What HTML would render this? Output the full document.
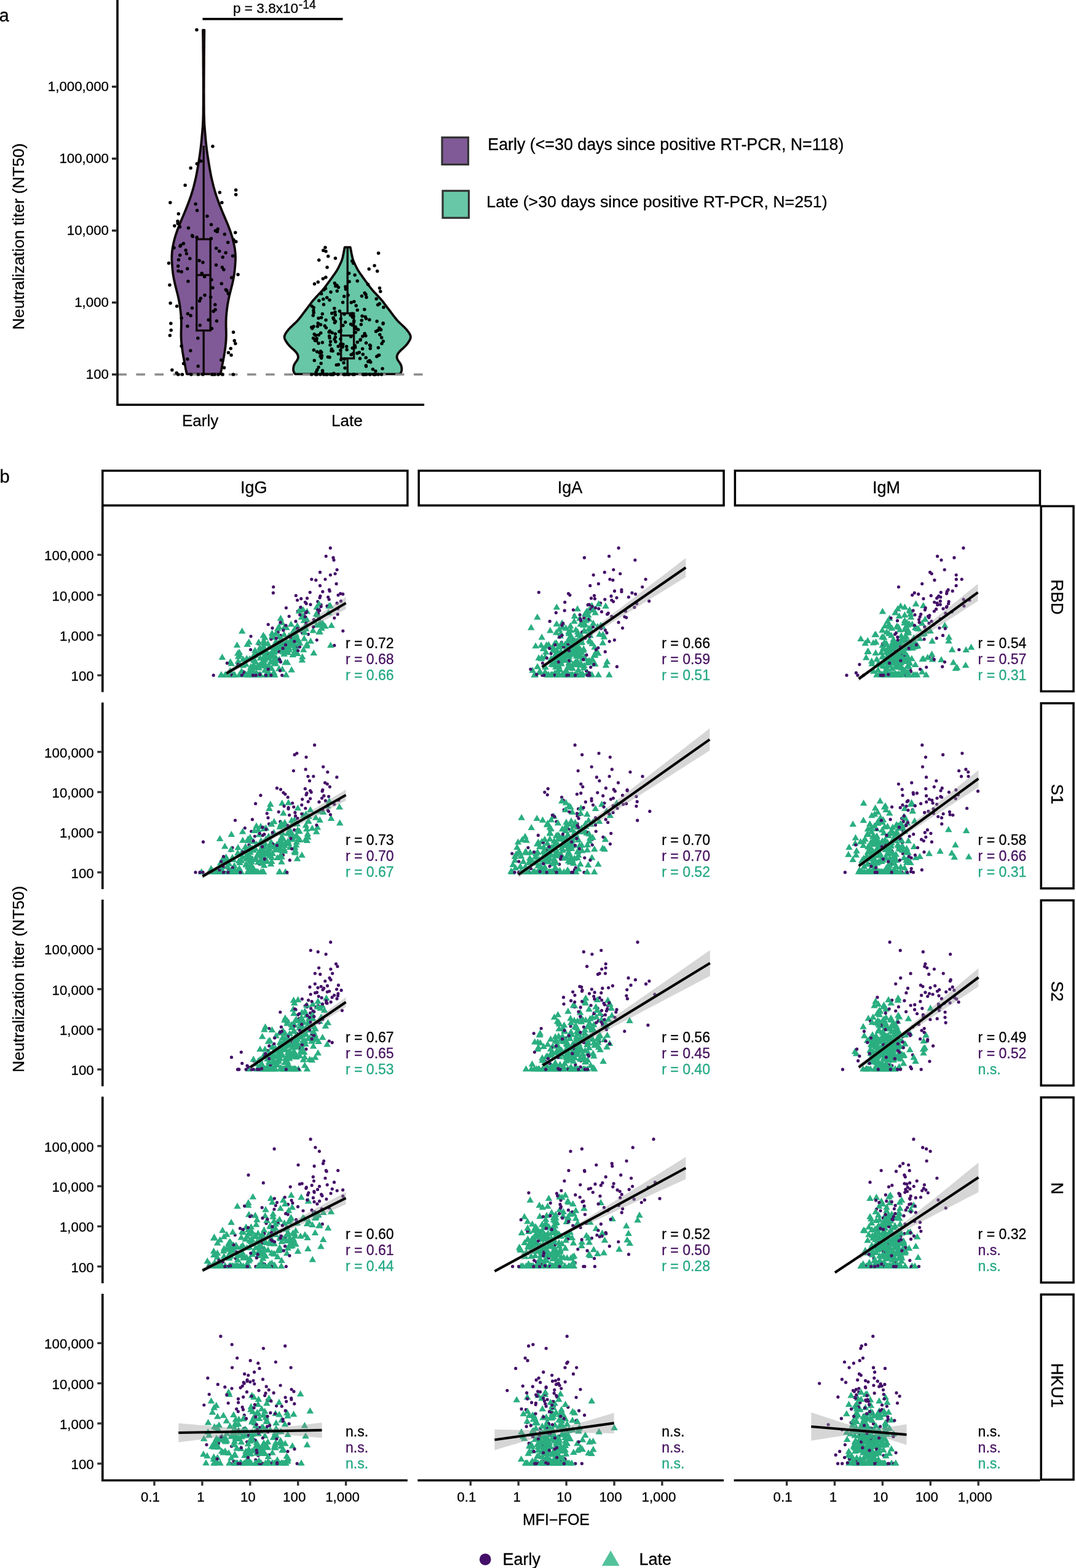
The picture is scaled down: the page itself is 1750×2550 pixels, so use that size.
<!DOCTYPE html>
<html><head><meta charset="utf-8"><title>Figure</title>
<style>html,body{margin:0;padding:0;background:#fff;}svg{display:block;}text{font-family:"Liberation Sans", Arial, Helvetica, sans-serif;stroke:#000;stroke-width:.3px;}</style>
</head><body>
<svg width="1750" height="2550" viewBox="0 0 1750 2550">
<rect width="1750" height="2550" fill="#fff"/>
<g id="pa">
<path d="M330 49 L330.1 56.1 L330.2 63.2 L330.3 70.2 L330.3 77.3 L330.4 84.4 L330.5 91.5 L330.5 98.6 L330.5 105.6 L330.6 112.7 L330.6 119.8 L330.7 126.9 L330.7 134 L330.7 141.1 L330.8 148.1 L330.7 155.2 L330.7 162.3 L330.7 169.4 L330.6 176.5 L330.6 183.5 L330.4 190.6 L330.2 197.7 L329.8 204.8 L329.2 211.9 L328.6 218.9 L328 226 L327.3 233.1 L326.5 240.2 L325.6 247.3 L324.6 254.3 L323.5 261.4 L322.3 268.5 L321.1 275.6 L319.8 282.7 L318.4 289.8 L316.7 296.8 L314.9 303.9 L312.9 311 L310.7 318.1 L308.2 325.2 L305.6 332.2 L302.8 339.3 L299.9 346.4 L296.9 353.5 L293.9 360.6 L291 367.6 L288.3 374.7 L285.9 381.8 L283.8 388.9 L282.1 396 L280.7 403.1 L279.8 410.1 L279.4 417.2 L279.5 424.3 L280 431.4 L280.6 438.5 L281.4 445.5 L282.6 452.6 L284.1 459.7 L285.8 466.8 L287.6 473.9 L289.4 480.9 L290.9 488 L292.2 495.1 L293.2 502.2 L294 509.3 L294.6 516.3 L294.8 523.4 L294.8 530.5 L294.6 537.6 L294.5 544.7 L294.7 551.8 L295.2 558.8 L296.1 565.9 L297.1 573 L298.3 580.1 L299.6 587.2 L301 594.2 L302.3 601.3 L303.9 608.4 L358.5 608.4 L360.1 601.3 L361.4 594.2 L362.8 587.2 L364.1 580.1 L365.3 573 L366.3 565.9 L367.2 558.8 L367.7 551.8 L367.9 544.7 L367.8 537.6 L367.6 530.5 L367.6 523.4 L367.8 516.3 L368.4 509.3 L369.2 502.2 L370.2 495.1 L371.5 488 L373 480.9 L374.8 473.9 L376.6 466.8 L378.3 459.7 L379.8 452.6 L381 445.5 L381.8 438.5 L382.4 431.4 L382.9 424.3 L383 417.2 L382.6 410.1 L381.7 403.1 L380.3 396 L378.6 388.9 L376.5 381.8 L374.1 374.7 L371.4 367.6 L368.5 360.6 L365.5 353.5 L362.5 346.4 L359.6 339.3 L356.8 332.2 L354.2 325.2 L351.7 318.1 L349.5 311 L347.5 303.9 L345.7 296.8 L344 289.8 L342.6 282.7 L341.3 275.6 L340.1 268.5 L338.9 261.4 L337.8 254.3 L336.8 247.3 L335.9 240.2 L335.1 233.1 L334.4 226 L333.8 218.9 L333.2 211.9 L332.6 204.8 L332.2 197.7 L332 190.6 L331.8 183.5 L331.8 176.5 L331.7 169.4 L331.7 162.3 L331.7 155.2 L331.6 148.1 L331.7 141.1 L331.7 134 L331.7 126.9 L331.8 119.8 L331.8 112.7 L331.9 105.6 L331.9 98.6 L331.9 91.5 L332 84.4 L332.1 77.3 L332.1 70.2 L332.2 63.2 L332.3 56.1 L332.4 49 Z" fill="#805a97" stroke="#100808" stroke-width="3.8" stroke-linejoin="round"/>
<path d="M560.7 402.2 L560.1 404.8 L559.6 407.4 L559.1 410 L558.6 412.6 L558 415.3 L557.5 417.9 L556.8 420.5 L556 423.1 L555 425.7 L553.8 428.3 L552.6 430.9 L551.3 433.5 L550 436.1 L548.6 438.7 L547 441.4 L545.2 444 L543.4 446.6 L541.5 449.2 L539.7 451.8 L537.8 454.4 L535.9 457 L534 459.6 L532.1 462.2 L530.1 464.8 L528.2 467.5 L526.1 470.1 L523.9 472.7 L521.6 475.3 L519.1 477.9 L516.6 480.5 L514.2 483.1 L511.8 485.7 L509.5 488.3 L507.4 490.9 L505.4 493.6 L503.4 496.2 L501.4 498.8 L499.5 501.4 L497.5 504 L495.5 506.6 L493.6 509.2 L491.6 511.8 L489.7 514.4 L487.6 517 L485.5 519.7 L483.1 522.3 L480.5 524.9 L477.7 527.5 L475 530.1 L472.3 532.7 L469.8 535.3 L467.6 537.9 L465.7 540.5 L464.1 543.1 L462.9 545.8 L462.5 548.4 L463.1 551 L464.3 553.6 L465.9 556.2 L467.7 558.8 L469.8 561.4 L472.3 564 L475.1 566.6 L478 569.2 L480.7 571.9 L482.8 574.5 L484.2 577.1 L484.9 579.7 L484.8 582.3 L483.7 584.9 L482.1 587.5 L480.2 590.1 L478.7 592.7 L477.7 595.3 L477.2 598 L477 600.6 L477.3 603.2 L478.1 605.8 L480.2 608.4 L650.2 608.4 L652.3 605.8 L653.1 603.2 L653.4 600.6 L653.2 598 L652.7 595.3 L651.7 592.7 L650.2 590.1 L648.3 587.5 L646.7 584.9 L645.6 582.3 L645.5 579.7 L646.2 577.1 L647.6 574.5 L649.7 571.9 L652.4 569.2 L655.3 566.6 L658.1 564 L660.6 561.4 L662.7 558.8 L664.5 556.2 L666.1 553.6 L667.3 551 L667.9 548.4 L667.5 545.8 L666.3 543.1 L664.7 540.5 L662.8 537.9 L660.6 535.3 L658.1 532.7 L655.4 530.1 L652.7 527.5 L649.9 524.9 L647.3 522.3 L644.9 519.7 L642.8 517 L640.7 514.4 L638.8 511.8 L636.8 509.2 L634.9 506.6 L632.9 504 L630.9 501.4 L629 498.8 L627 496.2 L625 493.6 L623 490.9 L620.9 488.3 L618.6 485.7 L616.2 483.1 L613.8 480.5 L611.3 477.9 L608.8 475.3 L606.5 472.7 L604.3 470.1 L602.2 467.5 L600.3 464.8 L598.3 462.2 L596.4 459.6 L594.5 457 L592.6 454.4 L590.7 451.8 L588.9 449.2 L587 446.6 L585.2 444 L583.4 441.4 L581.8 438.7 L580.4 436.1 L579.1 433.5 L577.8 430.9 L576.6 428.3 L575.4 425.7 L574.4 423.1 L573.6 420.5 L572.9 417.9 L572.4 415.3 L571.8 412.6 L571.3 410 L570.8 407.4 L570.3 404.8 L569.7 402.2 Z" fill="#68c7a7" stroke="#100808" stroke-width="3.8" stroke-linejoin="round"/>
<path d="M331.2 237 V389 M331.2 537.5 V609" stroke="#100808" stroke-width="3.4" fill="none"/>
<rect x="319.8" y="389" width="22.4" height="148.5" fill="none" stroke="#100808" stroke-width="3.4"/>
<path d="M319.8 447.3 H342.2" stroke="#100808" stroke-width="3.4"/>
<path d="M565.2 402.5 V509.5 M565.2 582.8 V609" stroke="#100808" stroke-width="3.4" fill="none"/>
<rect x="554.6" y="509.5" width="21" height="73.3" fill="none" stroke="#100808" stroke-width="3.4"/>
<path d="M554.6 545.7 H575.6" stroke="#100808" stroke-width="3.4"/>
<path d="M191.3 609 H690" stroke="#8c8c8c" stroke-width="3.6" stroke-dasharray="14.6 15.5"/>
<path d="M319.7 609a2.75 2.75 0 1 0 5.5 0a2.75 2.75 0 1 0 -5.5 0zM359.4 609a2.75 2.75 0 1 0 5.5 0a2.75 2.75 0 1 0 -5.5 0zM352.3 609a2.75 2.75 0 1 0 5.5 0a2.75 2.75 0 1 0 -5.5 0zM293.7 609a2.75 2.75 0 1 0 5.5 0a2.75 2.75 0 1 0 -5.5 0zM287.1 609a2.75 2.75 0 1 0 5.5 0a2.75 2.75 0 1 0 -5.5 0zM308.1 609a2.75 2.75 0 1 0 5.5 0a2.75 2.75 0 1 0 -5.5 0zM359 609a2.75 2.75 0 1 0 5.5 0a2.75 2.75 0 1 0 -5.5 0zM327.1 609a2.75 2.75 0 1 0 5.5 0a2.75 2.75 0 1 0 -5.5 0zM376.7 609a2.75 2.75 0 1 0 5.5 0a2.75 2.75 0 1 0 -5.5 0zM346.3 609a2.75 2.75 0 1 0 5.5 0a2.75 2.75 0 1 0 -5.5 0zM342.2 609a2.75 2.75 0 1 0 5.5 0a2.75 2.75 0 1 0 -5.5 0zM359 609a2.75 2.75 0 1 0 5.5 0a2.75 2.75 0 1 0 -5.5 0zM357 585.5a2.75 2.75 0 1 0 5.5 0a2.75 2.75 0 1 0 -5.5 0zM310.6 384.5a2.75 2.75 0 1 0 5.5 0a2.75 2.75 0 1 0 -5.5 0zM300.7 412.6a2.75 2.75 0 1 0 5.5 0a2.75 2.75 0 1 0 -5.5 0zM321.3 423.8a2.75 2.75 0 1 0 5.5 0a2.75 2.75 0 1 0 -5.5 0zM327.2 426.7a2.75 2.75 0 1 0 5.5 0a2.75 2.75 0 1 0 -5.5 0zM287.6 347.8a2.75 2.75 0 1 0 5.5 0a2.75 2.75 0 1 0 -5.5 0zM321.8 489.4a2.75 2.75 0 1 0 5.5 0a2.75 2.75 0 1 0 -5.5 0zM344.4 506.2a2.75 2.75 0 1 0 5.5 0a2.75 2.75 0 1 0 -5.5 0zM286.9 432.8a2.75 2.75 0 1 0 5.5 0a2.75 2.75 0 1 0 -5.5 0zM287.2 440.7a2.75 2.75 0 1 0 5.5 0a2.75 2.75 0 1 0 -5.5 0zM291.3 398.7a2.75 2.75 0 1 0 5.5 0a2.75 2.75 0 1 0 -5.5 0zM303.7 370.8a2.75 2.75 0 1 0 5.5 0a2.75 2.75 0 1 0 -5.5 0zM381.1 393a2.75 2.75 0 1 0 5.5 0a2.75 2.75 0 1 0 -5.5 0zM274.4 492.9a2.75 2.75 0 1 0 5.5 0a2.75 2.75 0 1 0 -5.5 0zM292.4 562.7a2.75 2.75 0 1 0 5.5 0a2.75 2.75 0 1 0 -5.5 0zM290.3 400.2a2.75 2.75 0 1 0 5.5 0a2.75 2.75 0 1 0 -5.5 0zM325.5 444.5a2.75 2.75 0 1 0 5.5 0a2.75 2.75 0 1 0 -5.5 0zM273.2 463.5a2.75 2.75 0 1 0 5.5 0a2.75 2.75 0 1 0 -5.5 0zM323.7 485.3a2.75 2.75 0 1 0 5.5 0a2.75 2.75 0 1 0 -5.5 0zM290 415a2.75 2.75 0 1 0 5.5 0a2.75 2.75 0 1 0 -5.5 0zM302.2 530.5a2.75 2.75 0 1 0 5.5 0a2.75 2.75 0 1 0 -5.5 0zM361.8 598a2.75 2.75 0 1 0 5.5 0a2.75 2.75 0 1 0 -5.5 0zM292.4 442a2.75 2.75 0 1 0 5.5 0a2.75 2.75 0 1 0 -5.5 0zM341.8 534.3a2.75 2.75 0 1 0 5.5 0a2.75 2.75 0 1 0 -5.5 0zM317.8 342.3a2.75 2.75 0 1 0 5.5 0a2.75 2.75 0 1 0 -5.5 0zM319.1 549.9a2.75 2.75 0 1 0 5.5 0a2.75 2.75 0 1 0 -5.5 0zM364.6 471.2a2.75 2.75 0 1 0 5.5 0a2.75 2.75 0 1 0 -5.5 0zM289.8 369a2.75 2.75 0 1 0 5.5 0a2.75 2.75 0 1 0 -5.5 0zM376.8 540.3a2.75 2.75 0 1 0 5.5 0a2.75 2.75 0 1 0 -5.5 0zM373.3 577.5a2.75 2.75 0 1 0 5.5 0a2.75 2.75 0 1 0 -5.5 0zM347.6 375.3a2.75 2.75 0 1 0 5.5 0a2.75 2.75 0 1 0 -5.5 0zM277.1 601.7a2.75 2.75 0 1 0 5.5 0a2.75 2.75 0 1 0 -5.5 0zM347.1 495.4a2.75 2.75 0 1 0 5.5 0a2.75 2.75 0 1 0 -5.5 0zM339.9 483.3a2.75 2.75 0 1 0 5.5 0a2.75 2.75 0 1 0 -5.5 0zM359.5 418.3a2.75 2.75 0 1 0 5.5 0a2.75 2.75 0 1 0 -5.5 0zM295.8 591.2a2.75 2.75 0 1 0 5.5 0a2.75 2.75 0 1 0 -5.5 0zM380.1 558.7a2.75 2.75 0 1 0 5.5 0a2.75 2.75 0 1 0 -5.5 0zM372.5 566.7a2.75 2.75 0 1 0 5.5 0a2.75 2.75 0 1 0 -5.5 0zM284.5 606.6a2.75 2.75 0 1 0 5.5 0a2.75 2.75 0 1 0 -5.5 0zM307.4 513.2a2.75 2.75 0 1 0 5.5 0a2.75 2.75 0 1 0 -5.5 0zM275.1 526.1a2.75 2.75 0 1 0 5.5 0a2.75 2.75 0 1 0 -5.5 0zM366.2 472.8a2.75 2.75 0 1 0 5.5 0a2.75 2.75 0 1 0 -5.5 0zM375.8 416.2a2.75 2.75 0 1 0 5.5 0a2.75 2.75 0 1 0 -5.5 0zM384.3 446.5a2.75 2.75 0 1 0 5.5 0a2.75 2.75 0 1 0 -5.5 0zM341.2 454.9a2.75 2.75 0 1 0 5.5 0a2.75 2.75 0 1 0 -5.5 0zM347.4 503.8a2.75 2.75 0 1 0 5.5 0a2.75 2.75 0 1 0 -5.5 0zM348.8 431a2.75 2.75 0 1 0 5.5 0a2.75 2.75 0 1 0 -5.5 0zM336.4 520.3a2.75 2.75 0 1 0 5.5 0a2.75 2.75 0 1 0 -5.5 0zM380 378.2a2.75 2.75 0 1 0 5.5 0a2.75 2.75 0 1 0 -5.5 0zM340.7 387.9a2.75 2.75 0 1 0 5.5 0a2.75 2.75 0 1 0 -5.5 0zM309.7 501a2.75 2.75 0 1 0 5.5 0a2.75 2.75 0 1 0 -5.5 0zM329.9 449.9a2.75 2.75 0 1 0 5.5 0a2.75 2.75 0 1 0 -5.5 0zM273.6 545.6a2.75 2.75 0 1 0 5.5 0a2.75 2.75 0 1 0 -5.5 0zM354 408.6a2.75 2.75 0 1 0 5.5 0a2.75 2.75 0 1 0 -5.5 0zM350.6 376.8a2.75 2.75 0 1 0 5.5 0a2.75 2.75 0 1 0 -5.5 0zM319.4 595.5a2.75 2.75 0 1 0 5.5 0a2.75 2.75 0 1 0 -5.5 0zM368.5 477.6a2.75 2.75 0 1 0 5.5 0a2.75 2.75 0 1 0 -5.5 0zM357.6 461.3a2.75 2.75 0 1 0 5.5 0a2.75 2.75 0 1 0 -5.5 0zM309.8 383.1a2.75 2.75 0 1 0 5.5 0a2.75 2.75 0 1 0 -5.5 0zM280.3 402.9a2.75 2.75 0 1 0 5.5 0a2.75 2.75 0 1 0 -5.5 0zM286.5 363.6a2.75 2.75 0 1 0 5.5 0a2.75 2.75 0 1 0 -5.5 0zM292.5 517.2a2.75 2.75 0 1 0 5.5 0a2.75 2.75 0 1 0 -5.5 0zM306.1 420.4a2.75 2.75 0 1 0 5.5 0a2.75 2.75 0 1 0 -5.5 0zM322.5 529.1a2.75 2.75 0 1 0 5.5 0a2.75 2.75 0 1 0 -5.5 0zM377.2 390a2.75 2.75 0 1 0 5.5 0a2.75 2.75 0 1 0 -5.5 0zM303.2 457.5a2.75 2.75 0 1 0 5.5 0a2.75 2.75 0 1 0 -5.5 0zM373.9 451.6a2.75 2.75 0 1 0 5.5 0a2.75 2.75 0 1 0 -5.5 0zM349 403.8a2.75 2.75 0 1 0 5.5 0a2.75 2.75 0 1 0 -5.5 0zM368.7 573.5a2.75 2.75 0 1 0 5.5 0a2.75 2.75 0 1 0 -5.5 0zM317.4 386a2.75 2.75 0 1 0 5.5 0a2.75 2.75 0 1 0 -5.5 0zM271.8 428.1a2.75 2.75 0 1 0 5.5 0a2.75 2.75 0 1 0 -5.5 0zM361.2 438.4a2.75 2.75 0 1 0 5.5 0a2.75 2.75 0 1 0 -5.5 0zM299.4 407a2.75 2.75 0 1 0 5.5 0a2.75 2.75 0 1 0 -5.5 0zM287.7 422.4a2.75 2.75 0 1 0 5.5 0a2.75 2.75 0 1 0 -5.5 0zM362.6 381.1a2.75 2.75 0 1 0 5.5 0a2.75 2.75 0 1 0 -5.5 0zM349.7 522.1a2.75 2.75 0 1 0 5.5 0a2.75 2.75 0 1 0 -5.5 0zM295.7 395.9a2.75 2.75 0 1 0 5.5 0a2.75 2.75 0 1 0 -5.5 0zM302 437.1a2.75 2.75 0 1 0 5.5 0a2.75 2.75 0 1 0 -5.5 0zM378.5 554.1a2.75 2.75 0 1 0 5.5 0a2.75 2.75 0 1 0 -5.5 0zM302.1 583.9a2.75 2.75 0 1 0 5.5 0a2.75 2.75 0 1 0 -5.5 0zM351.5 372.4a2.75 2.75 0 1 0 5.5 0a2.75 2.75 0 1 0 -5.5 0zM286.2 359.7a2.75 2.75 0 1 0 5.5 0a2.75 2.75 0 1 0 -5.5 0zM364.4 410.9a2.75 2.75 0 1 0 5.5 0a2.75 2.75 0 1 0 -5.5 0zM284.9 497.9a2.75 2.75 0 1 0 5.5 0a2.75 2.75 0 1 0 -5.5 0zM330.3 479.9a2.75 2.75 0 1 0 5.5 0a2.75 2.75 0 1 0 -5.5 0zM275.5 537a2.75 2.75 0 1 0 5.5 0a2.75 2.75 0 1 0 -5.5 0zM334.2 351.5a2.75 2.75 0 1 0 5.5 0a2.75 2.75 0 1 0 -5.5 0zM368 394.2a2.75 2.75 0 1 0 5.5 0a2.75 2.75 0 1 0 -5.5 0zM281.1 367.3a2.75 2.75 0 1 0 5.5 0a2.75 2.75 0 1 0 -5.5 0zM302.7 510.2a2.75 2.75 0 1 0 5.5 0a2.75 2.75 0 1 0 -5.5 0zM358.6 434.7a2.75 2.75 0 1 0 5.5 0a2.75 2.75 0 1 0 -5.5 0zM340.8 365.3a2.75 2.75 0 1 0 5.5 0a2.75 2.75 0 1 0 -5.5 0zM307.1 570.3a2.75 2.75 0 1 0 5.5 0a2.75 2.75 0 1 0 -5.5 0zM343.1 467.9a2.75 2.75 0 1 0 5.5 0a2.75 2.75 0 1 0 -5.5 0zM317.2 48.6a2.75 2.75 0 1 0 5.5 0a2.75 2.75 0 1 0 -5.5 0zM343.2 238.1a2.75 2.75 0 1 0 5.5 0a2.75 2.75 0 1 0 -5.5 0zM324.1 262.1a2.75 2.75 0 1 0 5.5 0a2.75 2.75 0 1 0 -5.5 0zM317.6 266.2a2.75 2.75 0 1 0 5.5 0a2.75 2.75 0 1 0 -5.5 0zM307.4 273.2a2.75 2.75 0 1 0 5.5 0a2.75 2.75 0 1 0 -5.5 0zM298.4 301.3a2.75 2.75 0 1 0 5.5 0a2.75 2.75 0 1 0 -5.5 0zM380.9 308.9a2.75 2.75 0 1 0 5.5 0a2.75 2.75 0 1 0 -5.5 0zM354.6 313a2.75 2.75 0 1 0 5.5 0a2.75 2.75 0 1 0 -5.5 0zM380.9 316.5a2.75 2.75 0 1 0 5.5 0a2.75 2.75 0 1 0 -5.5 0zM274.1 329.4a2.75 2.75 0 1 0 5.5 0a2.75 2.75 0 1 0 -5.5 0zM358.1 329.4a2.75 2.75 0 1 0 5.5 0a2.75 2.75 0 1 0 -5.5 0zM315.4 331.7a2.75 2.75 0 1 0 5.5 0a2.75 2.75 0 1 0 -5.5 0zM587.7 609a2.75 2.75 0 1 0 5.5 0a2.75 2.75 0 1 0 -5.5 0zM527.6 609a2.75 2.75 0 1 0 5.5 0a2.75 2.75 0 1 0 -5.5 0zM589.7 609a2.75 2.75 0 1 0 5.5 0a2.75 2.75 0 1 0 -5.5 0zM536.3 609a2.75 2.75 0 1 0 5.5 0a2.75 2.75 0 1 0 -5.5 0zM558.8 609a2.75 2.75 0 1 0 5.5 0a2.75 2.75 0 1 0 -5.5 0zM604.9 609a2.75 2.75 0 1 0 5.5 0a2.75 2.75 0 1 0 -5.5 0zM556.3 609a2.75 2.75 0 1 0 5.5 0a2.75 2.75 0 1 0 -5.5 0zM537.4 609a2.75 2.75 0 1 0 5.5 0a2.75 2.75 0 1 0 -5.5 0zM539.5 609a2.75 2.75 0 1 0 5.5 0a2.75 2.75 0 1 0 -5.5 0zM512.5 609a2.75 2.75 0 1 0 5.5 0a2.75 2.75 0 1 0 -5.5 0zM529.4 609a2.75 2.75 0 1 0 5.5 0a2.75 2.75 0 1 0 -5.5 0zM535.4 609a2.75 2.75 0 1 0 5.5 0a2.75 2.75 0 1 0 -5.5 0zM523.9 609a2.75 2.75 0 1 0 5.5 0a2.75 2.75 0 1 0 -5.5 0zM510.9 609a2.75 2.75 0 1 0 5.5 0a2.75 2.75 0 1 0 -5.5 0zM558.4 609a2.75 2.75 0 1 0 5.5 0a2.75 2.75 0 1 0 -5.5 0zM528.8 609a2.75 2.75 0 1 0 5.5 0a2.75 2.75 0 1 0 -5.5 0zM590.6 609a2.75 2.75 0 1 0 5.5 0a2.75 2.75 0 1 0 -5.5 0zM612.3 609a2.75 2.75 0 1 0 5.5 0a2.75 2.75 0 1 0 -5.5 0zM535.7 609a2.75 2.75 0 1 0 5.5 0a2.75 2.75 0 1 0 -5.5 0zM571 609a2.75 2.75 0 1 0 5.5 0a2.75 2.75 0 1 0 -5.5 0zM563.2 609a2.75 2.75 0 1 0 5.5 0a2.75 2.75 0 1 0 -5.5 0zM512.3 609a2.75 2.75 0 1 0 5.5 0a2.75 2.75 0 1 0 -5.5 0zM518.2 609a2.75 2.75 0 1 0 5.5 0a2.75 2.75 0 1 0 -5.5 0zM607.9 609a2.75 2.75 0 1 0 5.5 0a2.75 2.75 0 1 0 -5.5 0zM559.4 609a2.75 2.75 0 1 0 5.5 0a2.75 2.75 0 1 0 -5.5 0zM598.4 609a2.75 2.75 0 1 0 5.5 0a2.75 2.75 0 1 0 -5.5 0zM511.3 609a2.75 2.75 0 1 0 5.5 0a2.75 2.75 0 1 0 -5.5 0zM573.6 609a2.75 2.75 0 1 0 5.5 0a2.75 2.75 0 1 0 -5.5 0zM605.6 609a2.75 2.75 0 1 0 5.5 0a2.75 2.75 0 1 0 -5.5 0zM605.8 609a2.75 2.75 0 1 0 5.5 0a2.75 2.75 0 1 0 -5.5 0zM504.1 609a2.75 2.75 0 1 0 5.5 0a2.75 2.75 0 1 0 -5.5 0zM565 609a2.75 2.75 0 1 0 5.5 0a2.75 2.75 0 1 0 -5.5 0zM547 609a2.75 2.75 0 1 0 5.5 0a2.75 2.75 0 1 0 -5.5 0zM593.1 609a2.75 2.75 0 1 0 5.5 0a2.75 2.75 0 1 0 -5.5 0zM512.1 609a2.75 2.75 0 1 0 5.5 0a2.75 2.75 0 1 0 -5.5 0zM534.7 609a2.75 2.75 0 1 0 5.5 0a2.75 2.75 0 1 0 -5.5 0zM599.3 609a2.75 2.75 0 1 0 5.5 0a2.75 2.75 0 1 0 -5.5 0zM558.9 609a2.75 2.75 0 1 0 5.5 0a2.75 2.75 0 1 0 -5.5 0zM556.9 609a2.75 2.75 0 1 0 5.5 0a2.75 2.75 0 1 0 -5.5 0zM617.7 609a2.75 2.75 0 1 0 5.5 0a2.75 2.75 0 1 0 -5.5 0zM541.2 551.8a2.75 2.75 0 1 0 5.5 0a2.75 2.75 0 1 0 -5.5 0zM508.4 543.5a2.75 2.75 0 1 0 5.5 0a2.75 2.75 0 1 0 -5.5 0zM549.7 506.1a2.75 2.75 0 1 0 5.5 0a2.75 2.75 0 1 0 -5.5 0zM521.6 557.1a2.75 2.75 0 1 0 5.5 0a2.75 2.75 0 1 0 -5.5 0zM513.1 601.5a2.75 2.75 0 1 0 5.5 0a2.75 2.75 0 1 0 -5.5 0zM570.5 566a2.75 2.75 0 1 0 5.5 0a2.75 2.75 0 1 0 -5.5 0zM616 474.1a2.75 2.75 0 1 0 5.5 0a2.75 2.75 0 1 0 -5.5 0zM571.8 427.9a2.75 2.75 0 1 0 5.5 0a2.75 2.75 0 1 0 -5.5 0zM579.8 535.9a2.75 2.75 0 1 0 5.5 0a2.75 2.75 0 1 0 -5.5 0zM541.6 460.5a2.75 2.75 0 1 0 5.5 0a2.75 2.75 0 1 0 -5.5 0zM570.8 516a2.75 2.75 0 1 0 5.5 0a2.75 2.75 0 1 0 -5.5 0zM592.2 479.1a2.75 2.75 0 1 0 5.5 0a2.75 2.75 0 1 0 -5.5 0zM573 521.9a2.75 2.75 0 1 0 5.5 0a2.75 2.75 0 1 0 -5.5 0zM598.2 586.6a2.75 2.75 0 1 0 5.5 0a2.75 2.75 0 1 0 -5.5 0zM568.4 492.1a2.75 2.75 0 1 0 5.5 0a2.75 2.75 0 1 0 -5.5 0zM526.8 469.2a2.75 2.75 0 1 0 5.5 0a2.75 2.75 0 1 0 -5.5 0zM572.2 514.6a2.75 2.75 0 1 0 5.5 0a2.75 2.75 0 1 0 -5.5 0zM561.4 568.7a2.75 2.75 0 1 0 5.5 0a2.75 2.75 0 1 0 -5.5 0zM523 407.2a2.75 2.75 0 1 0 5.5 0a2.75 2.75 0 1 0 -5.5 0zM576.5 534.5a2.75 2.75 0 1 0 5.5 0a2.75 2.75 0 1 0 -5.5 0zM599.8 562.5a2.75 2.75 0 1 0 5.5 0a2.75 2.75 0 1 0 -5.5 0zM519.4 591.1a2.75 2.75 0 1 0 5.5 0a2.75 2.75 0 1 0 -5.5 0zM567.8 527.2a2.75 2.75 0 1 0 5.5 0a2.75 2.75 0 1 0 -5.5 0zM590 503.2a2.75 2.75 0 1 0 5.5 0a2.75 2.75 0 1 0 -5.5 0zM551 569.8a2.75 2.75 0 1 0 5.5 0a2.75 2.75 0 1 0 -5.5 0zM535.3 475.1a2.75 2.75 0 1 0 5.5 0a2.75 2.75 0 1 0 -5.5 0zM547.4 563.2a2.75 2.75 0 1 0 5.5 0a2.75 2.75 0 1 0 -5.5 0zM567.4 512.4a2.75 2.75 0 1 0 5.5 0a2.75 2.75 0 1 0 -5.5 0zM584.5 527.7a2.75 2.75 0 1 0 5.5 0a2.75 2.75 0 1 0 -5.5 0zM569.4 513.5a2.75 2.75 0 1 0 5.5 0a2.75 2.75 0 1 0 -5.5 0zM516.1 489a2.75 2.75 0 1 0 5.5 0a2.75 2.75 0 1 0 -5.5 0zM600 588.9a2.75 2.75 0 1 0 5.5 0a2.75 2.75 0 1 0 -5.5 0zM612.5 565.4a2.75 2.75 0 1 0 5.5 0a2.75 2.75 0 1 0 -5.5 0zM515.4 597.2a2.75 2.75 0 1 0 5.5 0a2.75 2.75 0 1 0 -5.5 0zM532.9 546.5a2.75 2.75 0 1 0 5.5 0a2.75 2.75 0 1 0 -5.5 0zM523.9 471.4a2.75 2.75 0 1 0 5.5 0a2.75 2.75 0 1 0 -5.5 0zM603.6 600.4a2.75 2.75 0 1 0 5.5 0a2.75 2.75 0 1 0 -5.5 0zM610.9 441a2.75 2.75 0 1 0 5.5 0a2.75 2.75 0 1 0 -5.5 0zM508.7 461.7a2.75 2.75 0 1 0 5.5 0a2.75 2.75 0 1 0 -5.5 0zM542.7 419.9a2.75 2.75 0 1 0 5.5 0a2.75 2.75 0 1 0 -5.5 0zM526.2 402.4a2.75 2.75 0 1 0 5.5 0a2.75 2.75 0 1 0 -5.5 0zM558.9 524.1a2.75 2.75 0 1 0 5.5 0a2.75 2.75 0 1 0 -5.5 0zM612.2 578.2a2.75 2.75 0 1 0 5.5 0a2.75 2.75 0 1 0 -5.5 0zM511.7 608.5a2.75 2.75 0 1 0 5.5 0a2.75 2.75 0 1 0 -5.5 0zM523.7 495.2a2.75 2.75 0 1 0 5.5 0a2.75 2.75 0 1 0 -5.5 0zM560.9 563.6a2.75 2.75 0 1 0 5.5 0a2.75 2.75 0 1 0 -5.5 0zM565.3 458a2.75 2.75 0 1 0 5.5 0a2.75 2.75 0 1 0 -5.5 0zM591.4 515.2a2.75 2.75 0 1 0 5.5 0a2.75 2.75 0 1 0 -5.5 0zM555.1 560.1a2.75 2.75 0 1 0 5.5 0a2.75 2.75 0 1 0 -5.5 0zM520.1 572.9a2.75 2.75 0 1 0 5.5 0a2.75 2.75 0 1 0 -5.5 0zM545.2 464.1a2.75 2.75 0 1 0 5.5 0a2.75 2.75 0 1 0 -5.5 0zM619.3 599.6a2.75 2.75 0 1 0 5.5 0a2.75 2.75 0 1 0 -5.5 0zM592 545.9a2.75 2.75 0 1 0 5.5 0a2.75 2.75 0 1 0 -5.5 0zM517.2 574a2.75 2.75 0 1 0 5.5 0a2.75 2.75 0 1 0 -5.5 0zM598.8 561.3a2.75 2.75 0 1 0 5.5 0a2.75 2.75 0 1 0 -5.5 0zM540.1 519.2a2.75 2.75 0 1 0 5.5 0a2.75 2.75 0 1 0 -5.5 0zM595.7 462.6a2.75 2.75 0 1 0 5.5 0a2.75 2.75 0 1 0 -5.5 0zM505 534a2.75 2.75 0 1 0 5.5 0a2.75 2.75 0 1 0 -5.5 0zM606.3 431.9a2.75 2.75 0 1 0 5.5 0a2.75 2.75 0 1 0 -5.5 0zM522.6 453.2a2.75 2.75 0 1 0 5.5 0a2.75 2.75 0 1 0 -5.5 0zM557.2 511a2.75 2.75 0 1 0 5.5 0a2.75 2.75 0 1 0 -5.5 0zM581.5 573.2a2.75 2.75 0 1 0 5.5 0a2.75 2.75 0 1 0 -5.5 0zM563.4 479.9a2.75 2.75 0 1 0 5.5 0a2.75 2.75 0 1 0 -5.5 0zM523 486.6a2.75 2.75 0 1 0 5.5 0a2.75 2.75 0 1 0 -5.5 0zM519.9 516.4a2.75 2.75 0 1 0 5.5 0a2.75 2.75 0 1 0 -5.5 0zM537 509.4a2.75 2.75 0 1 0 5.5 0a2.75 2.75 0 1 0 -5.5 0zM509.6 553.7a2.75 2.75 0 1 0 5.5 0a2.75 2.75 0 1 0 -5.5 0zM529 484.1a2.75 2.75 0 1 0 5.5 0a2.75 2.75 0 1 0 -5.5 0zM518.8 528.1a2.75 2.75 0 1 0 5.5 0a2.75 2.75 0 1 0 -5.5 0zM558.3 598.6a2.75 2.75 0 1 0 5.5 0a2.75 2.75 0 1 0 -5.5 0zM545.5 473.3a2.75 2.75 0 1 0 5.5 0a2.75 2.75 0 1 0 -5.5 0zM572.7 523.4a2.75 2.75 0 1 0 5.5 0a2.75 2.75 0 1 0 -5.5 0zM536.6 567.8a2.75 2.75 0 1 0 5.5 0a2.75 2.75 0 1 0 -5.5 0zM507.5 500.2a2.75 2.75 0 1 0 5.5 0a2.75 2.75 0 1 0 -5.5 0zM542.5 542.9a2.75 2.75 0 1 0 5.5 0a2.75 2.75 0 1 0 -5.5 0zM592.6 518.1a2.75 2.75 0 1 0 5.5 0a2.75 2.75 0 1 0 -5.5 0zM533.6 538.3a2.75 2.75 0 1 0 5.5 0a2.75 2.75 0 1 0 -5.5 0zM551.2 551.3a2.75 2.75 0 1 0 5.5 0a2.75 2.75 0 1 0 -5.5 0zM592.5 594.6a2.75 2.75 0 1 0 5.5 0a2.75 2.75 0 1 0 -5.5 0zM551.4 518.6a2.75 2.75 0 1 0 5.5 0a2.75 2.75 0 1 0 -5.5 0zM608.1 603.5a2.75 2.75 0 1 0 5.5 0a2.75 2.75 0 1 0 -5.5 0zM611.8 537.2a2.75 2.75 0 1 0 5.5 0a2.75 2.75 0 1 0 -5.5 0zM540.1 607.2a2.75 2.75 0 1 0 5.5 0a2.75 2.75 0 1 0 -5.5 0zM590.3 542.5a2.75 2.75 0 1 0 5.5 0a2.75 2.75 0 1 0 -5.5 0zM533.3 488a2.75 2.75 0 1 0 5.5 0a2.75 2.75 0 1 0 -5.5 0zM519.9 477.7a2.75 2.75 0 1 0 5.5 0a2.75 2.75 0 1 0 -5.5 0zM555.1 529.3a2.75 2.75 0 1 0 5.5 0a2.75 2.75 0 1 0 -5.5 0zM574.5 561.9a2.75 2.75 0 1 0 5.5 0a2.75 2.75 0 1 0 -5.5 0zM613.8 577.5a2.75 2.75 0 1 0 5.5 0a2.75 2.75 0 1 0 -5.5 0zM520.7 578.6a2.75 2.75 0 1 0 5.5 0a2.75 2.75 0 1 0 -5.5 0zM587.5 576.2a2.75 2.75 0 1 0 5.5 0a2.75 2.75 0 1 0 -5.5 0zM559.6 470.3a2.75 2.75 0 1 0 5.5 0a2.75 2.75 0 1 0 -5.5 0zM519 541.6a2.75 2.75 0 1 0 5.5 0a2.75 2.75 0 1 0 -5.5 0zM618.2 558.8a2.75 2.75 0 1 0 5.5 0a2.75 2.75 0 1 0 -5.5 0zM585.5 521a2.75 2.75 0 1 0 5.5 0a2.75 2.75 0 1 0 -5.5 0zM518.7 571.3a2.75 2.75 0 1 0 5.5 0a2.75 2.75 0 1 0 -5.5 0zM610.3 522.5a2.75 2.75 0 1 0 5.5 0a2.75 2.75 0 1 0 -5.5 0zM515.6 544.8a2.75 2.75 0 1 0 5.5 0a2.75 2.75 0 1 0 -5.5 0zM514.4 525.7a2.75 2.75 0 1 0 5.5 0a2.75 2.75 0 1 0 -5.5 0zM542.6 511.9a2.75 2.75 0 1 0 5.5 0a2.75 2.75 0 1 0 -5.5 0zM614.1 533.6a2.75 2.75 0 1 0 5.5 0a2.75 2.75 0 1 0 -5.5 0zM507.4 531.1a2.75 2.75 0 1 0 5.5 0a2.75 2.75 0 1 0 -5.5 0zM611.8 495.7a2.75 2.75 0 1 0 5.5 0a2.75 2.75 0 1 0 -5.5 0zM575.6 540.6a2.75 2.75 0 1 0 5.5 0a2.75 2.75 0 1 0 -5.5 0zM511.4 605.2a2.75 2.75 0 1 0 5.5 0a2.75 2.75 0 1 0 -5.5 0zM570.5 528.7a2.75 2.75 0 1 0 5.5 0a2.75 2.75 0 1 0 -5.5 0zM557.6 583.9a2.75 2.75 0 1 0 5.5 0a2.75 2.75 0 1 0 -5.5 0zM570 424.6a2.75 2.75 0 1 0 5.5 0a2.75 2.75 0 1 0 -5.5 0zM590.4 476.6a2.75 2.75 0 1 0 5.5 0a2.75 2.75 0 1 0 -5.5 0zM583.5 552.2a2.75 2.75 0 1 0 5.5 0a2.75 2.75 0 1 0 -5.5 0zM621.1 499.7a2.75 2.75 0 1 0 5.5 0a2.75 2.75 0 1 0 -5.5 0zM521.9 606a2.75 2.75 0 1 0 5.5 0a2.75 2.75 0 1 0 -5.5 0zM599.4 566.8a2.75 2.75 0 1 0 5.5 0a2.75 2.75 0 1 0 -5.5 0zM552 585a2.75 2.75 0 1 0 5.5 0a2.75 2.75 0 1 0 -5.5 0zM595.9 588.1a2.75 2.75 0 1 0 5.5 0a2.75 2.75 0 1 0 -5.5 0zM608.7 538.9a2.75 2.75 0 1 0 5.5 0a2.75 2.75 0 1 0 -5.5 0zM620.5 555a2.75 2.75 0 1 0 5.5 0a2.75 2.75 0 1 0 -5.5 0zM534.8 555.5a2.75 2.75 0 1 0 5.5 0a2.75 2.75 0 1 0 -5.5 0zM556.9 482a2.75 2.75 0 1 0 5.5 0a2.75 2.75 0 1 0 -5.5 0zM614.7 468.5a2.75 2.75 0 1 0 5.5 0a2.75 2.75 0 1 0 -5.5 0zM615 544.2a2.75 2.75 0 1 0 5.5 0a2.75 2.75 0 1 0 -5.5 0zM547.5 575.5a2.75 2.75 0 1 0 5.5 0a2.75 2.75 0 1 0 -5.5 0zM614.4 494a2.75 2.75 0 1 0 5.5 0a2.75 2.75 0 1 0 -5.5 0zM551.3 537.7a2.75 2.75 0 1 0 5.5 0a2.75 2.75 0 1 0 -5.5 0zM547.7 467.3a2.75 2.75 0 1 0 5.5 0a2.75 2.75 0 1 0 -5.5 0zM592.7 557.8a2.75 2.75 0 1 0 5.5 0a2.75 2.75 0 1 0 -5.5 0zM559.1 466.3a2.75 2.75 0 1 0 5.5 0a2.75 2.75 0 1 0 -5.5 0zM556.3 590.1a2.75 2.75 0 1 0 5.5 0a2.75 2.75 0 1 0 -5.5 0zM549 539.3a2.75 2.75 0 1 0 5.5 0a2.75 2.75 0 1 0 -5.5 0zM554.5 564.2a2.75 2.75 0 1 0 5.5 0a2.75 2.75 0 1 0 -5.5 0zM520 582.3a2.75 2.75 0 1 0 5.5 0a2.75 2.75 0 1 0 -5.5 0zM510.7 545.2a2.75 2.75 0 1 0 5.5 0a2.75 2.75 0 1 0 -5.5 0zM592.4 581.7a2.75 2.75 0 1 0 5.5 0a2.75 2.75 0 1 0 -5.5 0zM570.1 510a2.75 2.75 0 1 0 5.5 0a2.75 2.75 0 1 0 -5.5 0zM582.7 582.9a2.75 2.75 0 1 0 5.5 0a2.75 2.75 0 1 0 -5.5 0zM598.1 519.9a2.75 2.75 0 1 0 5.5 0a2.75 2.75 0 1 0 -5.5 0zM530.6 580.6a2.75 2.75 0 1 0 5.5 0a2.75 2.75 0 1 0 -5.5 0zM531 416.8a2.75 2.75 0 1 0 5.5 0a2.75 2.75 0 1 0 -5.5 0zM536.2 570.5a2.75 2.75 0 1 0 5.5 0a2.75 2.75 0 1 0 -5.5 0zM539.3 517.1a2.75 2.75 0 1 0 5.5 0a2.75 2.75 0 1 0 -5.5 0zM593.2 483.6a2.75 2.75 0 1 0 5.5 0a2.75 2.75 0 1 0 -5.5 0zM547.6 592.9a2.75 2.75 0 1 0 5.5 0a2.75 2.75 0 1 0 -5.5 0zM541.6 524.8a2.75 2.75 0 1 0 5.5 0a2.75 2.75 0 1 0 -5.5 0zM578.5 504.2a2.75 2.75 0 1 0 5.5 0a2.75 2.75 0 1 0 -5.5 0zM525.5 529.9a2.75 2.75 0 1 0 5.5 0a2.75 2.75 0 1 0 -5.5 0zM516 423a2.75 2.75 0 1 0 5.5 0a2.75 2.75 0 1 0 -5.5 0zM585.7 481.4a2.75 2.75 0 1 0 5.5 0a2.75 2.75 0 1 0 -5.5 0zM592.7 595.8a2.75 2.75 0 1 0 5.5 0a2.75 2.75 0 1 0 -5.5 0zM538.4 570.7a2.75 2.75 0 1 0 5.5 0a2.75 2.75 0 1 0 -5.5 0zM578.5 457.1a2.75 2.75 0 1 0 5.5 0a2.75 2.75 0 1 0 -5.5 0zM507.5 508.5a2.75 2.75 0 1 0 5.5 0a2.75 2.75 0 1 0 -5.5 0zM551.2 559.5a2.75 2.75 0 1 0 5.5 0a2.75 2.75 0 1 0 -5.5 0zM571.6 575a2.75 2.75 0 1 0 5.5 0a2.75 2.75 0 1 0 -5.5 0zM533.4 549.6a2.75 2.75 0 1 0 5.5 0a2.75 2.75 0 1 0 -5.5 0zM544.5 593.5a2.75 2.75 0 1 0 5.5 0a2.75 2.75 0 1 0 -5.5 0zM575.4 531.8a2.75 2.75 0 1 0 5.5 0a2.75 2.75 0 1 0 -5.5 0zM573.1 490.5a2.75 2.75 0 1 0 5.5 0a2.75 2.75 0 1 0 -5.5 0zM521.6 510.6a2.75 2.75 0 1 0 5.5 0a2.75 2.75 0 1 0 -5.5 0zM586.8 567.2a2.75 2.75 0 1 0 5.5 0a2.75 2.75 0 1 0 -5.5 0zM512.9 571.9a2.75 2.75 0 1 0 5.5 0a2.75 2.75 0 1 0 -5.5 0zM617.9 548.9a2.75 2.75 0 1 0 5.5 0a2.75 2.75 0 1 0 -5.5 0zM527.3 520.5a2.75 2.75 0 1 0 5.5 0a2.75 2.75 0 1 0 -5.5 0zM533.4 581a2.75 2.75 0 1 0 5.5 0a2.75 2.75 0 1 0 -5.5 0zM527.1 450.9a2.75 2.75 0 1 0 5.5 0a2.75 2.75 0 1 0 -5.5 0zM620.4 525.4a2.75 2.75 0 1 0 5.5 0a2.75 2.75 0 1 0 -5.5 0zM537.3 541.1a2.75 2.75 0 1 0 5.5 0a2.75 2.75 0 1 0 -5.5 0zM574.9 565.1a2.75 2.75 0 1 0 5.5 0a2.75 2.75 0 1 0 -5.5 0zM620.3 526.4a2.75 2.75 0 1 0 5.5 0a2.75 2.75 0 1 0 -5.5 0zM615.6 535.3a2.75 2.75 0 1 0 5.5 0a2.75 2.75 0 1 0 -5.5 0zM508.5 586.2a2.75 2.75 0 1 0 5.5 0a2.75 2.75 0 1 0 -5.5 0zM564.9 444.6a2.75 2.75 0 1 0 5.5 0a2.75 2.75 0 1 0 -5.5 0zM574.4 447.2a2.75 2.75 0 1 0 5.5 0a2.75 2.75 0 1 0 -5.5 0zM586.3 514a2.75 2.75 0 1 0 5.5 0a2.75 2.75 0 1 0 -5.5 0zM543.1 555.8a2.75 2.75 0 1 0 5.5 0a2.75 2.75 0 1 0 -5.5 0zM542.1 507.6a2.75 2.75 0 1 0 5.5 0a2.75 2.75 0 1 0 -5.5 0zM504 532.2a2.75 2.75 0 1 0 5.5 0a2.75 2.75 0 1 0 -5.5 0zM507.6 569.2a2.75 2.75 0 1 0 5.5 0a2.75 2.75 0 1 0 -5.5 0zM568.4 576.7a2.75 2.75 0 1 0 5.5 0a2.75 2.75 0 1 0 -5.5 0zM512.4 550.6a2.75 2.75 0 1 0 5.5 0a2.75 2.75 0 1 0 -5.5 0zM527.3 408.8a2.75 2.75 0 1 0 5.5 0a2.75 2.75 0 1 0 -5.5 0zM542.8 522.8a2.75 2.75 0 1 0 5.5 0a2.75 2.75 0 1 0 -5.5 0zM511.8 554.1a2.75 2.75 0 1 0 5.5 0a2.75 2.75 0 1 0 -5.5 0zM507.1 504.9a2.75 2.75 0 1 0 5.5 0a2.75 2.75 0 1 0 -5.5 0zM612.8 411.8a2.75 2.75 0 1 0 5.5 0a2.75 2.75 0 1 0 -5.5 0zM554.8 491.7a2.75 2.75 0 1 0 5.5 0a2.75 2.75 0 1 0 -5.5 0zM527.6 532.9a2.75 2.75 0 1 0 5.5 0a2.75 2.75 0 1 0 -5.5 0zM587 546.9a2.75 2.75 0 1 0 5.5 0a2.75 2.75 0 1 0 -5.5 0zM504.6 498.1a2.75 2.75 0 1 0 5.5 0a2.75 2.75 0 1 0 -5.5 0zM532.4 540.1a2.75 2.75 0 1 0 5.5 0a2.75 2.75 0 1 0 -5.5 0zM616.8 536.3a2.75 2.75 0 1 0 5.5 0a2.75 2.75 0 1 0 -5.5 0zM609.4 485.9a2.75 2.75 0 1 0 5.5 0a2.75 2.75 0 1 0 -5.5 0zM578.5 556.4a2.75 2.75 0 1 0 5.5 0a2.75 2.75 0 1 0 -5.5 0zM514.5 458.8a2.75 2.75 0 1 0 5.5 0a2.75 2.75 0 1 0 -5.5 0zM541 501.6a2.75 2.75 0 1 0 5.5 0a2.75 2.75 0 1 0 -5.5 0zM506.8 549.9a2.75 2.75 0 1 0 5.5 0a2.75 2.75 0 1 0 -5.5 0zM529.3 434.7a2.75 2.75 0 1 0 5.5 0a2.75 2.75 0 1 0 -5.5 0zM506.5 513a2.75 2.75 0 1 0 5.5 0a2.75 2.75 0 1 0 -5.5 0zM518.3 579.4a2.75 2.75 0 1 0 5.5 0a2.75 2.75 0 1 0 -5.5 0zM578.2 574.4a2.75 2.75 0 1 0 5.5 0a2.75 2.75 0 1 0 -5.5 0zM515.3 558.2a2.75 2.75 0 1 0 5.5 0a2.75 2.75 0 1 0 -5.5 0zM521.8 602.8a2.75 2.75 0 1 0 5.5 0a2.75 2.75 0 1 0 -5.5 0zM610 579.8a2.75 2.75 0 1 0 5.5 0a2.75 2.75 0 1 0 -5.5 0zM543 465.2a2.75 2.75 0 1 0 5.5 0a2.75 2.75 0 1 0 -5.5 0zM542.7 548.4a2.75 2.75 0 1 0 5.5 0a2.75 2.75 0 1 0 -5.5 0zM513.7 530.7a2.75 2.75 0 1 0 5.5 0a2.75 2.75 0 1 0 -5.5 0zM597.4 437.6a2.75 2.75 0 1 0 5.5 0a2.75 2.75 0 1 0 -5.5 0zM583.3 553a2.75 2.75 0 1 0 5.5 0a2.75 2.75 0 1 0 -5.5 0zM568 547.5a2.75 2.75 0 1 0 5.5 0a2.75 2.75 0 1 0 -5.5 0zM576.4 496.9a2.75 2.75 0 1 0 5.5 0a2.75 2.75 0 1 0 -5.5 0zM515.3 517.5a2.75 2.75 0 1 0 5.5 0a2.75 2.75 0 1 0 -5.5 0zM534.2 560.9a2.75 2.75 0 1 0 5.5 0a2.75 2.75 0 1 0 -5.5 0z" fill="#000" stroke="none"/>
<path d="M191 0 V660 M189.2 658.3 H690" stroke="#000" stroke-width="3.6" fill="none"/>
<path d="M182 141 H191" stroke="#222" stroke-width="3.4"/>
<text x="177" y="147.6" text-anchor="end" font-size="22.3">1,000,000</text>
<path d="M182 258 H191" stroke="#222" stroke-width="3.4"/>
<text x="177" y="264.6" text-anchor="end" font-size="22.3">100,000</text>
<path d="M182 375 H191" stroke="#222" stroke-width="3.4"/>
<text x="177" y="381.6" text-anchor="end" font-size="22.3">10,000</text>
<path d="M182 492 H191" stroke="#222" stroke-width="3.4"/>
<text x="177" y="498.6" text-anchor="end" font-size="22.3">1,000</text>
<path d="M182 609 H191" stroke="#222" stroke-width="3.4"/>
<text x="177" y="615.6" text-anchor="end" font-size="22.3">100</text>
<text x="325.6" y="692.6" text-anchor="middle" font-size="26">Early</text>
<text x="564.3" y="692.6" text-anchor="middle" font-size="26">Late</text>
<text transform="translate(38.8 384.5) rotate(-90)" text-anchor="middle" font-size="26.5">Neutralization titer (NT50)</text>
<path d="M329.5 30.8 H557.5" stroke="#000" stroke-width="3.7"/>
<text x="379" y="21.3" font-size="22.6">p = 3.8x10<tspan dx="0.6" dy="-7.6" font-size="19.4">-14</tspan></text>
<text x="-1.3" y="35.3" font-size="28.6">a</text>
<rect x="719" y="223.5" width="42.5" height="44" fill="#805a97" stroke="#333" stroke-width="3.2"/>
<rect x="720" y="310.3" width="42.5" height="44" fill="#68c7a7" stroke="#333" stroke-width="3.2"/>
<text x="793.3" y="243.9" font-size="26.8">Early (&lt;=30 days since positive RT-PCR, N=118)</text>
<text x="791.3" y="336.9" font-size="26.7">Late (&gt;30 days since positive RT-PCR, N=251)</text>
</g>
<g id="pb">
<path d="M359.9 1091.5l5.75 10h-11.5zM379.4 1091.5l5.75 10h-11.5zM436.1 1091.5l5.75 10h-11.5zM422.2 1091.5l5.75 10h-11.5zM413.4 1091.5l5.75 10h-11.5zM438.1 1091.5l5.75 10h-11.5zM404.5 1091.5l5.75 10h-11.5zM465.3 1091.5l5.75 10h-11.5zM414.6 1091.5l5.75 10h-11.5zM418.7 1091.5l5.75 10h-11.5zM407.4 1091.5l5.75 10h-11.5zM374.9 1091.5l5.75 10h-11.5zM445.2 1091.5l5.75 10h-11.5zM445.4 1091.5l5.75 10h-11.5zM457.3 1034.1l5.75 10h-11.5zM491.3 1067.5l5.75 10h-11.5zM493.6 1050.7l5.75 10h-11.5zM492.8 1019l5.75 10h-11.5zM481 1026.3l5.75 10h-11.5zM428.4 1069l5.75 10h-11.5zM406.2 1065.6l5.75 10h-11.5zM494.8 1032.5l5.75 10h-11.5zM412.3 1066l5.75 10h-11.5zM404.9 1038.3l5.75 10h-11.5zM450.4 1067.2l5.75 10h-11.5zM465.9 1014.7l5.75 10h-11.5zM473.4 1009.3l5.75 10h-11.5zM478.3 1044.1l5.75 10h-11.5zM470.2 1028l5.75 10h-11.5zM465.8 1039.2l5.75 10h-11.5zM514.9 1010.7l5.75 10h-11.5zM447.8 1072l5.75 10h-11.5zM522.3 1009.8l5.75 10h-11.5zM511.4 1004.6l5.75 10h-11.5zM509.1 1019.5l5.75 10h-11.5zM481.3 1035.9l5.75 10h-11.5zM469.1 1046.4l5.75 10h-11.5zM451.5 1043.8l5.75 10h-11.5zM446.2 1054.6l5.75 10h-11.5zM389.6 1059.3l5.75 10h-11.5zM416.9 1088.5l5.75 10h-11.5zM460.9 1054.4l5.75 10h-11.5zM443.6 1047l5.75 10h-11.5zM387.5 1074.5l5.75 10h-11.5zM467.5 1053.9l5.75 10h-11.5zM374.6 1070.5l5.75 10h-11.5zM447.8 1045.1l5.75 10h-11.5zM449 1048l5.75 10h-11.5zM413.1 1089.4l5.75 10h-11.5zM499.4 988.6l5.75 10h-11.5zM445.2 1030.6l5.75 10h-11.5zM436.7 1078.2l5.75 10h-11.5zM440.7 1061.4l5.75 10h-11.5zM495.9 1013.1l5.75 10h-11.5zM428.3 1027.4l5.75 10h-11.5zM361.4 1063l5.75 10h-11.5zM452.5 1052.6l5.75 10h-11.5zM510.3 1055.9l5.75 10h-11.5zM429.9 1077l5.75 10h-11.5zM490.1 984.3l5.75 10h-11.5zM520.1 1021.5l5.75 10h-11.5zM457.7 1033l5.75 10h-11.5zM477.2 1020.3l5.75 10h-11.5zM458.7 1006.7l5.75 10h-11.5zM429.6 1072.5l5.75 10h-11.5zM469.3 1048.4l5.75 10h-11.5zM413 1068.2l5.75 10h-11.5zM402.2 1042.1l5.75 10h-11.5zM482.2 1044.9l5.75 10h-11.5zM462 1045.4l5.75 10h-11.5zM456.4 999.8l5.75 10h-11.5zM429.4 1061.8l5.75 10h-11.5zM446.1 1069.3l5.75 10h-11.5zM534.9 979.8l5.75 10h-11.5zM475.4 1033.4l5.75 10h-11.5zM460.2 1049.1l5.75 10h-11.5zM428.7 1053.1l5.75 10h-11.5zM491.7 1062.2l5.75 10h-11.5zM433.2 1058.6l5.75 10h-11.5zM387.3 1075l5.75 10h-11.5zM404.2 1088.1l5.75 10h-11.5zM462.1 1057.7l5.75 10h-11.5zM412.5 1060.2l5.75 10h-11.5zM452.2 1040.5l5.75 10h-11.5z" fill="#2aae80"/>
<path d="M356.9 1098.2a2.6 2.6 0 1 0 5.2 0a2.6 2.6 0 1 0 -5.2 0zM456.1 1098.2a2.6 2.6 0 1 0 5.2 0a2.6 2.6 0 1 0 -5.2 0zM396 1098.2a2.6 2.6 0 1 0 5.2 0a2.6 2.6 0 1 0 -5.2 0zM418.1 1098.2a2.6 2.6 0 1 0 5.2 0a2.6 2.6 0 1 0 -5.2 0zM434.6 1085.1a2.6 2.6 0 1 0 5.2 0a2.6 2.6 0 1 0 -5.2 0zM495.9 994.9a2.6 2.6 0 1 0 5.2 0a2.6 2.6 0 1 0 -5.2 0zM498.7 1031.5a2.6 2.6 0 1 0 5.2 0a2.6 2.6 0 1 0 -5.2 0zM515.6 1004.3a2.6 2.6 0 1 0 5.2 0a2.6 2.6 0 1 0 -5.2 0zM551.9 977.6a2.6 2.6 0 1 0 5.2 0a2.6 2.6 0 1 0 -5.2 0zM495.6 981.7a2.6 2.6 0 1 0 5.2 0a2.6 2.6 0 1 0 -5.2 0zM489 1029.2a2.6 2.6 0 1 0 5.2 0a2.6 2.6 0 1 0 -5.2 0zM392.5 1092.1a2.6 2.6 0 1 0 5.2 0a2.6 2.6 0 1 0 -5.2 0zM544.5 949.4a2.6 2.6 0 1 0 5.2 0a2.6 2.6 0 1 0 -5.2 0zM441.8 964.2a2.6 2.6 0 1 0 5.2 0a2.6 2.6 0 1 0 -5.2 0zM547.4 967.8a2.6 2.6 0 1 0 5.2 0a2.6 2.6 0 1 0 -5.2 0zM449.7 1028a2.6 2.6 0 1 0 5.2 0a2.6 2.6 0 1 0 -5.2 0zM436.1 1070.1a2.6 2.6 0 1 0 5.2 0a2.6 2.6 0 1 0 -5.2 0zM448.7 1044.7a2.6 2.6 0 1 0 5.2 0a2.6 2.6 0 1 0 -5.2 0zM516 990.6a2.6 2.6 0 1 0 5.2 0a2.6 2.6 0 1 0 -5.2 0zM438.2 1039.5a2.6 2.6 0 1 0 5.2 0a2.6 2.6 0 1 0 -5.2 0zM518.3 969.4a2.6 2.6 0 1 0 5.2 0a2.6 2.6 0 1 0 -5.2 0zM497.6 1009.4a2.6 2.6 0 1 0 5.2 0a2.6 2.6 0 1 0 -5.2 0zM478.7 968.6a2.6 2.6 0 1 0 5.2 0a2.6 2.6 0 1 0 -5.2 0zM433.6 1015.7a2.6 2.6 0 1 0 5.2 0a2.6 2.6 0 1 0 -5.2 0zM533.6 961.2a2.6 2.6 0 1 0 5.2 0a2.6 2.6 0 1 0 -5.2 0zM478.5 1053.6a2.6 2.6 0 1 0 5.2 0a2.6 2.6 0 1 0 -5.2 0zM478.4 1010.4a2.6 2.6 0 1 0 5.2 0a2.6 2.6 0 1 0 -5.2 0zM487.1 973.7a2.6 2.6 0 1 0 5.2 0a2.6 2.6 0 1 0 -5.2 0zM529.4 985.5a2.6 2.6 0 1 0 5.2 0a2.6 2.6 0 1 0 -5.2 0zM541.2 1049.7a2.6 2.6 0 1 0 5.2 0a2.6 2.6 0 1 0 -5.2 0zM432.3 1067.6a2.6 2.6 0 1 0 5.2 0a2.6 2.6 0 1 0 -5.2 0zM532.9 959.1a2.6 2.6 0 1 0 5.2 0a2.6 2.6 0 1 0 -5.2 0zM555.2 1026.1a2.6 2.6 0 1 0 5.2 0a2.6 2.6 0 1 0 -5.2 0zM514.2 978.3a2.6 2.6 0 1 0 5.2 0a2.6 2.6 0 1 0 -5.2 0zM491.7 1000.9a2.6 2.6 0 1 0 5.2 0a2.6 2.6 0 1 0 -5.2 0zM507.1 1019.4a2.6 2.6 0 1 0 5.2 0a2.6 2.6 0 1 0 -5.2 0zM539.4 906.9a2.6 2.6 0 1 0 5.2 0a2.6 2.6 0 1 0 -5.2 0zM517.9 930.7a2.6 2.6 0 1 0 5.2 0a2.6 2.6 0 1 0 -5.2 0zM526.4 942.1a2.6 2.6 0 1 0 5.2 0a2.6 2.6 0 1 0 -5.2 0z" fill="#440f68"/>
<path d="M402.9 1091.5l5.75 10h-11.5zM407.4 1091.5l5.75 10h-11.5zM366.9 1091.5l5.75 10h-11.5zM446.8 1091.5l5.75 10h-11.5zM409.2 1091.5l5.75 10h-11.5zM389.1 1091.5l5.75 10h-11.5zM413.6 1091.5l5.75 10h-11.5zM389.2 1091.5l5.75 10h-11.5zM423.7 1091.5l5.75 10h-11.5zM433.9 1091.5l5.75 10h-11.5zM373.5 1091.5l5.75 10h-11.5zM381 1091.5l5.75 10h-11.5zM422.9 1091.5l5.75 10h-11.5zM415.6 1059.6l5.75 10h-11.5zM430.7 1062.5l5.75 10h-11.5zM451.7 1016.3l5.75 10h-11.5zM519 1008.7l5.75 10h-11.5zM461.6 1042.9l5.75 10h-11.5zM453.6 1013.5l5.75 10h-11.5zM537.1 978.9l5.75 10h-11.5zM453.8 1081.6l5.75 10h-11.5zM387.3 1069.6l5.75 10h-11.5zM466.3 1037.6l5.75 10h-11.5zM448.7 1024.6l5.75 10h-11.5zM374.2 1084.9l5.75 10h-11.5zM406.6 1086.7l5.75 10h-11.5zM493.3 986l5.75 10h-11.5zM400.1 1074.4l5.75 10h-11.5zM395.5 1066.2l5.75 10h-11.5zM423.3 1064.2l5.75 10h-11.5zM436.2 1086.3l5.75 10h-11.5zM401.3 1064.9l5.75 10h-11.5zM431.2 1049.7l5.75 10h-11.5zM505.2 1036.8l5.75 10h-11.5zM475.5 1023.2l5.75 10h-11.5zM435.9 1060.7l5.75 10h-11.5zM392.8 1085.7l5.75 10h-11.5zM448 1068.6l5.75 10h-11.5zM435.8 1040.8l5.75 10h-11.5zM474.2 1083.5l5.75 10h-11.5zM480.3 1051.4l5.75 10h-11.5zM442.5 1024l5.75 10h-11.5zM448.9 1065.2l5.75 10h-11.5zM376.2 1073.2l5.75 10h-11.5zM448.7 1063.5l5.75 10h-11.5zM385.5 1043.2l5.75 10h-11.5zM448.7 1037.4l5.75 10h-11.5zM442.5 1028.3l5.75 10h-11.5zM457.1 1046.7l5.75 10h-11.5zM479.1 1017.6l5.75 10h-11.5zM398.9 1089.9l5.75 10h-11.5zM415.1 1079.8l5.75 10h-11.5zM387.6 1061.7l5.75 10h-11.5zM468.3 1055.3l5.75 10h-11.5zM414.7 1051.8l5.75 10h-11.5zM483.5 1011.9l5.75 10h-11.5zM454.2 1066.5l5.75 10h-11.5zM395.1 1076.3l5.75 10h-11.5zM499.2 1041.8l5.75 10h-11.5zM415.4 1070l5.75 10h-11.5zM459.2 1082.5l5.75 10h-11.5zM422.7 1047.4l5.75 10h-11.5zM430.6 1084.2l5.75 10h-11.5zM472.3 1035.4l5.75 10h-11.5zM441.8 1058.4l5.75 10h-11.5zM481.3 1025.4l5.75 10h-11.5zM439.8 1070.8l5.75 10h-11.5zM436.8 1075.9l5.75 10h-11.5zM443.1 1053.6l5.75 10h-11.5zM450.6 1050.4l5.75 10h-11.5zM498.9 1001.2l5.75 10h-11.5zM485.4 1034.9l5.75 10h-11.5zM447.1 1073.5l5.75 10h-11.5zM537.7 1043.4l5.75 10h-11.5zM515.1 981.5l5.75 10h-11.5zM483.8 1056.9l5.75 10h-11.5zM470.1 1050.9l5.75 10h-11.5zM524.8 1007.7l5.75 10h-11.5zM517.1 994.2l5.75 10h-11.5zM427.8 1072.2l5.75 10h-11.5zM412.6 1075.2l5.75 10h-11.5zM479.3 1047.8l5.75 10h-11.5zM435.9 1057.2l5.75 10h-11.5zM430.5 1064.7l5.75 10h-11.5z" fill="#2aae80"/>
<path d="M374.8 1098.2a2.6 2.6 0 1 0 5.2 0a2.6 2.6 0 1 0 -5.2 0zM403.4 1098.2a2.6 2.6 0 1 0 5.2 0a2.6 2.6 0 1 0 -5.2 0zM344.6 1098.2a2.6 2.6 0 1 0 5.2 0a2.6 2.6 0 1 0 -5.2 0zM390.8 1098.2a2.6 2.6 0 1 0 5.2 0a2.6 2.6 0 1 0 -5.2 0zM496.9 972.9a2.6 2.6 0 1 0 5.2 0a2.6 2.6 0 1 0 -5.2 0zM494.7 996.4a2.6 2.6 0 1 0 5.2 0a2.6 2.6 0 1 0 -5.2 0zM512.7 1040.8a2.6 2.6 0 1 0 5.2 0a2.6 2.6 0 1 0 -5.2 0zM545.5 980.9a2.6 2.6 0 1 0 5.2 0a2.6 2.6 0 1 0 -5.2 0zM453.9 1033.4a2.6 2.6 0 1 0 5.2 0a2.6 2.6 0 1 0 -5.2 0zM516.8 1006.4a2.6 2.6 0 1 0 5.2 0a2.6 2.6 0 1 0 -5.2 0zM546.9 989.9a2.6 2.6 0 1 0 5.2 0a2.6 2.6 0 1 0 -5.2 0zM541.2 1005a2.6 2.6 0 1 0 5.2 0a2.6 2.6 0 1 0 -5.2 0zM435.2 1065.2a2.6 2.6 0 1 0 5.2 0a2.6 2.6 0 1 0 -5.2 0zM451.6 1059.9a2.6 2.6 0 1 0 5.2 0a2.6 2.6 0 1 0 -5.2 0zM394.6 1094.2a2.6 2.6 0 1 0 5.2 0a2.6 2.6 0 1 0 -5.2 0zM514 991.8a2.6 2.6 0 1 0 5.2 0a2.6 2.6 0 1 0 -5.2 0zM428.1 1074.6a2.6 2.6 0 1 0 5.2 0a2.6 2.6 0 1 0 -5.2 0zM485 1052a2.6 2.6 0 1 0 5.2 0a2.6 2.6 0 1 0 -5.2 0zM507.6 1007.5a2.6 2.6 0 1 0 5.2 0a2.6 2.6 0 1 0 -5.2 0zM546.6 998.9a2.6 2.6 0 1 0 5.2 0a2.6 2.6 0 1 0 -5.2 0zM532.6 974.8a2.6 2.6 0 1 0 5.2 0a2.6 2.6 0 1 0 -5.2 0zM417.2 1062.8a2.6 2.6 0 1 0 5.2 0a2.6 2.6 0 1 0 -5.2 0zM452.9 1090.7a2.6 2.6 0 1 0 5.2 0a2.6 2.6 0 1 0 -5.2 0zM517.5 972.1a2.6 2.6 0 1 0 5.2 0a2.6 2.6 0 1 0 -5.2 0zM417.4 1047a2.6 2.6 0 1 0 5.2 0a2.6 2.6 0 1 0 -5.2 0zM481 976a2.6 2.6 0 1 0 5.2 0a2.6 2.6 0 1 0 -5.2 0zM519.5 983.7a2.6 2.6 0 1 0 5.2 0a2.6 2.6 0 1 0 -5.2 0zM514.9 997.2a2.6 2.6 0 1 0 5.2 0a2.6 2.6 0 1 0 -5.2 0zM481.6 994a2.6 2.6 0 1 0 5.2 0a2.6 2.6 0 1 0 -5.2 0zM493.8 979.3a2.6 2.6 0 1 0 5.2 0a2.6 2.6 0 1 0 -5.2 0zM416.2 1084.2a2.6 2.6 0 1 0 5.2 0a2.6 2.6 0 1 0 -5.2 0zM486.2 987.6a2.6 2.6 0 1 0 5.2 0a2.6 2.6 0 1 0 -5.2 0zM482.2 1058a2.6 2.6 0 1 0 5.2 0a2.6 2.6 0 1 0 -5.2 0zM501.6 963.3a2.6 2.6 0 1 0 5.2 0a2.6 2.6 0 1 0 -5.2 0zM522.2 962.2a2.6 2.6 0 1 0 5.2 0a2.6 2.6 0 1 0 -5.2 0zM534.7 891.2a2.6 2.6 0 1 0 5.2 0a2.6 2.6 0 1 0 -5.2 0zM540.4 910.8a2.6 2.6 0 1 0 5.2 0a2.6 2.6 0 1 0 -5.2 0zM542.5 933a2.6 2.6 0 1 0 5.2 0a2.6 2.6 0 1 0 -5.2 0zM504.2 942.1a2.6 2.6 0 1 0 5.2 0a2.6 2.6 0 1 0 -5.2 0z" fill="#440f68"/>
<path d="M359.7 1091.5l5.75 10h-11.5zM381.8 1091.5l5.75 10h-11.5zM414.1 1091.5l5.75 10h-11.5zM432.2 1091.5l5.75 10h-11.5zM405.4 1091.5l5.75 10h-11.5zM421.3 1091.5l5.75 10h-11.5zM399.9 1091.5l5.75 10h-11.5zM414 1091.5l5.75 10h-11.5zM419.4 1091.5l5.75 10h-11.5zM366.1 1091.5l5.75 10h-11.5zM413.5 1091.5l5.75 10h-11.5zM405.5 1091.5l5.75 10h-11.5zM415.2 1091.5l5.75 10h-11.5zM389.3 1055l5.75 10h-11.5zM445.3 1087.4l5.75 10h-11.5zM534.2 990.4l5.75 10h-11.5zM472.9 1039.6l5.75 10h-11.5zM407.7 1079l5.75 10h-11.5zM476.6 1038.8l5.75 10h-11.5zM461.6 1050l5.75 10h-11.5zM428.5 1045.9l5.75 10h-11.5zM497.6 1016.8l5.75 10h-11.5zM438.2 1046.1l5.75 10h-11.5zM421.1 1080.3l5.75 10h-11.5zM386.7 1056.6l5.75 10h-11.5zM490.6 997.8l5.75 10h-11.5zM518.9 976.2l5.75 10h-11.5zM409.6 1091.2l5.75 10h-11.5zM521.8 1007.2l5.75 10h-11.5zM467.5 1071.4l5.75 10h-11.5zM477.8 1056.3l5.75 10h-11.5zM450.4 1041.4l5.75 10h-11.5zM514.4 992.7l5.75 10h-11.5zM464 1071.6l5.75 10h-11.5zM487.6 1039.8l5.75 10h-11.5zM519 1021.8l5.75 10h-11.5zM523 1015.8l5.75 10h-11.5zM430.8 1030.8l5.75 10h-11.5zM422.9 1052.1l5.75 10h-11.5zM457.2 1041.1l5.75 10h-11.5zM404.8 1090.5l5.75 10h-11.5zM491.1 1018.3l5.75 10h-11.5zM430.9 1074l5.75 10h-11.5zM462.5 1014.1l5.75 10h-11.5zM470.7 1042.4l5.75 10h-11.5zM428.5 1055.7l5.75 10h-11.5zM461.8 1049.5l5.75 10h-11.5zM423.9 1053.4l5.75 10h-11.5zM419.9 1077.5l5.75 10h-11.5zM444.2 1059.8l5.75 10h-11.5zM446.5 1068l5.75 10h-11.5zM459.6 1052.4l5.75 10h-11.5zM393.7 1020.6l5.75 10h-11.5zM425.3 1072.8l5.75 10h-11.5zM528.7 1012.4l5.75 10h-11.5zM441.8 1081l5.75 10h-11.5zM419.2 1076.6l5.75 10h-11.5zM429 1036.3l5.75 10h-11.5zM422.3 1075.7l5.75 10h-11.5zM429.6 1040.2l5.75 10h-11.5zM499.1 1044.5l5.75 10h-11.5zM486.4 987.7l5.75 10h-11.5zM443.6 1070.2l5.75 10h-11.5zM437 1063.9l5.75 10h-11.5zM410.6 1082.9l5.75 10h-11.5zM471.9 1036.6l5.75 10h-11.5zM439.5 1058l5.75 10h-11.5zM494.3 1003.3l5.75 10h-11.5zM430.5 1067l5.75 10h-11.5zM408.3 1078.8l5.75 10h-11.5zM420.7 1038.5l5.75 10h-11.5zM463.2 1048.6l5.75 10h-11.5zM476.2 1058.9l5.75 10h-11.5zM412.1 1060.9l5.75 10h-11.5zM462.2 1026.1l5.75 10h-11.5zM453.9 1029.7l5.75 10h-11.5zM495.4 1022.8l5.75 10h-11.5zM477.4 1031.6l5.75 10h-11.5zM459.6 1037.9l5.75 10h-11.5zM432.5 1063.2l5.75 10h-11.5zM539.1 1011.3l5.75 10h-11.5zM492.9 995.9l5.75 10h-11.5zM480.6 1029l5.75 10h-11.5z" fill="#2aae80"/>
<path d="M429.9 1098.2a2.6 2.6 0 1 0 5.2 0a2.6 2.6 0 1 0 -5.2 0zM438.2 1098.2a2.6 2.6 0 1 0 5.2 0a2.6 2.6 0 1 0 -5.2 0zM408.9 1098.2a2.6 2.6 0 1 0 5.2 0a2.6 2.6 0 1 0 -5.2 0zM413.6 1098.2a2.6 2.6 0 1 0 5.2 0a2.6 2.6 0 1 0 -5.2 0zM462.8 988.6a2.6 2.6 0 1 0 5.2 0a2.6 2.6 0 1 0 -5.2 0zM517.9 952.4a2.6 2.6 0 1 0 5.2 0a2.6 2.6 0 1 0 -5.2 0zM485.1 999.8a2.6 2.6 0 1 0 5.2 0a2.6 2.6 0 1 0 -5.2 0zM551.1 965.3a2.6 2.6 0 1 0 5.2 0a2.6 2.6 0 1 0 -5.2 0zM451.9 1072.4a2.6 2.6 0 1 0 5.2 0a2.6 2.6 0 1 0 -5.2 0zM462.4 1017a2.6 2.6 0 1 0 5.2 0a2.6 2.6 0 1 0 -5.2 0zM457.5 1054.4a2.6 2.6 0 1 0 5.2 0a2.6 2.6 0 1 0 -5.2 0zM405 1056.5a2.6 2.6 0 1 0 5.2 0a2.6 2.6 0 1 0 -5.2 0zM440.4 1021.3a2.6 2.6 0 1 0 5.2 0a2.6 2.6 0 1 0 -5.2 0zM384.6 1080.6a2.6 2.6 0 1 0 5.2 0a2.6 2.6 0 1 0 -5.2 0zM405.4 1034.8a2.6 2.6 0 1 0 5.2 0a2.6 2.6 0 1 0 -5.2 0zM433.5 1088.3a2.6 2.6 0 1 0 5.2 0a2.6 2.6 0 1 0 -5.2 0zM420.1 1096.9a2.6 2.6 0 1 0 5.2 0a2.6 2.6 0 1 0 -5.2 0zM481.4 1022.2a2.6 2.6 0 1 0 5.2 0a2.6 2.6 0 1 0 -5.2 0zM453.4 1012.2a2.6 2.6 0 1 0 5.2 0a2.6 2.6 0 1 0 -5.2 0zM461.9 1048.7a2.6 2.6 0 1 0 5.2 0a2.6 2.6 0 1 0 -5.2 0zM446.7 1037.9a2.6 2.6 0 1 0 5.2 0a2.6 2.6 0 1 0 -5.2 0zM519.5 986.4a2.6 2.6 0 1 0 5.2 0a2.6 2.6 0 1 0 -5.2 0zM458.2 1024.9a2.6 2.6 0 1 0 5.2 0a2.6 2.6 0 1 0 -5.2 0zM502.4 983.2a2.6 2.6 0 1 0 5.2 0a2.6 2.6 0 1 0 -5.2 0zM517.1 992.9a2.6 2.6 0 1 0 5.2 0a2.6 2.6 0 1 0 -5.2 0zM495.4 1013.6a2.6 2.6 0 1 0 5.2 0a2.6 2.6 0 1 0 -5.2 0zM366.7 1078.4a2.6 2.6 0 1 0 5.2 0a2.6 2.6 0 1 0 -5.2 0zM493.9 1003a2.6 2.6 0 1 0 5.2 0a2.6 2.6 0 1 0 -5.2 0zM531 971a2.6 2.6 0 1 0 5.2 0a2.6 2.6 0 1 0 -5.2 0zM467.6 1002.3a2.6 2.6 0 1 0 5.2 0a2.6 2.6 0 1 0 -5.2 0zM555.1 966.2a2.6 2.6 0 1 0 5.2 0a2.6 2.6 0 1 0 -5.2 0zM469.9 1036.2a2.6 2.6 0 1 0 5.2 0a2.6 2.6 0 1 0 -5.2 0zM442.1 954.5a2.6 2.6 0 1 0 5.2 0a2.6 2.6 0 1 0 -5.2 0zM476.2 1043.1a2.6 2.6 0 1 0 5.2 0a2.6 2.6 0 1 0 -5.2 0zM453.8 1076.6a2.6 2.6 0 1 0 5.2 0a2.6 2.6 0 1 0 -5.2 0zM527.6 904.6a2.6 2.6 0 1 0 5.2 0a2.6 2.6 0 1 0 -5.2 0zM545.5 926.5a2.6 2.6 0 1 0 5.2 0a2.6 2.6 0 1 0 -5.2 0zM534.8 935a2.6 2.6 0 1 0 5.2 0a2.6 2.6 0 1 0 -5.2 0zM511.2 943.4a2.6 2.6 0 1 0 5.2 0a2.6 2.6 0 1 0 -5.2 0z" fill="#440f68"/>
<path d="M368.3 1090.1 L375 1086.5 L381.7 1082.9 L388.4 1079.3 L395.1 1075.7 L401.8 1072 L408.5 1068.2 L415.2 1064.4 L421.9 1060.6 L428.6 1056.6 L435.3 1052.6 L442 1048.5 L448.7 1044.4 L455.4 1040.2 L462.1 1036 L468.7 1031.7 L475.4 1027.5 L482.1 1023.1 L488.8 1018.8 L495.5 1014.5 L502.2 1010.1 L508.9 1005.8 L515.6 1001.4 L522.3 997.1 L529 992.7 L535.7 988.3 L542.4 984 L549.1 979.6 L555.8 975.2 L562.5 970.8 L562.5 990.8 L555.8 994.3 L549.1 997.8 L542.4 1001.3 L535.7 1004.8 L529 1008.3 L522.3 1011.8 L515.6 1015.3 L508.9 1018.9 L502.2 1022.4 L495.5 1025.9 L488.8 1029.5 L482.1 1033 L475.4 1036.6 L468.7 1040.2 L462.1 1043.8 L455.4 1047.5 L448.7 1051.2 L442 1055 L435.3 1058.8 L428.6 1062.6 L421.9 1066.6 L415.2 1070.6 L408.5 1074.7 L401.8 1078.8 L395.1 1083 L388.4 1087.2 L381.7 1091.5 L375 1095.8 L368.3 1100.1 Z" fill="#999" fill-opacity="0.4"/>
<path d="M368.3 1095.1 L562.5 980.8" stroke="#000" stroke-width="4.2"/>
<text x="562" y="1053.5" font-size="23" style="fill:#000;stroke:#000">r = 0.72</text>
<text x="562" y="1079.7" font-size="23" style="fill:#45105f;stroke:#45105f">r = 0.68</text>
<text x="562" y="1105.9" font-size="23" style="fill:#24a884;stroke:#24a884">r = 0.66</text>
<path d="M869.4 1091.5l5.75 10h-11.5zM930.3 1091.5l5.75 10h-11.5zM938.8 1091.5l5.75 10h-11.5zM908.9 1091.5l5.75 10h-11.5zM914.9 1091.5l5.75 10h-11.5zM920.4 1091.5l5.75 10h-11.5zM915.9 1091.5l5.75 10h-11.5zM892.3 1091.5l5.75 10h-11.5zM923.3 1091.5l5.75 10h-11.5zM909.5 1091.5l5.75 10h-11.5zM909.9 1091.5l5.75 10h-11.5zM959.9 1091.5l5.75 10h-11.5zM907.7 1091.5l5.75 10h-11.5zM944.3 1091.5l5.75 10h-11.5zM925 1034.1l5.75 10h-11.5zM926.6 1067.5l5.75 10h-11.5zM899.7 1050.7l5.75 10h-11.5zM928.4 1019l5.75 10h-11.5zM940 1026.3l5.75 10h-11.5zM956.9 1069l5.75 10h-11.5zM952.1 1065.6l5.75 10h-11.5zM926.4 1032.5l5.75 10h-11.5zM902.5 1066l5.75 10h-11.5zM932.3 1038.3l5.75 10h-11.5zM926.4 1067.2l5.75 10h-11.5zM863.8 1014.7l5.75 10h-11.5zM944.2 1009.3l5.75 10h-11.5zM939.1 1044.1l5.75 10h-11.5zM945.7 1028l5.75 10h-11.5zM944.7 1039.2l5.75 10h-11.5zM948.9 1010.7l5.75 10h-11.5zM955.4 1072l5.75 10h-11.5zM951.8 1009.8l5.75 10h-11.5zM933.9 1004.6l5.75 10h-11.5zM894.8 1019.5l5.75 10h-11.5zM927.6 1035.9l5.75 10h-11.5zM967.1 1046.4l5.75 10h-11.5zM933.3 1043.8l5.75 10h-11.5zM887.9 1054.6l5.75 10h-11.5zM919.8 1059.3l5.75 10h-11.5zM902.4 1088.5l5.75 10h-11.5zM934.7 1054.4l5.75 10h-11.5zM899.7 1047l5.75 10h-11.5zM932 1074.5l5.75 10h-11.5zM926.2 1053.9l5.75 10h-11.5zM935.9 1070.5l5.75 10h-11.5zM888.7 1045.1l5.75 10h-11.5zM939.7 1048l5.75 10h-11.5zM947.5 1089.4l5.75 10h-11.5zM954.1 988.6l5.75 10h-11.5zM881.2 1030.6l5.75 10h-11.5zM874.1 1078.2l5.75 10h-11.5zM925.6 1061.4l5.75 10h-11.5zM971.9 1013.1l5.75 10h-11.5zM959.8 1027.4l5.75 10h-11.5zM905.6 1063l5.75 10h-11.5zM941.5 1052.6l5.75 10h-11.5zM931 1055.9l5.75 10h-11.5zM908.8 1077l5.75 10h-11.5zM939.2 984.3l5.75 10h-11.5zM924.8 1021.5l5.75 10h-11.5zM945 1033l5.75 10h-11.5zM949.6 1020.3l5.75 10h-11.5zM949.2 1006.7l5.75 10h-11.5zM939 1072.5l5.75 10h-11.5zM938.1 1048.4l5.75 10h-11.5zM900.4 1068.2l5.75 10h-11.5zM930 1042.1l5.75 10h-11.5zM929.3 1044.9l5.75 10h-11.5zM939.6 1045.4l5.75 10h-11.5zM943 999.8l5.75 10h-11.5zM943.6 1061.8l5.75 10h-11.5zM939 1069.3l5.75 10h-11.5zM985.1 979.8l5.75 10h-11.5zM931 1033.4l5.75 10h-11.5zM883.6 1049.1l5.75 10h-11.5zM970.1 1053.1l5.75 10h-11.5zM886.7 1062.2l5.75 10h-11.5zM927 1058.6l5.75 10h-11.5zM935.4 1075l5.75 10h-11.5zM955.6 1088.1l5.75 10h-11.5zM910.2 1057.7l5.75 10h-11.5zM915.6 1060.2l5.75 10h-11.5zM902.8 1040.5l5.75 10h-11.5z" fill="#2aae80"/>
<path d="M898.4 1098.2a2.6 2.6 0 1 0 5.2 0a2.6 2.6 0 1 0 -5.2 0zM923.5 1098.2a2.6 2.6 0 1 0 5.2 0a2.6 2.6 0 1 0 -5.2 0zM937.2 1098.2a2.6 2.6 0 1 0 5.2 0a2.6 2.6 0 1 0 -5.2 0zM879.3 1098.2a2.6 2.6 0 1 0 5.2 0a2.6 2.6 0 1 0 -5.2 0zM958.1 1085.1a2.6 2.6 0 1 0 5.2 0a2.6 2.6 0 1 0 -5.2 0zM975.9 994.9a2.6 2.6 0 1 0 5.2 0a2.6 2.6 0 1 0 -5.2 0zM924 1031.5a2.6 2.6 0 1 0 5.2 0a2.6 2.6 0 1 0 -5.2 0zM1016 1004.3a2.6 2.6 0 1 0 5.2 0a2.6 2.6 0 1 0 -5.2 0zM1053.1 977.6a2.6 2.6 0 1 0 5.2 0a2.6 2.6 0 1 0 -5.2 0zM1033 981.7a2.6 2.6 0 1 0 5.2 0a2.6 2.6 0 1 0 -5.2 0zM984.3 1029.2a2.6 2.6 0 1 0 5.2 0a2.6 2.6 0 1 0 -5.2 0zM876.1 1092.1a2.6 2.6 0 1 0 5.2 0a2.6 2.6 0 1 0 -5.2 0zM970.8 949.4a2.6 2.6 0 1 0 5.2 0a2.6 2.6 0 1 0 -5.2 0zM1025.3 964.2a2.6 2.6 0 1 0 5.2 0a2.6 2.6 0 1 0 -5.2 0zM924.3 967.8a2.6 2.6 0 1 0 5.2 0a2.6 2.6 0 1 0 -5.2 0zM944 1028a2.6 2.6 0 1 0 5.2 0a2.6 2.6 0 1 0 -5.2 0zM886.8 1070.1a2.6 2.6 0 1 0 5.2 0a2.6 2.6 0 1 0 -5.2 0zM910.8 1044.7a2.6 2.6 0 1 0 5.2 0a2.6 2.6 0 1 0 -5.2 0zM958.1 990.6a2.6 2.6 0 1 0 5.2 0a2.6 2.6 0 1 0 -5.2 0zM931 1039.5a2.6 2.6 0 1 0 5.2 0a2.6 2.6 0 1 0 -5.2 0zM991.4 969.4a2.6 2.6 0 1 0 5.2 0a2.6 2.6 0 1 0 -5.2 0zM942 1009.4a2.6 2.6 0 1 0 5.2 0a2.6 2.6 0 1 0 -5.2 0zM963.9 968.6a2.6 2.6 0 1 0 5.2 0a2.6 2.6 0 1 0 -5.2 0zM912.8 1015.7a2.6 2.6 0 1 0 5.2 0a2.6 2.6 0 1 0 -5.2 0zM996.9 961.2a2.6 2.6 0 1 0 5.2 0a2.6 2.6 0 1 0 -5.2 0zM970.3 1053.6a2.6 2.6 0 1 0 5.2 0a2.6 2.6 0 1 0 -5.2 0zM891.6 1010.4a2.6 2.6 0 1 0 5.2 0a2.6 2.6 0 1 0 -5.2 0zM964.8 973.7a2.6 2.6 0 1 0 5.2 0a2.6 2.6 0 1 0 -5.2 0zM958.7 985.5a2.6 2.6 0 1 0 5.2 0a2.6 2.6 0 1 0 -5.2 0zM921.5 1049.7a2.6 2.6 0 1 0 5.2 0a2.6 2.6 0 1 0 -5.2 0zM948.6 1067.6a2.6 2.6 0 1 0 5.2 0a2.6 2.6 0 1 0 -5.2 0zM1008.3 959.1a2.6 2.6 0 1 0 5.2 0a2.6 2.6 0 1 0 -5.2 0zM956.3 1026.1a2.6 2.6 0 1 0 5.2 0a2.6 2.6 0 1 0 -5.2 0zM995 978.3a2.6 2.6 0 1 0 5.2 0a2.6 2.6 0 1 0 -5.2 0zM931.4 1000.9a2.6 2.6 0 1 0 5.2 0a2.6 2.6 0 1 0 -5.2 0zM961.9 1019.4a2.6 2.6 0 1 0 5.2 0a2.6 2.6 0 1 0 -5.2 0zM947.8 906.9a2.6 2.6 0 1 0 5.2 0a2.6 2.6 0 1 0 -5.2 0zM980.7 930.7a2.6 2.6 0 1 0 5.2 0a2.6 2.6 0 1 0 -5.2 0zM1047.5 942.1a2.6 2.6 0 1 0 5.2 0a2.6 2.6 0 1 0 -5.2 0z" fill="#440f68"/>
<path d="M942.7 1091.5l5.75 10h-11.5zM929.8 1091.5l5.75 10h-11.5zM903.9 1091.5l5.75 10h-11.5zM904.8 1091.5l5.75 10h-11.5zM869.2 1091.5l5.75 10h-11.5zM870.4 1091.5l5.75 10h-11.5zM922.3 1091.5l5.75 10h-11.5zM898.6 1091.5l5.75 10h-11.5zM944.1 1091.5l5.75 10h-11.5zM927.6 1091.5l5.75 10h-11.5zM923.7 1091.5l5.75 10h-11.5zM891.6 1091.5l5.75 10h-11.5zM897.4 1091.5l5.75 10h-11.5zM967.8 1059.6l5.75 10h-11.5zM950.5 1062.5l5.75 10h-11.5zM957.8 1016.3l5.75 10h-11.5zM905.3 1008.7l5.75 10h-11.5zM888.8 1042.9l5.75 10h-11.5zM976.3 1013.5l5.75 10h-11.5zM962.6 978.9l5.75 10h-11.5zM909.3 1081.6l5.75 10h-11.5zM906.3 1069.6l5.75 10h-11.5zM937.2 1037.6l5.75 10h-11.5zM925.2 1024.6l5.75 10h-11.5zM919.9 1084.9l5.75 10h-11.5zM886.5 1086.7l5.75 10h-11.5zM964.6 986l5.75 10h-11.5zM897.1 1074.4l5.75 10h-11.5zM916.5 1066.2l5.75 10h-11.5zM910.8 1064.2l5.75 10h-11.5zM922.1 1086.3l5.75 10h-11.5zM896.4 1064.9l5.75 10h-11.5zM932.5 1049.7l5.75 10h-11.5zM934.7 1036.8l5.75 10h-11.5zM958.4 1023.2l5.75 10h-11.5zM944.9 1060.7l5.75 10h-11.5zM877.8 1085.7l5.75 10h-11.5zM959 1068.6l5.75 10h-11.5zM963.1 1040.8l5.75 10h-11.5zM940.6 1083.5l5.75 10h-11.5zM941.3 1051.4l5.75 10h-11.5zM912 1024l5.75 10h-11.5zM880.5 1065.2l5.75 10h-11.5zM945 1073.2l5.75 10h-11.5zM917.9 1063.5l5.75 10h-11.5zM911 1043.2l5.75 10h-11.5zM959.9 1037.4l5.75 10h-11.5zM911.3 1028.3l5.75 10h-11.5zM921.9 1046.7l5.75 10h-11.5zM909.4 1017.6l5.75 10h-11.5zM920.1 1089.9l5.75 10h-11.5zM926.7 1079.8l5.75 10h-11.5zM901.5 1061.7l5.75 10h-11.5zM932.4 1055.3l5.75 10h-11.5zM948.6 1051.8l5.75 10h-11.5zM927.7 1011.9l5.75 10h-11.5zM963.5 1066.5l5.75 10h-11.5zM924.9 1076.3l5.75 10h-11.5zM919.1 1041.8l5.75 10h-11.5zM911.7 1070l5.75 10h-11.5zM910.7 1082.5l5.75 10h-11.5zM921.4 1047.4l5.75 10h-11.5zM866.2 1084.2l5.75 10h-11.5zM939.6 1035.4l5.75 10h-11.5zM938.6 1058.4l5.75 10h-11.5zM974.9 1025.4l5.75 10h-11.5zM960.5 1070.8l5.75 10h-11.5zM985.5 1075.9l5.75 10h-11.5zM938.1 1053.6l5.75 10h-11.5zM936.1 1050.4l5.75 10h-11.5zM957.9 1001.2l5.75 10h-11.5zM958.7 1034.9l5.75 10h-11.5zM913 1073.5l5.75 10h-11.5zM880.1 1043.4l5.75 10h-11.5zM905.4 981.5l5.75 10h-11.5zM938.4 1056.9l5.75 10h-11.5zM905.5 1050.9l5.75 10h-11.5zM964.8 1007.7l5.75 10h-11.5zM956.8 994.2l5.75 10h-11.5zM925.1 1072.2l5.75 10h-11.5zM900.9 1075.2l5.75 10h-11.5zM924.8 1047.8l5.75 10h-11.5zM926.1 1057.2l5.75 10h-11.5zM947.2 1064.7l5.75 10h-11.5z" fill="#2aae80"/>
<path d="M899.4 1098.2a2.6 2.6 0 1 0 5.2 0a2.6 2.6 0 1 0 -5.2 0zM952.5 1098.2a2.6 2.6 0 1 0 5.2 0a2.6 2.6 0 1 0 -5.2 0zM954.6 1098.2a2.6 2.6 0 1 0 5.2 0a2.6 2.6 0 1 0 -5.2 0zM921.9 1098.2a2.6 2.6 0 1 0 5.2 0a2.6 2.6 0 1 0 -5.2 0zM958.9 972.9a2.6 2.6 0 1 0 5.2 0a2.6 2.6 0 1 0 -5.2 0zM901.7 996.4a2.6 2.6 0 1 0 5.2 0a2.6 2.6 0 1 0 -5.2 0zM996.8 1040.8a2.6 2.6 0 1 0 5.2 0a2.6 2.6 0 1 0 -5.2 0zM974 980.9a2.6 2.6 0 1 0 5.2 0a2.6 2.6 0 1 0 -5.2 0zM911.3 1033.4a2.6 2.6 0 1 0 5.2 0a2.6 2.6 0 1 0 -5.2 0zM941.2 1006.4a2.6 2.6 0 1 0 5.2 0a2.6 2.6 0 1 0 -5.2 0zM971.1 989.9a2.6 2.6 0 1 0 5.2 0a2.6 2.6 0 1 0 -5.2 0zM947.1 1005a2.6 2.6 0 1 0 5.2 0a2.6 2.6 0 1 0 -5.2 0zM951.4 1065.2a2.6 2.6 0 1 0 5.2 0a2.6 2.6 0 1 0 -5.2 0zM981.7 1059.9a2.6 2.6 0 1 0 5.2 0a2.6 2.6 0 1 0 -5.2 0zM955.8 1094.2a2.6 2.6 0 1 0 5.2 0a2.6 2.6 0 1 0 -5.2 0zM929.8 991.8a2.6 2.6 0 1 0 5.2 0a2.6 2.6 0 1 0 -5.2 0zM922.6 1074.6a2.6 2.6 0 1 0 5.2 0a2.6 2.6 0 1 0 -5.2 0zM913.9 1052a2.6 2.6 0 1 0 5.2 0a2.6 2.6 0 1 0 -5.2 0zM954.3 1007.5a2.6 2.6 0 1 0 5.2 0a2.6 2.6 0 1 0 -5.2 0zM985 998.9a2.6 2.6 0 1 0 5.2 0a2.6 2.6 0 1 0 -5.2 0zM981.2 974.8a2.6 2.6 0 1 0 5.2 0a2.6 2.6 0 1 0 -5.2 0zM893.6 1062.8a2.6 2.6 0 1 0 5.2 0a2.6 2.6 0 1 0 -5.2 0zM951 1090.7a2.6 2.6 0 1 0 5.2 0a2.6 2.6 0 1 0 -5.2 0zM1000.4 972.1a2.6 2.6 0 1 0 5.2 0a2.6 2.6 0 1 0 -5.2 0zM921.3 1047a2.6 2.6 0 1 0 5.2 0a2.6 2.6 0 1 0 -5.2 0zM992.2 976a2.6 2.6 0 1 0 5.2 0a2.6 2.6 0 1 0 -5.2 0zM953.5 983.7a2.6 2.6 0 1 0 5.2 0a2.6 2.6 0 1 0 -5.2 0zM986.7 997.2a2.6 2.6 0 1 0 5.2 0a2.6 2.6 0 1 0 -5.2 0zM1014.9 994a2.6 2.6 0 1 0 5.2 0a2.6 2.6 0 1 0 -5.2 0zM916.1 979.3a2.6 2.6 0 1 0 5.2 0a2.6 2.6 0 1 0 -5.2 0zM1000.8 1084.2a2.6 2.6 0 1 0 5.2 0a2.6 2.6 0 1 0 -5.2 0zM1029.3 987.6a2.6 2.6 0 1 0 5.2 0a2.6 2.6 0 1 0 -5.2 0zM922.8 1058a2.6 2.6 0 1 0 5.2 0a2.6 2.6 0 1 0 -5.2 0zM873.7 963.3a2.6 2.6 0 1 0 5.2 0a2.6 2.6 0 1 0 -5.2 0zM1008.3 962.2a2.6 2.6 0 1 0 5.2 0a2.6 2.6 0 1 0 -5.2 0zM1003.5 891.2a2.6 2.6 0 1 0 5.2 0a2.6 2.6 0 1 0 -5.2 0zM1030.3 910.8a2.6 2.6 0 1 0 5.2 0a2.6 2.6 0 1 0 -5.2 0zM1006.1 933a2.6 2.6 0 1 0 5.2 0a2.6 2.6 0 1 0 -5.2 0zM989.3 942.1a2.6 2.6 0 1 0 5.2 0a2.6 2.6 0 1 0 -5.2 0z" fill="#440f68"/>
<path d="M990.8 1091.5l5.75 10h-11.5zM917.7 1091.5l5.75 10h-11.5zM934.5 1091.5l5.75 10h-11.5zM919.8 1091.5l5.75 10h-11.5zM973.2 1091.5l5.75 10h-11.5zM946.1 1091.5l5.75 10h-11.5zM936 1091.5l5.75 10h-11.5zM914 1091.5l5.75 10h-11.5zM896.1 1091.5l5.75 10h-11.5zM908.1 1091.5l5.75 10h-11.5zM889.6 1091.5l5.75 10h-11.5zM917.7 1091.5l5.75 10h-11.5zM931.3 1091.5l5.75 10h-11.5zM945.6 1055l5.75 10h-11.5zM878.7 1087.4l5.75 10h-11.5zM968.1 990.4l5.75 10h-11.5zM980.3 1039.6l5.75 10h-11.5zM887 1079l5.75 10h-11.5zM935 1038.8l5.75 10h-11.5zM943.8 1050l5.75 10h-11.5zM940.3 1045.9l5.75 10h-11.5zM960.4 1016.8l5.75 10h-11.5zM910.4 1046.1l5.75 10h-11.5zM949.4 1080.3l5.75 10h-11.5zM972.8 1056.6l5.75 10h-11.5zM873.9 997.8l5.75 10h-11.5zM973.7 976.2l5.75 10h-11.5zM962.6 1091.2l5.75 10h-11.5zM914.1 1007.2l5.75 10h-11.5zM909.3 1071.4l5.75 10h-11.5zM904.5 1056.3l5.75 10h-11.5zM901.6 1041.4l5.75 10h-11.5zM951.3 992.7l5.75 10h-11.5zM905.8 1071.6l5.75 10h-11.5zM904.8 1039.8l5.75 10h-11.5zM939.5 1021.8l5.75 10h-11.5zM920.5 1015.8l5.75 10h-11.5zM928.7 1030.8l5.75 10h-11.5zM902.7 1052.1l5.75 10h-11.5zM913.5 1041.1l5.75 10h-11.5zM908.4 1090.5l5.75 10h-11.5zM936.6 1018.3l5.75 10h-11.5zM967.7 1074l5.75 10h-11.5zM914.8 1014.1l5.75 10h-11.5zM892.3 1042.4l5.75 10h-11.5zM920.7 1055.7l5.75 10h-11.5zM949.2 1049.5l5.75 10h-11.5zM912.4 1053.4l5.75 10h-11.5zM925.7 1077.5l5.75 10h-11.5zM966.3 1059.8l5.75 10h-11.5zM919.5 1068l5.75 10h-11.5zM941.6 1052.4l5.75 10h-11.5zM951.1 1020.6l5.75 10h-11.5zM967.1 1072.8l5.75 10h-11.5zM979.6 1012.4l5.75 10h-11.5zM931.3 1081l5.75 10h-11.5zM950 1076.6l5.75 10h-11.5zM925.8 1036.3l5.75 10h-11.5zM943.9 1075.7l5.75 10h-11.5zM936.4 1040.2l5.75 10h-11.5zM871.1 1044.5l5.75 10h-11.5zM956.4 987.7l5.75 10h-11.5zM987.4 1070.2l5.75 10h-11.5zM876.2 1063.9l5.75 10h-11.5zM909 1082.9l5.75 10h-11.5zM927 1036.6l5.75 10h-11.5zM936.2 1058l5.75 10h-11.5zM953.2 1003.3l5.75 10h-11.5zM915.1 1067l5.75 10h-11.5zM903.9 1078.8l5.75 10h-11.5zM946.5 1038.5l5.75 10h-11.5zM939.1 1048.6l5.75 10h-11.5zM921.5 1058.9l5.75 10h-11.5zM937.7 1060.9l5.75 10h-11.5zM980.7 1026.1l5.75 10h-11.5zM982.4 1029.7l5.75 10h-11.5zM904.7 1022.8l5.75 10h-11.5zM926 1031.6l5.75 10h-11.5zM945.3 1037.9l5.75 10h-11.5zM881.1 1063.2l5.75 10h-11.5zM977 1011.3l5.75 10h-11.5zM934.5 995.9l5.75 10h-11.5zM929.2 1029l5.75 10h-11.5z" fill="#2aae80"/>
<path d="M919.3 1098.2a2.6 2.6 0 1 0 5.2 0a2.6 2.6 0 1 0 -5.2 0zM933.1 1098.2a2.6 2.6 0 1 0 5.2 0a2.6 2.6 0 1 0 -5.2 0zM882.2 1098.2a2.6 2.6 0 1 0 5.2 0a2.6 2.6 0 1 0 -5.2 0zM956.3 1098.2a2.6 2.6 0 1 0 5.2 0a2.6 2.6 0 1 0 -5.2 0zM966 988.6a2.6 2.6 0 1 0 5.2 0a2.6 2.6 0 1 0 -5.2 0zM957.2 952.4a2.6 2.6 0 1 0 5.2 0a2.6 2.6 0 1 0 -5.2 0zM940.5 999.8a2.6 2.6 0 1 0 5.2 0a2.6 2.6 0 1 0 -5.2 0zM921.9 965.3a2.6 2.6 0 1 0 5.2 0a2.6 2.6 0 1 0 -5.2 0zM946.2 1072.4a2.6 2.6 0 1 0 5.2 0a2.6 2.6 0 1 0 -5.2 0zM911.2 1017a2.6 2.6 0 1 0 5.2 0a2.6 2.6 0 1 0 -5.2 0zM891.2 1054.4a2.6 2.6 0 1 0 5.2 0a2.6 2.6 0 1 0 -5.2 0zM966.9 1056.5a2.6 2.6 0 1 0 5.2 0a2.6 2.6 0 1 0 -5.2 0zM1009.9 1021.3a2.6 2.6 0 1 0 5.2 0a2.6 2.6 0 1 0 -5.2 0zM963.3 1080.6a2.6 2.6 0 1 0 5.2 0a2.6 2.6 0 1 0 -5.2 0zM956.3 1034.8a2.6 2.6 0 1 0 5.2 0a2.6 2.6 0 1 0 -5.2 0zM860.3 1088.3a2.6 2.6 0 1 0 5.2 0a2.6 2.6 0 1 0 -5.2 0zM870.2 1096.9a2.6 2.6 0 1 0 5.2 0a2.6 2.6 0 1 0 -5.2 0zM974.9 1022.2a2.6 2.6 0 1 0 5.2 0a2.6 2.6 0 1 0 -5.2 0zM1003.4 1012.2a2.6 2.6 0 1 0 5.2 0a2.6 2.6 0 1 0 -5.2 0zM900.2 1048.7a2.6 2.6 0 1 0 5.2 0a2.6 2.6 0 1 0 -5.2 0zM949.2 1037.9a2.6 2.6 0 1 0 5.2 0a2.6 2.6 0 1 0 -5.2 0zM960.2 986.4a2.6 2.6 0 1 0 5.2 0a2.6 2.6 0 1 0 -5.2 0zM981.9 1024.9a2.6 2.6 0 1 0 5.2 0a2.6 2.6 0 1 0 -5.2 0zM955.7 983.2a2.6 2.6 0 1 0 5.2 0a2.6 2.6 0 1 0 -5.2 0zM915.6 992.9a2.6 2.6 0 1 0 5.2 0a2.6 2.6 0 1 0 -5.2 0zM913.1 1013.6a2.6 2.6 0 1 0 5.2 0a2.6 2.6 0 1 0 -5.2 0zM879.9 1078.4a2.6 2.6 0 1 0 5.2 0a2.6 2.6 0 1 0 -5.2 0zM1013.3 1003a2.6 2.6 0 1 0 5.2 0a2.6 2.6 0 1 0 -5.2 0zM1019.8 971a2.6 2.6 0 1 0 5.2 0a2.6 2.6 0 1 0 -5.2 0zM992.1 1002.3a2.6 2.6 0 1 0 5.2 0a2.6 2.6 0 1 0 -5.2 0zM1031 966.2a2.6 2.6 0 1 0 5.2 0a2.6 2.6 0 1 0 -5.2 0zM907.3 1036.2a2.6 2.6 0 1 0 5.2 0a2.6 2.6 0 1 0 -5.2 0zM1042.1 954.5a2.6 2.6 0 1 0 5.2 0a2.6 2.6 0 1 0 -5.2 0zM988.6 1043.1a2.6 2.6 0 1 0 5.2 0a2.6 2.6 0 1 0 -5.2 0zM905.8 1076.6a2.6 2.6 0 1 0 5.2 0a2.6 2.6 0 1 0 -5.2 0zM988 904.6a2.6 2.6 0 1 0 5.2 0a2.6 2.6 0 1 0 -5.2 0zM995.2 926.5a2.6 2.6 0 1 0 5.2 0a2.6 2.6 0 1 0 -5.2 0zM962.6 935a2.6 2.6 0 1 0 5.2 0a2.6 2.6 0 1 0 -5.2 0zM994.2 943.4a2.6 2.6 0 1 0 5.2 0a2.6 2.6 0 1 0 -5.2 0z" fill="#440f68"/>
<path d="M881.5 1080.7 L889.6 1075.5 L897.6 1070.2 L905.7 1064.9 L913.7 1059.4 L921.8 1053.8 L929.9 1048.1 L937.9 1042.2 L946 1036.3 L954.1 1030.3 L962.1 1024.3 L970.2 1018.3 L978.2 1012.2 L986.3 1006.1 L994.4 1000 L1002.4 993.8 L1010.5 987.7 L1018.6 981.5 L1026.6 975.4 L1034.7 969.2 L1042.7 963.1 L1050.8 956.9 L1058.9 950.7 L1066.9 944.6 L1075 938.4 L1083.1 932.2 L1091.1 926 L1099.2 919.9 L1107.2 913.7 L1115.3 907.5 L1115.3 938.5 L1107.2 943.5 L1099.2 948.4 L1091.1 953.4 L1083.1 958.4 L1075 963.4 L1066.9 968.4 L1058.9 973.3 L1050.8 978.3 L1042.7 983.3 L1034.7 988.3 L1026.6 993.3 L1018.6 998.3 L1010.5 1003.3 L1002.4 1008.3 L994.4 1013.3 L986.3 1018.4 L978.2 1023.4 L970.2 1028.5 L962.1 1033.6 L954.1 1038.7 L946 1043.9 L937.9 1049.1 L929.9 1054.4 L921.8 1059.9 L913.7 1065.4 L905.7 1071.1 L897.6 1076.9 L889.6 1082.7 L881.5 1088.7 Z" fill="#999" fill-opacity="0.4"/>
<path d="M881.5 1084.7 L1115.3 923" stroke="#000" stroke-width="4.2"/>
<text x="1076.3" y="1053.5" font-size="23" style="fill:#000;stroke:#000">r = 0.66</text>
<text x="1076.3" y="1079.7" font-size="23" style="fill:#45105f;stroke:#45105f">r = 0.59</text>
<text x="1076.3" y="1105.9" font-size="23" style="fill:#24a884;stroke:#24a884">r = 0.51</text>
<path d="M1447 1091.5l5.75 10h-11.5zM1433.4 1091.5l5.75 10h-11.5zM1456.2 1091.5l5.75 10h-11.5zM1442 1091.5l5.75 10h-11.5zM1485.5 1091.5l5.75 10h-11.5zM1447.6 1091.5l5.75 10h-11.5zM1459 1091.5l5.75 10h-11.5zM1464.6 1091.5l5.75 10h-11.5zM1453.1 1091.5l5.75 10h-11.5zM1468.7 1091.5l5.75 10h-11.5zM1491.6 1091.5l5.75 10h-11.5zM1434 1091.5l5.75 10h-11.5zM1472.5 1091.5l5.75 10h-11.5zM1457.7 1091.5l5.75 10h-11.5zM1453.1 1034.1l5.75 10h-11.5zM1460.2 1067.5l5.75 10h-11.5zM1548.5 1050.7l5.75 10h-11.5zM1435 1019l5.75 10h-11.5zM1423 1026.3l5.75 10h-11.5zM1447.2 1069l5.75 10h-11.5zM1501.8 1065.6l5.75 10h-11.5zM1495.9 1032.5l5.75 10h-11.5zM1500.2 1066l5.75 10h-11.5zM1424.6 1038.3l5.75 10h-11.5zM1462.8 1067.2l5.75 10h-11.5zM1488.7 1014.7l5.75 10h-11.5zM1483.6 1009.3l5.75 10h-11.5zM1466.1 1044.1l5.75 10h-11.5zM1465.8 1028l5.75 10h-11.5zM1462.7 1039.2l5.75 10h-11.5zM1476 1010.7l5.75 10h-11.5zM1465.2 1072l5.75 10h-11.5zM1445.7 1009.8l5.75 10h-11.5zM1443.5 1004.6l5.75 10h-11.5zM1477.1 1019.5l5.75 10h-11.5zM1411.3 1035.9l5.75 10h-11.5zM1449 1046.4l5.75 10h-11.5zM1456.8 1043.8l5.75 10h-11.5zM1443.3 1054.6l5.75 10h-11.5zM1454.7 1059.3l5.75 10h-11.5zM1439.2 1088.5l5.75 10h-11.5zM1464.6 1054.4l5.75 10h-11.5zM1469.8 1047l5.75 10h-11.5zM1459.2 1074.5l5.75 10h-11.5zM1410.9 1053.9l5.75 10h-11.5zM1451.3 1070.5l5.75 10h-11.5zM1483 1045.1l5.75 10h-11.5zM1484 1048l5.75 10h-11.5zM1456.3 1089.4l5.75 10h-11.5zM1435.4 988.6l5.75 10h-11.5zM1543.3 1030.6l5.75 10h-11.5zM1478.3 1078.2l5.75 10h-11.5zM1443 1061.4l5.75 10h-11.5zM1473.4 1013.1l5.75 10h-11.5zM1449.7 1027.4l5.75 10h-11.5zM1450 1063l5.75 10h-11.5zM1450.5 1052.6l5.75 10h-11.5zM1424.2 1055.9l5.75 10h-11.5zM1476.3 1077l5.75 10h-11.5zM1460 984.3l5.75 10h-11.5zM1475.8 1021.5l5.75 10h-11.5zM1400 1033l5.75 10h-11.5zM1513.1 1020.3l5.75 10h-11.5zM1475.3 1006.7l5.75 10h-11.5zM1453.3 1072.5l5.75 10h-11.5zM1477 1048.4l5.75 10h-11.5zM1471.9 1068.2l5.75 10h-11.5zM1439.3 1042.1l5.75 10h-11.5zM1491 1044.9l5.75 10h-11.5zM1469 1045.4l5.75 10h-11.5zM1446.7 999.8l5.75 10h-11.5zM1460.9 1061.8l5.75 10h-11.5zM1417.7 1069.3l5.75 10h-11.5zM1464.8 979.8l5.75 10h-11.5zM1473 1033.4l5.75 10h-11.5zM1455.3 1049.1l5.75 10h-11.5zM1411.9 1053.1l5.75 10h-11.5zM1450 1062.2l5.75 10h-11.5zM1468.5 1058.6l5.75 10h-11.5zM1488.7 1075l5.75 10h-11.5zM1475.1 1088.1l5.75 10h-11.5zM1463.7 1057.7l5.75 10h-11.5zM1465.9 1060.2l5.75 10h-11.5zM1458.1 1040.5l5.75 10h-11.5z" fill="#2aae80"/>
<path d="M1444.4 1098.2a2.6 2.6 0 1 0 5.2 0a2.6 2.6 0 1 0 -5.2 0zM1392.3 1098.2a2.6 2.6 0 1 0 5.2 0a2.6 2.6 0 1 0 -5.2 0zM1444.4 1098.2a2.6 2.6 0 1 0 5.2 0a2.6 2.6 0 1 0 -5.2 0zM1472.8 1098.2a2.6 2.6 0 1 0 5.2 0a2.6 2.6 0 1 0 -5.2 0zM1504.1 1085.1a2.6 2.6 0 1 0 5.2 0a2.6 2.6 0 1 0 -5.2 0zM1545.8 994.9a2.6 2.6 0 1 0 5.2 0a2.6 2.6 0 1 0 -5.2 0zM1453 1031.5a2.6 2.6 0 1 0 5.2 0a2.6 2.6 0 1 0 -5.2 0zM1508.3 1004.3a2.6 2.6 0 1 0 5.2 0a2.6 2.6 0 1 0 -5.2 0zM1526.7 977.6a2.6 2.6 0 1 0 5.2 0a2.6 2.6 0 1 0 -5.2 0zM1540 981.7a2.6 2.6 0 1 0 5.2 0a2.6 2.6 0 1 0 -5.2 0zM1454.9 1029.2a2.6 2.6 0 1 0 5.2 0a2.6 2.6 0 1 0 -5.2 0zM1478.8 1092.1a2.6 2.6 0 1 0 5.2 0a2.6 2.6 0 1 0 -5.2 0zM1497.1 949.4a2.6 2.6 0 1 0 5.2 0a2.6 2.6 0 1 0 -5.2 0zM1484.7 964.2a2.6 2.6 0 1 0 5.2 0a2.6 2.6 0 1 0 -5.2 0zM1481.1 967.8a2.6 2.6 0 1 0 5.2 0a2.6 2.6 0 1 0 -5.2 0zM1499.4 1028a2.6 2.6 0 1 0 5.2 0a2.6 2.6 0 1 0 -5.2 0zM1508.6 1070.1a2.6 2.6 0 1 0 5.2 0a2.6 2.6 0 1 0 -5.2 0zM1471.6 1044.7a2.6 2.6 0 1 0 5.2 0a2.6 2.6 0 1 0 -5.2 0zM1520 990.6a2.6 2.6 0 1 0 5.2 0a2.6 2.6 0 1 0 -5.2 0zM1500.5 1039.5a2.6 2.6 0 1 0 5.2 0a2.6 2.6 0 1 0 -5.2 0zM1524.1 969.4a2.6 2.6 0 1 0 5.2 0a2.6 2.6 0 1 0 -5.2 0zM1456.9 1009.4a2.6 2.6 0 1 0 5.2 0a2.6 2.6 0 1 0 -5.2 0zM1511.6 968.6a2.6 2.6 0 1 0 5.2 0a2.6 2.6 0 1 0 -5.2 0zM1516.2 1015.7a2.6 2.6 0 1 0 5.2 0a2.6 2.6 0 1 0 -5.2 0zM1546.6 961.2a2.6 2.6 0 1 0 5.2 0a2.6 2.6 0 1 0 -5.2 0zM1443.1 1053.6a2.6 2.6 0 1 0 5.2 0a2.6 2.6 0 1 0 -5.2 0zM1512.5 1010.4a2.6 2.6 0 1 0 5.2 0a2.6 2.6 0 1 0 -5.2 0zM1499.3 973.7a2.6 2.6 0 1 0 5.2 0a2.6 2.6 0 1 0 -5.2 0zM1565.3 985.5a2.6 2.6 0 1 0 5.2 0a2.6 2.6 0 1 0 -5.2 0zM1470.6 1049.7a2.6 2.6 0 1 0 5.2 0a2.6 2.6 0 1 0 -5.2 0zM1514.5 1067.6a2.6 2.6 0 1 0 5.2 0a2.6 2.6 0 1 0 -5.2 0zM1539.5 959.1a2.6 2.6 0 1 0 5.2 0a2.6 2.6 0 1 0 -5.2 0zM1471.7 1026.1a2.6 2.6 0 1 0 5.2 0a2.6 2.6 0 1 0 -5.2 0zM1540.5 978.3a2.6 2.6 0 1 0 5.2 0a2.6 2.6 0 1 0 -5.2 0zM1509.2 1000.9a2.6 2.6 0 1 0 5.2 0a2.6 2.6 0 1 0 -5.2 0zM1501.3 1019.4a2.6 2.6 0 1 0 5.2 0a2.6 2.6 0 1 0 -5.2 0zM1549.3 906.9a2.6 2.6 0 1 0 5.2 0a2.6 2.6 0 1 0 -5.2 0zM1510 930.7a2.6 2.6 0 1 0 5.2 0a2.6 2.6 0 1 0 -5.2 0zM1561.6 942.1a2.6 2.6 0 1 0 5.2 0a2.6 2.6 0 1 0 -5.2 0z" fill="#440f68"/>
<path d="M1450.1 1091.5l5.75 10h-11.5zM1444.4 1091.5l5.75 10h-11.5zM1454.4 1091.5l5.75 10h-11.5zM1438.4 1091.5l5.75 10h-11.5zM1461.4 1091.5l5.75 10h-11.5zM1447.7 1091.5l5.75 10h-11.5zM1444.1 1091.5l5.75 10h-11.5zM1448.8 1091.5l5.75 10h-11.5zM1452.5 1091.5l5.75 10h-11.5zM1449.4 1091.5l5.75 10h-11.5zM1477.4 1091.5l5.75 10h-11.5zM1444.6 1091.5l5.75 10h-11.5zM1506.3 1091.5l5.75 10h-11.5zM1450.6 1059.6l5.75 10h-11.5zM1434.9 1062.5l5.75 10h-11.5zM1491.4 1016.3l5.75 10h-11.5zM1478.8 1008.7l5.75 10h-11.5zM1476.8 1042.9l5.75 10h-11.5zM1448.3 1013.5l5.75 10h-11.5zM1501.7 978.9l5.75 10h-11.5zM1450.8 1081.6l5.75 10h-11.5zM1478.2 1069.6l5.75 10h-11.5zM1484.6 1037.6l5.75 10h-11.5zM1445.6 1024.6l5.75 10h-11.5zM1471.8 1084.9l5.75 10h-11.5zM1499.7 1086.7l5.75 10h-11.5zM1479.3 986l5.75 10h-11.5zM1447 1074.4l5.75 10h-11.5zM1426 1066.2l5.75 10h-11.5zM1468.4 1064.2l5.75 10h-11.5zM1470 1086.3l5.75 10h-11.5zM1475.9 1064.9l5.75 10h-11.5zM1438.7 1049.7l5.75 10h-11.5zM1516.1 1036.8l5.75 10h-11.5zM1477.5 1023.2l5.75 10h-11.5zM1455.6 1060.7l5.75 10h-11.5zM1420.7 1085.7l5.75 10h-11.5zM1455.6 1068.6l5.75 10h-11.5zM1441.9 1040.8l5.75 10h-11.5zM1428 1083.5l5.75 10h-11.5zM1467 1051.4l5.75 10h-11.5zM1503.3 1024l5.75 10h-11.5zM1482.9 1065.2l5.75 10h-11.5zM1428.4 1073.2l5.75 10h-11.5zM1408.7 1063.5l5.75 10h-11.5zM1491.5 1043.2l5.75 10h-11.5zM1453.5 1037.4l5.75 10h-11.5zM1472.7 1028.3l5.75 10h-11.5zM1579.5 1046.7l5.75 10h-11.5zM1471.6 1017.6l5.75 10h-11.5zM1462 1089.9l5.75 10h-11.5zM1556.6 1079.8l5.75 10h-11.5zM1435.9 1061.7l5.75 10h-11.5zM1433.3 1055.3l5.75 10h-11.5zM1449.6 1051.8l5.75 10h-11.5zM1439.3 1011.9l5.75 10h-11.5zM1516.4 1066.5l5.75 10h-11.5zM1444.4 1076.3l5.75 10h-11.5zM1452.9 1041.8l5.75 10h-11.5zM1469.8 1070l5.75 10h-11.5zM1442.2 1082.5l5.75 10h-11.5zM1436.8 1047.4l5.75 10h-11.5zM1440.2 1084.2l5.75 10h-11.5zM1467.5 1035.4l5.75 10h-11.5zM1469.6 1058.4l5.75 10h-11.5zM1500.7 1025.4l5.75 10h-11.5zM1460.6 1070.8l5.75 10h-11.5zM1570.5 1075.9l5.75 10h-11.5zM1442.1 1053.6l5.75 10h-11.5zM1455.7 1050.4l5.75 10h-11.5zM1504.6 1001.2l5.75 10h-11.5zM1465.8 1034.9l5.75 10h-11.5zM1418.1 1073.5l5.75 10h-11.5zM1435.2 1043.4l5.75 10h-11.5zM1471.5 981.5l5.75 10h-11.5zM1458.3 1056.9l5.75 10h-11.5zM1571.2 1050.9l5.75 10h-11.5zM1499.6 1007.7l5.75 10h-11.5zM1471.4 994.2l5.75 10h-11.5zM1458.7 1072.2l5.75 10h-11.5zM1433 1075.2l5.75 10h-11.5zM1459.7 1047.8l5.75 10h-11.5zM1461.2 1057.2l5.75 10h-11.5zM1468 1064.7l5.75 10h-11.5z" fill="#2aae80"/>
<path d="M1427.4 1098.2a2.6 2.6 0 1 0 5.2 0a2.6 2.6 0 1 0 -5.2 0zM1471.4 1098.2a2.6 2.6 0 1 0 5.2 0a2.6 2.6 0 1 0 -5.2 0zM1401.8 1098.2a2.6 2.6 0 1 0 5.2 0a2.6 2.6 0 1 0 -5.2 0zM1451.2 1098.2a2.6 2.6 0 1 0 5.2 0a2.6 2.6 0 1 0 -5.2 0zM1521.1 972.9a2.6 2.6 0 1 0 5.2 0a2.6 2.6 0 1 0 -5.2 0zM1454.4 996.4a2.6 2.6 0 1 0 5.2 0a2.6 2.6 0 1 0 -5.2 0zM1457.7 1040.8a2.6 2.6 0 1 0 5.2 0a2.6 2.6 0 1 0 -5.2 0zM1521.6 980.9a2.6 2.6 0 1 0 5.2 0a2.6 2.6 0 1 0 -5.2 0zM1530.9 1033.4a2.6 2.6 0 1 0 5.2 0a2.6 2.6 0 1 0 -5.2 0zM1526.7 1006.4a2.6 2.6 0 1 0 5.2 0a2.6 2.6 0 1 0 -5.2 0zM1531.4 989.9a2.6 2.6 0 1 0 5.2 0a2.6 2.6 0 1 0 -5.2 0zM1446.5 1005a2.6 2.6 0 1 0 5.2 0a2.6 2.6 0 1 0 -5.2 0zM1469 1065.2a2.6 2.6 0 1 0 5.2 0a2.6 2.6 0 1 0 -5.2 0zM1453.8 1059.9a2.6 2.6 0 1 0 5.2 0a2.6 2.6 0 1 0 -5.2 0zM1389.8 1094.2a2.6 2.6 0 1 0 5.2 0a2.6 2.6 0 1 0 -5.2 0zM1501.8 991.8a2.6 2.6 0 1 0 5.2 0a2.6 2.6 0 1 0 -5.2 0zM1462.2 1074.6a2.6 2.6 0 1 0 5.2 0a2.6 2.6 0 1 0 -5.2 0zM1461.7 1052a2.6 2.6 0 1 0 5.2 0a2.6 2.6 0 1 0 -5.2 0zM1492 1007.5a2.6 2.6 0 1 0 5.2 0a2.6 2.6 0 1 0 -5.2 0zM1495.1 998.9a2.6 2.6 0 1 0 5.2 0a2.6 2.6 0 1 0 -5.2 0zM1564.5 974.8a2.6 2.6 0 1 0 5.2 0a2.6 2.6 0 1 0 -5.2 0zM1464.5 1062.8a2.6 2.6 0 1 0 5.2 0a2.6 2.6 0 1 0 -5.2 0zM1478.3 1090.7a2.6 2.6 0 1 0 5.2 0a2.6 2.6 0 1 0 -5.2 0zM1521.7 972.1a2.6 2.6 0 1 0 5.2 0a2.6 2.6 0 1 0 -5.2 0zM1432.8 1047a2.6 2.6 0 1 0 5.2 0a2.6 2.6 0 1 0 -5.2 0zM1574.2 976a2.6 2.6 0 1 0 5.2 0a2.6 2.6 0 1 0 -5.2 0zM1522.2 983.7a2.6 2.6 0 1 0 5.2 0a2.6 2.6 0 1 0 -5.2 0zM1535.3 997.2a2.6 2.6 0 1 0 5.2 0a2.6 2.6 0 1 0 -5.2 0zM1516.8 994a2.6 2.6 0 1 0 5.2 0a2.6 2.6 0 1 0 -5.2 0zM1517.1 979.3a2.6 2.6 0 1 0 5.2 0a2.6 2.6 0 1 0 -5.2 0zM1530.1 1084.2a2.6 2.6 0 1 0 5.2 0a2.6 2.6 0 1 0 -5.2 0zM1536.7 987.6a2.6 2.6 0 1 0 5.2 0a2.6 2.6 0 1 0 -5.2 0zM1458.2 1058a2.6 2.6 0 1 0 5.2 0a2.6 2.6 0 1 0 -5.2 0zM1527.6 963.3a2.6 2.6 0 1 0 5.2 0a2.6 2.6 0 1 0 -5.2 0zM1537.5 962.2a2.6 2.6 0 1 0 5.2 0a2.6 2.6 0 1 0 -5.2 0zM1564.3 891.2a2.6 2.6 0 1 0 5.2 0a2.6 2.6 0 1 0 -5.2 0zM1528.4 910.8a2.6 2.6 0 1 0 5.2 0a2.6 2.6 0 1 0 -5.2 0zM1512.7 933a2.6 2.6 0 1 0 5.2 0a2.6 2.6 0 1 0 -5.2 0zM1552.7 942.1a2.6 2.6 0 1 0 5.2 0a2.6 2.6 0 1 0 -5.2 0z" fill="#440f68"/>
<path d="M1451.1 1091.5l5.75 10h-11.5zM1458.6 1091.5l5.75 10h-11.5zM1432.1 1091.5l5.75 10h-11.5zM1476.8 1091.5l5.75 10h-11.5zM1488.6 1091.5l5.75 10h-11.5zM1425.8 1091.5l5.75 10h-11.5zM1456 1091.5l5.75 10h-11.5zM1429.7 1091.5l5.75 10h-11.5zM1454.7 1091.5l5.75 10h-11.5zM1448.3 1091.5l5.75 10h-11.5zM1452.2 1091.5l5.75 10h-11.5zM1462.5 1091.5l5.75 10h-11.5zM1449 1091.5l5.75 10h-11.5zM1460.6 1055l5.75 10h-11.5zM1477.2 1087.4l5.75 10h-11.5zM1455.9 990.4l5.75 10h-11.5zM1420.4 1039.6l5.75 10h-11.5zM1458.5 1079l5.75 10h-11.5zM1438.5 1038.8l5.75 10h-11.5zM1447.6 1050l5.75 10h-11.5zM1472.8 1045.9l5.75 10h-11.5zM1493.8 1016.8l5.75 10h-11.5zM1487.1 1046.1l5.75 10h-11.5zM1466.3 1080.3l5.75 10h-11.5zM1449.4 1056.6l5.75 10h-11.5zM1481.6 997.8l5.75 10h-11.5zM1489.6 976.2l5.75 10h-11.5zM1460.2 1091.2l5.75 10h-11.5zM1471 1007.2l5.75 10h-11.5zM1550.5 1071.4l5.75 10h-11.5zM1444.9 1056.3l5.75 10h-11.5zM1477.9 1041.4l5.75 10h-11.5zM1480.7 992.7l5.75 10h-11.5zM1440.4 1071.6l5.75 10h-11.5zM1451.3 1039.8l5.75 10h-11.5zM1442 1021.8l5.75 10h-11.5zM1450.7 1015.8l5.75 10h-11.5zM1437.6 1030.8l5.75 10h-11.5zM1461.9 1052.1l5.75 10h-11.5zM1473.8 1041.1l5.75 10h-11.5zM1434.2 1090.5l5.75 10h-11.5zM1463.6 1018.3l5.75 10h-11.5zM1459.3 1074l5.75 10h-11.5zM1461.3 1014.1l5.75 10h-11.5zM1452.7 1042.4l5.75 10h-11.5zM1472.2 1055.7l5.75 10h-11.5zM1468.2 1049.5l5.75 10h-11.5zM1466 1053.4l5.75 10h-11.5zM1436.4 1077.5l5.75 10h-11.5zM1452 1059.8l5.75 10h-11.5zM1444.6 1068l5.75 10h-11.5zM1468.6 1052.4l5.75 10h-11.5zM1506.1 1020.6l5.75 10h-11.5zM1479.7 1072.8l5.75 10h-11.5zM1458.7 1012.4l5.75 10h-11.5zM1554.3 1081l5.75 10h-11.5zM1457 1076.6l5.75 10h-11.5zM1465.6 1036.3l5.75 10h-11.5zM1464.3 1075.7l5.75 10h-11.5zM1407.2 1040.2l5.75 10h-11.5zM1492.5 1044.5l5.75 10h-11.5zM1480.2 987.7l5.75 10h-11.5zM1442.8 1070.2l5.75 10h-11.5zM1474.9 1063.9l5.75 10h-11.5zM1469.1 1082.9l5.75 10h-11.5zM1542.9 1036.6l5.75 10h-11.5zM1515.5 1058l5.75 10h-11.5zM1471.4 1003.3l5.75 10h-11.5zM1530.9 1067l5.75 10h-11.5zM1441.8 1078.8l5.75 10h-11.5zM1487.7 1038.5l5.75 10h-11.5zM1444.2 1048.6l5.75 10h-11.5zM1445.5 1058.9l5.75 10h-11.5zM1475.8 1060.9l5.75 10h-11.5zM1424.4 1026.1l5.75 10h-11.5zM1434.8 1029.7l5.75 10h-11.5zM1476.6 1022.8l5.75 10h-11.5zM1486.2 1031.6l5.75 10h-11.5zM1478.2 1037.9l5.75 10h-11.5zM1508.7 1063.2l5.75 10h-11.5zM1536.6 1011.3l5.75 10h-11.5zM1462.3 995.9l5.75 10h-11.5zM1473.6 1029l5.75 10h-11.5z" fill="#2aae80"/>
<path d="M1374.4 1098.2a2.6 2.6 0 1 0 5.2 0a2.6 2.6 0 1 0 -5.2 0zM1434.3 1098.2a2.6 2.6 0 1 0 5.2 0a2.6 2.6 0 1 0 -5.2 0zM1429.7 1098.2a2.6 2.6 0 1 0 5.2 0a2.6 2.6 0 1 0 -5.2 0zM1431.9 1098.2a2.6 2.6 0 1 0 5.2 0a2.6 2.6 0 1 0 -5.2 0zM1502.6 988.6a2.6 2.6 0 1 0 5.2 0a2.6 2.6 0 1 0 -5.2 0zM1552.5 952.4a2.6 2.6 0 1 0 5.2 0a2.6 2.6 0 1 0 -5.2 0zM1485.4 999.8a2.6 2.6 0 1 0 5.2 0a2.6 2.6 0 1 0 -5.2 0zM1537 965.3a2.6 2.6 0 1 0 5.2 0a2.6 2.6 0 1 0 -5.2 0zM1516.7 1072.4a2.6 2.6 0 1 0 5.2 0a2.6 2.6 0 1 0 -5.2 0zM1484.9 1017a2.6 2.6 0 1 0 5.2 0a2.6 2.6 0 1 0 -5.2 0zM1475.5 1054.4a2.6 2.6 0 1 0 5.2 0a2.6 2.6 0 1 0 -5.2 0zM1557.2 1056.5a2.6 2.6 0 1 0 5.2 0a2.6 2.6 0 1 0 -5.2 0zM1525.3 1021.3a2.6 2.6 0 1 0 5.2 0a2.6 2.6 0 1 0 -5.2 0zM1395.3 1080.6a2.6 2.6 0 1 0 5.2 0a2.6 2.6 0 1 0 -5.2 0zM1489.4 1034.8a2.6 2.6 0 1 0 5.2 0a2.6 2.6 0 1 0 -5.2 0zM1493.9 1088.3a2.6 2.6 0 1 0 5.2 0a2.6 2.6 0 1 0 -5.2 0zM1442.2 1096.9a2.6 2.6 0 1 0 5.2 0a2.6 2.6 0 1 0 -5.2 0zM1534.7 1022.2a2.6 2.6 0 1 0 5.2 0a2.6 2.6 0 1 0 -5.2 0zM1492.5 1012.2a2.6 2.6 0 1 0 5.2 0a2.6 2.6 0 1 0 -5.2 0zM1487.8 1048.7a2.6 2.6 0 1 0 5.2 0a2.6 2.6 0 1 0 -5.2 0zM1520.7 1037.9a2.6 2.6 0 1 0 5.2 0a2.6 2.6 0 1 0 -5.2 0zM1537.4 986.4a2.6 2.6 0 1 0 5.2 0a2.6 2.6 0 1 0 -5.2 0zM1502.7 1024.9a2.6 2.6 0 1 0 5.2 0a2.6 2.6 0 1 0 -5.2 0zM1526.6 983.2a2.6 2.6 0 1 0 5.2 0a2.6 2.6 0 1 0 -5.2 0zM1482.5 992.9a2.6 2.6 0 1 0 5.2 0a2.6 2.6 0 1 0 -5.2 0zM1508.4 1013.6a2.6 2.6 0 1 0 5.2 0a2.6 2.6 0 1 0 -5.2 0zM1444 1078.4a2.6 2.6 0 1 0 5.2 0a2.6 2.6 0 1 0 -5.2 0zM1493.6 1003a2.6 2.6 0 1 0 5.2 0a2.6 2.6 0 1 0 -5.2 0zM1527.2 971a2.6 2.6 0 1 0 5.2 0a2.6 2.6 0 1 0 -5.2 0zM1506.8 1002.3a2.6 2.6 0 1 0 5.2 0a2.6 2.6 0 1 0 -5.2 0zM1491.1 966.2a2.6 2.6 0 1 0 5.2 0a2.6 2.6 0 1 0 -5.2 0zM1457.2 1036.2a2.6 2.6 0 1 0 5.2 0a2.6 2.6 0 1 0 -5.2 0zM1458.9 954.5a2.6 2.6 0 1 0 5.2 0a2.6 2.6 0 1 0 -5.2 0zM1478.6 1043.1a2.6 2.6 0 1 0 5.2 0a2.6 2.6 0 1 0 -5.2 0zM1533.9 1076.6a2.6 2.6 0 1 0 5.2 0a2.6 2.6 0 1 0 -5.2 0zM1522 904.6a2.6 2.6 0 1 0 5.2 0a2.6 2.6 0 1 0 -5.2 0zM1533.6 926.5a2.6 2.6 0 1 0 5.2 0a2.6 2.6 0 1 0 -5.2 0zM1552.6 935a2.6 2.6 0 1 0 5.2 0a2.6 2.6 0 1 0 -5.2 0zM1517.3 943.4a2.6 2.6 0 1 0 5.2 0a2.6 2.6 0 1 0 -5.2 0z" fill="#440f68"/>
<path d="M1396.7 1100 L1403.4 1095.5 L1410.1 1090.9 L1416.7 1086.3 L1423.4 1081.6 L1430.1 1076.8 L1436.8 1071.8 L1443.5 1066.8 L1450.2 1061.7 L1456.8 1056.5 L1463.5 1051.3 L1470.2 1046 L1476.9 1040.7 L1483.6 1035.4 L1490.3 1030.1 L1496.9 1024.7 L1503.6 1019.4 L1510.3 1014 L1517 1008.7 L1523.7 1003.3 L1530.4 997.9 L1537 992.5 L1543.7 987.2 L1550.4 981.8 L1557.1 976.4 L1563.8 971 L1570.5 965.6 L1577.1 960.2 L1583.8 954.8 L1590.5 949.4 L1590.5 977.4 L1583.8 981.7 L1577.1 986 L1570.5 990.3 L1563.8 994.6 L1557.1 998.9 L1550.4 1003.2 L1543.7 1007.5 L1537 1011.8 L1530.4 1016.2 L1523.7 1020.5 L1517 1024.8 L1510.3 1029.1 L1503.6 1033.5 L1496.9 1037.8 L1490.3 1042.2 L1483.6 1046.5 L1476.9 1050.9 L1470.2 1055.3 L1463.5 1059.7 L1456.8 1064.2 L1450.2 1068.7 L1443.5 1073.3 L1436.8 1078 L1430.1 1082.8 L1423.4 1087.6 L1416.7 1092.6 L1410.1 1097.7 L1403.4 1102.8 L1396.7 1108 Z" fill="#999" fill-opacity="0.4"/>
<path d="M1396.7 1104 L1590.5 963.4" stroke="#000" stroke-width="4.2"/>
<text x="1590.6" y="1053.5" font-size="23" style="fill:#000;stroke:#000">r = 0.54</text>
<text x="1590.6" y="1079.7" font-size="23" style="fill:#45105f;stroke:#45105f">r = 0.57</text>
<text x="1590.6" y="1105.9" font-size="23" style="fill:#24a884;stroke:#24a884">r = 0.31</text>
<path d="M385.8 1412l5.75 10h-11.5zM417.7 1412l5.75 10h-11.5zM350.1 1412l5.75 10h-11.5zM386.9 1412l5.75 10h-11.5zM464.2 1412l5.75 10h-11.5zM362.8 1412l5.75 10h-11.5zM345.8 1412l5.75 10h-11.5zM383.3 1412l5.75 10h-11.5zM387.8 1412l5.75 10h-11.5zM375.5 1412l5.75 10h-11.5zM417.1 1412l5.75 10h-11.5zM327.7 1412l5.75 10h-11.5zM413.5 1412l5.75 10h-11.5zM455.1 1412l5.75 10h-11.5zM482.7 1354.6l5.75 10h-11.5zM367.8 1388l5.75 10h-11.5zM430.3 1371.2l5.75 10h-11.5zM516.4 1339.5l5.75 10h-11.5zM514.6 1346.8l5.75 10h-11.5zM408 1389.5l5.75 10h-11.5zM425 1386.1l5.75 10h-11.5zM482.4 1353l5.75 10h-11.5zM426.8 1386.5l5.75 10h-11.5zM432.3 1358.8l5.75 10h-11.5zM394.5 1387.7l5.75 10h-11.5zM456.5 1335.2l5.75 10h-11.5zM501.2 1329.8l5.75 10h-11.5zM464.2 1364.6l5.75 10h-11.5zM459.3 1348.5l5.75 10h-11.5zM487.6 1359.7l5.75 10h-11.5zM476.9 1331.2l5.75 10h-11.5zM361.4 1392.5l5.75 10h-11.5zM445.8 1330.3l5.75 10h-11.5zM538.6 1325.1l5.75 10h-11.5zM465.8 1340l5.75 10h-11.5zM436.2 1356.4l5.75 10h-11.5zM417.5 1366.9l5.75 10h-11.5zM440.9 1364.3l5.75 10h-11.5zM454.5 1375.1l5.75 10h-11.5zM393.6 1379.8l5.75 10h-11.5zM351.8 1409l5.75 10h-11.5zM427.7 1374.9l5.75 10h-11.5zM450.3 1367.5l5.75 10h-11.5zM441.8 1395l5.75 10h-11.5zM438 1374.4l5.75 10h-11.5zM410.7 1391l5.75 10h-11.5zM457.8 1365.6l5.75 10h-11.5zM442.3 1368.5l5.75 10h-11.5zM358 1409.9l5.75 10h-11.5zM438 1309.1l5.75 10h-11.5zM376.4 1351.1l5.75 10h-11.5zM372.6 1398.7l5.75 10h-11.5zM436.7 1381.9l5.75 10h-11.5zM477.7 1333.6l5.75 10h-11.5zM445.4 1347.9l5.75 10h-11.5zM427.1 1383.5l5.75 10h-11.5zM407.4 1373.1l5.75 10h-11.5zM424.9 1376.4l5.75 10h-11.5zM358.6 1397.5l5.75 10h-11.5zM532.6 1304.8l5.75 10h-11.5zM429.2 1342l5.75 10h-11.5zM481.3 1353.5l5.75 10h-11.5zM432.5 1340.8l5.75 10h-11.5zM478.9 1327.2l5.75 10h-11.5zM429.1 1393l5.75 10h-11.5zM462.9 1368.9l5.75 10h-11.5zM378 1388.7l5.75 10h-11.5zM412.2 1362.6l5.75 10h-11.5zM469.6 1365.4l5.75 10h-11.5zM468.7 1365.9l5.75 10h-11.5zM493.4 1320.3l5.75 10h-11.5zM436.8 1382.3l5.75 10h-11.5zM403.2 1389.8l5.75 10h-11.5zM458.8 1300.3l5.75 10h-11.5zM436.9 1353.9l5.75 10h-11.5zM458.7 1369.6l5.75 10h-11.5zM410.2 1373.6l5.75 10h-11.5zM402.8 1382.7l5.75 10h-11.5zM479 1379.1l5.75 10h-11.5zM409.2 1395.5l5.75 10h-11.5zM413.2 1408.6l5.75 10h-11.5zM462.4 1378.2l5.75 10h-11.5zM480.1 1380.7l5.75 10h-11.5zM499.3 1361l5.75 10h-11.5z" fill="#2aae80"/>
<path d="M399.6 1418.7a2.6 2.6 0 1 0 5.2 0a2.6 2.6 0 1 0 -5.2 0zM337 1418.7a2.6 2.6 0 1 0 5.2 0a2.6 2.6 0 1 0 -5.2 0zM369.4 1418.7a2.6 2.6 0 1 0 5.2 0a2.6 2.6 0 1 0 -5.2 0zM363.1 1418.7a2.6 2.6 0 1 0 5.2 0a2.6 2.6 0 1 0 -5.2 0zM420.5 1405.6a2.6 2.6 0 1 0 5.2 0a2.6 2.6 0 1 0 -5.2 0zM466.4 1315.4a2.6 2.6 0 1 0 5.2 0a2.6 2.6 0 1 0 -5.2 0zM406.1 1352a2.6 2.6 0 1 0 5.2 0a2.6 2.6 0 1 0 -5.2 0zM534.8 1324.8a2.6 2.6 0 1 0 5.2 0a2.6 2.6 0 1 0 -5.2 0zM521 1298.1a2.6 2.6 0 1 0 5.2 0a2.6 2.6 0 1 0 -5.2 0zM526.8 1302.2a2.6 2.6 0 1 0 5.2 0a2.6 2.6 0 1 0 -5.2 0zM476.1 1349.7a2.6 2.6 0 1 0 5.2 0a2.6 2.6 0 1 0 -5.2 0zM368.3 1412.6a2.6 2.6 0 1 0 5.2 0a2.6 2.6 0 1 0 -5.2 0zM500.9 1269.9a2.6 2.6 0 1 0 5.2 0a2.6 2.6 0 1 0 -5.2 0zM522.2 1284.7a2.6 2.6 0 1 0 5.2 0a2.6 2.6 0 1 0 -5.2 0zM503.6 1288.3a2.6 2.6 0 1 0 5.2 0a2.6 2.6 0 1 0 -5.2 0zM430.3 1348.5a2.6 2.6 0 1 0 5.2 0a2.6 2.6 0 1 0 -5.2 0zM457.9 1390.6a2.6 2.6 0 1 0 5.2 0a2.6 2.6 0 1 0 -5.2 0zM403.6 1365.2a2.6 2.6 0 1 0 5.2 0a2.6 2.6 0 1 0 -5.2 0zM459.5 1311.1a2.6 2.6 0 1 0 5.2 0a2.6 2.6 0 1 0 -5.2 0zM411.8 1360a2.6 2.6 0 1 0 5.2 0a2.6 2.6 0 1 0 -5.2 0zM496.4 1289.9a2.6 2.6 0 1 0 5.2 0a2.6 2.6 0 1 0 -5.2 0zM433.4 1329.9a2.6 2.6 0 1 0 5.2 0a2.6 2.6 0 1 0 -5.2 0zM458.3 1289.1a2.6 2.6 0 1 0 5.2 0a2.6 2.6 0 1 0 -5.2 0zM453.3 1336.2a2.6 2.6 0 1 0 5.2 0a2.6 2.6 0 1 0 -5.2 0zM447.8 1281.7a2.6 2.6 0 1 0 5.2 0a2.6 2.6 0 1 0 -5.2 0zM402.3 1374.1a2.6 2.6 0 1 0 5.2 0a2.6 2.6 0 1 0 -5.2 0zM481.4 1330.9a2.6 2.6 0 1 0 5.2 0a2.6 2.6 0 1 0 -5.2 0zM524.2 1294.2a2.6 2.6 0 1 0 5.2 0a2.6 2.6 0 1 0 -5.2 0zM473 1306a2.6 2.6 0 1 0 5.2 0a2.6 2.6 0 1 0 -5.2 0zM425.7 1370.2a2.6 2.6 0 1 0 5.2 0a2.6 2.6 0 1 0 -5.2 0zM440.5 1388.1a2.6 2.6 0 1 0 5.2 0a2.6 2.6 0 1 0 -5.2 0zM533.8 1279.6a2.6 2.6 0 1 0 5.2 0a2.6 2.6 0 1 0 -5.2 0zM395.7 1346.6a2.6 2.6 0 1 0 5.2 0a2.6 2.6 0 1 0 -5.2 0zM502 1298.8a2.6 2.6 0 1 0 5.2 0a2.6 2.6 0 1 0 -5.2 0zM477.3 1321.4a2.6 2.6 0 1 0 5.2 0a2.6 2.6 0 1 0 -5.2 0zM434.9 1339.9a2.6 2.6 0 1 0 5.2 0a2.6 2.6 0 1 0 -5.2 0zM476.5 1227.4a2.6 2.6 0 1 0 5.2 0a2.6 2.6 0 1 0 -5.2 0zM494.5 1251.2a2.6 2.6 0 1 0 5.2 0a2.6 2.6 0 1 0 -5.2 0zM507.2 1262.6a2.6 2.6 0 1 0 5.2 0a2.6 2.6 0 1 0 -5.2 0z" fill="#440f68"/>
<path d="M402.9 1412l5.75 10h-11.5zM391 1412l5.75 10h-11.5zM381.3 1412l5.75 10h-11.5zM415.3 1412l5.75 10h-11.5zM360.7 1412l5.75 10h-11.5zM375.9 1412l5.75 10h-11.5zM361.1 1412l5.75 10h-11.5zM419.6 1412l5.75 10h-11.5zM408 1412l5.75 10h-11.5zM385.6 1412l5.75 10h-11.5zM428.7 1412l5.75 10h-11.5zM385.4 1412l5.75 10h-11.5zM424.4 1412l5.75 10h-11.5zM433.5 1380.1l5.75 10h-11.5zM431 1383l5.75 10h-11.5zM462.7 1336.8l5.75 10h-11.5zM501.6 1329.2l5.75 10h-11.5zM482.3 1363.4l5.75 10h-11.5zM483.2 1334l5.75 10h-11.5zM469.1 1299.4l5.75 10h-11.5zM381.1 1402.1l5.75 10h-11.5zM367.5 1390.1l5.75 10h-11.5zM460.5 1358.1l5.75 10h-11.5zM413.9 1345.1l5.75 10h-11.5zM411.8 1405.4l5.75 10h-11.5zM409.4 1407.2l5.75 10h-11.5zM552.1 1306.5l5.75 10h-11.5zM434.4 1394.9l5.75 10h-11.5zM429.2 1386.7l5.75 10h-11.5zM491 1384.7l5.75 10h-11.5zM343.4 1406.8l5.75 10h-11.5zM456.1 1385.4l5.75 10h-11.5zM446.6 1370.2l5.75 10h-11.5zM475.7 1357.3l5.75 10h-11.5zM484.1 1343.7l5.75 10h-11.5zM386.7 1381.2l5.75 10h-11.5zM389.2 1406.2l5.75 10h-11.5zM451.1 1389.1l5.75 10h-11.5zM404.6 1361.3l5.75 10h-11.5zM403.6 1404l5.75 10h-11.5zM471.6 1371.9l5.75 10h-11.5zM471.7 1344.5l5.75 10h-11.5zM438.7 1385.7l5.75 10h-11.5zM392.6 1393.7l5.75 10h-11.5zM391.4 1384l5.75 10h-11.5zM428.6 1363.7l5.75 10h-11.5zM357.6 1357.9l5.75 10h-11.5zM474.4 1348.8l5.75 10h-11.5zM443.3 1367.2l5.75 10h-11.5zM424 1338.1l5.75 10h-11.5zM374.5 1410.4l5.75 10h-11.5zM408.1 1400.3l5.75 10h-11.5zM443.4 1382.2l5.75 10h-11.5zM462.7 1375.8l5.75 10h-11.5zM479.7 1372.3l5.75 10h-11.5zM552.7 1332.4l5.75 10h-11.5zM427.2 1387l5.75 10h-11.5zM360.8 1396.8l5.75 10h-11.5zM456.1 1362.3l5.75 10h-11.5zM483.5 1390.5l5.75 10h-11.5zM369.8 1403l5.75 10h-11.5zM428.1 1367.9l5.75 10h-11.5zM379.5 1404.7l5.75 10h-11.5zM406.8 1355.9l5.75 10h-11.5zM437.5 1378.9l5.75 10h-11.5zM487.1 1345.9l5.75 10h-11.5zM367.5 1391.3l5.75 10h-11.5zM366.3 1396.4l5.75 10h-11.5zM451.8 1374.1l5.75 10h-11.5zM399.3 1370.9l5.75 10h-11.5zM501.9 1321.7l5.75 10h-11.5zM500.9 1355.4l5.75 10h-11.5zM388.6 1394l5.75 10h-11.5zM440.9 1363.9l5.75 10h-11.5zM439.8 1302l5.75 10h-11.5zM398.6 1377.4l5.75 10h-11.5zM446 1371.4l5.75 10h-11.5zM474.3 1328.2l5.75 10h-11.5zM525.7 1314.7l5.75 10h-11.5zM406.7 1392.7l5.75 10h-11.5zM457.9 1395.7l5.75 10h-11.5zM481.6 1368.3l5.75 10h-11.5zM480.6 1377.7l5.75 10h-11.5zM427.9 1385.2l5.75 10h-11.5z" fill="#2aae80"/>
<path d="M464.2 1418.7a2.6 2.6 0 1 0 5.2 0a2.6 2.6 0 1 0 -5.2 0zM370.7 1418.7a2.6 2.6 0 1 0 5.2 0a2.6 2.6 0 1 0 -5.2 0zM327.5 1418.7a2.6 2.6 0 1 0 5.2 0a2.6 2.6 0 1 0 -5.2 0zM315.4 1418.7a2.6 2.6 0 1 0 5.2 0a2.6 2.6 0 1 0 -5.2 0zM421.3 1293.4a2.6 2.6 0 1 0 5.2 0a2.6 2.6 0 1 0 -5.2 0zM522.2 1316.9a2.6 2.6 0 1 0 5.2 0a2.6 2.6 0 1 0 -5.2 0zM470.1 1361.3a2.6 2.6 0 1 0 5.2 0a2.6 2.6 0 1 0 -5.2 0zM548.3 1301.4a2.6 2.6 0 1 0 5.2 0a2.6 2.6 0 1 0 -5.2 0zM440.6 1353.9a2.6 2.6 0 1 0 5.2 0a2.6 2.6 0 1 0 -5.2 0zM478 1326.9a2.6 2.6 0 1 0 5.2 0a2.6 2.6 0 1 0 -5.2 0zM530.3 1310.4a2.6 2.6 0 1 0 5.2 0a2.6 2.6 0 1 0 -5.2 0zM468 1325.5a2.6 2.6 0 1 0 5.2 0a2.6 2.6 0 1 0 -5.2 0zM392.2 1385.7a2.6 2.6 0 1 0 5.2 0a2.6 2.6 0 1 0 -5.2 0zM472.1 1380.4a2.6 2.6 0 1 0 5.2 0a2.6 2.6 0 1 0 -5.2 0zM354.3 1414.7a2.6 2.6 0 1 0 5.2 0a2.6 2.6 0 1 0 -5.2 0zM475.1 1312.3a2.6 2.6 0 1 0 5.2 0a2.6 2.6 0 1 0 -5.2 0zM413.9 1395.1a2.6 2.6 0 1 0 5.2 0a2.6 2.6 0 1 0 -5.2 0zM440.7 1372.5a2.6 2.6 0 1 0 5.2 0a2.6 2.6 0 1 0 -5.2 0zM494.6 1328a2.6 2.6 0 1 0 5.2 0a2.6 2.6 0 1 0 -5.2 0zM531.8 1319.4a2.6 2.6 0 1 0 5.2 0a2.6 2.6 0 1 0 -5.2 0zM532 1295.3a2.6 2.6 0 1 0 5.2 0a2.6 2.6 0 1 0 -5.2 0zM372.3 1383.3a2.6 2.6 0 1 0 5.2 0a2.6 2.6 0 1 0 -5.2 0zM375.6 1411.2a2.6 2.6 0 1 0 5.2 0a2.6 2.6 0 1 0 -5.2 0zM495.4 1292.6a2.6 2.6 0 1 0 5.2 0a2.6 2.6 0 1 0 -5.2 0zM409.5 1367.5a2.6 2.6 0 1 0 5.2 0a2.6 2.6 0 1 0 -5.2 0zM465.6 1296.5a2.6 2.6 0 1 0 5.2 0a2.6 2.6 0 1 0 -5.2 0zM516.4 1304.2a2.6 2.6 0 1 0 5.2 0a2.6 2.6 0 1 0 -5.2 0zM530.6 1317.7a2.6 2.6 0 1 0 5.2 0a2.6 2.6 0 1 0 -5.2 0zM494.2 1314.5a2.6 2.6 0 1 0 5.2 0a2.6 2.6 0 1 0 -5.2 0zM489.1 1299.8a2.6 2.6 0 1 0 5.2 0a2.6 2.6 0 1 0 -5.2 0zM419.1 1404.7a2.6 2.6 0 1 0 5.2 0a2.6 2.6 0 1 0 -5.2 0zM541.1 1308.1a2.6 2.6 0 1 0 5.2 0a2.6 2.6 0 1 0 -5.2 0zM375.4 1378.5a2.6 2.6 0 1 0 5.2 0a2.6 2.6 0 1 0 -5.2 0zM453.9 1283.8a2.6 2.6 0 1 0 5.2 0a2.6 2.6 0 1 0 -5.2 0zM493.7 1282.7a2.6 2.6 0 1 0 5.2 0a2.6 2.6 0 1 0 -5.2 0zM509 1211.7a2.6 2.6 0 1 0 5.2 0a2.6 2.6 0 1 0 -5.2 0zM495.4 1231.3a2.6 2.6 0 1 0 5.2 0a2.6 2.6 0 1 0 -5.2 0zM474.8 1253.5a2.6 2.6 0 1 0 5.2 0a2.6 2.6 0 1 0 -5.2 0zM498.3 1262.6a2.6 2.6 0 1 0 5.2 0a2.6 2.6 0 1 0 -5.2 0z" fill="#440f68"/>
<path d="M389.3 1412l5.75 10h-11.5zM415.8 1412l5.75 10h-11.5zM427.1 1412l5.75 10h-11.5zM383.5 1412l5.75 10h-11.5zM381 1412l5.75 10h-11.5zM376.9 1412l5.75 10h-11.5zM454.2 1412l5.75 10h-11.5zM352.1 1412l5.75 10h-11.5zM386.1 1412l5.75 10h-11.5zM392.3 1412l5.75 10h-11.5zM350.5 1412l5.75 10h-11.5zM391.5 1412l5.75 10h-11.5zM370.7 1412l5.75 10h-11.5zM375.8 1375.5l5.75 10h-11.5zM404.7 1407.9l5.75 10h-11.5zM504.8 1310.9l5.75 10h-11.5zM486 1360.1l5.75 10h-11.5zM400.2 1399.5l5.75 10h-11.5zM474.4 1359.3l5.75 10h-11.5zM365.7 1370.5l5.75 10h-11.5zM440.1 1366.4l5.75 10h-11.5zM417 1337.3l5.75 10h-11.5zM431.6 1366.6l5.75 10h-11.5zM400.7 1400.8l5.75 10h-11.5zM458.1 1377.1l5.75 10h-11.5zM497.7 1318.3l5.75 10h-11.5zM535.5 1296.7l5.75 10h-11.5zM378.4 1411.7l5.75 10h-11.5zM520.2 1327.7l5.75 10h-11.5zM379.2 1391.9l5.75 10h-11.5zM412.5 1376.8l5.75 10h-11.5zM468.5 1361.9l5.75 10h-11.5zM520.3 1313.2l5.75 10h-11.5zM416.7 1392.1l5.75 10h-11.5zM456.2 1360.3l5.75 10h-11.5zM498.8 1342.3l5.75 10h-11.5zM497.4 1336.3l5.75 10h-11.5zM421.8 1351.3l5.75 10h-11.5zM387.1 1372.6l5.75 10h-11.5zM424.5 1361.6l5.75 10h-11.5zM362.6 1411l5.75 10h-11.5zM455.3 1338.8l5.75 10h-11.5zM407 1394.5l5.75 10h-11.5zM441.6 1334.6l5.75 10h-11.5zM455.7 1362.9l5.75 10h-11.5zM447.7 1376.2l5.75 10h-11.5zM426.6 1370l5.75 10h-11.5zM415.3 1373.9l5.75 10h-11.5zM427.4 1398l5.75 10h-11.5zM407.1 1380.3l5.75 10h-11.5zM442 1388.5l5.75 10h-11.5zM405.7 1372.9l5.75 10h-11.5zM507.8 1341.1l5.75 10h-11.5zM423.7 1393.3l5.75 10h-11.5zM457.5 1332.9l5.75 10h-11.5zM429.5 1401.5l5.75 10h-11.5zM390 1397.1l5.75 10h-11.5zM457.3 1356.8l5.75 10h-11.5zM419.8 1396.2l5.75 10h-11.5zM394.8 1360.7l5.75 10h-11.5zM424 1365l5.75 10h-11.5zM484.4 1308.2l5.75 10h-11.5zM400.4 1390.7l5.75 10h-11.5zM418.4 1384.4l5.75 10h-11.5zM361.6 1403.4l5.75 10h-11.5zM459.4 1357.1l5.75 10h-11.5zM428.4 1378.5l5.75 10h-11.5zM513.6 1323.8l5.75 10h-11.5zM458.2 1387.5l5.75 10h-11.5zM440.5 1399.3l5.75 10h-11.5zM496.9 1359l5.75 10h-11.5zM439 1369.1l5.75 10h-11.5zM421.9 1379.4l5.75 10h-11.5zM420.3 1381.4l5.75 10h-11.5zM394.6 1346.6l5.75 10h-11.5zM500.3 1350.2l5.75 10h-11.5zM419.9 1343.3l5.75 10h-11.5zM473.6 1352.1l5.75 10h-11.5zM403.5 1358.4l5.75 10h-11.5zM401.8 1383.7l5.75 10h-11.5zM463.2 1331.8l5.75 10h-11.5zM460.8 1316.4l5.75 10h-11.5zM467.6 1349.5l5.75 10h-11.5z" fill="#2aae80"/>
<path d="M368.3 1418.7a2.6 2.6 0 1 0 5.2 0a2.6 2.6 0 1 0 -5.2 0zM388.3 1418.7a2.6 2.6 0 1 0 5.2 0a2.6 2.6 0 1 0 -5.2 0zM361 1418.7a2.6 2.6 0 1 0 5.2 0a2.6 2.6 0 1 0 -5.2 0zM322.4 1418.7a2.6 2.6 0 1 0 5.2 0a2.6 2.6 0 1 0 -5.2 0zM488.1 1309.1a2.6 2.6 0 1 0 5.2 0a2.6 2.6 0 1 0 -5.2 0zM526 1272.9a2.6 2.6 0 1 0 5.2 0a2.6 2.6 0 1 0 -5.2 0zM450.6 1320.3a2.6 2.6 0 1 0 5.2 0a2.6 2.6 0 1 0 -5.2 0zM502 1285.8a2.6 2.6 0 1 0 5.2 0a2.6 2.6 0 1 0 -5.2 0zM360.9 1392.9a2.6 2.6 0 1 0 5.2 0a2.6 2.6 0 1 0 -5.2 0zM481.5 1337.5a2.6 2.6 0 1 0 5.2 0a2.6 2.6 0 1 0 -5.2 0zM447.9 1374.9a2.6 2.6 0 1 0 5.2 0a2.6 2.6 0 1 0 -5.2 0zM424 1377a2.6 2.6 0 1 0 5.2 0a2.6 2.6 0 1 0 -5.2 0zM512.3 1341.8a2.6 2.6 0 1 0 5.2 0a2.6 2.6 0 1 0 -5.2 0zM357.1 1401.1a2.6 2.6 0 1 0 5.2 0a2.6 2.6 0 1 0 -5.2 0zM419.6 1355.3a2.6 2.6 0 1 0 5.2 0a2.6 2.6 0 1 0 -5.2 0zM360.6 1408.8a2.6 2.6 0 1 0 5.2 0a2.6 2.6 0 1 0 -5.2 0zM340.7 1417.4a2.6 2.6 0 1 0 5.2 0a2.6 2.6 0 1 0 -5.2 0zM465.7 1342.7a2.6 2.6 0 1 0 5.2 0a2.6 2.6 0 1 0 -5.2 0zM407.8 1332.7a2.6 2.6 0 1 0 5.2 0a2.6 2.6 0 1 0 -5.2 0zM327.9 1369.2a2.6 2.6 0 1 0 5.2 0a2.6 2.6 0 1 0 -5.2 0zM424.9 1358.4a2.6 2.6 0 1 0 5.2 0a2.6 2.6 0 1 0 -5.2 0zM413 1306.9a2.6 2.6 0 1 0 5.2 0a2.6 2.6 0 1 0 -5.2 0zM424.2 1345.4a2.6 2.6 0 1 0 5.2 0a2.6 2.6 0 1 0 -5.2 0zM498.6 1303.7a2.6 2.6 0 1 0 5.2 0a2.6 2.6 0 1 0 -5.2 0zM466.5 1313.4a2.6 2.6 0 1 0 5.2 0a2.6 2.6 0 1 0 -5.2 0zM379.9 1334.1a2.6 2.6 0 1 0 5.2 0a2.6 2.6 0 1 0 -5.2 0zM468.7 1398.9a2.6 2.6 0 1 0 5.2 0a2.6 2.6 0 1 0 -5.2 0zM488.1 1323.5a2.6 2.6 0 1 0 5.2 0a2.6 2.6 0 1 0 -5.2 0zM461.3 1291.5a2.6 2.6 0 1 0 5.2 0a2.6 2.6 0 1 0 -5.2 0zM431.6 1322.8a2.6 2.6 0 1 0 5.2 0a2.6 2.6 0 1 0 -5.2 0zM521.5 1286.7a2.6 2.6 0 1 0 5.2 0a2.6 2.6 0 1 0 -5.2 0zM427.2 1356.7a2.6 2.6 0 1 0 5.2 0a2.6 2.6 0 1 0 -5.2 0zM529.7 1275a2.6 2.6 0 1 0 5.2 0a2.6 2.6 0 1 0 -5.2 0zM470.4 1363.6a2.6 2.6 0 1 0 5.2 0a2.6 2.6 0 1 0 -5.2 0zM427.8 1397.1a2.6 2.6 0 1 0 5.2 0a2.6 2.6 0 1 0 -5.2 0zM480.2 1225.1a2.6 2.6 0 1 0 5.2 0a2.6 2.6 0 1 0 -5.2 0zM523.1 1247a2.6 2.6 0 1 0 5.2 0a2.6 2.6 0 1 0 -5.2 0zM530.2 1255.5a2.6 2.6 0 1 0 5.2 0a2.6 2.6 0 1 0 -5.2 0zM545.2 1263.9a2.6 2.6 0 1 0 5.2 0a2.6 2.6 0 1 0 -5.2 0z" fill="#440f68"/>
<path d="M329.3 1421.1 L337.3 1416.8 L345.4 1412.5 L353.4 1408.1 L361.5 1403.7 L369.5 1399.2 L377.5 1394.7 L385.6 1390.2 L393.6 1385.6 L401.7 1381 L409.7 1376.3 L417.8 1371.6 L425.8 1366.9 L433.8 1362.1 L441.9 1357.3 L449.9 1352.5 L458 1347.6 L466 1342.8 L474 1337.9 L482.1 1333 L490.1 1328.1 L498.2 1323.3 L506.2 1318.4 L514.3 1313.5 L522.3 1308.6 L530.3 1303.7 L538.4 1298.7 L546.4 1293.8 L554.5 1288.9 L562.5 1284 L562.5 1302 L554.5 1306.2 L546.4 1310.4 L538.4 1314.6 L530.3 1318.8 L522.3 1323 L514.3 1327.2 L506.2 1331.4 L498.2 1335.6 L490.1 1339.9 L482.1 1344.1 L474 1348.3 L466 1352.6 L458 1356.8 L449.9 1361.1 L441.9 1365.4 L433.8 1369.7 L425.8 1374 L417.8 1378.4 L409.7 1382.8 L401.7 1387.2 L393.6 1391.7 L385.6 1396.2 L377.5 1400.8 L369.5 1405.4 L361.5 1410.1 L353.4 1414.8 L345.4 1419.5 L337.3 1424.3 L329.3 1429.1 Z" fill="#999" fill-opacity="0.4"/>
<path d="M329.3 1425.1 L562.5 1293" stroke="#000" stroke-width="4.2"/>
<text x="562" y="1374" font-size="23" style="fill:#000;stroke:#000">r = 0.73</text>
<text x="562" y="1400.2" font-size="23" style="fill:#45105f;stroke:#45105f">r = 0.70</text>
<text x="562" y="1426.4" font-size="23" style="fill:#24a884;stroke:#24a884">r = 0.67</text>
<path d="M908.3 1412l5.75 10h-11.5zM860 1412l5.75 10h-11.5zM900.2 1412l5.75 10h-11.5zM917.2 1412l5.75 10h-11.5zM897.1 1412l5.75 10h-11.5zM966.6 1412l5.75 10h-11.5zM894.2 1412l5.75 10h-11.5zM869.7 1412l5.75 10h-11.5zM925.1 1412l5.75 10h-11.5zM885.9 1412l5.75 10h-11.5zM878.4 1412l5.75 10h-11.5zM907.2 1412l5.75 10h-11.5zM877.4 1412l5.75 10h-11.5zM851.7 1412l5.75 10h-11.5zM854 1354.6l5.75 10h-11.5zM929 1388l5.75 10h-11.5zM902.1 1371.2l5.75 10h-11.5zM894.3 1339.5l5.75 10h-11.5zM941.5 1346.8l5.75 10h-11.5zM861.7 1389.5l5.75 10h-11.5zM912.2 1386.1l5.75 10h-11.5zM904.8 1353l5.75 10h-11.5zM847.6 1386.5l5.75 10h-11.5zM908 1358.8l5.75 10h-11.5zM889.5 1387.7l5.75 10h-11.5zM889.6 1335.2l5.75 10h-11.5zM974.6 1329.8l5.75 10h-11.5zM917.4 1364.6l5.75 10h-11.5zM894.4 1348.5l5.75 10h-11.5zM849.2 1359.7l5.75 10h-11.5zM921 1331.2l5.75 10h-11.5zM873.9 1392.5l5.75 10h-11.5zM964.9 1330.3l5.75 10h-11.5zM873.2 1325.1l5.75 10h-11.5zM864.2 1340l5.75 10h-11.5zM921.3 1356.4l5.75 10h-11.5zM914.3 1366.9l5.75 10h-11.5zM924.5 1364.3l5.75 10h-11.5zM983.2 1375.1l5.75 10h-11.5zM924.8 1379.8l5.75 10h-11.5zM923.1 1409l5.75 10h-11.5zM966.8 1374.9l5.75 10h-11.5zM917.3 1367.5l5.75 10h-11.5zM884.8 1395l5.75 10h-11.5zM923.7 1374.4l5.75 10h-11.5zM891.7 1391l5.75 10h-11.5zM929 1365.6l5.75 10h-11.5zM946.2 1368.5l5.75 10h-11.5zM910.6 1409.9l5.75 10h-11.5zM968.5 1309.1l5.75 10h-11.5zM936.7 1351.1l5.75 10h-11.5zM898.6 1398.7l5.75 10h-11.5zM871.9 1381.9l5.75 10h-11.5zM952.3 1333.6l5.75 10h-11.5zM934.2 1347.9l5.75 10h-11.5zM839.1 1383.5l5.75 10h-11.5zM897.3 1373.1l5.75 10h-11.5zM897.9 1376.4l5.75 10h-11.5zM868.6 1397.5l5.75 10h-11.5zM925.5 1304.8l5.75 10h-11.5zM896.2 1342l5.75 10h-11.5zM909.3 1353.5l5.75 10h-11.5zM946 1340.8l5.75 10h-11.5zM896.4 1327.2l5.75 10h-11.5zM837.6 1393l5.75 10h-11.5zM942.5 1368.9l5.75 10h-11.5zM962.7 1388.7l5.75 10h-11.5zM881.3 1362.6l5.75 10h-11.5zM890.1 1365.4l5.75 10h-11.5zM904.5 1365.9l5.75 10h-11.5zM992.4 1320.3l5.75 10h-11.5zM903.6 1382.3l5.75 10h-11.5zM916.2 1389.8l5.75 10h-11.5zM1002.9 1300.3l5.75 10h-11.5zM915.1 1353.9l5.75 10h-11.5zM931.5 1369.6l5.75 10h-11.5zM980.2 1373.6l5.75 10h-11.5zM926.1 1382.7l5.75 10h-11.5zM854.7 1379.1l5.75 10h-11.5zM892.4 1395.5l5.75 10h-11.5zM853.2 1408.6l5.75 10h-11.5zM939.6 1378.2l5.75 10h-11.5zM856.3 1380.7l5.75 10h-11.5zM919.2 1361l5.75 10h-11.5z" fill="#2aae80"/>
<path d="M947.4 1418.7a2.6 2.6 0 1 0 5.2 0a2.6 2.6 0 1 0 -5.2 0zM928.9 1418.7a2.6 2.6 0 1 0 5.2 0a2.6 2.6 0 1 0 -5.2 0zM857.5 1418.7a2.6 2.6 0 1 0 5.2 0a2.6 2.6 0 1 0 -5.2 0zM831.6 1418.7a2.6 2.6 0 1 0 5.2 0a2.6 2.6 0 1 0 -5.2 0zM907.1 1405.6a2.6 2.6 0 1 0 5.2 0a2.6 2.6 0 1 0 -5.2 0zM938 1315.4a2.6 2.6 0 1 0 5.2 0a2.6 2.6 0 1 0 -5.2 0zM966.6 1352a2.6 2.6 0 1 0 5.2 0a2.6 2.6 0 1 0 -5.2 0zM940.7 1324.8a2.6 2.6 0 1 0 5.2 0a2.6 2.6 0 1 0 -5.2 0zM994.8 1298.1a2.6 2.6 0 1 0 5.2 0a2.6 2.6 0 1 0 -5.2 0zM959.5 1302.2a2.6 2.6 0 1 0 5.2 0a2.6 2.6 0 1 0 -5.2 0zM912.6 1349.7a2.6 2.6 0 1 0 5.2 0a2.6 2.6 0 1 0 -5.2 0zM860.8 1412.6a2.6 2.6 0 1 0 5.2 0a2.6 2.6 0 1 0 -5.2 0zM972.3 1269.9a2.6 2.6 0 1 0 5.2 0a2.6 2.6 0 1 0 -5.2 0zM1017.5 1284.7a2.6 2.6 0 1 0 5.2 0a2.6 2.6 0 1 0 -5.2 0zM883.2 1288.3a2.6 2.6 0 1 0 5.2 0a2.6 2.6 0 1 0 -5.2 0zM922.4 1348.5a2.6 2.6 0 1 0 5.2 0a2.6 2.6 0 1 0 -5.2 0zM888 1390.6a2.6 2.6 0 1 0 5.2 0a2.6 2.6 0 1 0 -5.2 0zM960.6 1365.2a2.6 2.6 0 1 0 5.2 0a2.6 2.6 0 1 0 -5.2 0zM1032.3 1311.1a2.6 2.6 0 1 0 5.2 0a2.6 2.6 0 1 0 -5.2 0zM931.3 1360a2.6 2.6 0 1 0 5.2 0a2.6 2.6 0 1 0 -5.2 0zM942.1 1289.9a2.6 2.6 0 1 0 5.2 0a2.6 2.6 0 1 0 -5.2 0zM966 1329.9a2.6 2.6 0 1 0 5.2 0a2.6 2.6 0 1 0 -5.2 0zM969.2 1289.1a2.6 2.6 0 1 0 5.2 0a2.6 2.6 0 1 0 -5.2 0zM902.4 1336.2a2.6 2.6 0 1 0 5.2 0a2.6 2.6 0 1 0 -5.2 0zM982.8 1281.7a2.6 2.6 0 1 0 5.2 0a2.6 2.6 0 1 0 -5.2 0zM960.7 1374.1a2.6 2.6 0 1 0 5.2 0a2.6 2.6 0 1 0 -5.2 0zM938.5 1330.9a2.6 2.6 0 1 0 5.2 0a2.6 2.6 0 1 0 -5.2 0zM978.1 1294.2a2.6 2.6 0 1 0 5.2 0a2.6 2.6 0 1 0 -5.2 0zM980.4 1306a2.6 2.6 0 1 0 5.2 0a2.6 2.6 0 1 0 -5.2 0zM880.9 1370.2a2.6 2.6 0 1 0 5.2 0a2.6 2.6 0 1 0 -5.2 0zM830.2 1388.1a2.6 2.6 0 1 0 5.2 0a2.6 2.6 0 1 0 -5.2 0zM945.2 1279.6a2.6 2.6 0 1 0 5.2 0a2.6 2.6 0 1 0 -5.2 0zM934.6 1346.6a2.6 2.6 0 1 0 5.2 0a2.6 2.6 0 1 0 -5.2 0zM959.5 1298.8a2.6 2.6 0 1 0 5.2 0a2.6 2.6 0 1 0 -5.2 0zM994.5 1321.4a2.6 2.6 0 1 0 5.2 0a2.6 2.6 0 1 0 -5.2 0zM936.5 1339.9a2.6 2.6 0 1 0 5.2 0a2.6 2.6 0 1 0 -5.2 0zM944.1 1227.4a2.6 2.6 0 1 0 5.2 0a2.6 2.6 0 1 0 -5.2 0zM992.7 1251.2a2.6 2.6 0 1 0 5.2 0a2.6 2.6 0 1 0 -5.2 0zM988.5 1262.6a2.6 2.6 0 1 0 5.2 0a2.6 2.6 0 1 0 -5.2 0z" fill="#440f68"/>
<path d="M846.6 1412l5.75 10h-11.5zM873.9 1412l5.75 10h-11.5zM869.8 1412l5.75 10h-11.5zM894.9 1412l5.75 10h-11.5zM887.1 1412l5.75 10h-11.5zM921.8 1412l5.75 10h-11.5zM869.3 1412l5.75 10h-11.5zM868.1 1412l5.75 10h-11.5zM910.2 1412l5.75 10h-11.5zM858.3 1412l5.75 10h-11.5zM900.5 1412l5.75 10h-11.5zM832.6 1412l5.75 10h-11.5zM905.9 1412l5.75 10h-11.5zM874.5 1380.1l5.75 10h-11.5zM896.1 1383l5.75 10h-11.5zM921 1336.8l5.75 10h-11.5zM929 1329.2l5.75 10h-11.5zM842.6 1363.4l5.75 10h-11.5zM926.9 1334l5.75 10h-11.5zM920.5 1299.4l5.75 10h-11.5zM875.2 1402.1l5.75 10h-11.5zM934.3 1390.1l5.75 10h-11.5zM911.5 1358.1l5.75 10h-11.5zM919.4 1345.1l5.75 10h-11.5zM838.6 1405.4l5.75 10h-11.5zM940.8 1407.2l5.75 10h-11.5zM927.9 1306.5l5.75 10h-11.5zM851.1 1394.9l5.75 10h-11.5zM892.4 1386.7l5.75 10h-11.5zM940.8 1384.7l5.75 10h-11.5zM903.8 1406.8l5.75 10h-11.5zM884 1385.4l5.75 10h-11.5zM928.2 1370.2l5.75 10h-11.5zM916.7 1357.3l5.75 10h-11.5zM930.4 1343.7l5.75 10h-11.5zM845.7 1381.2l5.75 10h-11.5zM879.6 1406.2l5.75 10h-11.5zM939 1389.1l5.75 10h-11.5zM917.7 1361.3l5.75 10h-11.5zM886.1 1404l5.75 10h-11.5zM841 1371.9l5.75 10h-11.5zM942.6 1344.5l5.75 10h-11.5zM906.9 1385.7l5.75 10h-11.5zM863.1 1393.7l5.75 10h-11.5zM906.6 1384l5.75 10h-11.5zM875.5 1363.7l5.75 10h-11.5zM908.3 1357.9l5.75 10h-11.5zM954.1 1348.8l5.75 10h-11.5zM901.7 1367.2l5.75 10h-11.5zM952.9 1338.1l5.75 10h-11.5zM905.6 1410.4l5.75 10h-11.5zM834.2 1400.3l5.75 10h-11.5zM912 1382.2l5.75 10h-11.5zM886.6 1375.8l5.75 10h-11.5zM896.9 1372.3l5.75 10h-11.5zM907.5 1332.4l5.75 10h-11.5zM837.5 1387l5.75 10h-11.5zM901.6 1396.8l5.75 10h-11.5zM924.8 1362.3l5.75 10h-11.5zM892.9 1390.5l5.75 10h-11.5zM846.3 1403l5.75 10h-11.5zM955.4 1367.9l5.75 10h-11.5zM903.1 1404.7l5.75 10h-11.5zM963.9 1355.9l5.75 10h-11.5zM883.7 1378.9l5.75 10h-11.5zM950.9 1345.9l5.75 10h-11.5zM874.8 1391.3l5.75 10h-11.5zM904.4 1396.4l5.75 10h-11.5zM929.6 1374.1l5.75 10h-11.5zM877.8 1370.9l5.75 10h-11.5zM900.8 1321.7l5.75 10h-11.5zM935.4 1355.4l5.75 10h-11.5zM924.5 1394l5.75 10h-11.5zM917 1363.9l5.75 10h-11.5zM978.8 1302l5.75 10h-11.5zM946.8 1377.4l5.75 10h-11.5zM884.1 1371.4l5.75 10h-11.5zM957.3 1328.2l5.75 10h-11.5zM930.7 1314.7l5.75 10h-11.5zM930.9 1392.7l5.75 10h-11.5zM872.1 1395.7l5.75 10h-11.5zM907.8 1368.3l5.75 10h-11.5zM889.3 1377.7l5.75 10h-11.5zM891.6 1385.2l5.75 10h-11.5z" fill="#2aae80"/>
<path d="M899.1 1418.7a2.6 2.6 0 1 0 5.2 0a2.6 2.6 0 1 0 -5.2 0zM841 1418.7a2.6 2.6 0 1 0 5.2 0a2.6 2.6 0 1 0 -5.2 0zM848.8 1418.7a2.6 2.6 0 1 0 5.2 0a2.6 2.6 0 1 0 -5.2 0zM927.2 1418.7a2.6 2.6 0 1 0 5.2 0a2.6 2.6 0 1 0 -5.2 0zM1009.9 1293.4a2.6 2.6 0 1 0 5.2 0a2.6 2.6 0 1 0 -5.2 0zM914.6 1316.9a2.6 2.6 0 1 0 5.2 0a2.6 2.6 0 1 0 -5.2 0zM978.3 1361.3a2.6 2.6 0 1 0 5.2 0a2.6 2.6 0 1 0 -5.2 0zM913.6 1301.4a2.6 2.6 0 1 0 5.2 0a2.6 2.6 0 1 0 -5.2 0zM954 1353.9a2.6 2.6 0 1 0 5.2 0a2.6 2.6 0 1 0 -5.2 0zM936.4 1326.9a2.6 2.6 0 1 0 5.2 0a2.6 2.6 0 1 0 -5.2 0zM994.6 1310.4a2.6 2.6 0 1 0 5.2 0a2.6 2.6 0 1 0 -5.2 0zM895.8 1325.5a2.6 2.6 0 1 0 5.2 0a2.6 2.6 0 1 0 -5.2 0zM865.8 1385.7a2.6 2.6 0 1 0 5.2 0a2.6 2.6 0 1 0 -5.2 0zM939.7 1380.4a2.6 2.6 0 1 0 5.2 0a2.6 2.6 0 1 0 -5.2 0zM931.7 1414.7a2.6 2.6 0 1 0 5.2 0a2.6 2.6 0 1 0 -5.2 0zM979.5 1312.3a2.6 2.6 0 1 0 5.2 0a2.6 2.6 0 1 0 -5.2 0zM948.2 1395.1a2.6 2.6 0 1 0 5.2 0a2.6 2.6 0 1 0 -5.2 0zM989.8 1372.5a2.6 2.6 0 1 0 5.2 0a2.6 2.6 0 1 0 -5.2 0zM899.4 1328a2.6 2.6 0 1 0 5.2 0a2.6 2.6 0 1 0 -5.2 0zM1054.2 1319.4a2.6 2.6 0 1 0 5.2 0a2.6 2.6 0 1 0 -5.2 0zM1032.3 1295.3a2.6 2.6 0 1 0 5.2 0a2.6 2.6 0 1 0 -5.2 0zM887.5 1383.3a2.6 2.6 0 1 0 5.2 0a2.6 2.6 0 1 0 -5.2 0zM933.6 1411.2a2.6 2.6 0 1 0 5.2 0a2.6 2.6 0 1 0 -5.2 0zM887.7 1292.6a2.6 2.6 0 1 0 5.2 0a2.6 2.6 0 1 0 -5.2 0zM881.8 1367.5a2.6 2.6 0 1 0 5.2 0a2.6 2.6 0 1 0 -5.2 0zM911 1296.5a2.6 2.6 0 1 0 5.2 0a2.6 2.6 0 1 0 -5.2 0zM949.8 1304.2a2.6 2.6 0 1 0 5.2 0a2.6 2.6 0 1 0 -5.2 0zM917.1 1317.7a2.6 2.6 0 1 0 5.2 0a2.6 2.6 0 1 0 -5.2 0zM1001.5 1314.5a2.6 2.6 0 1 0 5.2 0a2.6 2.6 0 1 0 -5.2 0zM990.8 1299.8a2.6 2.6 0 1 0 5.2 0a2.6 2.6 0 1 0 -5.2 0zM881.1 1404.7a2.6 2.6 0 1 0 5.2 0a2.6 2.6 0 1 0 -5.2 0zM1011 1308.1a2.6 2.6 0 1 0 5.2 0a2.6 2.6 0 1 0 -5.2 0zM856.3 1378.5a2.6 2.6 0 1 0 5.2 0a2.6 2.6 0 1 0 -5.2 0zM995.6 1283.8a2.6 2.6 0 1 0 5.2 0a2.6 2.6 0 1 0 -5.2 0zM888.6 1282.7a2.6 2.6 0 1 0 5.2 0a2.6 2.6 0 1 0 -5.2 0zM932.5 1211.7a2.6 2.6 0 1 0 5.2 0a2.6 2.6 0 1 0 -5.2 0zM989.7 1231.3a2.6 2.6 0 1 0 5.2 0a2.6 2.6 0 1 0 -5.2 0zM937.6 1253.5a2.6 2.6 0 1 0 5.2 0a2.6 2.6 0 1 0 -5.2 0zM1042.4 1262.6a2.6 2.6 0 1 0 5.2 0a2.6 2.6 0 1 0 -5.2 0z" fill="#440f68"/>
<path d="M892.3 1412l5.75 10h-11.5zM848.3 1412l5.75 10h-11.5zM866.9 1412l5.75 10h-11.5zM954.9 1412l5.75 10h-11.5zM888.3 1412l5.75 10h-11.5zM876.2 1412l5.75 10h-11.5zM904.5 1412l5.75 10h-11.5zM897.9 1412l5.75 10h-11.5zM907 1412l5.75 10h-11.5zM879.7 1412l5.75 10h-11.5zM936.8 1412l5.75 10h-11.5zM885.2 1412l5.75 10h-11.5zM882.6 1412l5.75 10h-11.5zM894.3 1375.5l5.75 10h-11.5zM877.9 1407.9l5.75 10h-11.5zM919.7 1310.9l5.75 10h-11.5zM940.8 1360.1l5.75 10h-11.5zM972.9 1399.5l5.75 10h-11.5zM984.5 1359.3l5.75 10h-11.5zM892.9 1370.5l5.75 10h-11.5zM931.6 1366.4l5.75 10h-11.5zM937.7 1337.3l5.75 10h-11.5zM873.7 1366.6l5.75 10h-11.5zM956.7 1400.8l5.75 10h-11.5zM905.3 1377.1l5.75 10h-11.5zM954.9 1318.3l5.75 10h-11.5zM913.8 1296.7l5.75 10h-11.5zM854.3 1411.7l5.75 10h-11.5zM882.6 1327.7l5.75 10h-11.5zM877.6 1391.9l5.75 10h-11.5zM915.2 1376.8l5.75 10h-11.5zM958.6 1361.9l5.75 10h-11.5zM986.5 1313.2l5.75 10h-11.5zM885.8 1392.1l5.75 10h-11.5zM930.8 1360.3l5.75 10h-11.5zM914.5 1342.3l5.75 10h-11.5zM932.9 1336.3l5.75 10h-11.5zM923.5 1351.3l5.75 10h-11.5zM913.7 1372.6l5.75 10h-11.5zM901.3 1361.6l5.75 10h-11.5zM831.2 1411l5.75 10h-11.5zM939.8 1338.8l5.75 10h-11.5zM865.1 1394.5l5.75 10h-11.5zM960.6 1334.6l5.75 10h-11.5zM922.5 1362.9l5.75 10h-11.5zM955.1 1376.2l5.75 10h-11.5zM924.9 1370l5.75 10h-11.5zM925 1373.9l5.75 10h-11.5zM932.9 1398l5.75 10h-11.5zM862.4 1380.3l5.75 10h-11.5zM921.4 1388.5l5.75 10h-11.5zM913.8 1372.9l5.75 10h-11.5zM919.5 1341.1l5.75 10h-11.5zM861.8 1393.3l5.75 10h-11.5zM890.7 1332.9l5.75 10h-11.5zM878.5 1401.5l5.75 10h-11.5zM860.7 1397.1l5.75 10h-11.5zM936.8 1356.8l5.75 10h-11.5zM926.9 1396.2l5.75 10h-11.5zM856.2 1360.7l5.75 10h-11.5zM929 1365l5.75 10h-11.5zM944.9 1308.2l5.75 10h-11.5zM901.1 1390.7l5.75 10h-11.5zM895.5 1384.4l5.75 10h-11.5zM854.5 1403.4l5.75 10h-11.5zM959.6 1357.1l5.75 10h-11.5zM843.9 1378.5l5.75 10h-11.5zM848.2 1323.8l5.75 10h-11.5zM870.6 1387.5l5.75 10h-11.5zM943.8 1399.3l5.75 10h-11.5zM886 1359l5.75 10h-11.5zM920.1 1369.1l5.75 10h-11.5zM939.5 1379.4l5.75 10h-11.5zM888 1381.4l5.75 10h-11.5zM947.5 1346.6l5.75 10h-11.5zM958.1 1350.2l5.75 10h-11.5zM930.2 1343.3l5.75 10h-11.5zM907.4 1352.1l5.75 10h-11.5zM894.3 1358.4l5.75 10h-11.5zM923.4 1383.7l5.75 10h-11.5zM935.5 1331.8l5.75 10h-11.5zM944.3 1316.4l5.75 10h-11.5zM895 1349.5l5.75 10h-11.5z" fill="#2aae80"/>
<path d="M886.6 1418.7a2.6 2.6 0 1 0 5.2 0a2.6 2.6 0 1 0 -5.2 0zM902.5 1418.7a2.6 2.6 0 1 0 5.2 0a2.6 2.6 0 1 0 -5.2 0zM834.5 1418.7a2.6 2.6 0 1 0 5.2 0a2.6 2.6 0 1 0 -5.2 0zM928.9 1418.7a2.6 2.6 0 1 0 5.2 0a2.6 2.6 0 1 0 -5.2 0zM961.9 1309.1a2.6 2.6 0 1 0 5.2 0a2.6 2.6 0 1 0 -5.2 0zM1002.9 1272.9a2.6 2.6 0 1 0 5.2 0a2.6 2.6 0 1 0 -5.2 0zM923.4 1320.3a2.6 2.6 0 1 0 5.2 0a2.6 2.6 0 1 0 -5.2 0zM1017.5 1285.8a2.6 2.6 0 1 0 5.2 0a2.6 2.6 0 1 0 -5.2 0zM910.4 1392.9a2.6 2.6 0 1 0 5.2 0a2.6 2.6 0 1 0 -5.2 0zM986.1 1337.5a2.6 2.6 0 1 0 5.2 0a2.6 2.6 0 1 0 -5.2 0zM933 1374.9a2.6 2.6 0 1 0 5.2 0a2.6 2.6 0 1 0 -5.2 0zM890.6 1377a2.6 2.6 0 1 0 5.2 0a2.6 2.6 0 1 0 -5.2 0zM965.9 1341.8a2.6 2.6 0 1 0 5.2 0a2.6 2.6 0 1 0 -5.2 0zM841.3 1401.1a2.6 2.6 0 1 0 5.2 0a2.6 2.6 0 1 0 -5.2 0zM991.1 1355.3a2.6 2.6 0 1 0 5.2 0a2.6 2.6 0 1 0 -5.2 0zM891.4 1408.8a2.6 2.6 0 1 0 5.2 0a2.6 2.6 0 1 0 -5.2 0zM875.5 1417.4a2.6 2.6 0 1 0 5.2 0a2.6 2.6 0 1 0 -5.2 0zM936.5 1342.7a2.6 2.6 0 1 0 5.2 0a2.6 2.6 0 1 0 -5.2 0zM982.6 1332.7a2.6 2.6 0 1 0 5.2 0a2.6 2.6 0 1 0 -5.2 0zM927.1 1369.2a2.6 2.6 0 1 0 5.2 0a2.6 2.6 0 1 0 -5.2 0zM872.7 1358.4a2.6 2.6 0 1 0 5.2 0a2.6 2.6 0 1 0 -5.2 0zM1016 1306.9a2.6 2.6 0 1 0 5.2 0a2.6 2.6 0 1 0 -5.2 0zM938.1 1345.4a2.6 2.6 0 1 0 5.2 0a2.6 2.6 0 1 0 -5.2 0zM1033.6 1303.7a2.6 2.6 0 1 0 5.2 0a2.6 2.6 0 1 0 -5.2 0zM946.5 1313.4a2.6 2.6 0 1 0 5.2 0a2.6 2.6 0 1 0 -5.2 0zM1034.1 1334.1a2.6 2.6 0 1 0 5.2 0a2.6 2.6 0 1 0 -5.2 0zM957.4 1398.9a2.6 2.6 0 1 0 5.2 0a2.6 2.6 0 1 0 -5.2 0zM988 1323.5a2.6 2.6 0 1 0 5.2 0a2.6 2.6 0 1 0 -5.2 0zM935.8 1291.5a2.6 2.6 0 1 0 5.2 0a2.6 2.6 0 1 0 -5.2 0zM935.9 1322.8a2.6 2.6 0 1 0 5.2 0a2.6 2.6 0 1 0 -5.2 0zM997.7 1286.7a2.6 2.6 0 1 0 5.2 0a2.6 2.6 0 1 0 -5.2 0zM912.8 1356.7a2.6 2.6 0 1 0 5.2 0a2.6 2.6 0 1 0 -5.2 0zM942.2 1275a2.6 2.6 0 1 0 5.2 0a2.6 2.6 0 1 0 -5.2 0zM935.4 1363.6a2.6 2.6 0 1 0 5.2 0a2.6 2.6 0 1 0 -5.2 0zM909 1397.1a2.6 2.6 0 1 0 5.2 0a2.6 2.6 0 1 0 -5.2 0zM971.4 1225.1a2.6 2.6 0 1 0 5.2 0a2.6 2.6 0 1 0 -5.2 0zM959.6 1247a2.6 2.6 0 1 0 5.2 0a2.6 2.6 0 1 0 -5.2 0zM1022.4 1255.5a2.6 2.6 0 1 0 5.2 0a2.6 2.6 0 1 0 -5.2 0zM967.8 1263.9a2.6 2.6 0 1 0 5.2 0a2.6 2.6 0 1 0 -5.2 0z" fill="#440f68"/>
<path d="M843.2 1417.4 L853.9 1410.4 L864.6 1403.3 L875.4 1396.2 L886.1 1388.9 L896.8 1381.5 L907.5 1373.9 L918.3 1366.1 L929 1358.2 L939.7 1350.1 L950.4 1342 L961.2 1333.8 L971.9 1325.6 L982.6 1317.4 L993.3 1309.1 L1004.1 1300.9 L1014.8 1292.6 L1025.5 1284.3 L1036.2 1276 L1047 1267.7 L1057.7 1259.4 L1068.4 1251.1 L1079.1 1242.8 L1089.9 1234.5 L1100.6 1226.2 L1111.3 1217.9 L1122 1209.6 L1132.8 1201.2 L1143.5 1192.9 L1154.2 1184.6 L1154.2 1220.6 L1143.5 1227.4 L1132.8 1234.3 L1122 1241.1 L1111.3 1248 L1100.6 1254.8 L1089.9 1261.7 L1079.1 1268.5 L1068.4 1275.4 L1057.7 1282.2 L1047 1289.1 L1036.2 1295.9 L1025.5 1302.8 L1014.8 1309.7 L1004.1 1316.6 L993.3 1323.4 L982.6 1330.4 L971.9 1337.3 L961.2 1344.2 L950.4 1351.2 L939.7 1358.3 L929 1365.4 L918.3 1372.6 L907.5 1380 L896.8 1387.5 L886.1 1395.2 L875.4 1403.1 L864.6 1411.1 L853.9 1419.2 L843.2 1427.4 Z" fill="#999" fill-opacity="0.4"/>
<path d="M843.2 1422.4 L1154.2 1202.6" stroke="#000" stroke-width="4.2"/>
<text x="1076.3" y="1374" font-size="23" style="fill:#000;stroke:#000">r = 0.70</text>
<text x="1076.3" y="1400.2" font-size="23" style="fill:#45105f;stroke:#45105f">r = 0.70</text>
<text x="1076.3" y="1426.4" font-size="23" style="fill:#24a884;stroke:#24a884">r = 0.52</text>
<path d="M1428.5 1412l5.75 10h-11.5zM1432.6 1412l5.75 10h-11.5zM1425.6 1412l5.75 10h-11.5zM1438.4 1412l5.75 10h-11.5zM1453.7 1412l5.75 10h-11.5zM1437.8 1412l5.75 10h-11.5zM1433.8 1412l5.75 10h-11.5zM1441.9 1412l5.75 10h-11.5zM1439.8 1412l5.75 10h-11.5zM1406.5 1412l5.75 10h-11.5zM1440.4 1412l5.75 10h-11.5zM1445.9 1412l5.75 10h-11.5zM1427.5 1412l5.75 10h-11.5zM1449.8 1412l5.75 10h-11.5zM1419.5 1354.6l5.75 10h-11.5zM1552.2 1388l5.75 10h-11.5zM1411.7 1371.2l5.75 10h-11.5zM1451.9 1339.5l5.75 10h-11.5zM1417.6 1346.8l5.75 10h-11.5zM1439.7 1389.5l5.75 10h-11.5zM1454.1 1386.1l5.75 10h-11.5zM1444.7 1353l5.75 10h-11.5zM1418.5 1386.5l5.75 10h-11.5zM1407 1358.8l5.75 10h-11.5zM1408.7 1387.7l5.75 10h-11.5zM1458 1335.2l5.75 10h-11.5zM1434.3 1329.8l5.75 10h-11.5zM1450 1364.6l5.75 10h-11.5zM1437.4 1348.5l5.75 10h-11.5zM1439.6 1359.7l5.75 10h-11.5zM1435 1331.2l5.75 10h-11.5zM1447.8 1392.5l5.75 10h-11.5zM1428.4 1330.3l5.75 10h-11.5zM1472.8 1325.1l5.75 10h-11.5zM1416.4 1340l5.75 10h-11.5zM1391.5 1356.4l5.75 10h-11.5zM1448.2 1366.9l5.75 10h-11.5zM1416.2 1364.3l5.75 10h-11.5zM1464.4 1375.1l5.75 10h-11.5zM1411.4 1379.8l5.75 10h-11.5zM1397.9 1409l5.75 10h-11.5zM1416.3 1374.9l5.75 10h-11.5zM1440.8 1367.5l5.75 10h-11.5zM1421 1395l5.75 10h-11.5zM1444.6 1374.4l5.75 10h-11.5zM1414.9 1391l5.75 10h-11.5zM1390.9 1365.6l5.75 10h-11.5zM1444 1368.5l5.75 10h-11.5zM1414.5 1409.9l5.75 10h-11.5zM1471.3 1309.1l5.75 10h-11.5zM1412.2 1351.1l5.75 10h-11.5zM1411.3 1398.7l5.75 10h-11.5zM1446.2 1381.9l5.75 10h-11.5zM1464.8 1333.6l5.75 10h-11.5zM1457.9 1347.9l5.75 10h-11.5zM1457.1 1383.5l5.75 10h-11.5zM1426.9 1373.1l5.75 10h-11.5zM1427.4 1376.4l5.75 10h-11.5zM1426.5 1397.5l5.75 10h-11.5zM1440 1304.8l5.75 10h-11.5zM1425.3 1342l5.75 10h-11.5zM1420.5 1353.5l5.75 10h-11.5zM1468.5 1340.8l5.75 10h-11.5zM1436.4 1327.2l5.75 10h-11.5zM1474 1393l5.75 10h-11.5zM1433.5 1368.9l5.75 10h-11.5zM1489.4 1388.7l5.75 10h-11.5zM1435.5 1362.6l5.75 10h-11.5zM1429.2 1365.4l5.75 10h-11.5zM1422.2 1365.9l5.75 10h-11.5zM1417.9 1320.3l5.75 10h-11.5zM1511.2 1382.3l5.75 10h-11.5zM1447.1 1389.8l5.75 10h-11.5zM1404.6 1300.3l5.75 10h-11.5zM1426.2 1353.9l5.75 10h-11.5zM1461.5 1369.6l5.75 10h-11.5zM1462 1373.6l5.75 10h-11.5zM1442.7 1382.7l5.75 10h-11.5zM1472 1379.1l5.75 10h-11.5zM1421.9 1395.5l5.75 10h-11.5zM1425.5 1408.6l5.75 10h-11.5zM1415.5 1378.2l5.75 10h-11.5zM1477.1 1380.7l5.75 10h-11.5zM1426.5 1361l5.75 10h-11.5z" fill="#2aae80"/>
<path d="M1421.6 1418.7a2.6 2.6 0 1 0 5.2 0a2.6 2.6 0 1 0 -5.2 0zM1482.8 1418.7a2.6 2.6 0 1 0 5.2 0a2.6 2.6 0 1 0 -5.2 0zM1460.7 1418.7a2.6 2.6 0 1 0 5.2 0a2.6 2.6 0 1 0 -5.2 0zM1371.8 1418.7a2.6 2.6 0 1 0 5.2 0a2.6 2.6 0 1 0 -5.2 0zM1411.5 1405.6a2.6 2.6 0 1 0 5.2 0a2.6 2.6 0 1 0 -5.2 0zM1515.5 1315.4a2.6 2.6 0 1 0 5.2 0a2.6 2.6 0 1 0 -5.2 0zM1466.2 1352a2.6 2.6 0 1 0 5.2 0a2.6 2.6 0 1 0 -5.2 0zM1542.5 1324.8a2.6 2.6 0 1 0 5.2 0a2.6 2.6 0 1 0 -5.2 0zM1521.4 1298.1a2.6 2.6 0 1 0 5.2 0a2.6 2.6 0 1 0 -5.2 0zM1474.3 1302.2a2.6 2.6 0 1 0 5.2 0a2.6 2.6 0 1 0 -5.2 0zM1505.8 1349.7a2.6 2.6 0 1 0 5.2 0a2.6 2.6 0 1 0 -5.2 0zM1479.6 1412.6a2.6 2.6 0 1 0 5.2 0a2.6 2.6 0 1 0 -5.2 0zM1520.2 1269.9a2.6 2.6 0 1 0 5.2 0a2.6 2.6 0 1 0 -5.2 0zM1552.2 1284.7a2.6 2.6 0 1 0 5.2 0a2.6 2.6 0 1 0 -5.2 0zM1540.8 1288.3a2.6 2.6 0 1 0 5.2 0a2.6 2.6 0 1 0 -5.2 0zM1423.4 1348.5a2.6 2.6 0 1 0 5.2 0a2.6 2.6 0 1 0 -5.2 0zM1485.8 1390.6a2.6 2.6 0 1 0 5.2 0a2.6 2.6 0 1 0 -5.2 0zM1496 1365.2a2.6 2.6 0 1 0 5.2 0a2.6 2.6 0 1 0 -5.2 0zM1471.6 1311.1a2.6 2.6 0 1 0 5.2 0a2.6 2.6 0 1 0 -5.2 0zM1476.6 1360a2.6 2.6 0 1 0 5.2 0a2.6 2.6 0 1 0 -5.2 0zM1488.8 1289.9a2.6 2.6 0 1 0 5.2 0a2.6 2.6 0 1 0 -5.2 0zM1528.9 1329.9a2.6 2.6 0 1 0 5.2 0a2.6 2.6 0 1 0 -5.2 0zM1482.6 1289.1a2.6 2.6 0 1 0 5.2 0a2.6 2.6 0 1 0 -5.2 0zM1466.6 1336.2a2.6 2.6 0 1 0 5.2 0a2.6 2.6 0 1 0 -5.2 0zM1529.6 1281.7a2.6 2.6 0 1 0 5.2 0a2.6 2.6 0 1 0 -5.2 0zM1389.1 1374.1a2.6 2.6 0 1 0 5.2 0a2.6 2.6 0 1 0 -5.2 0zM1464 1330.9a2.6 2.6 0 1 0 5.2 0a2.6 2.6 0 1 0 -5.2 0zM1504 1294.2a2.6 2.6 0 1 0 5.2 0a2.6 2.6 0 1 0 -5.2 0zM1514.5 1306a2.6 2.6 0 1 0 5.2 0a2.6 2.6 0 1 0 -5.2 0zM1465 1370.2a2.6 2.6 0 1 0 5.2 0a2.6 2.6 0 1 0 -5.2 0zM1465.9 1388.1a2.6 2.6 0 1 0 5.2 0a2.6 2.6 0 1 0 -5.2 0zM1516.7 1279.6a2.6 2.6 0 1 0 5.2 0a2.6 2.6 0 1 0 -5.2 0zM1460.7 1346.6a2.6 2.6 0 1 0 5.2 0a2.6 2.6 0 1 0 -5.2 0zM1551.7 1298.8a2.6 2.6 0 1 0 5.2 0a2.6 2.6 0 1 0 -5.2 0zM1501.1 1321.4a2.6 2.6 0 1 0 5.2 0a2.6 2.6 0 1 0 -5.2 0zM1529.1 1339.9a2.6 2.6 0 1 0 5.2 0a2.6 2.6 0 1 0 -5.2 0zM1531 1227.4a2.6 2.6 0 1 0 5.2 0a2.6 2.6 0 1 0 -5.2 0zM1568.3 1251.2a2.6 2.6 0 1 0 5.2 0a2.6 2.6 0 1 0 -5.2 0zM1560.9 1262.6a2.6 2.6 0 1 0 5.2 0a2.6 2.6 0 1 0 -5.2 0z" fill="#440f68"/>
<path d="M1437.3 1412l5.75 10h-11.5zM1415.6 1412l5.75 10h-11.5zM1474.1 1412l5.75 10h-11.5zM1423.9 1412l5.75 10h-11.5zM1401.2 1412l5.75 10h-11.5zM1419.6 1412l5.75 10h-11.5zM1410.2 1412l5.75 10h-11.5zM1430.7 1412l5.75 10h-11.5zM1429.7 1412l5.75 10h-11.5zM1441.8 1412l5.75 10h-11.5zM1449.4 1412l5.75 10h-11.5zM1447.7 1412l5.75 10h-11.5zM1447.1 1412l5.75 10h-11.5zM1451.5 1380.1l5.75 10h-11.5zM1417.3 1383l5.75 10h-11.5zM1461 1336.8l5.75 10h-11.5zM1487.5 1329.2l5.75 10h-11.5zM1420.8 1363.4l5.75 10h-11.5zM1414.8 1334l5.75 10h-11.5zM1482.6 1299.4l5.75 10h-11.5zM1418.7 1402.1l5.75 10h-11.5zM1404.7 1390.1l5.75 10h-11.5zM1460.8 1358.1l5.75 10h-11.5zM1571.6 1345.1l5.75 10h-11.5zM1471.2 1405.4l5.75 10h-11.5zM1446.1 1407.2l5.75 10h-11.5zM1438.5 1306.5l5.75 10h-11.5zM1434 1394.9l5.75 10h-11.5zM1409.9 1386.7l5.75 10h-11.5zM1431.1 1384.7l5.75 10h-11.5zM1421.4 1406.8l5.75 10h-11.5zM1430.5 1385.4l5.75 10h-11.5zM1435.8 1370.2l5.75 10h-11.5zM1460.1 1357.3l5.75 10h-11.5zM1434.8 1343.7l5.75 10h-11.5zM1447.6 1381.2l5.75 10h-11.5zM1441.2 1406.2l5.75 10h-11.5zM1470.2 1389.1l5.75 10h-11.5zM1456.4 1361.3l5.75 10h-11.5zM1465 1404l5.75 10h-11.5zM1381 1371.9l5.75 10h-11.5zM1450.2 1344.5l5.75 10h-11.5zM1422.8 1385.7l5.75 10h-11.5zM1401.9 1393.7l5.75 10h-11.5zM1420.9 1384l5.75 10h-11.5zM1426.5 1363.7l5.75 10h-11.5zM1426.6 1357.9l5.75 10h-11.5zM1452.3 1348.8l5.75 10h-11.5zM1422.3 1367.2l5.75 10h-11.5zM1443.5 1338.1l5.75 10h-11.5zM1445.1 1410.4l5.75 10h-11.5zM1422.4 1400.3l5.75 10h-11.5zM1431.3 1382.2l5.75 10h-11.5zM1441.4 1375.8l5.75 10h-11.5zM1465.7 1372.3l5.75 10h-11.5zM1475.4 1332.4l5.75 10h-11.5zM1496 1387l5.75 10h-11.5zM1474.9 1396.8l5.75 10h-11.5zM1404.2 1362.3l5.75 10h-11.5zM1421.8 1390.5l5.75 10h-11.5zM1405.5 1403l5.75 10h-11.5zM1460.1 1367.9l5.75 10h-11.5zM1445.5 1404.7l5.75 10h-11.5zM1454.2 1355.9l5.75 10h-11.5zM1420.2 1378.9l5.75 10h-11.5zM1471.3 1345.9l5.75 10h-11.5zM1433.1 1391.3l5.75 10h-11.5zM1478.2 1396.4l5.75 10h-11.5zM1428.6 1374.1l5.75 10h-11.5zM1486.5 1370.9l5.75 10h-11.5zM1470.3 1321.7l5.75 10h-11.5zM1424.6 1355.4l5.75 10h-11.5zM1420.9 1394l5.75 10h-11.5zM1443.6 1363.9l5.75 10h-11.5zM1482 1302l5.75 10h-11.5zM1418.2 1377.4l5.75 10h-11.5zM1439.1 1371.4l5.75 10h-11.5zM1404.3 1328.2l5.75 10h-11.5zM1427.4 1314.7l5.75 10h-11.5zM1436.5 1392.7l5.75 10h-11.5zM1428.8 1395.7l5.75 10h-11.5zM1553.9 1368.3l5.75 10h-11.5zM1393.2 1377.7l5.75 10h-11.5zM1454.3 1385.2l5.75 10h-11.5z" fill="#2aae80"/>
<path d="M1428.1 1418.7a2.6 2.6 0 1 0 5.2 0a2.6 2.6 0 1 0 -5.2 0zM1409.6 1418.7a2.6 2.6 0 1 0 5.2 0a2.6 2.6 0 1 0 -5.2 0zM1415.2 1418.7a2.6 2.6 0 1 0 5.2 0a2.6 2.6 0 1 0 -5.2 0zM1464.4 1418.7a2.6 2.6 0 1 0 5.2 0a2.6 2.6 0 1 0 -5.2 0zM1465.4 1293.4a2.6 2.6 0 1 0 5.2 0a2.6 2.6 0 1 0 -5.2 0zM1481.5 1316.9a2.6 2.6 0 1 0 5.2 0a2.6 2.6 0 1 0 -5.2 0zM1503.2 1361.3a2.6 2.6 0 1 0 5.2 0a2.6 2.6 0 1 0 -5.2 0zM1513.2 1301.4a2.6 2.6 0 1 0 5.2 0a2.6 2.6 0 1 0 -5.2 0zM1501.7 1353.9a2.6 2.6 0 1 0 5.2 0a2.6 2.6 0 1 0 -5.2 0zM1467.7 1326.9a2.6 2.6 0 1 0 5.2 0a2.6 2.6 0 1 0 -5.2 0zM1485.7 1310.4a2.6 2.6 0 1 0 5.2 0a2.6 2.6 0 1 0 -5.2 0zM1547.2 1325.5a2.6 2.6 0 1 0 5.2 0a2.6 2.6 0 1 0 -5.2 0zM1500.4 1385.7a2.6 2.6 0 1 0 5.2 0a2.6 2.6 0 1 0 -5.2 0zM1411.7 1380.4a2.6 2.6 0 1 0 5.2 0a2.6 2.6 0 1 0 -5.2 0zM1496.7 1414.7a2.6 2.6 0 1 0 5.2 0a2.6 2.6 0 1 0 -5.2 0zM1448 1312.3a2.6 2.6 0 1 0 5.2 0a2.6 2.6 0 1 0 -5.2 0zM1479.5 1395.1a2.6 2.6 0 1 0 5.2 0a2.6 2.6 0 1 0 -5.2 0zM1446.4 1372.5a2.6 2.6 0 1 0 5.2 0a2.6 2.6 0 1 0 -5.2 0zM1523.1 1328a2.6 2.6 0 1 0 5.2 0a2.6 2.6 0 1 0 -5.2 0zM1507.3 1319.4a2.6 2.6 0 1 0 5.2 0a2.6 2.6 0 1 0 -5.2 0zM1527.2 1295.3a2.6 2.6 0 1 0 5.2 0a2.6 2.6 0 1 0 -5.2 0zM1447.4 1383.3a2.6 2.6 0 1 0 5.2 0a2.6 2.6 0 1 0 -5.2 0zM1422 1411.2a2.6 2.6 0 1 0 5.2 0a2.6 2.6 0 1 0 -5.2 0zM1555.9 1292.6a2.6 2.6 0 1 0 5.2 0a2.6 2.6 0 1 0 -5.2 0zM1499.7 1367.5a2.6 2.6 0 1 0 5.2 0a2.6 2.6 0 1 0 -5.2 0zM1529 1296.5a2.6 2.6 0 1 0 5.2 0a2.6 2.6 0 1 0 -5.2 0zM1504.1 1304.2a2.6 2.6 0 1 0 5.2 0a2.6 2.6 0 1 0 -5.2 0zM1474.4 1317.7a2.6 2.6 0 1 0 5.2 0a2.6 2.6 0 1 0 -5.2 0zM1570 1314.5a2.6 2.6 0 1 0 5.2 0a2.6 2.6 0 1 0 -5.2 0zM1508.7 1299.8a2.6 2.6 0 1 0 5.2 0a2.6 2.6 0 1 0 -5.2 0zM1448.6 1404.7a2.6 2.6 0 1 0 5.2 0a2.6 2.6 0 1 0 -5.2 0zM1521.1 1308.1a2.6 2.6 0 1 0 5.2 0a2.6 2.6 0 1 0 -5.2 0zM1489.9 1378.5a2.6 2.6 0 1 0 5.2 0a2.6 2.6 0 1 0 -5.2 0zM1464.6 1283.8a2.6 2.6 0 1 0 5.2 0a2.6 2.6 0 1 0 -5.2 0zM1503.1 1282.7a2.6 2.6 0 1 0 5.2 0a2.6 2.6 0 1 0 -5.2 0zM1497.2 1211.7a2.6 2.6 0 1 0 5.2 0a2.6 2.6 0 1 0 -5.2 0zM1502.9 1231.3a2.6 2.6 0 1 0 5.2 0a2.6 2.6 0 1 0 -5.2 0zM1557 1253.5a2.6 2.6 0 1 0 5.2 0a2.6 2.6 0 1 0 -5.2 0zM1572.4 1262.6a2.6 2.6 0 1 0 5.2 0a2.6 2.6 0 1 0 -5.2 0z" fill="#440f68"/>
<path d="M1403.5 1412l5.75 10h-11.5zM1430.2 1412l5.75 10h-11.5zM1414.7 1412l5.75 10h-11.5zM1464.3 1412l5.75 10h-11.5zM1412.2 1412l5.75 10h-11.5zM1441.3 1412l5.75 10h-11.5zM1426.1 1412l5.75 10h-11.5zM1435 1412l5.75 10h-11.5zM1459.6 1412l5.75 10h-11.5zM1421.7 1412l5.75 10h-11.5zM1445.2 1412l5.75 10h-11.5zM1443 1412l5.75 10h-11.5zM1452 1412l5.75 10h-11.5zM1440.1 1375.5l5.75 10h-11.5zM1454.1 1407.9l5.75 10h-11.5zM1441.1 1310.9l5.75 10h-11.5zM1455.2 1360.1l5.75 10h-11.5zM1410.9 1399.5l5.75 10h-11.5zM1455.5 1359.3l5.75 10h-11.5zM1468 1370.5l5.75 10h-11.5zM1448.2 1366.4l5.75 10h-11.5zM1422.2 1337.3l5.75 10h-11.5zM1426.7 1366.6l5.75 10h-11.5zM1444.8 1400.8l5.75 10h-11.5zM1418.7 1377.1l5.75 10h-11.5zM1422.5 1318.3l5.75 10h-11.5zM1431.4 1296.7l5.75 10h-11.5zM1396.5 1411.7l5.75 10h-11.5zM1432 1327.7l5.75 10h-11.5zM1453.7 1391.9l5.75 10h-11.5zM1467.4 1376.8l5.75 10h-11.5zM1434.9 1361.9l5.75 10h-11.5zM1484.3 1313.2l5.75 10h-11.5zM1387.1 1392.1l5.75 10h-11.5zM1421.5 1360.3l5.75 10h-11.5zM1411.5 1342.3l5.75 10h-11.5zM1467.1 1336.3l5.75 10h-11.5zM1410.2 1351.3l5.75 10h-11.5zM1442.9 1372.6l5.75 10h-11.5zM1477.3 1361.6l5.75 10h-11.5zM1418.2 1411l5.75 10h-11.5zM1438.8 1338.8l5.75 10h-11.5zM1452.1 1394.5l5.75 10h-11.5zM1387.2 1334.6l5.75 10h-11.5zM1399.5 1362.9l5.75 10h-11.5zM1447.9 1376.2l5.75 10h-11.5zM1449.3 1370l5.75 10h-11.5zM1474.6 1373.9l5.75 10h-11.5zM1454.8 1398l5.75 10h-11.5zM1427.6 1380.3l5.75 10h-11.5zM1440.9 1388.5l5.75 10h-11.5zM1414.7 1372.9l5.75 10h-11.5zM1462.1 1341.1l5.75 10h-11.5zM1458.1 1393.3l5.75 10h-11.5zM1427.8 1332.9l5.75 10h-11.5zM1447.1 1401.5l5.75 10h-11.5zM1480.9 1397.1l5.75 10h-11.5zM1455.1 1356.8l5.75 10h-11.5zM1402 1396.2l5.75 10h-11.5zM1466.5 1360.7l5.75 10h-11.5zM1420.3 1365l5.75 10h-11.5zM1423.6 1308.2l5.75 10h-11.5zM1476.4 1390.7l5.75 10h-11.5zM1392.3 1384.4l5.75 10h-11.5zM1457.7 1403.4l5.75 10h-11.5zM1422.1 1357.1l5.75 10h-11.5zM1529 1378.5l5.75 10h-11.5zM1432.1 1323.8l5.75 10h-11.5zM1575.6 1387.5l5.75 10h-11.5zM1417.7 1399.3l5.75 10h-11.5zM1454.9 1359l5.75 10h-11.5zM1404 1369.1l5.75 10h-11.5zM1475.2 1379.4l5.75 10h-11.5zM1548 1381.4l5.75 10h-11.5zM1458.3 1346.6l5.75 10h-11.5zM1458.6 1350.2l5.75 10h-11.5zM1542.7 1343.3l5.75 10h-11.5zM1444.6 1352.1l5.75 10h-11.5zM1452.6 1358.4l5.75 10h-11.5zM1379.9 1383.7l5.75 10h-11.5zM1426.8 1331.8l5.75 10h-11.5zM1446.7 1316.4l5.75 10h-11.5zM1449.3 1349.5l5.75 10h-11.5z" fill="#2aae80"/>
<path d="M1473 1418.7a2.6 2.6 0 1 0 5.2 0a2.6 2.6 0 1 0 -5.2 0zM1420.7 1418.7a2.6 2.6 0 1 0 5.2 0a2.6 2.6 0 1 0 -5.2 0zM1423.7 1418.7a2.6 2.6 0 1 0 5.2 0a2.6 2.6 0 1 0 -5.2 0zM1447.6 1418.7a2.6 2.6 0 1 0 5.2 0a2.6 2.6 0 1 0 -5.2 0zM1465.4 1309.1a2.6 2.6 0 1 0 5.2 0a2.6 2.6 0 1 0 -5.2 0zM1480.1 1272.9a2.6 2.6 0 1 0 5.2 0a2.6 2.6 0 1 0 -5.2 0zM1541.8 1320.3a2.6 2.6 0 1 0 5.2 0a2.6 2.6 0 1 0 -5.2 0zM1527.4 1285.8a2.6 2.6 0 1 0 5.2 0a2.6 2.6 0 1 0 -5.2 0zM1475.8 1392.9a2.6 2.6 0 1 0 5.2 0a2.6 2.6 0 1 0 -5.2 0zM1474 1337.5a2.6 2.6 0 1 0 5.2 0a2.6 2.6 0 1 0 -5.2 0zM1438 1374.9a2.6 2.6 0 1 0 5.2 0a2.6 2.6 0 1 0 -5.2 0zM1431.8 1377a2.6 2.6 0 1 0 5.2 0a2.6 2.6 0 1 0 -5.2 0zM1471 1341.8a2.6 2.6 0 1 0 5.2 0a2.6 2.6 0 1 0 -5.2 0zM1442.1 1401.1a2.6 2.6 0 1 0 5.2 0a2.6 2.6 0 1 0 -5.2 0zM1511.3 1355.3a2.6 2.6 0 1 0 5.2 0a2.6 2.6 0 1 0 -5.2 0zM1414.3 1408.8a2.6 2.6 0 1 0 5.2 0a2.6 2.6 0 1 0 -5.2 0zM1479 1417.4a2.6 2.6 0 1 0 5.2 0a2.6 2.6 0 1 0 -5.2 0zM1471.2 1342.7a2.6 2.6 0 1 0 5.2 0a2.6 2.6 0 1 0 -5.2 0zM1445.5 1332.7a2.6 2.6 0 1 0 5.2 0a2.6 2.6 0 1 0 -5.2 0zM1512.8 1369.2a2.6 2.6 0 1 0 5.2 0a2.6 2.6 0 1 0 -5.2 0zM1439.4 1358.4a2.6 2.6 0 1 0 5.2 0a2.6 2.6 0 1 0 -5.2 0zM1495 1306.9a2.6 2.6 0 1 0 5.2 0a2.6 2.6 0 1 0 -5.2 0zM1459.9 1345.4a2.6 2.6 0 1 0 5.2 0a2.6 2.6 0 1 0 -5.2 0zM1472.6 1303.7a2.6 2.6 0 1 0 5.2 0a2.6 2.6 0 1 0 -5.2 0zM1461.6 1313.4a2.6 2.6 0 1 0 5.2 0a2.6 2.6 0 1 0 -5.2 0zM1430.8 1334.1a2.6 2.6 0 1 0 5.2 0a2.6 2.6 0 1 0 -5.2 0zM1460.9 1398.9a2.6 2.6 0 1 0 5.2 0a2.6 2.6 0 1 0 -5.2 0zM1531.5 1323.5a2.6 2.6 0 1 0 5.2 0a2.6 2.6 0 1 0 -5.2 0zM1483 1291.5a2.6 2.6 0 1 0 5.2 0a2.6 2.6 0 1 0 -5.2 0zM1515.8 1322.8a2.6 2.6 0 1 0 5.2 0a2.6 2.6 0 1 0 -5.2 0zM1587.9 1286.7a2.6 2.6 0 1 0 5.2 0a2.6 2.6 0 1 0 -5.2 0zM1483.1 1356.7a2.6 2.6 0 1 0 5.2 0a2.6 2.6 0 1 0 -5.2 0zM1458.8 1275a2.6 2.6 0 1 0 5.2 0a2.6 2.6 0 1 0 -5.2 0zM1461.2 1363.6a2.6 2.6 0 1 0 5.2 0a2.6 2.6 0 1 0 -5.2 0zM1433.8 1397.1a2.6 2.6 0 1 0 5.2 0a2.6 2.6 0 1 0 -5.2 0zM1562.3 1225.1a2.6 2.6 0 1 0 5.2 0a2.6 2.6 0 1 0 -5.2 0zM1497.9 1247a2.6 2.6 0 1 0 5.2 0a2.6 2.6 0 1 0 -5.2 0zM1572.1 1255.5a2.6 2.6 0 1 0 5.2 0a2.6 2.6 0 1 0 -5.2 0zM1503.9 1263.9a2.6 2.6 0 1 0 5.2 0a2.6 2.6 0 1 0 -5.2 0z" fill="#440f68"/>
<path d="M1396.7 1404.4 L1403.4 1399.8 L1410.1 1395.2 L1416.8 1390.6 L1423.6 1385.8 L1430.3 1380.9 L1437 1375.9 L1443.7 1370.8 L1450.4 1365.7 L1457.1 1360.4 L1463.8 1355.2 L1470.6 1349.9 L1477.3 1344.5 L1484 1339.1 L1490.7 1333.8 L1497.4 1328.4 L1504.1 1323 L1510.8 1317.6 L1517.5 1312.1 L1524.3 1306.7 L1531 1301.3 L1537.7 1295.8 L1544.4 1290.4 L1551.1 1285 L1557.8 1279.5 L1564.5 1274.1 L1571.3 1268.6 L1578 1263.2 L1584.7 1257.7 L1591.4 1252.3 L1591.4 1280.3 L1584.7 1284.7 L1578 1289 L1571.3 1293.4 L1564.5 1297.7 L1557.8 1302.1 L1551.1 1306.4 L1544.4 1310.8 L1537.7 1315.2 L1531 1319.5 L1524.3 1323.9 L1517.5 1328.3 L1510.8 1332.6 L1504.1 1337 L1497.4 1341.4 L1490.7 1345.8 L1484 1350.3 L1477.3 1354.7 L1470.6 1359.1 L1463.8 1363.6 L1457.1 1368.2 L1450.4 1372.7 L1443.7 1377.4 L1437 1382.1 L1430.3 1386.9 L1423.6 1391.8 L1416.8 1396.8 L1410.1 1402 L1403.4 1407.2 L1396.7 1412.4 Z" fill="#999" fill-opacity="0.4"/>
<path d="M1396.7 1408.4 L1591.4 1266.3" stroke="#000" stroke-width="4.2"/>
<text x="1590.6" y="1374" font-size="23" style="fill:#000;stroke:#000">r = 0.58</text>
<text x="1590.6" y="1400.2" font-size="23" style="fill:#45105f;stroke:#45105f">r = 0.66</text>
<text x="1590.6" y="1426.4" font-size="23" style="fill:#24a884;stroke:#24a884">r = 0.31</text>
<path d="M440.9 1732.5l5.75 10h-11.5zM479.5 1732.5l5.75 10h-11.5zM477.8 1732.5l5.75 10h-11.5zM470.2 1732.5l5.75 10h-11.5zM446.4 1732.5l5.75 10h-11.5zM460.3 1732.5l5.75 10h-11.5zM437.4 1732.5l5.75 10h-11.5zM428.3 1732.5l5.75 10h-11.5zM472.1 1732.5l5.75 10h-11.5zM446.7 1732.5l5.75 10h-11.5zM441.5 1732.5l5.75 10h-11.5zM446.1 1732.5l5.75 10h-11.5zM485.3 1732.5l5.75 10h-11.5zM447.4 1732.5l5.75 10h-11.5zM471.2 1675.1l5.75 10h-11.5zM452 1708.5l5.75 10h-11.5zM458.8 1691.7l5.75 10h-11.5zM477.3 1660l5.75 10h-11.5zM513 1667.3l5.75 10h-11.5zM468.8 1710l5.75 10h-11.5zM517.2 1706.6l5.75 10h-11.5zM461.6 1673.5l5.75 10h-11.5zM477.4 1707l5.75 10h-11.5zM509.8 1679.3l5.75 10h-11.5zM454.2 1708.2l5.75 10h-11.5zM501.3 1655.7l5.75 10h-11.5zM502.5 1650.3l5.75 10h-11.5zM469.5 1685.1l5.75 10h-11.5zM442.4 1669l5.75 10h-11.5zM512.6 1680.2l5.75 10h-11.5zM491.6 1651.7l5.75 10h-11.5zM482 1713l5.75 10h-11.5zM509.1 1650.8l5.75 10h-11.5zM498.4 1645.6l5.75 10h-11.5zM474.1 1660.5l5.75 10h-11.5zM488.1 1676.9l5.75 10h-11.5zM507.1 1687.4l5.75 10h-11.5zM474 1684.8l5.75 10h-11.5zM509.6 1695.6l5.75 10h-11.5zM422.9 1700.3l5.75 10h-11.5zM470.2 1729.5l5.75 10h-11.5zM464.2 1695.4l5.75 10h-11.5zM518.1 1688l5.75 10h-11.5zM464.3 1715.5l5.75 10h-11.5zM463.6 1694.9l5.75 10h-11.5zM470 1711.5l5.75 10h-11.5zM438.7 1686.1l5.75 10h-11.5zM480.9 1689l5.75 10h-11.5zM456.6 1730.4l5.75 10h-11.5zM523.9 1629.6l5.75 10h-11.5zM478.2 1671.6l5.75 10h-11.5zM420.2 1719.2l5.75 10h-11.5zM490 1702.4l5.75 10h-11.5zM486.5 1654.1l5.75 10h-11.5zM429.9 1668.4l5.75 10h-11.5zM471 1704l5.75 10h-11.5zM456 1693.6l5.75 10h-11.5zM443.5 1696.9l5.75 10h-11.5zM507.3 1718l5.75 10h-11.5zM478.8 1625.3l5.75 10h-11.5zM490.9 1662.5l5.75 10h-11.5zM454.6 1674l5.75 10h-11.5zM479.3 1661.3l5.75 10h-11.5zM506.2 1647.7l5.75 10h-11.5zM495.6 1713.5l5.75 10h-11.5zM482.4 1689.4l5.75 10h-11.5zM456.9 1709.2l5.75 10h-11.5zM501.1 1683.1l5.75 10h-11.5zM481.5 1685.9l5.75 10h-11.5zM493.5 1686.4l5.75 10h-11.5zM491.1 1640.8l5.75 10h-11.5zM449.8 1702.8l5.75 10h-11.5zM428.9 1710.3l5.75 10h-11.5zM477.5 1620.8l5.75 10h-11.5zM463.7 1674.4l5.75 10h-11.5zM490.8 1690.1l5.75 10h-11.5zM473.5 1694.1l5.75 10h-11.5zM446.1 1703.2l5.75 10h-11.5zM458 1699.6l5.75 10h-11.5zM453.5 1716l5.75 10h-11.5zM442.5 1729.1l5.75 10h-11.5zM490.6 1698.7l5.75 10h-11.5zM462.6 1701.2l5.75 10h-11.5zM467.5 1681.5l5.75 10h-11.5z" fill="#2aae80"/>
<path d="M416.3 1739.2a2.6 2.6 0 1 0 5.2 0a2.6 2.6 0 1 0 -5.2 0zM483.1 1739.2a2.6 2.6 0 1 0 5.2 0a2.6 2.6 0 1 0 -5.2 0zM385.3 1739.2a2.6 2.6 0 1 0 5.2 0a2.6 2.6 0 1 0 -5.2 0zM419.1 1739.2a2.6 2.6 0 1 0 5.2 0a2.6 2.6 0 1 0 -5.2 0zM446.9 1726.1a2.6 2.6 0 1 0 5.2 0a2.6 2.6 0 1 0 -5.2 0zM493.6 1635.9a2.6 2.6 0 1 0 5.2 0a2.6 2.6 0 1 0 -5.2 0zM435.1 1672.5a2.6 2.6 0 1 0 5.2 0a2.6 2.6 0 1 0 -5.2 0zM508.3 1645.3a2.6 2.6 0 1 0 5.2 0a2.6 2.6 0 1 0 -5.2 0zM541 1618.6a2.6 2.6 0 1 0 5.2 0a2.6 2.6 0 1 0 -5.2 0zM520.5 1622.7a2.6 2.6 0 1 0 5.2 0a2.6 2.6 0 1 0 -5.2 0zM454.8 1670.2a2.6 2.6 0 1 0 5.2 0a2.6 2.6 0 1 0 -5.2 0zM399.4 1733.1a2.6 2.6 0 1 0 5.2 0a2.6 2.6 0 1 0 -5.2 0zM533.4 1590.4a2.6 2.6 0 1 0 5.2 0a2.6 2.6 0 1 0 -5.2 0zM501.3 1605.2a2.6 2.6 0 1 0 5.2 0a2.6 2.6 0 1 0 -5.2 0zM545 1608.8a2.6 2.6 0 1 0 5.2 0a2.6 2.6 0 1 0 -5.2 0zM475.5 1669a2.6 2.6 0 1 0 5.2 0a2.6 2.6 0 1 0 -5.2 0zM389.7 1711.1a2.6 2.6 0 1 0 5.2 0a2.6 2.6 0 1 0 -5.2 0zM465.9 1685.7a2.6 2.6 0 1 0 5.2 0a2.6 2.6 0 1 0 -5.2 0zM529.4 1631.6a2.6 2.6 0 1 0 5.2 0a2.6 2.6 0 1 0 -5.2 0zM480 1680.5a2.6 2.6 0 1 0 5.2 0a2.6 2.6 0 1 0 -5.2 0zM552.5 1610.4a2.6 2.6 0 1 0 5.2 0a2.6 2.6 0 1 0 -5.2 0zM482 1650.4a2.6 2.6 0 1 0 5.2 0a2.6 2.6 0 1 0 -5.2 0zM522.4 1609.6a2.6 2.6 0 1 0 5.2 0a2.6 2.6 0 1 0 -5.2 0zM483.7 1656.7a2.6 2.6 0 1 0 5.2 0a2.6 2.6 0 1 0 -5.2 0zM547.8 1602.2a2.6 2.6 0 1 0 5.2 0a2.6 2.6 0 1 0 -5.2 0zM469.7 1694.6a2.6 2.6 0 1 0 5.2 0a2.6 2.6 0 1 0 -5.2 0zM497 1651.4a2.6 2.6 0 1 0 5.2 0a2.6 2.6 0 1 0 -5.2 0zM510 1614.7a2.6 2.6 0 1 0 5.2 0a2.6 2.6 0 1 0 -5.2 0zM499 1626.5a2.6 2.6 0 1 0 5.2 0a2.6 2.6 0 1 0 -5.2 0zM474.7 1690.7a2.6 2.6 0 1 0 5.2 0a2.6 2.6 0 1 0 -5.2 0zM432.7 1708.6a2.6 2.6 0 1 0 5.2 0a2.6 2.6 0 1 0 -5.2 0zM509.7 1600.1a2.6 2.6 0 1 0 5.2 0a2.6 2.6 0 1 0 -5.2 0zM501.3 1667.1a2.6 2.6 0 1 0 5.2 0a2.6 2.6 0 1 0 -5.2 0zM546.9 1619.3a2.6 2.6 0 1 0 5.2 0a2.6 2.6 0 1 0 -5.2 0zM478.4 1641.9a2.6 2.6 0 1 0 5.2 0a2.6 2.6 0 1 0 -5.2 0zM465.7 1660.4a2.6 2.6 0 1 0 5.2 0a2.6 2.6 0 1 0 -5.2 0zM514.6 1547.9a2.6 2.6 0 1 0 5.2 0a2.6 2.6 0 1 0 -5.2 0zM546.3 1571.7a2.6 2.6 0 1 0 5.2 0a2.6 2.6 0 1 0 -5.2 0zM538.1 1583.1a2.6 2.6 0 1 0 5.2 0a2.6 2.6 0 1 0 -5.2 0z" fill="#440f68"/>
<path d="M430.1 1732.5l5.75 10h-11.5zM478.6 1732.5l5.75 10h-11.5zM432.2 1732.5l5.75 10h-11.5zM404.8 1732.5l5.75 10h-11.5zM418.5 1732.5l5.75 10h-11.5zM461.9 1732.5l5.75 10h-11.5zM422.1 1732.5l5.75 10h-11.5zM442.7 1732.5l5.75 10h-11.5zM463.2 1732.5l5.75 10h-11.5zM475.6 1732.5l5.75 10h-11.5zM442.8 1732.5l5.75 10h-11.5zM442.8 1732.5l5.75 10h-11.5zM421 1732.5l5.75 10h-11.5zM430.9 1700.6l5.75 10h-11.5zM477.7 1703.5l5.75 10h-11.5zM533.4 1657.3l5.75 10h-11.5zM463.8 1649.7l5.75 10h-11.5zM483.6 1683.9l5.75 10h-11.5zM467.5 1654.5l5.75 10h-11.5zM484.7 1619.9l5.75 10h-11.5zM444.6 1722.6l5.75 10h-11.5zM459.6 1710.6l5.75 10h-11.5zM481.5 1678.6l5.75 10h-11.5zM487.1 1665.6l5.75 10h-11.5zM449.1 1725.9l5.75 10h-11.5zM435.7 1727.7l5.75 10h-11.5zM508.7 1627l5.75 10h-11.5zM470.4 1715.4l5.75 10h-11.5zM453.4 1707.2l5.75 10h-11.5zM493 1705.2l5.75 10h-11.5zM426.9 1727.3l5.75 10h-11.5zM472.1 1705.9l5.75 10h-11.5zM478.1 1690.7l5.75 10h-11.5zM488.3 1677.8l5.75 10h-11.5zM431.5 1664.2l5.75 10h-11.5zM446.7 1701.7l5.75 10h-11.5zM495.6 1726.7l5.75 10h-11.5zM473.2 1709.6l5.75 10h-11.5zM459.3 1681.8l5.75 10h-11.5zM450.5 1724.5l5.75 10h-11.5zM532.1 1692.4l5.75 10h-11.5zM474.4 1665l5.75 10h-11.5zM438 1706.2l5.75 10h-11.5zM455 1714.2l5.75 10h-11.5zM470 1704.5l5.75 10h-11.5zM513.6 1684.2l5.75 10h-11.5zM449 1678.4l5.75 10h-11.5zM502.7 1669.3l5.75 10h-11.5zM436.5 1687.7l5.75 10h-11.5zM466.8 1658.6l5.75 10h-11.5zM464.9 1730.9l5.75 10h-11.5zM450.4 1720.8l5.75 10h-11.5zM455.6 1702.7l5.75 10h-11.5zM462.2 1696.3l5.75 10h-11.5zM489.9 1692.8l5.75 10h-11.5zM462.9 1652.9l5.75 10h-11.5zM480.3 1707.5l5.75 10h-11.5zM422.9 1717.3l5.75 10h-11.5zM482 1682.8l5.75 10h-11.5zM487.7 1711l5.75 10h-11.5zM425.3 1723.5l5.75 10h-11.5zM462.2 1688.4l5.75 10h-11.5zM469.4 1725.2l5.75 10h-11.5zM511.5 1676.4l5.75 10h-11.5zM463 1699.4l5.75 10h-11.5zM497 1666.4l5.75 10h-11.5zM475.4 1711.8l5.75 10h-11.5zM503.7 1716.9l5.75 10h-11.5zM490.2 1694.6l5.75 10h-11.5zM481.8 1691.4l5.75 10h-11.5zM477.9 1642.2l5.75 10h-11.5zM497.6 1675.9l5.75 10h-11.5zM438.6 1714.5l5.75 10h-11.5zM466.7 1684.4l5.75 10h-11.5zM517.1 1622.5l5.75 10h-11.5zM456.3 1697.9l5.75 10h-11.5zM497 1691.9l5.75 10h-11.5zM490.2 1648.7l5.75 10h-11.5zM476.8 1635.2l5.75 10h-11.5zM470.6 1713.2l5.75 10h-11.5zM434.9 1716.2l5.75 10h-11.5zM480.5 1688.8l5.75 10h-11.5zM490.1 1698.2l5.75 10h-11.5zM468.1 1705.7l5.75 10h-11.5z" fill="#2aae80"/>
<path d="M419.1 1739.2a2.6 2.6 0 1 0 5.2 0a2.6 2.6 0 1 0 -5.2 0zM386.2 1739.2a2.6 2.6 0 1 0 5.2 0a2.6 2.6 0 1 0 -5.2 0zM415.9 1739.2a2.6 2.6 0 1 0 5.2 0a2.6 2.6 0 1 0 -5.2 0zM397.5 1739.2a2.6 2.6 0 1 0 5.2 0a2.6 2.6 0 1 0 -5.2 0zM512.9 1613.9a2.6 2.6 0 1 0 5.2 0a2.6 2.6 0 1 0 -5.2 0zM496.7 1637.4a2.6 2.6 0 1 0 5.2 0a2.6 2.6 0 1 0 -5.2 0zM504.4 1681.8a2.6 2.6 0 1 0 5.2 0a2.6 2.6 0 1 0 -5.2 0zM537.5 1621.9a2.6 2.6 0 1 0 5.2 0a2.6 2.6 0 1 0 -5.2 0zM501.1 1674.4a2.6 2.6 0 1 0 5.2 0a2.6 2.6 0 1 0 -5.2 0zM502 1647.4a2.6 2.6 0 1 0 5.2 0a2.6 2.6 0 1 0 -5.2 0zM528.1 1630.9a2.6 2.6 0 1 0 5.2 0a2.6 2.6 0 1 0 -5.2 0zM453.2 1646a2.6 2.6 0 1 0 5.2 0a2.6 2.6 0 1 0 -5.2 0zM495.3 1706.2a2.6 2.6 0 1 0 5.2 0a2.6 2.6 0 1 0 -5.2 0zM435.2 1700.9a2.6 2.6 0 1 0 5.2 0a2.6 2.6 0 1 0 -5.2 0zM400.9 1735.2a2.6 2.6 0 1 0 5.2 0a2.6 2.6 0 1 0 -5.2 0zM521.9 1632.8a2.6 2.6 0 1 0 5.2 0a2.6 2.6 0 1 0 -5.2 0zM479 1715.6a2.6 2.6 0 1 0 5.2 0a2.6 2.6 0 1 0 -5.2 0zM532.7 1693a2.6 2.6 0 1 0 5.2 0a2.6 2.6 0 1 0 -5.2 0zM484.1 1648.5a2.6 2.6 0 1 0 5.2 0a2.6 2.6 0 1 0 -5.2 0zM503.1 1639.9a2.6 2.6 0 1 0 5.2 0a2.6 2.6 0 1 0 -5.2 0zM547.3 1615.8a2.6 2.6 0 1 0 5.2 0a2.6 2.6 0 1 0 -5.2 0zM483.5 1703.8a2.6 2.6 0 1 0 5.2 0a2.6 2.6 0 1 0 -5.2 0zM437.1 1731.7a2.6 2.6 0 1 0 5.2 0a2.6 2.6 0 1 0 -5.2 0zM529.7 1613.1a2.6 2.6 0 1 0 5.2 0a2.6 2.6 0 1 0 -5.2 0zM444.1 1688a2.6 2.6 0 1 0 5.2 0a2.6 2.6 0 1 0 -5.2 0zM502.6 1617a2.6 2.6 0 1 0 5.2 0a2.6 2.6 0 1 0 -5.2 0zM488.7 1624.7a2.6 2.6 0 1 0 5.2 0a2.6 2.6 0 1 0 -5.2 0zM511.4 1638.2a2.6 2.6 0 1 0 5.2 0a2.6 2.6 0 1 0 -5.2 0zM514.6 1635a2.6 2.6 0 1 0 5.2 0a2.6 2.6 0 1 0 -5.2 0zM515.6 1620.3a2.6 2.6 0 1 0 5.2 0a2.6 2.6 0 1 0 -5.2 0zM410.1 1725.2a2.6 2.6 0 1 0 5.2 0a2.6 2.6 0 1 0 -5.2 0zM504.4 1628.6a2.6 2.6 0 1 0 5.2 0a2.6 2.6 0 1 0 -5.2 0zM488.8 1699a2.6 2.6 0 1 0 5.2 0a2.6 2.6 0 1 0 -5.2 0zM519.6 1604.3a2.6 2.6 0 1 0 5.2 0a2.6 2.6 0 1 0 -5.2 0zM529.9 1603.2a2.6 2.6 0 1 0 5.2 0a2.6 2.6 0 1 0 -5.2 0zM535.1 1532.2a2.6 2.6 0 1 0 5.2 0a2.6 2.6 0 1 0 -5.2 0zM527.5 1551.8a2.6 2.6 0 1 0 5.2 0a2.6 2.6 0 1 0 -5.2 0zM516 1574a2.6 2.6 0 1 0 5.2 0a2.6 2.6 0 1 0 -5.2 0zM509.7 1583.1a2.6 2.6 0 1 0 5.2 0a2.6 2.6 0 1 0 -5.2 0z" fill="#440f68"/>
<path d="M434.7 1732.5l5.75 10h-11.5zM432.2 1732.5l5.75 10h-11.5zM458 1732.5l5.75 10h-11.5zM468.4 1732.5l5.75 10h-11.5zM469.7 1732.5l5.75 10h-11.5zM446.9 1732.5l5.75 10h-11.5zM447.8 1732.5l5.75 10h-11.5zM462.8 1732.5l5.75 10h-11.5zM459.9 1732.5l5.75 10h-11.5zM481 1732.5l5.75 10h-11.5zM429.9 1732.5l5.75 10h-11.5zM499.4 1732.5l5.75 10h-11.5zM471.5 1732.5l5.75 10h-11.5zM480.9 1696l5.75 10h-11.5zM467.9 1728.4l5.75 10h-11.5zM516.6 1631.4l5.75 10h-11.5zM480.3 1680.6l5.75 10h-11.5zM467.2 1720l5.75 10h-11.5zM426.6 1679.8l5.75 10h-11.5zM471 1691l5.75 10h-11.5zM496 1686.9l5.75 10h-11.5zM488.3 1657.8l5.75 10h-11.5zM465.3 1687.1l5.75 10h-11.5zM437.4 1721.3l5.75 10h-11.5zM475.4 1697.6l5.75 10h-11.5zM495.9 1638.8l5.75 10h-11.5zM530.8 1617.2l5.75 10h-11.5zM436.9 1732.2l5.75 10h-11.5zM522.4 1648.2l5.75 10h-11.5zM450.1 1712.4l5.75 10h-11.5zM478.5 1697.3l5.75 10h-11.5zM463 1682.4l5.75 10h-11.5zM521.2 1633.7l5.75 10h-11.5zM445.7 1712.6l5.75 10h-11.5zM486.9 1680.8l5.75 10h-11.5zM529.4 1662.8l5.75 10h-11.5zM493.9 1656.8l5.75 10h-11.5zM510 1671.8l5.75 10h-11.5zM471.4 1693.1l5.75 10h-11.5zM503.7 1682.1l5.75 10h-11.5zM468.9 1731.5l5.75 10h-11.5zM502.2 1659.3l5.75 10h-11.5zM439.9 1715l5.75 10h-11.5zM519.7 1655.1l5.75 10h-11.5zM481.3 1683.4l5.75 10h-11.5zM442.8 1696.7l5.75 10h-11.5zM470.4 1690.5l5.75 10h-11.5zM482.5 1694.4l5.75 10h-11.5zM444.9 1718.5l5.75 10h-11.5zM459.6 1700.8l5.75 10h-11.5zM445.3 1709l5.75 10h-11.5zM468.6 1693.4l5.75 10h-11.5zM488.9 1661.6l5.75 10h-11.5zM512.7 1713.8l5.75 10h-11.5zM480.3 1653.4l5.75 10h-11.5zM463.1 1722l5.75 10h-11.5zM493.4 1717.6l5.75 10h-11.5zM512.3 1677.3l5.75 10h-11.5zM412.2 1716.7l5.75 10h-11.5zM524.6 1681.2l5.75 10h-11.5zM507.6 1685.5l5.75 10h-11.5zM499 1628.7l5.75 10h-11.5zM441.7 1711.2l5.75 10h-11.5zM494.6 1704.9l5.75 10h-11.5zM416.6 1723.9l5.75 10h-11.5zM491.8 1677.6l5.75 10h-11.5zM447.8 1699l5.75 10h-11.5zM508.2 1644.3l5.75 10h-11.5zM480.1 1708l5.75 10h-11.5zM453.4 1719.8l5.75 10h-11.5zM510.8 1679.5l5.75 10h-11.5zM455.4 1689.6l5.75 10h-11.5zM448.7 1699.9l5.75 10h-11.5zM453.9 1701.9l5.75 10h-11.5zM490.7 1667.1l5.75 10h-11.5zM460.4 1670.7l5.75 10h-11.5zM510.8 1663.8l5.75 10h-11.5zM495.7 1672.6l5.75 10h-11.5zM488.6 1678.9l5.75 10h-11.5zM489.1 1704.2l5.75 10h-11.5zM482 1652.3l5.75 10h-11.5zM527.6 1636.9l5.75 10h-11.5zM478.1 1670l5.75 10h-11.5z" fill="#2aae80"/>
<path d="M406.7 1739.2a2.6 2.6 0 1 0 5.2 0a2.6 2.6 0 1 0 -5.2 0zM409.7 1739.2a2.6 2.6 0 1 0 5.2 0a2.6 2.6 0 1 0 -5.2 0zM462.8 1739.2a2.6 2.6 0 1 0 5.2 0a2.6 2.6 0 1 0 -5.2 0zM383.9 1739.2a2.6 2.6 0 1 0 5.2 0a2.6 2.6 0 1 0 -5.2 0zM535.5 1629.6a2.6 2.6 0 1 0 5.2 0a2.6 2.6 0 1 0 -5.2 0zM535.4 1593.4a2.6 2.6 0 1 0 5.2 0a2.6 2.6 0 1 0 -5.2 0zM476.9 1640.8a2.6 2.6 0 1 0 5.2 0a2.6 2.6 0 1 0 -5.2 0zM514.4 1606.3a2.6 2.6 0 1 0 5.2 0a2.6 2.6 0 1 0 -5.2 0zM429.3 1713.4a2.6 2.6 0 1 0 5.2 0a2.6 2.6 0 1 0 -5.2 0zM522 1658a2.6 2.6 0 1 0 5.2 0a2.6 2.6 0 1 0 -5.2 0zM537.6 1695.4a2.6 2.6 0 1 0 5.2 0a2.6 2.6 0 1 0 -5.2 0zM443.3 1697.5a2.6 2.6 0 1 0 5.2 0a2.6 2.6 0 1 0 -5.2 0zM502.4 1662.3a2.6 2.6 0 1 0 5.2 0a2.6 2.6 0 1 0 -5.2 0zM435 1721.6a2.6 2.6 0 1 0 5.2 0a2.6 2.6 0 1 0 -5.2 0zM484.9 1675.8a2.6 2.6 0 1 0 5.2 0a2.6 2.6 0 1 0 -5.2 0zM391.1 1729.3a2.6 2.6 0 1 0 5.2 0a2.6 2.6 0 1 0 -5.2 0zM423 1737.9a2.6 2.6 0 1 0 5.2 0a2.6 2.6 0 1 0 -5.2 0zM516.5 1663.2a2.6 2.6 0 1 0 5.2 0a2.6 2.6 0 1 0 -5.2 0zM508.1 1653.2a2.6 2.6 0 1 0 5.2 0a2.6 2.6 0 1 0 -5.2 0zM504.5 1689.7a2.6 2.6 0 1 0 5.2 0a2.6 2.6 0 1 0 -5.2 0zM453 1678.9a2.6 2.6 0 1 0 5.2 0a2.6 2.6 0 1 0 -5.2 0zM528 1627.4a2.6 2.6 0 1 0 5.2 0a2.6 2.6 0 1 0 -5.2 0zM488.1 1665.9a2.6 2.6 0 1 0 5.2 0a2.6 2.6 0 1 0 -5.2 0zM545.4 1624.2a2.6 2.6 0 1 0 5.2 0a2.6 2.6 0 1 0 -5.2 0zM495.9 1633.9a2.6 2.6 0 1 0 5.2 0a2.6 2.6 0 1 0 -5.2 0zM500.9 1654.6a2.6 2.6 0 1 0 5.2 0a2.6 2.6 0 1 0 -5.2 0zM373.9 1719.4a2.6 2.6 0 1 0 5.2 0a2.6 2.6 0 1 0 -5.2 0zM506.4 1644a2.6 2.6 0 1 0 5.2 0a2.6 2.6 0 1 0 -5.2 0zM533 1612a2.6 2.6 0 1 0 5.2 0a2.6 2.6 0 1 0 -5.2 0zM553.8 1643.3a2.6 2.6 0 1 0 5.2 0a2.6 2.6 0 1 0 -5.2 0zM524.1 1607.2a2.6 2.6 0 1 0 5.2 0a2.6 2.6 0 1 0 -5.2 0zM455.6 1677.2a2.6 2.6 0 1 0 5.2 0a2.6 2.6 0 1 0 -5.2 0zM526.2 1595.5a2.6 2.6 0 1 0 5.2 0a2.6 2.6 0 1 0 -5.2 0zM508 1684.1a2.6 2.6 0 1 0 5.2 0a2.6 2.6 0 1 0 -5.2 0zM428.1 1717.6a2.6 2.6 0 1 0 5.2 0a2.6 2.6 0 1 0 -5.2 0zM502.7 1545.6a2.6 2.6 0 1 0 5.2 0a2.6 2.6 0 1 0 -5.2 0zM543.9 1567.5a2.6 2.6 0 1 0 5.2 0a2.6 2.6 0 1 0 -5.2 0zM535.3 1576a2.6 2.6 0 1 0 5.2 0a2.6 2.6 0 1 0 -5.2 0zM518.2 1584.4a2.6 2.6 0 1 0 5.2 0a2.6 2.6 0 1 0 -5.2 0z" fill="#440f68"/>
<path d="M407 1731.8 L412.4 1728.4 L417.7 1724.9 L423.1 1721.4 L428.4 1717.9 L433.8 1714.4 L439.2 1710.8 L444.5 1707.2 L449.9 1703.5 L455.3 1699.8 L460.6 1696.1 L466 1692.3 L471.3 1688.5 L476.7 1684.7 L482.1 1680.9 L487.4 1677 L492.8 1673.1 L498.2 1669.2 L503.5 1665.3 L508.9 1661.3 L514.2 1657.4 L519.6 1653.4 L525 1649.5 L530.3 1645.5 L535.7 1641.6 L541.1 1637.6 L546.4 1633.6 L551.8 1629.7 L557.1 1625.7 L562.5 1621.7 L562.5 1637.7 L557.1 1641 L551.8 1644.4 L546.4 1647.7 L541.1 1651.1 L535.7 1654.4 L530.3 1657.8 L525 1661.1 L519.6 1664.5 L514.2 1667.9 L508.9 1671.2 L503.5 1674.6 L498.2 1678 L492.8 1681.4 L487.4 1684.9 L482.1 1688.3 L476.7 1691.8 L471.3 1695.3 L466 1698.8 L460.6 1702.3 L455.3 1705.9 L449.9 1709.5 L444.5 1713.2 L439.2 1716.9 L433.8 1720.6 L428.4 1724.4 L423.1 1728.2 L417.7 1732.1 L412.4 1735.9 L407 1739.8 Z" fill="#999" fill-opacity="0.4"/>
<path d="M407 1735.8 L562.5 1629.7" stroke="#000" stroke-width="4.2"/>
<text x="562" y="1694.5" font-size="23" style="fill:#000;stroke:#000">r = 0.67</text>
<text x="562" y="1720.7" font-size="23" style="fill:#45105f;stroke:#45105f">r = 0.65</text>
<text x="562" y="1746.9" font-size="23" style="fill:#24a884;stroke:#24a884">r = 0.53</text>
<path d="M887.2 1732.5l5.75 10h-11.5zM890.7 1732.5l5.75 10h-11.5zM891.4 1732.5l5.75 10h-11.5zM948.8 1732.5l5.75 10h-11.5zM918.5 1732.5l5.75 10h-11.5zM903.1 1732.5l5.75 10h-11.5zM925.9 1732.5l5.75 10h-11.5zM893.6 1732.5l5.75 10h-11.5zM955 1732.5l5.75 10h-11.5zM923 1732.5l5.75 10h-11.5zM916.7 1732.5l5.75 10h-11.5zM875.5 1732.5l5.75 10h-11.5zM909.4 1732.5l5.75 10h-11.5zM936.3 1732.5l5.75 10h-11.5zM939.5 1675.1l5.75 10h-11.5zM913.2 1708.5l5.75 10h-11.5zM921.1 1691.7l5.75 10h-11.5zM982.4 1660l5.75 10h-11.5zM909.2 1667.3l5.75 10h-11.5zM928.3 1710l5.75 10h-11.5zM956.8 1706.6l5.75 10h-11.5zM941.2 1673.5l5.75 10h-11.5zM933 1707l5.75 10h-11.5zM954.3 1679.3l5.75 10h-11.5zM947.9 1708.2l5.75 10h-11.5zM945.6 1655.7l5.75 10h-11.5zM927.9 1650.3l5.75 10h-11.5zM982.8 1685.1l5.75 10h-11.5zM951.3 1669l5.75 10h-11.5zM903.2 1680.2l5.75 10h-11.5zM989.7 1651.7l5.75 10h-11.5zM888.1 1713l5.75 10h-11.5zM959.8 1650.8l5.75 10h-11.5zM995.2 1645.6l5.75 10h-11.5zM965.8 1660.5l5.75 10h-11.5zM877.6 1676.9l5.75 10h-11.5zM921.1 1687.4l5.75 10h-11.5zM913.6 1684.8l5.75 10h-11.5zM907.3 1695.6l5.75 10h-11.5zM874.6 1700.3l5.75 10h-11.5zM928.7 1729.5l5.75 10h-11.5zM898.8 1695.4l5.75 10h-11.5zM917.4 1688l5.75 10h-11.5zM950.7 1715.5l5.75 10h-11.5zM937.1 1694.9l5.75 10h-11.5zM965.8 1711.5l5.75 10h-11.5zM954.8 1686.1l5.75 10h-11.5zM955.9 1689l5.75 10h-11.5zM964.8 1730.4l5.75 10h-11.5zM934.4 1629.6l5.75 10h-11.5zM918.2 1671.6l5.75 10h-11.5zM920.8 1719.2l5.75 10h-11.5zM951.7 1702.4l5.75 10h-11.5zM1024 1654.1l5.75 10h-11.5zM965.6 1668.4l5.75 10h-11.5zM913.7 1704l5.75 10h-11.5zM968.4 1693.6l5.75 10h-11.5zM926.1 1696.9l5.75 10h-11.5zM955.7 1718l5.75 10h-11.5zM952 1625.3l5.75 10h-11.5zM986.1 1662.5l5.75 10h-11.5zM950.7 1674l5.75 10h-11.5zM917.5 1661.3l5.75 10h-11.5zM969.7 1647.7l5.75 10h-11.5zM924.7 1713.5l5.75 10h-11.5zM966.2 1689.4l5.75 10h-11.5zM921.8 1709.2l5.75 10h-11.5zM926.8 1683.1l5.75 10h-11.5zM903.6 1685.9l5.75 10h-11.5zM945.2 1686.4l5.75 10h-11.5zM943.6 1640.8l5.75 10h-11.5zM942.9 1702.8l5.75 10h-11.5zM894.8 1710.3l5.75 10h-11.5zM988.6 1620.8l5.75 10h-11.5zM878.4 1674.4l5.75 10h-11.5zM878.8 1690.1l5.75 10h-11.5zM967.1 1694.1l5.75 10h-11.5zM910.2 1703.2l5.75 10h-11.5zM945 1699.6l5.75 10h-11.5zM924.1 1716l5.75 10h-11.5zM915.9 1729.1l5.75 10h-11.5zM931.4 1698.7l5.75 10h-11.5zM976.2 1701.2l5.75 10h-11.5zM943.8 1681.5l5.75 10h-11.5z" fill="#2aae80"/>
<path d="M930.5 1739.2a2.6 2.6 0 1 0 5.2 0a2.6 2.6 0 1 0 -5.2 0zM881.6 1739.2a2.6 2.6 0 1 0 5.2 0a2.6 2.6 0 1 0 -5.2 0zM897.6 1739.2a2.6 2.6 0 1 0 5.2 0a2.6 2.6 0 1 0 -5.2 0zM878.2 1739.2a2.6 2.6 0 1 0 5.2 0a2.6 2.6 0 1 0 -5.2 0zM884.6 1726.1a2.6 2.6 0 1 0 5.2 0a2.6 2.6 0 1 0 -5.2 0zM986 1635.9a2.6 2.6 0 1 0 5.2 0a2.6 2.6 0 1 0 -5.2 0zM877.6 1672.5a2.6 2.6 0 1 0 5.2 0a2.6 2.6 0 1 0 -5.2 0zM938.3 1645.3a2.6 2.6 0 1 0 5.2 0a2.6 2.6 0 1 0 -5.2 0zM932.3 1618.6a2.6 2.6 0 1 0 5.2 0a2.6 2.6 0 1 0 -5.2 0zM972.6 1622.7a2.6 2.6 0 1 0 5.2 0a2.6 2.6 0 1 0 -5.2 0zM946.8 1670.2a2.6 2.6 0 1 0 5.2 0a2.6 2.6 0 1 0 -5.2 0zM895.4 1733.1a2.6 2.6 0 1 0 5.2 0a2.6 2.6 0 1 0 -5.2 0zM1019.4 1590.4a2.6 2.6 0 1 0 5.2 0a2.6 2.6 0 1 0 -5.2 0zM943.1 1605.2a2.6 2.6 0 1 0 5.2 0a2.6 2.6 0 1 0 -5.2 0zM959.8 1608.8a2.6 2.6 0 1 0 5.2 0a2.6 2.6 0 1 0 -5.2 0zM925.5 1669a2.6 2.6 0 1 0 5.2 0a2.6 2.6 0 1 0 -5.2 0zM866.8 1711.1a2.6 2.6 0 1 0 5.2 0a2.6 2.6 0 1 0 -5.2 0zM971.1 1685.7a2.6 2.6 0 1 0 5.2 0a2.6 2.6 0 1 0 -5.2 0zM979.4 1631.6a2.6 2.6 0 1 0 5.2 0a2.6 2.6 0 1 0 -5.2 0zM865.6 1680.5a2.6 2.6 0 1 0 5.2 0a2.6 2.6 0 1 0 -5.2 0zM944.4 1610.4a2.6 2.6 0 1 0 5.2 0a2.6 2.6 0 1 0 -5.2 0zM981.8 1650.4a2.6 2.6 0 1 0 5.2 0a2.6 2.6 0 1 0 -5.2 0zM1017.1 1609.6a2.6 2.6 0 1 0 5.2 0a2.6 2.6 0 1 0 -5.2 0zM944.7 1656.7a2.6 2.6 0 1 0 5.2 0a2.6 2.6 0 1 0 -5.2 0zM1023.4 1602.2a2.6 2.6 0 1 0 5.2 0a2.6 2.6 0 1 0 -5.2 0zM972 1694.6a2.6 2.6 0 1 0 5.2 0a2.6 2.6 0 1 0 -5.2 0zM976.7 1651.4a2.6 2.6 0 1 0 5.2 0a2.6 2.6 0 1 0 -5.2 0zM975.2 1614.7a2.6 2.6 0 1 0 5.2 0a2.6 2.6 0 1 0 -5.2 0zM976.1 1626.5a2.6 2.6 0 1 0 5.2 0a2.6 2.6 0 1 0 -5.2 0zM940.8 1690.7a2.6 2.6 0 1 0 5.2 0a2.6 2.6 0 1 0 -5.2 0zM894.5 1708.6a2.6 2.6 0 1 0 5.2 0a2.6 2.6 0 1 0 -5.2 0zM1048 1600.1a2.6 2.6 0 1 0 5.2 0a2.6 2.6 0 1 0 -5.2 0zM1051.3 1667.1a2.6 2.6 0 1 0 5.2 0a2.6 2.6 0 1 0 -5.2 0zM1016.2 1619.3a2.6 2.6 0 1 0 5.2 0a2.6 2.6 0 1 0 -5.2 0zM1000.4 1641.9a2.6 2.6 0 1 0 5.2 0a2.6 2.6 0 1 0 -5.2 0zM970.5 1660.4a2.6 2.6 0 1 0 5.2 0a2.6 2.6 0 1 0 -5.2 0zM946.7 1547.9a2.6 2.6 0 1 0 5.2 0a2.6 2.6 0 1 0 -5.2 0zM952 1571.7a2.6 2.6 0 1 0 5.2 0a2.6 2.6 0 1 0 -5.2 0zM972.5 1583.1a2.6 2.6 0 1 0 5.2 0a2.6 2.6 0 1 0 -5.2 0z" fill="#440f68"/>
<path d="M966.7 1732.5l5.75 10h-11.5zM876.9 1732.5l5.75 10h-11.5zM951.4 1732.5l5.75 10h-11.5zM891.7 1732.5l5.75 10h-11.5zM885.2 1732.5l5.75 10h-11.5zM855.5 1732.5l5.75 10h-11.5zM864.2 1732.5l5.75 10h-11.5zM940.4 1732.5l5.75 10h-11.5zM892.3 1732.5l5.75 10h-11.5zM883.7 1732.5l5.75 10h-11.5zM899.9 1732.5l5.75 10h-11.5zM929.6 1732.5l5.75 10h-11.5zM907 1732.5l5.75 10h-11.5zM933.2 1700.6l5.75 10h-11.5zM939.2 1703.5l5.75 10h-11.5zM928.6 1657.3l5.75 10h-11.5zM945.7 1649.7l5.75 10h-11.5zM895.6 1683.9l5.75 10h-11.5zM939.1 1654.5l5.75 10h-11.5zM971.3 1619.9l5.75 10h-11.5zM903.1 1722.6l5.75 10h-11.5zM907.7 1710.6l5.75 10h-11.5zM924.9 1678.6l5.75 10h-11.5zM938 1665.6l5.75 10h-11.5zM888.3 1725.9l5.75 10h-11.5zM901.4 1727.7l5.75 10h-11.5zM992 1627l5.75 10h-11.5zM943.3 1715.4l5.75 10h-11.5zM964.5 1707.2l5.75 10h-11.5zM924.1 1705.2l5.75 10h-11.5zM896.8 1727.3l5.75 10h-11.5zM904.6 1705.9l5.75 10h-11.5zM936.1 1690.7l5.75 10h-11.5zM987.7 1677.8l5.75 10h-11.5zM934.9 1664.2l5.75 10h-11.5zM911.8 1701.7l5.75 10h-11.5zM960.7 1726.7l5.75 10h-11.5zM894.8 1709.6l5.75 10h-11.5zM960.1 1681.8l5.75 10h-11.5zM865.5 1724.5l5.75 10h-11.5zM890.8 1692.4l5.75 10h-11.5zM962.4 1665l5.75 10h-11.5zM939.2 1706.2l5.75 10h-11.5zM934.8 1714.2l5.75 10h-11.5zM898.4 1704.5l5.75 10h-11.5zM964.1 1684.2l5.75 10h-11.5zM975 1678.4l5.75 10h-11.5zM962.6 1669.3l5.75 10h-11.5zM905.4 1687.7l5.75 10h-11.5zM984.9 1658.6l5.75 10h-11.5zM896.2 1730.9l5.75 10h-11.5zM952.6 1720.8l5.75 10h-11.5zM905.8 1702.7l5.75 10h-11.5zM925.3 1696.3l5.75 10h-11.5zM906.2 1692.8l5.75 10h-11.5zM952.6 1652.9l5.75 10h-11.5zM930 1707.5l5.75 10h-11.5zM922.1 1717.3l5.75 10h-11.5zM912.7 1682.8l5.75 10h-11.5zM919.9 1711l5.75 10h-11.5zM918.4 1723.5l5.75 10h-11.5zM869.7 1688.4l5.75 10h-11.5zM910.9 1725.2l5.75 10h-11.5zM929.7 1676.4l5.75 10h-11.5zM921.3 1699.4l5.75 10h-11.5zM962.6 1666.4l5.75 10h-11.5zM932.1 1711.8l5.75 10h-11.5zM922.2 1716.9l5.75 10h-11.5zM907.4 1694.6l5.75 10h-11.5zM941.6 1691.4l5.75 10h-11.5zM975.9 1642.2l5.75 10h-11.5zM929.2 1675.9l5.75 10h-11.5zM881.9 1714.5l5.75 10h-11.5zM937.2 1684.4l5.75 10h-11.5zM951.1 1622.5l5.75 10h-11.5zM958 1697.9l5.75 10h-11.5zM931.6 1691.9l5.75 10h-11.5zM963.6 1648.7l5.75 10h-11.5zM957.9 1635.2l5.75 10h-11.5zM928.8 1713.2l5.75 10h-11.5zM947.4 1716.2l5.75 10h-11.5zM874.7 1688.8l5.75 10h-11.5zM924 1698.2l5.75 10h-11.5zM932.8 1705.7l5.75 10h-11.5z" fill="#2aae80"/>
<path d="M921.4 1739.2a2.6 2.6 0 1 0 5.2 0a2.6 2.6 0 1 0 -5.2 0zM911.2 1739.2a2.6 2.6 0 1 0 5.2 0a2.6 2.6 0 1 0 -5.2 0zM948.8 1739.2a2.6 2.6 0 1 0 5.2 0a2.6 2.6 0 1 0 -5.2 0zM905.3 1739.2a2.6 2.6 0 1 0 5.2 0a2.6 2.6 0 1 0 -5.2 0zM964.5 1613.9a2.6 2.6 0 1 0 5.2 0a2.6 2.6 0 1 0 -5.2 0zM932 1637.4a2.6 2.6 0 1 0 5.2 0a2.6 2.6 0 1 0 -5.2 0zM961.8 1681.8a2.6 2.6 0 1 0 5.2 0a2.6 2.6 0 1 0 -5.2 0zM913.9 1621.9a2.6 2.6 0 1 0 5.2 0a2.6 2.6 0 1 0 -5.2 0zM983.7 1674.4a2.6 2.6 0 1 0 5.2 0a2.6 2.6 0 1 0 -5.2 0zM963.7 1647.4a2.6 2.6 0 1 0 5.2 0a2.6 2.6 0 1 0 -5.2 0zM987.9 1630.9a2.6 2.6 0 1 0 5.2 0a2.6 2.6 0 1 0 -5.2 0zM999.2 1646a2.6 2.6 0 1 0 5.2 0a2.6 2.6 0 1 0 -5.2 0zM932.3 1706.2a2.6 2.6 0 1 0 5.2 0a2.6 2.6 0 1 0 -5.2 0zM902 1700.9a2.6 2.6 0 1 0 5.2 0a2.6 2.6 0 1 0 -5.2 0zM941.6 1735.2a2.6 2.6 0 1 0 5.2 0a2.6 2.6 0 1 0 -5.2 0zM914.4 1632.8a2.6 2.6 0 1 0 5.2 0a2.6 2.6 0 1 0 -5.2 0zM953.8 1715.6a2.6 2.6 0 1 0 5.2 0a2.6 2.6 0 1 0 -5.2 0zM982.5 1693a2.6 2.6 0 1 0 5.2 0a2.6 2.6 0 1 0 -5.2 0zM963.3 1648.5a2.6 2.6 0 1 0 5.2 0a2.6 2.6 0 1 0 -5.2 0zM969.6 1639.9a2.6 2.6 0 1 0 5.2 0a2.6 2.6 0 1 0 -5.2 0zM955.9 1615.8a2.6 2.6 0 1 0 5.2 0a2.6 2.6 0 1 0 -5.2 0zM894.3 1703.8a2.6 2.6 0 1 0 5.2 0a2.6 2.6 0 1 0 -5.2 0zM933.3 1731.7a2.6 2.6 0 1 0 5.2 0a2.6 2.6 0 1 0 -5.2 0zM929.1 1613.1a2.6 2.6 0 1 0 5.2 0a2.6 2.6 0 1 0 -5.2 0zM916.5 1688a2.6 2.6 0 1 0 5.2 0a2.6 2.6 0 1 0 -5.2 0zM1062.3 1617a2.6 2.6 0 1 0 5.2 0a2.6 2.6 0 1 0 -5.2 0zM964.3 1624.7a2.6 2.6 0 1 0 5.2 0a2.6 2.6 0 1 0 -5.2 0zM941.6 1638.2a2.6 2.6 0 1 0 5.2 0a2.6 2.6 0 1 0 -5.2 0zM958.5 1635a2.6 2.6 0 1 0 5.2 0a2.6 2.6 0 1 0 -5.2 0zM963.1 1620.3a2.6 2.6 0 1 0 5.2 0a2.6 2.6 0 1 0 -5.2 0zM942.2 1725.2a2.6 2.6 0 1 0 5.2 0a2.6 2.6 0 1 0 -5.2 0zM944 1628.6a2.6 2.6 0 1 0 5.2 0a2.6 2.6 0 1 0 -5.2 0zM932.3 1699a2.6 2.6 0 1 0 5.2 0a2.6 2.6 0 1 0 -5.2 0zM940.2 1604.3a2.6 2.6 0 1 0 5.2 0a2.6 2.6 0 1 0 -5.2 0zM993.8 1603.2a2.6 2.6 0 1 0 5.2 0a2.6 2.6 0 1 0 -5.2 0zM1034.4 1532.2a2.6 2.6 0 1 0 5.2 0a2.6 2.6 0 1 0 -5.2 0zM960.3 1551.8a2.6 2.6 0 1 0 5.2 0a2.6 2.6 0 1 0 -5.2 0zM982.5 1574a2.6 2.6 0 1 0 5.2 0a2.6 2.6 0 1 0 -5.2 0zM981.9 1583.1a2.6 2.6 0 1 0 5.2 0a2.6 2.6 0 1 0 -5.2 0z" fill="#440f68"/>
<path d="M933.9 1732.5l5.75 10h-11.5zM915.3 1732.5l5.75 10h-11.5zM868.9 1732.5l5.75 10h-11.5zM885.7 1732.5l5.75 10h-11.5zM902.5 1732.5l5.75 10h-11.5zM886.9 1732.5l5.75 10h-11.5zM882.3 1732.5l5.75 10h-11.5zM940.4 1732.5l5.75 10h-11.5zM937.8 1732.5l5.75 10h-11.5zM930.2 1732.5l5.75 10h-11.5zM889.2 1732.5l5.75 10h-11.5zM928.2 1732.5l5.75 10h-11.5zM901.5 1732.5l5.75 10h-11.5zM884.2 1696l5.75 10h-11.5zM902.9 1728.4l5.75 10h-11.5zM969.2 1631.4l5.75 10h-11.5zM937.6 1680.6l5.75 10h-11.5zM981.1 1720l5.75 10h-11.5zM914.9 1679.8l5.75 10h-11.5zM991.6 1691l5.75 10h-11.5zM938.9 1686.9l5.75 10h-11.5zM958.9 1657.8l5.75 10h-11.5zM915.5 1687.1l5.75 10h-11.5zM951.7 1721.3l5.75 10h-11.5zM875.5 1697.6l5.75 10h-11.5zM923.9 1638.8l5.75 10h-11.5zM952.6 1617.2l5.75 10h-11.5zM872.5 1732.2l5.75 10h-11.5zM901.5 1648.2l5.75 10h-11.5zM910.2 1712.4l5.75 10h-11.5zM973.6 1697.3l5.75 10h-11.5zM943.7 1682.4l5.75 10h-11.5zM994.1 1633.7l5.75 10h-11.5zM922.1 1712.6l5.75 10h-11.5zM972.9 1680.8l5.75 10h-11.5zM936.9 1662.8l5.75 10h-11.5zM908.8 1656.8l5.75 10h-11.5zM938.2 1671.8l5.75 10h-11.5zM954.7 1693.1l5.75 10h-11.5zM956.7 1682.1l5.75 10h-11.5zM917 1731.5l5.75 10h-11.5zM909.7 1659.3l5.75 10h-11.5zM925 1715l5.75 10h-11.5zM906.5 1655.1l5.75 10h-11.5zM972.4 1683.4l5.75 10h-11.5zM987 1696.7l5.75 10h-11.5zM956.9 1690.5l5.75 10h-11.5zM938.7 1694.4l5.75 10h-11.5zM882 1718.5l5.75 10h-11.5zM921.9 1700.8l5.75 10h-11.5zM937.8 1709l5.75 10h-11.5zM923 1693.4l5.75 10h-11.5zM956.7 1661.6l5.75 10h-11.5zM920.9 1713.8l5.75 10h-11.5zM934 1653.4l5.75 10h-11.5zM885.9 1722l5.75 10h-11.5zM927.6 1717.6l5.75 10h-11.5zM877.7 1677.3l5.75 10h-11.5zM944.5 1716.7l5.75 10h-11.5zM948.8 1681.2l5.75 10h-11.5zM919.5 1685.5l5.75 10h-11.5zM932.6 1628.7l5.75 10h-11.5zM889.9 1711.2l5.75 10h-11.5zM931 1704.9l5.75 10h-11.5zM903.7 1723.9l5.75 10h-11.5zM975.7 1677.6l5.75 10h-11.5zM938.8 1699l5.75 10h-11.5zM907.4 1644.3l5.75 10h-11.5zM896.9 1708l5.75 10h-11.5zM932.6 1719.8l5.75 10h-11.5zM960.1 1679.5l5.75 10h-11.5zM972.7 1689.6l5.75 10h-11.5zM895.6 1699.9l5.75 10h-11.5zM913.3 1701.9l5.75 10h-11.5zM915.3 1667.1l5.75 10h-11.5zM940.5 1670.7l5.75 10h-11.5zM956.6 1663.8l5.75 10h-11.5zM928.6 1672.6l5.75 10h-11.5zM908.5 1678.9l5.75 10h-11.5zM909.7 1704.2l5.75 10h-11.5zM978.2 1652.3l5.75 10h-11.5zM971.2 1636.9l5.75 10h-11.5zM918 1670l5.75 10h-11.5z" fill="#2aae80"/>
<path d="M938.3 1739.2a2.6 2.6 0 1 0 5.2 0a2.6 2.6 0 1 0 -5.2 0zM885.1 1739.2a2.6 2.6 0 1 0 5.2 0a2.6 2.6 0 1 0 -5.2 0zM952.8 1739.2a2.6 2.6 0 1 0 5.2 0a2.6 2.6 0 1 0 -5.2 0zM908.4 1739.2a2.6 2.6 0 1 0 5.2 0a2.6 2.6 0 1 0 -5.2 0zM932.1 1629.6a2.6 2.6 0 1 0 5.2 0a2.6 2.6 0 1 0 -5.2 0zM1030.8 1593.4a2.6 2.6 0 1 0 5.2 0a2.6 2.6 0 1 0 -5.2 0zM985 1640.8a2.6 2.6 0 1 0 5.2 0a2.6 2.6 0 1 0 -5.2 0zM987 1606.3a2.6 2.6 0 1 0 5.2 0a2.6 2.6 0 1 0 -5.2 0zM928.3 1713.4a2.6 2.6 0 1 0 5.2 0a2.6 2.6 0 1 0 -5.2 0zM980.5 1658a2.6 2.6 0 1 0 5.2 0a2.6 2.6 0 1 0 -5.2 0zM946.8 1695.4a2.6 2.6 0 1 0 5.2 0a2.6 2.6 0 1 0 -5.2 0zM988.9 1697.5a2.6 2.6 0 1 0 5.2 0a2.6 2.6 0 1 0 -5.2 0zM975.5 1662.3a2.6 2.6 0 1 0 5.2 0a2.6 2.6 0 1 0 -5.2 0zM888.8 1721.6a2.6 2.6 0 1 0 5.2 0a2.6 2.6 0 1 0 -5.2 0zM915.4 1675.8a2.6 2.6 0 1 0 5.2 0a2.6 2.6 0 1 0 -5.2 0zM891.2 1729.3a2.6 2.6 0 1 0 5.2 0a2.6 2.6 0 1 0 -5.2 0zM905.2 1737.9a2.6 2.6 0 1 0 5.2 0a2.6 2.6 0 1 0 -5.2 0zM967.1 1663.2a2.6 2.6 0 1 0 5.2 0a2.6 2.6 0 1 0 -5.2 0zM941.1 1653.2a2.6 2.6 0 1 0 5.2 0a2.6 2.6 0 1 0 -5.2 0zM912.1 1689.7a2.6 2.6 0 1 0 5.2 0a2.6 2.6 0 1 0 -5.2 0zM941.4 1678.9a2.6 2.6 0 1 0 5.2 0a2.6 2.6 0 1 0 -5.2 0zM926 1627.4a2.6 2.6 0 1 0 5.2 0a2.6 2.6 0 1 0 -5.2 0zM977.1 1665.9a2.6 2.6 0 1 0 5.2 0a2.6 2.6 0 1 0 -5.2 0zM1017.8 1624.2a2.6 2.6 0 1 0 5.2 0a2.6 2.6 0 1 0 -5.2 0zM980.9 1633.9a2.6 2.6 0 1 0 5.2 0a2.6 2.6 0 1 0 -5.2 0zM997.5 1654.6a2.6 2.6 0 1 0 5.2 0a2.6 2.6 0 1 0 -5.2 0zM905.2 1719.4a2.6 2.6 0 1 0 5.2 0a2.6 2.6 0 1 0 -5.2 0zM983.8 1644a2.6 2.6 0 1 0 5.2 0a2.6 2.6 0 1 0 -5.2 0zM943.9 1612a2.6 2.6 0 1 0 5.2 0a2.6 2.6 0 1 0 -5.2 0zM976 1643.3a2.6 2.6 0 1 0 5.2 0a2.6 2.6 0 1 0 -5.2 0zM977.2 1607.2a2.6 2.6 0 1 0 5.2 0a2.6 2.6 0 1 0 -5.2 0zM1013.2 1677.2a2.6 2.6 0 1 0 5.2 0a2.6 2.6 0 1 0 -5.2 0zM1053.3 1595.5a2.6 2.6 0 1 0 5.2 0a2.6 2.6 0 1 0 -5.2 0zM922.7 1684.1a2.6 2.6 0 1 0 5.2 0a2.6 2.6 0 1 0 -5.2 0zM955.2 1717.6a2.6 2.6 0 1 0 5.2 0a2.6 2.6 0 1 0 -5.2 0zM975.2 1545.6a2.6 2.6 0 1 0 5.2 0a2.6 2.6 0 1 0 -5.2 0zM982.6 1567.5a2.6 2.6 0 1 0 5.2 0a2.6 2.6 0 1 0 -5.2 0zM976.1 1576a2.6 2.6 0 1 0 5.2 0a2.6 2.6 0 1 0 -5.2 0zM969.8 1584.4a2.6 2.6 0 1 0 5.2 0a2.6 2.6 0 1 0 -5.2 0z" fill="#440f68"/>
<path d="M882.7 1728.5 L892.1 1723.2 L901.5 1717.9 L910.8 1712.3 L920.2 1706.5 L929.6 1700.5 L939 1694.4 L948.4 1688.1 L957.8 1681.8 L967.1 1675.4 L976.5 1668.9 L985.9 1662.5 L995.3 1656 L1004.7 1649.5 L1014.1 1643 L1023.4 1636.5 L1032.8 1630 L1042.2 1623.5 L1051.6 1617 L1061 1610.5 L1070.4 1604 L1079.7 1597.4 L1089.1 1590.9 L1098.5 1584.4 L1107.9 1577.9 L1117.3 1571.3 L1126.7 1564.8 L1136 1558.3 L1145.4 1551.7 L1154.8 1545.2 L1154.8 1587.2 L1145.4 1592.1 L1136 1597.1 L1126.7 1602 L1117.3 1606.9 L1107.9 1611.9 L1098.5 1616.8 L1089.1 1621.8 L1079.7 1626.7 L1070.4 1631.7 L1061 1636.6 L1051.6 1641.5 L1042.2 1646.5 L1032.8 1651.5 L1023.4 1656.4 L1014.1 1661.4 L1004.7 1666.4 L995.3 1671.3 L985.9 1676.3 L976.5 1681.4 L967.1 1686.4 L957.8 1691.5 L948.4 1696.6 L939 1701.8 L929.6 1707.1 L920.2 1712.6 L910.8 1718.3 L901.5 1724.2 L892.1 1730.3 L882.7 1736.5 Z" fill="#999" fill-opacity="0.4"/>
<path d="M882.7 1732.5 L1154.8 1566.2" stroke="#000" stroke-width="4.2"/>
<text x="1076.3" y="1694.5" font-size="23" style="fill:#000;stroke:#000">r = 0.56</text>
<text x="1076.3" y="1720.7" font-size="23" style="fill:#45105f;stroke:#45105f">r = 0.45</text>
<text x="1076.3" y="1746.9" font-size="23" style="fill:#24a884;stroke:#24a884">r = 0.40</text>
<path d="M1429.1 1732.5l5.75 10h-11.5zM1415.8 1732.5l5.75 10h-11.5zM1412.4 1732.5l5.75 10h-11.5zM1444.6 1732.5l5.75 10h-11.5zM1434.5 1732.5l5.75 10h-11.5zM1456 1732.5l5.75 10h-11.5zM1426.2 1732.5l5.75 10h-11.5zM1442.2 1732.5l5.75 10h-11.5zM1444 1732.5l5.75 10h-11.5zM1449.2 1732.5l5.75 10h-11.5zM1435.6 1732.5l5.75 10h-11.5zM1440.7 1732.5l5.75 10h-11.5zM1447.9 1732.5l5.75 10h-11.5zM1440.1 1732.5l5.75 10h-11.5zM1455 1675.1l5.75 10h-11.5zM1466.8 1708.5l5.75 10h-11.5zM1472 1691.7l5.75 10h-11.5zM1438.6 1660l5.75 10h-11.5zM1444 1667.3l5.75 10h-11.5zM1470.3 1710l5.75 10h-11.5zM1502 1706.6l5.75 10h-11.5zM1435.6 1673.5l5.75 10h-11.5zM1452.6 1707l5.75 10h-11.5zM1442.2 1679.3l5.75 10h-11.5zM1461.4 1708.2l5.75 10h-11.5zM1430.5 1655.7l5.75 10h-11.5zM1412.3 1650.3l5.75 10h-11.5zM1420.3 1685.1l5.75 10h-11.5zM1457 1669l5.75 10h-11.5zM1436.5 1680.2l5.75 10h-11.5zM1437.5 1651.7l5.75 10h-11.5zM1426.4 1713l5.75 10h-11.5zM1477.4 1650.8l5.75 10h-11.5zM1460.7 1645.6l5.75 10h-11.5zM1450.8 1660.5l5.75 10h-11.5zM1419 1676.9l5.75 10h-11.5zM1430.1 1687.4l5.75 10h-11.5zM1448.3 1684.8l5.75 10h-11.5zM1427.3 1695.6l5.75 10h-11.5zM1501.6 1700.3l5.75 10h-11.5zM1443.9 1729.5l5.75 10h-11.5zM1450.8 1695.4l5.75 10h-11.5zM1427.1 1688l5.75 10h-11.5zM1453.5 1715.5l5.75 10h-11.5zM1441.3 1694.9l5.75 10h-11.5zM1454.3 1711.5l5.75 10h-11.5zM1410.6 1686.1l5.75 10h-11.5zM1424.2 1689l5.75 10h-11.5zM1437.4 1730.4l5.75 10h-11.5zM1422 1629.6l5.75 10h-11.5zM1449.7 1671.6l5.75 10h-11.5zM1427.8 1719.2l5.75 10h-11.5zM1453.3 1702.4l5.75 10h-11.5zM1427.6 1654.1l5.75 10h-11.5zM1429.4 1668.4l5.75 10h-11.5zM1390.6 1704l5.75 10h-11.5zM1452 1693.6l5.75 10h-11.5zM1439.9 1696.9l5.75 10h-11.5zM1453.2 1718l5.75 10h-11.5zM1449.2 1625.3l5.75 10h-11.5zM1432.4 1662.5l5.75 10h-11.5zM1461.6 1674l5.75 10h-11.5zM1429.6 1661.3l5.75 10h-11.5zM1462.6 1647.7l5.75 10h-11.5zM1461.9 1713.5l5.75 10h-11.5zM1460.4 1689.4l5.75 10h-11.5zM1438 1709.2l5.75 10h-11.5zM1441.8 1683.1l5.75 10h-11.5zM1431 1685.9l5.75 10h-11.5zM1466.7 1686.4l5.75 10h-11.5zM1428.5 1640.8l5.75 10h-11.5zM1425.3 1702.8l5.75 10h-11.5zM1435.1 1710.3l5.75 10h-11.5zM1460.3 1620.8l5.75 10h-11.5zM1479.6 1674.4l5.75 10h-11.5zM1421 1690.1l5.75 10h-11.5zM1446.3 1694.1l5.75 10h-11.5zM1448.9 1703.2l5.75 10h-11.5zM1442.6 1699.6l5.75 10h-11.5zM1416.3 1716l5.75 10h-11.5zM1462.4 1729.1l5.75 10h-11.5zM1459.7 1698.7l5.75 10h-11.5zM1479.8 1701.2l5.75 10h-11.5zM1425.8 1681.5l5.75 10h-11.5z" fill="#2aae80"/>
<path d="M1442.7 1739.2a2.6 2.6 0 1 0 5.2 0a2.6 2.6 0 1 0 -5.2 0zM1405.1 1739.2a2.6 2.6 0 1 0 5.2 0a2.6 2.6 0 1 0 -5.2 0zM1461.8 1739.2a2.6 2.6 0 1 0 5.2 0a2.6 2.6 0 1 0 -5.2 0zM1432 1739.2a2.6 2.6 0 1 0 5.2 0a2.6 2.6 0 1 0 -5.2 0zM1509.3 1726.1a2.6 2.6 0 1 0 5.2 0a2.6 2.6 0 1 0 -5.2 0zM1524 1635.9a2.6 2.6 0 1 0 5.2 0a2.6 2.6 0 1 0 -5.2 0zM1500.6 1672.5a2.6 2.6 0 1 0 5.2 0a2.6 2.6 0 1 0 -5.2 0zM1471 1645.3a2.6 2.6 0 1 0 5.2 0a2.6 2.6 0 1 0 -5.2 0zM1496 1618.6a2.6 2.6 0 1 0 5.2 0a2.6 2.6 0 1 0 -5.2 0zM1550.2 1622.7a2.6 2.6 0 1 0 5.2 0a2.6 2.6 0 1 0 -5.2 0zM1481.9 1670.2a2.6 2.6 0 1 0 5.2 0a2.6 2.6 0 1 0 -5.2 0zM1448.2 1733.1a2.6 2.6 0 1 0 5.2 0a2.6 2.6 0 1 0 -5.2 0zM1462.1 1590.4a2.6 2.6 0 1 0 5.2 0a2.6 2.6 0 1 0 -5.2 0zM1546.6 1605.2a2.6 2.6 0 1 0 5.2 0a2.6 2.6 0 1 0 -5.2 0zM1542.1 1608.8a2.6 2.6 0 1 0 5.2 0a2.6 2.6 0 1 0 -5.2 0zM1449.7 1669a2.6 2.6 0 1 0 5.2 0a2.6 2.6 0 1 0 -5.2 0zM1460.3 1711.1a2.6 2.6 0 1 0 5.2 0a2.6 2.6 0 1 0 -5.2 0zM1466.1 1685.7a2.6 2.6 0 1 0 5.2 0a2.6 2.6 0 1 0 -5.2 0zM1533.2 1631.6a2.6 2.6 0 1 0 5.2 0a2.6 2.6 0 1 0 -5.2 0zM1474.3 1680.5a2.6 2.6 0 1 0 5.2 0a2.6 2.6 0 1 0 -5.2 0zM1549.3 1610.4a2.6 2.6 0 1 0 5.2 0a2.6 2.6 0 1 0 -5.2 0zM1498.7 1650.4a2.6 2.6 0 1 0 5.2 0a2.6 2.6 0 1 0 -5.2 0zM1525.1 1609.6a2.6 2.6 0 1 0 5.2 0a2.6 2.6 0 1 0 -5.2 0zM1521.6 1656.7a2.6 2.6 0 1 0 5.2 0a2.6 2.6 0 1 0 -5.2 0zM1494.8 1602.2a2.6 2.6 0 1 0 5.2 0a2.6 2.6 0 1 0 -5.2 0zM1465.4 1694.6a2.6 2.6 0 1 0 5.2 0a2.6 2.6 0 1 0 -5.2 0zM1499.6 1651.4a2.6 2.6 0 1 0 5.2 0a2.6 2.6 0 1 0 -5.2 0zM1471.3 1614.7a2.6 2.6 0 1 0 5.2 0a2.6 2.6 0 1 0 -5.2 0zM1448.1 1626.5a2.6 2.6 0 1 0 5.2 0a2.6 2.6 0 1 0 -5.2 0zM1506.1 1690.7a2.6 2.6 0 1 0 5.2 0a2.6 2.6 0 1 0 -5.2 0zM1457.7 1708.6a2.6 2.6 0 1 0 5.2 0a2.6 2.6 0 1 0 -5.2 0zM1454.1 1600.1a2.6 2.6 0 1 0 5.2 0a2.6 2.6 0 1 0 -5.2 0zM1430.9 1667.1a2.6 2.6 0 1 0 5.2 0a2.6 2.6 0 1 0 -5.2 0zM1524.3 1619.3a2.6 2.6 0 1 0 5.2 0a2.6 2.6 0 1 0 -5.2 0zM1485 1641.9a2.6 2.6 0 1 0 5.2 0a2.6 2.6 0 1 0 -5.2 0zM1413.1 1660.4a2.6 2.6 0 1 0 5.2 0a2.6 2.6 0 1 0 -5.2 0zM1498.7 1547.9a2.6 2.6 0 1 0 5.2 0a2.6 2.6 0 1 0 -5.2 0zM1501.2 1571.7a2.6 2.6 0 1 0 5.2 0a2.6 2.6 0 1 0 -5.2 0zM1478.4 1583.1a2.6 2.6 0 1 0 5.2 0a2.6 2.6 0 1 0 -5.2 0z" fill="#440f68"/>
<path d="M1438.8 1732.5l5.75 10h-11.5zM1426.3 1732.5l5.75 10h-11.5zM1435.6 1732.5l5.75 10h-11.5zM1449.8 1732.5l5.75 10h-11.5zM1442.8 1732.5l5.75 10h-11.5zM1408.5 1732.5l5.75 10h-11.5zM1440.5 1732.5l5.75 10h-11.5zM1441 1732.5l5.75 10h-11.5zM1442.6 1732.5l5.75 10h-11.5zM1431.1 1732.5l5.75 10h-11.5zM1446.9 1732.5l5.75 10h-11.5zM1437.8 1732.5l5.75 10h-11.5zM1408.5 1732.5l5.75 10h-11.5zM1441.4 1700.6l5.75 10h-11.5zM1441 1703.5l5.75 10h-11.5zM1424.6 1657.3l5.75 10h-11.5zM1449.1 1649.7l5.75 10h-11.5zM1458.6 1683.9l5.75 10h-11.5zM1435 1654.5l5.75 10h-11.5zM1445 1619.9l5.75 10h-11.5zM1426 1722.6l5.75 10h-11.5zM1447.6 1710.6l5.75 10h-11.5zM1405.7 1678.6l5.75 10h-11.5zM1443.8 1665.6l5.75 10h-11.5zM1428.3 1725.9l5.75 10h-11.5zM1435.7 1727.7l5.75 10h-11.5zM1428.4 1627l5.75 10h-11.5zM1441.1 1715.4l5.75 10h-11.5zM1416.3 1707.2l5.75 10h-11.5zM1448 1705.2l5.75 10h-11.5zM1448 1727.3l5.75 10h-11.5zM1446.5 1705.9l5.75 10h-11.5zM1460.5 1690.7l5.75 10h-11.5zM1456.3 1677.8l5.75 10h-11.5zM1458.2 1664.2l5.75 10h-11.5zM1435 1701.7l5.75 10h-11.5zM1428.6 1726.7l5.75 10h-11.5zM1421.6 1709.6l5.75 10h-11.5zM1461 1681.8l5.75 10h-11.5zM1427.8 1724.5l5.75 10h-11.5zM1416.6 1692.4l5.75 10h-11.5zM1440.4 1665l5.75 10h-11.5zM1431.7 1706.2l5.75 10h-11.5zM1458 1714.2l5.75 10h-11.5zM1427.5 1704.5l5.75 10h-11.5zM1413.9 1684.2l5.75 10h-11.5zM1444.4 1678.4l5.75 10h-11.5zM1455.4 1669.3l5.75 10h-11.5zM1450.6 1687.7l5.75 10h-11.5zM1428.4 1658.6l5.75 10h-11.5zM1437.7 1730.9l5.75 10h-11.5zM1419.8 1720.8l5.75 10h-11.5zM1415.3 1702.7l5.75 10h-11.5zM1464.6 1696.3l5.75 10h-11.5zM1435.6 1692.8l5.75 10h-11.5zM1450.7 1652.9l5.75 10h-11.5zM1392.6 1707.5l5.75 10h-11.5zM1420.8 1717.3l5.75 10h-11.5zM1423.9 1682.8l5.75 10h-11.5zM1469.2 1711l5.75 10h-11.5zM1469.5 1723.5l5.75 10h-11.5zM1450.9 1688.4l5.75 10h-11.5zM1430.2 1725.2l5.75 10h-11.5zM1438.6 1676.4l5.75 10h-11.5zM1502.2 1699.4l5.75 10h-11.5zM1442.9 1666.4l5.75 10h-11.5zM1427.5 1711.8l5.75 10h-11.5zM1442.2 1716.9l5.75 10h-11.5zM1418 1694.6l5.75 10h-11.5zM1436.4 1691.4l5.75 10h-11.5zM1426.7 1642.2l5.75 10h-11.5zM1458.8 1675.9l5.75 10h-11.5zM1463.7 1714.5l5.75 10h-11.5zM1436.1 1684.4l5.75 10h-11.5zM1424 1622.5l5.75 10h-11.5zM1504.2 1697.9l5.75 10h-11.5zM1419.4 1691.9l5.75 10h-11.5zM1441 1648.7l5.75 10h-11.5zM1441 1635.2l5.75 10h-11.5zM1441.6 1713.2l5.75 10h-11.5zM1464.9 1716.2l5.75 10h-11.5zM1437.9 1688.8l5.75 10h-11.5zM1435.2 1698.2l5.75 10h-11.5zM1446.1 1705.7l5.75 10h-11.5z" fill="#2aae80"/>
<path d="M1367.9 1739.2a2.6 2.6 0 1 0 5.2 0a2.6 2.6 0 1 0 -5.2 0zM1427 1739.2a2.6 2.6 0 1 0 5.2 0a2.6 2.6 0 1 0 -5.2 0zM1426.3 1739.2a2.6 2.6 0 1 0 5.2 0a2.6 2.6 0 1 0 -5.2 0zM1405.1 1739.2a2.6 2.6 0 1 0 5.2 0a2.6 2.6 0 1 0 -5.2 0zM1502.3 1613.9a2.6 2.6 0 1 0 5.2 0a2.6 2.6 0 1 0 -5.2 0zM1458.8 1637.4a2.6 2.6 0 1 0 5.2 0a2.6 2.6 0 1 0 -5.2 0zM1477.7 1681.8a2.6 2.6 0 1 0 5.2 0a2.6 2.6 0 1 0 -5.2 0zM1424.3 1621.9a2.6 2.6 0 1 0 5.2 0a2.6 2.6 0 1 0 -5.2 0zM1437.3 1674.4a2.6 2.6 0 1 0 5.2 0a2.6 2.6 0 1 0 -5.2 0zM1437.7 1647.4a2.6 2.6 0 1 0 5.2 0a2.6 2.6 0 1 0 -5.2 0zM1542.4 1630.9a2.6 2.6 0 1 0 5.2 0a2.6 2.6 0 1 0 -5.2 0zM1534.5 1646a2.6 2.6 0 1 0 5.2 0a2.6 2.6 0 1 0 -5.2 0zM1391 1706.2a2.6 2.6 0 1 0 5.2 0a2.6 2.6 0 1 0 -5.2 0zM1515 1700.9a2.6 2.6 0 1 0 5.2 0a2.6 2.6 0 1 0 -5.2 0zM1478.3 1735.2a2.6 2.6 0 1 0 5.2 0a2.6 2.6 0 1 0 -5.2 0zM1523.7 1632.8a2.6 2.6 0 1 0 5.2 0a2.6 2.6 0 1 0 -5.2 0zM1481.8 1715.6a2.6 2.6 0 1 0 5.2 0a2.6 2.6 0 1 0 -5.2 0zM1505.8 1693a2.6 2.6 0 1 0 5.2 0a2.6 2.6 0 1 0 -5.2 0zM1488.9 1648.5a2.6 2.6 0 1 0 5.2 0a2.6 2.6 0 1 0 -5.2 0zM1497.2 1639.9a2.6 2.6 0 1 0 5.2 0a2.6 2.6 0 1 0 -5.2 0zM1508.9 1615.8a2.6 2.6 0 1 0 5.2 0a2.6 2.6 0 1 0 -5.2 0zM1466.7 1703.8a2.6 2.6 0 1 0 5.2 0a2.6 2.6 0 1 0 -5.2 0zM1442.4 1731.7a2.6 2.6 0 1 0 5.2 0a2.6 2.6 0 1 0 -5.2 0zM1536.1 1613.1a2.6 2.6 0 1 0 5.2 0a2.6 2.6 0 1 0 -5.2 0zM1413.9 1688a2.6 2.6 0 1 0 5.2 0a2.6 2.6 0 1 0 -5.2 0zM1514.4 1617a2.6 2.6 0 1 0 5.2 0a2.6 2.6 0 1 0 -5.2 0zM1553.1 1624.7a2.6 2.6 0 1 0 5.2 0a2.6 2.6 0 1 0 -5.2 0zM1526.2 1638.2a2.6 2.6 0 1 0 5.2 0a2.6 2.6 0 1 0 -5.2 0zM1478.5 1635a2.6 2.6 0 1 0 5.2 0a2.6 2.6 0 1 0 -5.2 0zM1506.1 1620.3a2.6 2.6 0 1 0 5.2 0a2.6 2.6 0 1 0 -5.2 0zM1393 1725.2a2.6 2.6 0 1 0 5.2 0a2.6 2.6 0 1 0 -5.2 0zM1494.2 1628.6a2.6 2.6 0 1 0 5.2 0a2.6 2.6 0 1 0 -5.2 0zM1434.3 1699a2.6 2.6 0 1 0 5.2 0a2.6 2.6 0 1 0 -5.2 0zM1498.3 1604.3a2.6 2.6 0 1 0 5.2 0a2.6 2.6 0 1 0 -5.2 0zM1518.1 1603.2a2.6 2.6 0 1 0 5.2 0a2.6 2.6 0 1 0 -5.2 0zM1444.5 1532.2a2.6 2.6 0 1 0 5.2 0a2.6 2.6 0 1 0 -5.2 0zM1543 1551.8a2.6 2.6 0 1 0 5.2 0a2.6 2.6 0 1 0 -5.2 0zM1505.1 1574a2.6 2.6 0 1 0 5.2 0a2.6 2.6 0 1 0 -5.2 0zM1531.6 1583.1a2.6 2.6 0 1 0 5.2 0a2.6 2.6 0 1 0 -5.2 0z" fill="#440f68"/>
<path d="M1448.1 1732.5l5.75 10h-11.5zM1433.2 1732.5l5.75 10h-11.5zM1430.6 1732.5l5.75 10h-11.5zM1450.3 1732.5l5.75 10h-11.5zM1442.2 1732.5l5.75 10h-11.5zM1434.6 1732.5l5.75 10h-11.5zM1455.9 1732.5l5.75 10h-11.5zM1427.2 1732.5l5.75 10h-11.5zM1422.2 1732.5l5.75 10h-11.5zM1403.8 1732.5l5.75 10h-11.5zM1446 1732.5l5.75 10h-11.5zM1449.4 1732.5l5.75 10h-11.5zM1426.7 1732.5l5.75 10h-11.5zM1452.1 1696l5.75 10h-11.5zM1432.3 1728.4l5.75 10h-11.5zM1436.9 1631.4l5.75 10h-11.5zM1448.6 1680.6l5.75 10h-11.5zM1489.1 1720l5.75 10h-11.5zM1458.1 1679.8l5.75 10h-11.5zM1425.3 1691l5.75 10h-11.5zM1454.9 1686.9l5.75 10h-11.5zM1440.3 1657.8l5.75 10h-11.5zM1502.2 1687.1l5.75 10h-11.5zM1415.1 1721.3l5.75 10h-11.5zM1446.7 1697.6l5.75 10h-11.5zM1431.6 1638.8l5.75 10h-11.5zM1460.7 1617.2l5.75 10h-11.5zM1410 1732.2l5.75 10h-11.5zM1419.9 1648.2l5.75 10h-11.5zM1417.4 1712.4l5.75 10h-11.5zM1439.3 1697.3l5.75 10h-11.5zM1457.6 1682.4l5.75 10h-11.5zM1513.3 1633.7l5.75 10h-11.5zM1444.3 1712.6l5.75 10h-11.5zM1435 1680.8l5.75 10h-11.5zM1450.4 1662.8l5.75 10h-11.5zM1418.4 1656.8l5.75 10h-11.5zM1435.9 1671.8l5.75 10h-11.5zM1456.2 1693.1l5.75 10h-11.5zM1423.2 1682.1l5.75 10h-11.5zM1431.3 1731.5l5.75 10h-11.5zM1453.7 1659.3l5.75 10h-11.5zM1437.3 1715l5.75 10h-11.5zM1459.7 1655.1l5.75 10h-11.5zM1432.6 1683.4l5.75 10h-11.5zM1424 1696.7l5.75 10h-11.5zM1443.2 1690.5l5.75 10h-11.5zM1441.1 1694.4l5.75 10h-11.5zM1445.2 1718.5l5.75 10h-11.5zM1415.7 1700.8l5.75 10h-11.5zM1454.6 1709l5.75 10h-11.5zM1458 1693.4l5.75 10h-11.5zM1457 1661.6l5.75 10h-11.5zM1486.2 1713.8l5.75 10h-11.5zM1436.7 1653.4l5.75 10h-11.5zM1434.4 1722l5.75 10h-11.5zM1451.3 1717.6l5.75 10h-11.5zM1472.2 1677.3l5.75 10h-11.5zM1426.2 1716.7l5.75 10h-11.5zM1448.2 1681.2l5.75 10h-11.5zM1429.7 1685.5l5.75 10h-11.5zM1437.6 1628.7l5.75 10h-11.5zM1446.4 1711.2l5.75 10h-11.5zM1425 1704.9l5.75 10h-11.5zM1441.1 1723.9l5.75 10h-11.5zM1506 1677.6l5.75 10h-11.5zM1432.4 1699l5.75 10h-11.5zM1430.3 1644.3l5.75 10h-11.5zM1430.7 1708l5.75 10h-11.5zM1423.3 1719.8l5.75 10h-11.5zM1437.5 1679.5l5.75 10h-11.5zM1425.5 1689.6l5.75 10h-11.5zM1438.8 1699.9l5.75 10h-11.5zM1452.5 1701.9l5.75 10h-11.5zM1448.1 1667.1l5.75 10h-11.5zM1428.2 1670.7l5.75 10h-11.5zM1404 1663.8l5.75 10h-11.5zM1460.9 1672.6l5.75 10h-11.5zM1424.9 1678.9l5.75 10h-11.5zM1419.7 1704.2l5.75 10h-11.5zM1448.3 1652.3l5.75 10h-11.5zM1430.3 1636.9l5.75 10h-11.5zM1460.7 1670l5.75 10h-11.5z" fill="#2aae80"/>
<path d="M1445.6 1739.2a2.6 2.6 0 1 0 5.2 0a2.6 2.6 0 1 0 -5.2 0zM1457.1 1739.2a2.6 2.6 0 1 0 5.2 0a2.6 2.6 0 1 0 -5.2 0zM1425.7 1739.2a2.6 2.6 0 1 0 5.2 0a2.6 2.6 0 1 0 -5.2 0zM1495.6 1739.2a2.6 2.6 0 1 0 5.2 0a2.6 2.6 0 1 0 -5.2 0zM1556.5 1629.6a2.6 2.6 0 1 0 5.2 0a2.6 2.6 0 1 0 -5.2 0zM1543.6 1593.4a2.6 2.6 0 1 0 5.2 0a2.6 2.6 0 1 0 -5.2 0zM1443.6 1640.8a2.6 2.6 0 1 0 5.2 0a2.6 2.6 0 1 0 -5.2 0zM1510.4 1606.3a2.6 2.6 0 1 0 5.2 0a2.6 2.6 0 1 0 -5.2 0zM1411.6 1713.4a2.6 2.6 0 1 0 5.2 0a2.6 2.6 0 1 0 -5.2 0zM1510.3 1658a2.6 2.6 0 1 0 5.2 0a2.6 2.6 0 1 0 -5.2 0zM1408.2 1695.4a2.6 2.6 0 1 0 5.2 0a2.6 2.6 0 1 0 -5.2 0zM1457.8 1697.5a2.6 2.6 0 1 0 5.2 0a2.6 2.6 0 1 0 -5.2 0zM1458 1662.3a2.6 2.6 0 1 0 5.2 0a2.6 2.6 0 1 0 -5.2 0zM1452.7 1721.6a2.6 2.6 0 1 0 5.2 0a2.6 2.6 0 1 0 -5.2 0zM1496.4 1675.8a2.6 2.6 0 1 0 5.2 0a2.6 2.6 0 1 0 -5.2 0zM1411.6 1729.3a2.6 2.6 0 1 0 5.2 0a2.6 2.6 0 1 0 -5.2 0zM1479.8 1737.9a2.6 2.6 0 1 0 5.2 0a2.6 2.6 0 1 0 -5.2 0zM1535.5 1663.2a2.6 2.6 0 1 0 5.2 0a2.6 2.6 0 1 0 -5.2 0zM1498.9 1653.2a2.6 2.6 0 1 0 5.2 0a2.6 2.6 0 1 0 -5.2 0zM1494 1689.7a2.6 2.6 0 1 0 5.2 0a2.6 2.6 0 1 0 -5.2 0zM1500.5 1678.9a2.6 2.6 0 1 0 5.2 0a2.6 2.6 0 1 0 -5.2 0zM1468.3 1627.4a2.6 2.6 0 1 0 5.2 0a2.6 2.6 0 1 0 -5.2 0zM1491.7 1665.9a2.6 2.6 0 1 0 5.2 0a2.6 2.6 0 1 0 -5.2 0zM1528.9 1624.2a2.6 2.6 0 1 0 5.2 0a2.6 2.6 0 1 0 -5.2 0zM1485.1 1633.9a2.6 2.6 0 1 0 5.2 0a2.6 2.6 0 1 0 -5.2 0zM1534.4 1654.6a2.6 2.6 0 1 0 5.2 0a2.6 2.6 0 1 0 -5.2 0zM1438.7 1719.4a2.6 2.6 0 1 0 5.2 0a2.6 2.6 0 1 0 -5.2 0zM1454.1 1644a2.6 2.6 0 1 0 5.2 0a2.6 2.6 0 1 0 -5.2 0zM1521.9 1612a2.6 2.6 0 1 0 5.2 0a2.6 2.6 0 1 0 -5.2 0zM1524.8 1643.3a2.6 2.6 0 1 0 5.2 0a2.6 2.6 0 1 0 -5.2 0zM1473.9 1607.2a2.6 2.6 0 1 0 5.2 0a2.6 2.6 0 1 0 -5.2 0zM1402.8 1677.2a2.6 2.6 0 1 0 5.2 0a2.6 2.6 0 1 0 -5.2 0zM1542.7 1595.5a2.6 2.6 0 1 0 5.2 0a2.6 2.6 0 1 0 -5.2 0zM1477.8 1684.1a2.6 2.6 0 1 0 5.2 0a2.6 2.6 0 1 0 -5.2 0zM1395.3 1717.6a2.6 2.6 0 1 0 5.2 0a2.6 2.6 0 1 0 -5.2 0zM1461.6 1545.6a2.6 2.6 0 1 0 5.2 0a2.6 2.6 0 1 0 -5.2 0zM1502.3 1567.5a2.6 2.6 0 1 0 5.2 0a2.6 2.6 0 1 0 -5.2 0zM1516.8 1576a2.6 2.6 0 1 0 5.2 0a2.6 2.6 0 1 0 -5.2 0zM1508.1 1584.4a2.6 2.6 0 1 0 5.2 0a2.6 2.6 0 1 0 -5.2 0z" fill="#440f68"/>
<path d="M1396.7 1730.6 L1403.4 1726.1 L1410.1 1721.5 L1416.8 1716.8 L1423.6 1712.1 L1430.3 1707.3 L1437 1702.4 L1443.7 1697.3 L1450.4 1692.1 L1457.1 1686.8 L1463.8 1681.3 L1470.6 1675.9 L1477.3 1670.4 L1484 1664.8 L1490.7 1659.2 L1497.4 1653.6 L1504.1 1648 L1510.8 1642.4 L1517.5 1636.7 L1524.3 1631.1 L1531 1625.5 L1537.7 1619.8 L1544.4 1614.1 L1551.1 1608.5 L1557.8 1602.8 L1564.5 1597.2 L1571.3 1591.5 L1578 1585.8 L1584.7 1580.2 L1591.4 1574.5 L1591.4 1604.5 L1584.7 1608.9 L1578 1613.3 L1571.3 1617.7 L1564.5 1622.1 L1557.8 1626.5 L1551.1 1631 L1544.4 1635.4 L1537.7 1639.8 L1531 1644.2 L1524.3 1648.7 L1517.5 1653.1 L1510.8 1657.5 L1504.1 1662 L1497.4 1666.4 L1490.7 1670.9 L1484 1675.4 L1477.3 1679.9 L1470.6 1684.5 L1463.8 1689.1 L1457.1 1693.8 L1450.4 1698.5 L1443.7 1703.4 L1437 1708.4 L1430.3 1713.5 L1423.6 1718.8 L1416.8 1724.1 L1410.1 1729.6 L1403.4 1735.1 L1396.7 1740.6 Z" fill="#999" fill-opacity="0.4"/>
<path d="M1396.7 1735.6 L1591.4 1589.5" stroke="#000" stroke-width="4.2"/>
<text x="1590.6" y="1694.5" font-size="23" style="fill:#000;stroke:#000">r = 0.49</text>
<text x="1590.6" y="1720.7" font-size="23" style="fill:#45105f;stroke:#45105f">r = 0.52</text>
<text x="1590.6" y="1746.9" font-size="23" style="fill:#24a884;stroke:#24a884">n.s.</text>
<path d="M366.6 2053l5.75 10h-11.5zM447.2 2053l5.75 10h-11.5zM420.6 2053l5.75 10h-11.5zM375 2053l5.75 10h-11.5zM373.9 2053l5.75 10h-11.5zM419.9 2053l5.75 10h-11.5zM384.6 2053l5.75 10h-11.5zM446.8 2053l5.75 10h-11.5zM403.3 2053l5.75 10h-11.5zM432 2053l5.75 10h-11.5zM457.5 2053l5.75 10h-11.5zM375.6 2053l5.75 10h-11.5zM442.7 2053l5.75 10h-11.5zM351.3 2053l5.75 10h-11.5zM480.9 1995.6l5.75 10h-11.5zM484.5 2029l5.75 10h-11.5zM421.8 2012.2l5.75 10h-11.5zM502.2 1980.5l5.75 10h-11.5zM439.2 1987.8l5.75 10h-11.5zM427.9 2030.5l5.75 10h-11.5zM435.9 2027.1l5.75 10h-11.5zM403.9 1994l5.75 10h-11.5zM453.4 2027.5l5.75 10h-11.5zM419.7 1999.8l5.75 10h-11.5zM347.6 2028.7l5.75 10h-11.5zM495.3 1976.2l5.75 10h-11.5zM415.1 1970.8l5.75 10h-11.5zM423.7 2005.6l5.75 10h-11.5zM408.4 1989.5l5.75 10h-11.5zM404.7 2000.7l5.75 10h-11.5zM513.9 1972.2l5.75 10h-11.5zM446.4 2033.5l5.75 10h-11.5zM431.3 1971.3l5.75 10h-11.5zM525.9 1966.1l5.75 10h-11.5zM469.6 1981l5.75 10h-11.5zM409.9 1997.4l5.75 10h-11.5zM462 2007.9l5.75 10h-11.5zM364.2 2005.3l5.75 10h-11.5zM372 2016.1l5.75 10h-11.5zM472.7 2020.8l5.75 10h-11.5zM340.8 2050l5.75 10h-11.5zM438.9 2015.9l5.75 10h-11.5zM441.1 2008.5l5.75 10h-11.5zM420.1 2036l5.75 10h-11.5zM353.7 2015.4l5.75 10h-11.5zM353.6 2032l5.75 10h-11.5zM455.2 2006.6l5.75 10h-11.5zM477.4 2009.5l5.75 10h-11.5zM391.5 2050.9l5.75 10h-11.5zM403.9 1950.1l5.75 10h-11.5zM444.5 1992.1l5.75 10h-11.5zM395.5 2039.7l5.75 10h-11.5zM454.8 2022.9l5.75 10h-11.5zM492.9 1974.6l5.75 10h-11.5zM440.3 1988.9l5.75 10h-11.5zM378.9 2024.5l5.75 10h-11.5zM427.6 2014.1l5.75 10h-11.5zM481 2017.4l5.75 10h-11.5zM353.4 2038.5l5.75 10h-11.5zM460.7 1945.8l5.75 10h-11.5zM462.5 1983l5.75 10h-11.5zM429.5 1994.5l5.75 10h-11.5zM451 1981.8l5.75 10h-11.5zM444.1 1968.2l5.75 10h-11.5zM410.4 2034l5.75 10h-11.5zM409.6 2009.9l5.75 10h-11.5zM424.2 2029.7l5.75 10h-11.5zM425.7 2003.6l5.75 10h-11.5zM392.4 2006.4l5.75 10h-11.5zM500.1 2006.9l5.75 10h-11.5zM432 1961.3l5.75 10h-11.5zM416 2023.3l5.75 10h-11.5zM379.8 2030.8l5.75 10h-11.5zM490 1941.3l5.75 10h-11.5zM362 1994.9l5.75 10h-11.5zM357.7 2010.6l5.75 10h-11.5zM476.9 2014.6l5.75 10h-11.5zM468 2023.7l5.75 10h-11.5zM380 2020.1l5.75 10h-11.5zM375.3 2036.5l5.75 10h-11.5zM439.2 2049.6l5.75 10h-11.5zM383.8 2019.2l5.75 10h-11.5zM392.1 2021.7l5.75 10h-11.5zM448.2 2002l5.75 10h-11.5z" fill="#2aae80"/>
<path d="M370.5 2059.7a2.6 2.6 0 1 0 5.2 0a2.6 2.6 0 1 0 -5.2 0zM413.3 2059.7a2.6 2.6 0 1 0 5.2 0a2.6 2.6 0 1 0 -5.2 0zM397.6 2059.7a2.6 2.6 0 1 0 5.2 0a2.6 2.6 0 1 0 -5.2 0zM382.1 2059.7a2.6 2.6 0 1 0 5.2 0a2.6 2.6 0 1 0 -5.2 0zM380.7 2046.6a2.6 2.6 0 1 0 5.2 0a2.6 2.6 0 1 0 -5.2 0zM473.3 1956.4a2.6 2.6 0 1 0 5.2 0a2.6 2.6 0 1 0 -5.2 0zM456.6 1993a2.6 2.6 0 1 0 5.2 0a2.6 2.6 0 1 0 -5.2 0zM520.6 1965.8a2.6 2.6 0 1 0 5.2 0a2.6 2.6 0 1 0 -5.2 0zM508.5 1939.1a2.6 2.6 0 1 0 5.2 0a2.6 2.6 0 1 0 -5.2 0zM497.9 1943.2a2.6 2.6 0 1 0 5.2 0a2.6 2.6 0 1 0 -5.2 0zM521.7 1990.7a2.6 2.6 0 1 0 5.2 0a2.6 2.6 0 1 0 -5.2 0zM356.2 2053.6a2.6 2.6 0 1 0 5.2 0a2.6 2.6 0 1 0 -5.2 0zM401.4 1910.9a2.6 2.6 0 1 0 5.2 0a2.6 2.6 0 1 0 -5.2 0zM484.8 1925.7a2.6 2.6 0 1 0 5.2 0a2.6 2.6 0 1 0 -5.2 0zM516.9 1929.3a2.6 2.6 0 1 0 5.2 0a2.6 2.6 0 1 0 -5.2 0zM430.4 1989.5a2.6 2.6 0 1 0 5.2 0a2.6 2.6 0 1 0 -5.2 0zM367.5 2031.6a2.6 2.6 0 1 0 5.2 0a2.6 2.6 0 1 0 -5.2 0zM427.3 2006.2a2.6 2.6 0 1 0 5.2 0a2.6 2.6 0 1 0 -5.2 0zM471.5 1952.1a2.6 2.6 0 1 0 5.2 0a2.6 2.6 0 1 0 -5.2 0zM444.5 2001a2.6 2.6 0 1 0 5.2 0a2.6 2.6 0 1 0 -5.2 0zM495.7 1930.9a2.6 2.6 0 1 0 5.2 0a2.6 2.6 0 1 0 -5.2 0zM509.1 1970.9a2.6 2.6 0 1 0 5.2 0a2.6 2.6 0 1 0 -5.2 0zM469.6 1930.1a2.6 2.6 0 1 0 5.2 0a2.6 2.6 0 1 0 -5.2 0zM406.3 1977.2a2.6 2.6 0 1 0 5.2 0a2.6 2.6 0 1 0 -5.2 0zM540.9 1922.7a2.6 2.6 0 1 0 5.2 0a2.6 2.6 0 1 0 -5.2 0zM424.5 2015.1a2.6 2.6 0 1 0 5.2 0a2.6 2.6 0 1 0 -5.2 0zM507.2 1971.9a2.6 2.6 0 1 0 5.2 0a2.6 2.6 0 1 0 -5.2 0zM555 1935.2a2.6 2.6 0 1 0 5.2 0a2.6 2.6 0 1 0 -5.2 0zM460.7 1947a2.6 2.6 0 1 0 5.2 0a2.6 2.6 0 1 0 -5.2 0zM462 2011.2a2.6 2.6 0 1 0 5.2 0a2.6 2.6 0 1 0 -5.2 0zM424.9 2029.1a2.6 2.6 0 1 0 5.2 0a2.6 2.6 0 1 0 -5.2 0zM507.8 1920.6a2.6 2.6 0 1 0 5.2 0a2.6 2.6 0 1 0 -5.2 0zM449.3 1987.6a2.6 2.6 0 1 0 5.2 0a2.6 2.6 0 1 0 -5.2 0zM499.2 1939.8a2.6 2.6 0 1 0 5.2 0a2.6 2.6 0 1 0 -5.2 0zM481.9 1962.4a2.6 2.6 0 1 0 5.2 0a2.6 2.6 0 1 0 -5.2 0zM424.4 1980.9a2.6 2.6 0 1 0 5.2 0a2.6 2.6 0 1 0 -5.2 0zM443.5 1868.4a2.6 2.6 0 1 0 5.2 0a2.6 2.6 0 1 0 -5.2 0zM522.9 1892.2a2.6 2.6 0 1 0 5.2 0a2.6 2.6 0 1 0 -5.2 0zM527.7 1903.6a2.6 2.6 0 1 0 5.2 0a2.6 2.6 0 1 0 -5.2 0z" fill="#440f68"/>
<path d="M377.5 2053l5.75 10h-11.5zM372.8 2053l5.75 10h-11.5zM387.6 2053l5.75 10h-11.5zM356.4 2053l5.75 10h-11.5zM444.3 2053l5.75 10h-11.5zM361 2053l5.75 10h-11.5zM437.1 2053l5.75 10h-11.5zM381.7 2053l5.75 10h-11.5zM384.5 2053l5.75 10h-11.5zM436.3 2053l5.75 10h-11.5zM345.8 2053l5.75 10h-11.5zM395.7 2053l5.75 10h-11.5zM366 2053l5.75 10h-11.5zM420.6 2021.1l5.75 10h-11.5zM372.2 2024l5.75 10h-11.5zM417.9 1977.8l5.75 10h-11.5zM518 1970.2l5.75 10h-11.5zM488.8 2004.4l5.75 10h-11.5zM512.5 1975l5.75 10h-11.5zM411.3 1940.4l5.75 10h-11.5zM386.5 2043.1l5.75 10h-11.5zM419.4 2031.1l5.75 10h-11.5zM512.5 1999.1l5.75 10h-11.5zM508 1986.1l5.75 10h-11.5zM425.3 2046.4l5.75 10h-11.5zM442.2 2048.2l5.75 10h-11.5zM501.4 1947.5l5.75 10h-11.5zM388 2035.9l5.75 10h-11.5zM452.4 2027.7l5.75 10h-11.5zM367.8 2025.7l5.75 10h-11.5zM425.1 2047.8l5.75 10h-11.5zM422.5 2026.4l5.75 10h-11.5zM427.7 2011.2l5.75 10h-11.5zM395.7 1998.3l5.75 10h-11.5zM448.2 1984.7l5.75 10h-11.5zM405.8 2022.2l5.75 10h-11.5zM349.2 2047.2l5.75 10h-11.5zM412.8 2030.1l5.75 10h-11.5zM496 2002.3l5.75 10h-11.5zM337.2 2045l5.75 10h-11.5zM408.4 2012.9l5.75 10h-11.5zM416.7 1985.5l5.75 10h-11.5zM377.2 2026.7l5.75 10h-11.5zM372.4 2034.7l5.75 10h-11.5zM500.9 2025l5.75 10h-11.5zM401.5 2004.7l5.75 10h-11.5zM468.7 1998.9l5.75 10h-11.5zM400.2 1989.8l5.75 10h-11.5zM455.7 2008.2l5.75 10h-11.5zM434 1979.1l5.75 10h-11.5zM446.6 2051.4l5.75 10h-11.5zM406.5 2041.3l5.75 10h-11.5zM401.5 2023.2l5.75 10h-11.5zM446.2 2016.8l5.75 10h-11.5zM458.2 2013.3l5.75 10h-11.5zM513.6 1973.4l5.75 10h-11.5zM375.7 2028l5.75 10h-11.5zM372.6 2037.8l5.75 10h-11.5zM415.1 2003.3l5.75 10h-11.5zM394.5 2031.5l5.75 10h-11.5zM458 2044l5.75 10h-11.5zM409.3 2008.9l5.75 10h-11.5zM355.7 2045.7l5.75 10h-11.5zM393.9 1996.9l5.75 10h-11.5zM475.1 2019.9l5.75 10h-11.5zM519.9 1986.9l5.75 10h-11.5zM466.6 2032.3l5.75 10h-11.5zM372.2 2037.4l5.75 10h-11.5zM375.2 2015.1l5.75 10h-11.5zM466.2 2011.9l5.75 10h-11.5zM469.5 1962.7l5.75 10h-11.5zM406.5 1996.4l5.75 10h-11.5zM347.7 2035l5.75 10h-11.5zM416.5 2004.9l5.75 10h-11.5zM440.5 1943l5.75 10h-11.5zM471.1 2018.4l5.75 10h-11.5zM439.6 2012.4l5.75 10h-11.5zM404.8 1969.2l5.75 10h-11.5zM386 1955.7l5.75 10h-11.5zM421 2033.7l5.75 10h-11.5zM432.1 2036.7l5.75 10h-11.5zM399.3 2009.3l5.75 10h-11.5zM379.4 2018.7l5.75 10h-11.5zM456.6 2026.2l5.75 10h-11.5z" fill="#2aae80"/>
<path d="M367.6 2059.7a2.6 2.6 0 1 0 5.2 0a2.6 2.6 0 1 0 -5.2 0zM337.5 2059.7a2.6 2.6 0 1 0 5.2 0a2.6 2.6 0 1 0 -5.2 0zM438.8 2059.7a2.6 2.6 0 1 0 5.2 0a2.6 2.6 0 1 0 -5.2 0zM462.7 2059.7a2.6 2.6 0 1 0 5.2 0a2.6 2.6 0 1 0 -5.2 0zM513.9 1934.4a2.6 2.6 0 1 0 5.2 0a2.6 2.6 0 1 0 -5.2 0zM513.3 1957.9a2.6 2.6 0 1 0 5.2 0a2.6 2.6 0 1 0 -5.2 0zM453.5 2002.3a2.6 2.6 0 1 0 5.2 0a2.6 2.6 0 1 0 -5.2 0zM520 1942.4a2.6 2.6 0 1 0 5.2 0a2.6 2.6 0 1 0 -5.2 0zM440.3 1994.9a2.6 2.6 0 1 0 5.2 0a2.6 2.6 0 1 0 -5.2 0zM504.5 1967.9a2.6 2.6 0 1 0 5.2 0a2.6 2.6 0 1 0 -5.2 0zM497.1 1951.4a2.6 2.6 0 1 0 5.2 0a2.6 2.6 0 1 0 -5.2 0zM443.4 1966.5a2.6 2.6 0 1 0 5.2 0a2.6 2.6 0 1 0 -5.2 0zM461 2026.7a2.6 2.6 0 1 0 5.2 0a2.6 2.6 0 1 0 -5.2 0zM422.6 2021.4a2.6 2.6 0 1 0 5.2 0a2.6 2.6 0 1 0 -5.2 0zM427.1 2055.7a2.6 2.6 0 1 0 5.2 0a2.6 2.6 0 1 0 -5.2 0zM517 1953.3a2.6 2.6 0 1 0 5.2 0a2.6 2.6 0 1 0 -5.2 0zM382.3 2036.1a2.6 2.6 0 1 0 5.2 0a2.6 2.6 0 1 0 -5.2 0zM453.4 2013.5a2.6 2.6 0 1 0 5.2 0a2.6 2.6 0 1 0 -5.2 0zM490.4 1969a2.6 2.6 0 1 0 5.2 0a2.6 2.6 0 1 0 -5.2 0zM445.7 1960.4a2.6 2.6 0 1 0 5.2 0a2.6 2.6 0 1 0 -5.2 0zM545.6 1936.3a2.6 2.6 0 1 0 5.2 0a2.6 2.6 0 1 0 -5.2 0zM377.3 2024.3a2.6 2.6 0 1 0 5.2 0a2.6 2.6 0 1 0 -5.2 0zM360 2052.2a2.6 2.6 0 1 0 5.2 0a2.6 2.6 0 1 0 -5.2 0zM537.7 1933.6a2.6 2.6 0 1 0 5.2 0a2.6 2.6 0 1 0 -5.2 0zM379.7 2008.5a2.6 2.6 0 1 0 5.2 0a2.6 2.6 0 1 0 -5.2 0zM508.2 1937.5a2.6 2.6 0 1 0 5.2 0a2.6 2.6 0 1 0 -5.2 0zM555.1 1945.2a2.6 2.6 0 1 0 5.2 0a2.6 2.6 0 1 0 -5.2 0zM465.9 1958.7a2.6 2.6 0 1 0 5.2 0a2.6 2.6 0 1 0 -5.2 0zM447.9 1955.5a2.6 2.6 0 1 0 5.2 0a2.6 2.6 0 1 0 -5.2 0zM535.4 1940.8a2.6 2.6 0 1 0 5.2 0a2.6 2.6 0 1 0 -5.2 0zM414.8 2045.7a2.6 2.6 0 1 0 5.2 0a2.6 2.6 0 1 0 -5.2 0zM443.8 1949.1a2.6 2.6 0 1 0 5.2 0a2.6 2.6 0 1 0 -5.2 0zM444 2019.5a2.6 2.6 0 1 0 5.2 0a2.6 2.6 0 1 0 -5.2 0zM488.6 1924.8a2.6 2.6 0 1 0 5.2 0a2.6 2.6 0 1 0 -5.2 0zM425.7 1923.7a2.6 2.6 0 1 0 5.2 0a2.6 2.6 0 1 0 -5.2 0zM502.5 1852.7a2.6 2.6 0 1 0 5.2 0a2.6 2.6 0 1 0 -5.2 0zM516.8 1872.3a2.6 2.6 0 1 0 5.2 0a2.6 2.6 0 1 0 -5.2 0zM482.4 1894.5a2.6 2.6 0 1 0 5.2 0a2.6 2.6 0 1 0 -5.2 0zM547.1 1903.6a2.6 2.6 0 1 0 5.2 0a2.6 2.6 0 1 0 -5.2 0z" fill="#440f68"/>
<path d="M342 2053l5.75 10h-11.5zM404.1 2053l5.75 10h-11.5zM355.6 2053l5.75 10h-11.5zM403.8 2053l5.75 10h-11.5zM384.5 2053l5.75 10h-11.5zM429.8 2053l5.75 10h-11.5zM438 2053l5.75 10h-11.5zM383.7 2053l5.75 10h-11.5zM420.1 2053l5.75 10h-11.5zM365.9 2053l5.75 10h-11.5zM384.4 2053l5.75 10h-11.5zM386.1 2053l5.75 10h-11.5zM426.8 2053l5.75 10h-11.5zM440.3 2016.5l5.75 10h-11.5zM402.2 2048.9l5.75 10h-11.5zM463.8 1951.9l5.75 10h-11.5zM466.8 2001.1l5.75 10h-11.5zM427.6 2040.5l5.75 10h-11.5zM479.1 2000.3l5.75 10h-11.5zM406.2 2011.5l5.75 10h-11.5zM471.6 2007.4l5.75 10h-11.5zM471.2 1978.3l5.75 10h-11.5zM347.6 2007.6l5.75 10h-11.5zM405.7 2041.8l5.75 10h-11.5zM372.1 2018.1l5.75 10h-11.5zM456.1 1959.3l5.75 10h-11.5zM473.7 1937.7l5.75 10h-11.5zM379.1 2052.7l5.75 10h-11.5zM510.4 1968.7l5.75 10h-11.5zM445.2 2032.9l5.75 10h-11.5zM472.8 2017.8l5.75 10h-11.5zM427.2 2002.9l5.75 10h-11.5zM403.9 1954.2l5.75 10h-11.5zM425.2 2033.1l5.75 10h-11.5zM437.3 2001.3l5.75 10h-11.5zM483.3 1983.3l5.75 10h-11.5zM454.7 1977.3l5.75 10h-11.5zM448.4 1992.3l5.75 10h-11.5zM373.6 2013.6l5.75 10h-11.5zM466.6 2002.6l5.75 10h-11.5zM345.6 2052l5.75 10h-11.5zM445.6 1979.8l5.75 10h-11.5zM386.5 2035.5l5.75 10h-11.5zM472.7 1975.6l5.75 10h-11.5zM479.5 2003.9l5.75 10h-11.5zM409.8 2017.2l5.75 10h-11.5zM472.3 2011l5.75 10h-11.5zM432.7 2014.9l5.75 10h-11.5zM401.1 2039l5.75 10h-11.5zM521.9 2021.3l5.75 10h-11.5zM412.1 2029.5l5.75 10h-11.5zM417.9 2013.9l5.75 10h-11.5zM376.1 1982.1l5.75 10h-11.5zM394.3 2034.3l5.75 10h-11.5zM473.3 1973.9l5.75 10h-11.5zM508.3 2042.5l5.75 10h-11.5zM451.5 2038.1l5.75 10h-11.5zM378.6 1997.8l5.75 10h-11.5zM364.3 2037.2l5.75 10h-11.5zM368.7 2001.7l5.75 10h-11.5zM348.4 2006l5.75 10h-11.5zM442.8 1949.2l5.75 10h-11.5zM441.9 2031.7l5.75 10h-11.5zM430.2 2025.4l5.75 10h-11.5zM404.7 2044.4l5.75 10h-11.5zM442.7 1998.1l5.75 10h-11.5zM394.9 2019.5l5.75 10h-11.5zM538.5 1964.8l5.75 10h-11.5zM363.7 2028.5l5.75 10h-11.5zM372.5 2040.3l5.75 10h-11.5zM406.9 2000l5.75 10h-11.5zM525.7 2010.1l5.75 10h-11.5zM424.3 2020.4l5.75 10h-11.5zM386 2022.4l5.75 10h-11.5zM518.8 1987.6l5.75 10h-11.5zM533.6 1991.2l5.75 10h-11.5zM499.6 1984.3l5.75 10h-11.5zM464.2 1993.1l5.75 10h-11.5zM476.3 1999.4l5.75 10h-11.5zM364.4 2024.7l5.75 10h-11.5zM444.1 1972.8l5.75 10h-11.5zM475.2 1957.4l5.75 10h-11.5zM466.4 1990.5l5.75 10h-11.5z" fill="#2aae80"/>
<path d="M363.4 2059.7a2.6 2.6 0 1 0 5.2 0a2.6 2.6 0 1 0 -5.2 0zM336.9 2059.7a2.6 2.6 0 1 0 5.2 0a2.6 2.6 0 1 0 -5.2 0zM400 2059.7a2.6 2.6 0 1 0 5.2 0a2.6 2.6 0 1 0 -5.2 0zM399.5 2059.7a2.6 2.6 0 1 0 5.2 0a2.6 2.6 0 1 0 -5.2 0zM528.3 1950.1a2.6 2.6 0 1 0 5.2 0a2.6 2.6 0 1 0 -5.2 0zM506.7 1913.9a2.6 2.6 0 1 0 5.2 0a2.6 2.6 0 1 0 -5.2 0zM395 1961.3a2.6 2.6 0 1 0 5.2 0a2.6 2.6 0 1 0 -5.2 0zM529.6 1926.8a2.6 2.6 0 1 0 5.2 0a2.6 2.6 0 1 0 -5.2 0zM458.8 2033.9a2.6 2.6 0 1 0 5.2 0a2.6 2.6 0 1 0 -5.2 0zM404 1978.5a2.6 2.6 0 1 0 5.2 0a2.6 2.6 0 1 0 -5.2 0zM438.2 2015.9a2.6 2.6 0 1 0 5.2 0a2.6 2.6 0 1 0 -5.2 0zM440.3 2018a2.6 2.6 0 1 0 5.2 0a2.6 2.6 0 1 0 -5.2 0zM432.4 1982.8a2.6 2.6 0 1 0 5.2 0a2.6 2.6 0 1 0 -5.2 0zM468.3 2042.1a2.6 2.6 0 1 0 5.2 0a2.6 2.6 0 1 0 -5.2 0zM400.9 1996.3a2.6 2.6 0 1 0 5.2 0a2.6 2.6 0 1 0 -5.2 0zM353.5 2049.8a2.6 2.6 0 1 0 5.2 0a2.6 2.6 0 1 0 -5.2 0zM372.3 2058.4a2.6 2.6 0 1 0 5.2 0a2.6 2.6 0 1 0 -5.2 0zM479.1 1983.7a2.6 2.6 0 1 0 5.2 0a2.6 2.6 0 1 0 -5.2 0zM462 1973.7a2.6 2.6 0 1 0 5.2 0a2.6 2.6 0 1 0 -5.2 0zM454.9 2010.2a2.6 2.6 0 1 0 5.2 0a2.6 2.6 0 1 0 -5.2 0zM392.8 1999.4a2.6 2.6 0 1 0 5.2 0a2.6 2.6 0 1 0 -5.2 0zM506.8 1947.9a2.6 2.6 0 1 0 5.2 0a2.6 2.6 0 1 0 -5.2 0zM480 1986.4a2.6 2.6 0 1 0 5.2 0a2.6 2.6 0 1 0 -5.2 0zM521.4 1944.7a2.6 2.6 0 1 0 5.2 0a2.6 2.6 0 1 0 -5.2 0zM508.4 1954.4a2.6 2.6 0 1 0 5.2 0a2.6 2.6 0 1 0 -5.2 0zM465.7 1975.1a2.6 2.6 0 1 0 5.2 0a2.6 2.6 0 1 0 -5.2 0zM416.6 2039.9a2.6 2.6 0 1 0 5.2 0a2.6 2.6 0 1 0 -5.2 0zM532.9 1964.5a2.6 2.6 0 1 0 5.2 0a2.6 2.6 0 1 0 -5.2 0zM495.2 1932.5a2.6 2.6 0 1 0 5.2 0a2.6 2.6 0 1 0 -5.2 0zM423.6 1963.8a2.6 2.6 0 1 0 5.2 0a2.6 2.6 0 1 0 -5.2 0zM504.6 1927.7a2.6 2.6 0 1 0 5.2 0a2.6 2.6 0 1 0 -5.2 0zM387.9 1997.7a2.6 2.6 0 1 0 5.2 0a2.6 2.6 0 1 0 -5.2 0zM526.4 1916a2.6 2.6 0 1 0 5.2 0a2.6 2.6 0 1 0 -5.2 0zM438.9 2004.6a2.6 2.6 0 1 0 5.2 0a2.6 2.6 0 1 0 -5.2 0zM405.1 2038.1a2.6 2.6 0 1 0 5.2 0a2.6 2.6 0 1 0 -5.2 0zM510.3 1866.1a2.6 2.6 0 1 0 5.2 0a2.6 2.6 0 1 0 -5.2 0zM524.1 1888a2.6 2.6 0 1 0 5.2 0a2.6 2.6 0 1 0 -5.2 0zM508.5 1896.4a2.6 2.6 0 1 0 5.2 0a2.6 2.6 0 1 0 -5.2 0zM528.5 1904.9a2.6 2.6 0 1 0 5.2 0a2.6 2.6 0 1 0 -5.2 0z" fill="#440f68"/>
<path d="M329.3 2062.1 L337.3 2058.3 L345.4 2054.5 L353.4 2050.6 L361.5 2046.7 L369.5 2042.8 L377.5 2038.7 L385.6 2034.7 L393.6 2030.5 L401.7 2026.4 L409.7 2022.1 L417.8 2017.9 L425.8 2013.6 L433.8 2009.2 L441.9 2004.9 L449.9 2000.5 L458 1996.1 L466 1991.7 L474 1987.3 L482.1 1982.9 L490.1 1978.4 L498.2 1974 L506.2 1969.6 L514.3 1965.1 L522.3 1960.7 L530.3 1956.2 L538.4 1951.8 L546.4 1947.3 L554.5 1942.9 L562.5 1938.4 L562.5 1958.4 L554.5 1962.1 L546.4 1965.7 L538.4 1969.4 L530.3 1973 L522.3 1976.7 L514.3 1980.4 L506.2 1984.1 L498.2 1987.7 L490.1 1991.4 L482.1 1995.1 L474 1998.8 L466 2002.5 L458 2006.2 L449.9 2010 L441.9 2013.7 L433.8 2017.5 L425.8 2021.2 L417.8 2025 L409.7 2028.9 L401.7 2032.8 L393.6 2036.7 L385.6 2040.7 L377.5 2044.8 L369.5 2048.9 L361.5 2053 L353.4 2057.2 L345.4 2061.5 L337.3 2065.8 L329.3 2070.1 Z" fill="#999" fill-opacity="0.4"/>
<path d="M329.3 2066.1 L562.5 1948.4" stroke="#000" stroke-width="4.2"/>
<text x="562" y="2015" font-size="23" style="fill:#000;stroke:#000">r = 0.60</text>
<text x="562" y="2041.2" font-size="23" style="fill:#45105f;stroke:#45105f">r = 0.61</text>
<text x="562" y="2067.4" font-size="23" style="fill:#24a884;stroke:#24a884">r = 0.44</text>
<path d="M933.4 2053l5.75 10h-11.5zM863.4 2053l5.75 10h-11.5zM928.4 2053l5.75 10h-11.5zM882.1 2053l5.75 10h-11.5zM859.3 2053l5.75 10h-11.5zM896.5 2053l5.75 10h-11.5zM878.2 2053l5.75 10h-11.5zM859.9 2053l5.75 10h-11.5zM873.6 2053l5.75 10h-11.5zM896.3 2053l5.75 10h-11.5zM879 2053l5.75 10h-11.5zM867.7 2053l5.75 10h-11.5zM847.6 2053l5.75 10h-11.5zM909.8 2053l5.75 10h-11.5zM881.6 1995.6l5.75 10h-11.5zM870 2029l5.75 10h-11.5zM893.1 2012.2l5.75 10h-11.5zM857.9 1980.5l5.75 10h-11.5zM1018.7 1987.8l5.75 10h-11.5zM880.3 2030.5l5.75 10h-11.5zM846.4 2027.1l5.75 10h-11.5zM874.1 1994l5.75 10h-11.5zM875.4 2027.5l5.75 10h-11.5zM872.6 1999.8l5.75 10h-11.5zM900.3 2028.7l5.75 10h-11.5zM996.2 1976.2l5.75 10h-11.5zM889.2 1970.8l5.75 10h-11.5zM925.7 2005.6l5.75 10h-11.5zM892.9 1989.5l5.75 10h-11.5zM906.5 2000.7l5.75 10h-11.5zM877.9 1972.2l5.75 10h-11.5zM893.4 2033.5l5.75 10h-11.5zM915.7 1971.3l5.75 10h-11.5zM897.2 1966.1l5.75 10h-11.5zM921.2 1981l5.75 10h-11.5zM878 1997.4l5.75 10h-11.5zM896.7 2007.9l5.75 10h-11.5zM873.6 2005.3l5.75 10h-11.5zM1024.3 2016.1l5.75 10h-11.5zM897.9 2020.8l5.75 10h-11.5zM876.6 2050l5.75 10h-11.5zM894.4 2015.9l5.75 10h-11.5zM865.4 2008.5l5.75 10h-11.5zM870.4 2036l5.75 10h-11.5zM932.5 2015.4l5.75 10h-11.5zM906.1 2032l5.75 10h-11.5zM923.4 2006.6l5.75 10h-11.5zM879 2009.5l5.75 10h-11.5zM895.2 2050.9l5.75 10h-11.5zM977.2 1950.1l5.75 10h-11.5zM969.4 1992.1l5.75 10h-11.5zM922.3 2039.7l5.75 10h-11.5zM880.7 2022.9l5.75 10h-11.5zM904 1974.6l5.75 10h-11.5zM871.1 1988.9l5.75 10h-11.5zM845.7 2024.5l5.75 10h-11.5zM889.8 2014.1l5.75 10h-11.5zM860.3 2017.4l5.75 10h-11.5zM912.8 2038.5l5.75 10h-11.5zM862.3 1945.8l5.75 10h-11.5zM903.6 1983l5.75 10h-11.5zM902.6 1994.5l5.75 10h-11.5zM959.8 1981.8l5.75 10h-11.5zM933.3 1968.2l5.75 10h-11.5zM957.9 2034l5.75 10h-11.5zM901.2 2009.9l5.75 10h-11.5zM889 2029.7l5.75 10h-11.5zM953.8 2003.6l5.75 10h-11.5zM868.2 2006.4l5.75 10h-11.5zM930.5 2006.9l5.75 10h-11.5zM910.4 1961.3l5.75 10h-11.5zM901.9 2023.3l5.75 10h-11.5zM856 2030.8l5.75 10h-11.5zM913.9 1941.3l5.75 10h-11.5zM868.1 1994.9l5.75 10h-11.5zM1020 2010.6l5.75 10h-11.5zM958.4 2014.6l5.75 10h-11.5zM887.2 2023.7l5.75 10h-11.5zM860.7 2020.1l5.75 10h-11.5zM888.8 2036.5l5.75 10h-11.5zM859.6 2049.6l5.75 10h-11.5zM876 2019.2l5.75 10h-11.5zM858.7 2021.7l5.75 10h-11.5zM923.1 2002l5.75 10h-11.5z" fill="#2aae80"/>
<path d="M920.5 2059.7a2.6 2.6 0 1 0 5.2 0a2.6 2.6 0 1 0 -5.2 0zM831.1 2059.7a2.6 2.6 0 1 0 5.2 0a2.6 2.6 0 1 0 -5.2 0zM908 2059.7a2.6 2.6 0 1 0 5.2 0a2.6 2.6 0 1 0 -5.2 0zM892.5 2059.7a2.6 2.6 0 1 0 5.2 0a2.6 2.6 0 1 0 -5.2 0zM964 2046.6a2.6 2.6 0 1 0 5.2 0a2.6 2.6 0 1 0 -5.2 0zM892.7 1956.4a2.6 2.6 0 1 0 5.2 0a2.6 2.6 0 1 0 -5.2 0zM929.1 1993a2.6 2.6 0 1 0 5.2 0a2.6 2.6 0 1 0 -5.2 0zM1010 1965.8a2.6 2.6 0 1 0 5.2 0a2.6 2.6 0 1 0 -5.2 0zM961.7 1939.1a2.6 2.6 0 1 0 5.2 0a2.6 2.6 0 1 0 -5.2 0zM933.2 1943.2a2.6 2.6 0 1 0 5.2 0a2.6 2.6 0 1 0 -5.2 0zM974.8 1990.7a2.6 2.6 0 1 0 5.2 0a2.6 2.6 0 1 0 -5.2 0zM932.7 2053.6a2.6 2.6 0 1 0 5.2 0a2.6 2.6 0 1 0 -5.2 0zM1007.1 1910.9a2.6 2.6 0 1 0 5.2 0a2.6 2.6 0 1 0 -5.2 0zM965.4 1925.7a2.6 2.6 0 1 0 5.2 0a2.6 2.6 0 1 0 -5.2 0zM1026 1929.3a2.6 2.6 0 1 0 5.2 0a2.6 2.6 0 1 0 -5.2 0zM950.7 1989.5a2.6 2.6 0 1 0 5.2 0a2.6 2.6 0 1 0 -5.2 0zM937.2 2031.6a2.6 2.6 0 1 0 5.2 0a2.6 2.6 0 1 0 -5.2 0zM983.2 2006.2a2.6 2.6 0 1 0 5.2 0a2.6 2.6 0 1 0 -5.2 0zM909.5 1952.1a2.6 2.6 0 1 0 5.2 0a2.6 2.6 0 1 0 -5.2 0zM970.4 2001a2.6 2.6 0 1 0 5.2 0a2.6 2.6 0 1 0 -5.2 0zM1051.5 1930.9a2.6 2.6 0 1 0 5.2 0a2.6 2.6 0 1 0 -5.2 0zM928 1970.9a2.6 2.6 0 1 0 5.2 0a2.6 2.6 0 1 0 -5.2 0zM994.2 1930.1a2.6 2.6 0 1 0 5.2 0a2.6 2.6 0 1 0 -5.2 0zM892.4 1977.2a2.6 2.6 0 1 0 5.2 0a2.6 2.6 0 1 0 -5.2 0zM1062.8 1922.7a2.6 2.6 0 1 0 5.2 0a2.6 2.6 0 1 0 -5.2 0zM921 2015.1a2.6 2.6 0 1 0 5.2 0a2.6 2.6 0 1 0 -5.2 0zM1008.6 1971.9a2.6 2.6 0 1 0 5.2 0a2.6 2.6 0 1 0 -5.2 0zM1001.5 1935.2a2.6 2.6 0 1 0 5.2 0a2.6 2.6 0 1 0 -5.2 0zM940.6 1947a2.6 2.6 0 1 0 5.2 0a2.6 2.6 0 1 0 -5.2 0zM972.6 2011.2a2.6 2.6 0 1 0 5.2 0a2.6 2.6 0 1 0 -5.2 0zM871.4 2029.1a2.6 2.6 0 1 0 5.2 0a2.6 2.6 0 1 0 -5.2 0zM915.3 1920.6a2.6 2.6 0 1 0 5.2 0a2.6 2.6 0 1 0 -5.2 0zM919.9 1987.6a2.6 2.6 0 1 0 5.2 0a2.6 2.6 0 1 0 -5.2 0zM857.3 1939.8a2.6 2.6 0 1 0 5.2 0a2.6 2.6 0 1 0 -5.2 0zM909.8 1962.4a2.6 2.6 0 1 0 5.2 0a2.6 2.6 0 1 0 -5.2 0zM912.2 1980.9a2.6 2.6 0 1 0 5.2 0a2.6 2.6 0 1 0 -5.2 0zM943.8 1868.4a2.6 2.6 0 1 0 5.2 0a2.6 2.6 0 1 0 -5.2 0zM992.6 1892.2a2.6 2.6 0 1 0 5.2 0a2.6 2.6 0 1 0 -5.2 0zM922.3 1903.6a2.6 2.6 0 1 0 5.2 0a2.6 2.6 0 1 0 -5.2 0z" fill="#440f68"/>
<path d="M898.7 2053l5.75 10h-11.5zM887.8 2053l5.75 10h-11.5zM862.9 2053l5.75 10h-11.5zM879.8 2053l5.75 10h-11.5zM866.4 2053l5.75 10h-11.5zM855.6 2053l5.75 10h-11.5zM904.1 2053l5.75 10h-11.5zM911.3 2053l5.75 10h-11.5zM897.3 2053l5.75 10h-11.5zM903.6 2053l5.75 10h-11.5zM882.2 2053l5.75 10h-11.5zM895.6 2053l5.75 10h-11.5zM893 2053l5.75 10h-11.5zM886.2 2021.1l5.75 10h-11.5zM919.5 2024l5.75 10h-11.5zM900.5 1977.8l5.75 10h-11.5zM1040 1970.2l5.75 10h-11.5zM911.9 2004.4l5.75 10h-11.5zM924.1 1975l5.75 10h-11.5zM909.9 1940.4l5.75 10h-11.5zM879.8 2043.1l5.75 10h-11.5zM891.3 2031.1l5.75 10h-11.5zM848.4 1999.1l5.75 10h-11.5zM889.6 1986.1l5.75 10h-11.5zM932.6 2046.4l5.75 10h-11.5zM883.2 2048.2l5.75 10h-11.5zM923.4 1947.5l5.75 10h-11.5zM959.7 2035.9l5.75 10h-11.5zM910.7 2027.7l5.75 10h-11.5zM1007 2025.7l5.75 10h-11.5zM910.1 2047.8l5.75 10h-11.5zM911.2 2026.4l5.75 10h-11.5zM920.2 2011.2l5.75 10h-11.5zM900.1 1998.3l5.75 10h-11.5zM865.7 1984.7l5.75 10h-11.5zM860.1 2022.2l5.75 10h-11.5zM881.7 2047.2l5.75 10h-11.5zM910.4 2030.1l5.75 10h-11.5zM886.4 2002.3l5.75 10h-11.5zM907.3 2045l5.75 10h-11.5zM870.3 2012.9l5.75 10h-11.5zM881.7 1985.5l5.75 10h-11.5zM889.3 2026.7l5.75 10h-11.5zM905.7 2034.7l5.75 10h-11.5zM872.7 2025l5.75 10h-11.5zM870.2 2004.7l5.75 10h-11.5zM899.6 1998.9l5.75 10h-11.5zM899.5 1989.8l5.75 10h-11.5zM892.2 2008.2l5.75 10h-11.5zM922.7 1979.1l5.75 10h-11.5zM872.8 2051.4l5.75 10h-11.5zM898.9 2041.3l5.75 10h-11.5zM867.9 2023.2l5.75 10h-11.5zM913.7 2016.8l5.75 10h-11.5zM868.5 2013.3l5.75 10h-11.5zM923.7 1973.4l5.75 10h-11.5zM882.1 2028l5.75 10h-11.5zM902.7 2037.8l5.75 10h-11.5zM910 2003.3l5.75 10h-11.5zM982.1 2031.5l5.75 10h-11.5zM889.1 2044l5.75 10h-11.5zM858.4 2008.9l5.75 10h-11.5zM912.3 2045.7l5.75 10h-11.5zM859.9 1996.9l5.75 10h-11.5zM945.9 2019.9l5.75 10h-11.5zM885.5 1986.9l5.75 10h-11.5zM901.1 2032.3l5.75 10h-11.5zM854.1 2037.4l5.75 10h-11.5zM853.2 2015.1l5.75 10h-11.5zM890.5 2011.9l5.75 10h-11.5zM936.5 1962.7l5.75 10h-11.5zM898.4 1996.4l5.75 10h-11.5zM879.7 2035l5.75 10h-11.5zM903.2 2004.9l5.75 10h-11.5zM892.5 1943l5.75 10h-11.5zM867.5 2018.4l5.75 10h-11.5zM866 2012.4l5.75 10h-11.5zM903.8 1969.2l5.75 10h-11.5zM890.7 1955.7l5.75 10h-11.5zM852.1 2033.7l5.75 10h-11.5zM933.7 2036.7l5.75 10h-11.5zM881.6 2009.3l5.75 10h-11.5zM866.3 2018.7l5.75 10h-11.5zM965.6 2026.2l5.75 10h-11.5z" fill="#2aae80"/>
<path d="M892.2 2059.7a2.6 2.6 0 1 0 5.2 0a2.6 2.6 0 1 0 -5.2 0zM964.8 2059.7a2.6 2.6 0 1 0 5.2 0a2.6 2.6 0 1 0 -5.2 0zM946.3 2059.7a2.6 2.6 0 1 0 5.2 0a2.6 2.6 0 1 0 -5.2 0zM948.3 2059.7a2.6 2.6 0 1 0 5.2 0a2.6 2.6 0 1 0 -5.2 0zM1020.6 1934.4a2.6 2.6 0 1 0 5.2 0a2.6 2.6 0 1 0 -5.2 0zM970.5 1957.9a2.6 2.6 0 1 0 5.2 0a2.6 2.6 0 1 0 -5.2 0zM855.3 2002.3a2.6 2.6 0 1 0 5.2 0a2.6 2.6 0 1 0 -5.2 0zM1008.6 1942.4a2.6 2.6 0 1 0 5.2 0a2.6 2.6 0 1 0 -5.2 0zM931.4 1994.9a2.6 2.6 0 1 0 5.2 0a2.6 2.6 0 1 0 -5.2 0zM921.8 1967.9a2.6 2.6 0 1 0 5.2 0a2.6 2.6 0 1 0 -5.2 0zM1045.8 1951.4a2.6 2.6 0 1 0 5.2 0a2.6 2.6 0 1 0 -5.2 0zM988.4 1966.5a2.6 2.6 0 1 0 5.2 0a2.6 2.6 0 1 0 -5.2 0zM988.7 2026.7a2.6 2.6 0 1 0 5.2 0a2.6 2.6 0 1 0 -5.2 0zM888.3 2021.4a2.6 2.6 0 1 0 5.2 0a2.6 2.6 0 1 0 -5.2 0zM876.9 2055.7a2.6 2.6 0 1 0 5.2 0a2.6 2.6 0 1 0 -5.2 0zM946.4 1953.3a2.6 2.6 0 1 0 5.2 0a2.6 2.6 0 1 0 -5.2 0zM880.7 2036.1a2.6 2.6 0 1 0 5.2 0a2.6 2.6 0 1 0 -5.2 0zM959.9 2013.5a2.6 2.6 0 1 0 5.2 0a2.6 2.6 0 1 0 -5.2 0zM985.8 1969a2.6 2.6 0 1 0 5.2 0a2.6 2.6 0 1 0 -5.2 0zM1003.7 1960.4a2.6 2.6 0 1 0 5.2 0a2.6 2.6 0 1 0 -5.2 0zM910.3 1936.3a2.6 2.6 0 1 0 5.2 0a2.6 2.6 0 1 0 -5.2 0zM900.4 2024.3a2.6 2.6 0 1 0 5.2 0a2.6 2.6 0 1 0 -5.2 0zM869.8 2052.2a2.6 2.6 0 1 0 5.2 0a2.6 2.6 0 1 0 -5.2 0zM954.7 1933.6a2.6 2.6 0 1 0 5.2 0a2.6 2.6 0 1 0 -5.2 0zM968.3 2008.5a2.6 2.6 0 1 0 5.2 0a2.6 2.6 0 1 0 -5.2 0zM1005.6 1937.5a2.6 2.6 0 1 0 5.2 0a2.6 2.6 0 1 0 -5.2 0zM973.4 1945.2a2.6 2.6 0 1 0 5.2 0a2.6 2.6 0 1 0 -5.2 0zM908.4 1958.7a2.6 2.6 0 1 0 5.2 0a2.6 2.6 0 1 0 -5.2 0zM1040.7 1955.5a2.6 2.6 0 1 0 5.2 0a2.6 2.6 0 1 0 -5.2 0zM902.9 1940.8a2.6 2.6 0 1 0 5.2 0a2.6 2.6 0 1 0 -5.2 0zM890.1 2045.7a2.6 2.6 0 1 0 5.2 0a2.6 2.6 0 1 0 -5.2 0zM1070.4 1949.1a2.6 2.6 0 1 0 5.2 0a2.6 2.6 0 1 0 -5.2 0zM1003.2 2019.5a2.6 2.6 0 1 0 5.2 0a2.6 2.6 0 1 0 -5.2 0zM995.5 1924.8a2.6 2.6 0 1 0 5.2 0a2.6 2.6 0 1 0 -5.2 0zM977.3 1923.7a2.6 2.6 0 1 0 5.2 0a2.6 2.6 0 1 0 -5.2 0zM1060.4 1852.7a2.6 2.6 0 1 0 5.2 0a2.6 2.6 0 1 0 -5.2 0zM925.4 1872.3a2.6 2.6 0 1 0 5.2 0a2.6 2.6 0 1 0 -5.2 0zM967.2 1894.5a2.6 2.6 0 1 0 5.2 0a2.6 2.6 0 1 0 -5.2 0zM947.9 1903.6a2.6 2.6 0 1 0 5.2 0a2.6 2.6 0 1 0 -5.2 0z" fill="#440f68"/>
<path d="M924.9 2053l5.75 10h-11.5zM918.9 2053l5.75 10h-11.5zM901.6 2053l5.75 10h-11.5zM877.3 2053l5.75 10h-11.5zM878.5 2053l5.75 10h-11.5zM918.4 2053l5.75 10h-11.5zM864.8 2053l5.75 10h-11.5zM899 2053l5.75 10h-11.5zM850.4 2053l5.75 10h-11.5zM886.3 2053l5.75 10h-11.5zM884.8 2053l5.75 10h-11.5zM872.7 2053l5.75 10h-11.5zM925.8 2053l5.75 10h-11.5zM874.1 2016.5l5.75 10h-11.5zM903.6 2048.9l5.75 10h-11.5zM931.8 1951.9l5.75 10h-11.5zM908.9 2001.1l5.75 10h-11.5zM902.4 2040.5l5.75 10h-11.5zM891.2 2000.3l5.75 10h-11.5zM864.5 2011.5l5.75 10h-11.5zM957.1 2007.4l5.75 10h-11.5zM1037.1 1978.3l5.75 10h-11.5zM889.6 2007.6l5.75 10h-11.5zM887.4 2041.8l5.75 10h-11.5zM868.6 2018.1l5.75 10h-11.5zM949.8 1959.3l5.75 10h-11.5zM919.4 1937.7l5.75 10h-11.5zM857.9 2052.7l5.75 10h-11.5zM927.1 1968.7l5.75 10h-11.5zM971.9 2032.9l5.75 10h-11.5zM883.3 2017.8l5.75 10h-11.5zM876 2002.9l5.75 10h-11.5zM877.2 1954.2l5.75 10h-11.5zM905.6 2033.1l5.75 10h-11.5zM876.8 2001.3l5.75 10h-11.5zM939.4 1983.3l5.75 10h-11.5zM887.5 1977.3l5.75 10h-11.5zM897.9 1992.3l5.75 10h-11.5zM900.9 2013.6l5.75 10h-11.5zM921.4 2002.6l5.75 10h-11.5zM876.9 2052l5.75 10h-11.5zM902.7 1979.8l5.75 10h-11.5zM896.3 2035.5l5.75 10h-11.5zM936.5 1975.6l5.75 10h-11.5zM888.4 2003.9l5.75 10h-11.5zM894.5 2017.2l5.75 10h-11.5zM983.5 2011l5.75 10h-11.5zM909.1 2014.9l5.75 10h-11.5zM916.9 2039l5.75 10h-11.5zM893.9 2021.3l5.75 10h-11.5zM904.6 2029.5l5.75 10h-11.5zM946.3 2013.9l5.75 10h-11.5zM905.4 1982.1l5.75 10h-11.5zM896.4 2034.3l5.75 10h-11.5zM900.5 1973.9l5.75 10h-11.5zM877.4 2042.5l5.75 10h-11.5zM931.1 2038.1l5.75 10h-11.5zM900.9 1997.8l5.75 10h-11.5zM863.9 2037.2l5.75 10h-11.5zM885.6 2001.7l5.75 10h-11.5zM881.3 2006l5.75 10h-11.5zM924.7 1949.2l5.75 10h-11.5zM903.2 2031.7l5.75 10h-11.5zM864.8 2025.4l5.75 10h-11.5zM878.3 2044.4l5.75 10h-11.5zM927.3 1998.1l5.75 10h-11.5zM879.3 2019.5l5.75 10h-11.5zM916.3 1964.8l5.75 10h-11.5zM878.3 2028.5l5.75 10h-11.5zM928.2 2040.3l5.75 10h-11.5zM1022.2 2000l5.75 10h-11.5zM858.8 2010.1l5.75 10h-11.5zM909.4 2020.4l5.75 10h-11.5zM844.7 2022.4l5.75 10h-11.5zM902.8 1987.6l5.75 10h-11.5zM858.1 1991.2l5.75 10h-11.5zM887.9 1984.3l5.75 10h-11.5zM873.9 1993.1l5.75 10h-11.5zM979.5 1999.4l5.75 10h-11.5zM878 2024.7l5.75 10h-11.5zM852.9 1972.8l5.75 10h-11.5zM882.4 1957.4l5.75 10h-11.5zM887 1990.5l5.75 10h-11.5z" fill="#2aae80"/>
<path d="M865.2 2059.7a2.6 2.6 0 1 0 5.2 0a2.6 2.6 0 1 0 -5.2 0zM841 2059.7a2.6 2.6 0 1 0 5.2 0a2.6 2.6 0 1 0 -5.2 0zM875 2059.7a2.6 2.6 0 1 0 5.2 0a2.6 2.6 0 1 0 -5.2 0zM907.4 2059.7a2.6 2.6 0 1 0 5.2 0a2.6 2.6 0 1 0 -5.2 0zM1028.6 1950.1a2.6 2.6 0 1 0 5.2 0a2.6 2.6 0 1 0 -5.2 0zM982.6 1913.9a2.6 2.6 0 1 0 5.2 0a2.6 2.6 0 1 0 -5.2 0zM947.6 1961.3a2.6 2.6 0 1 0 5.2 0a2.6 2.6 0 1 0 -5.2 0zM941.2 1926.8a2.6 2.6 0 1 0 5.2 0a2.6 2.6 0 1 0 -5.2 0zM952.5 2033.9a2.6 2.6 0 1 0 5.2 0a2.6 2.6 0 1 0 -5.2 0zM880.8 1978.5a2.6 2.6 0 1 0 5.2 0a2.6 2.6 0 1 0 -5.2 0zM943.6 2015.9a2.6 2.6 0 1 0 5.2 0a2.6 2.6 0 1 0 -5.2 0zM872.9 2018a2.6 2.6 0 1 0 5.2 0a2.6 2.6 0 1 0 -5.2 0zM990.5 1982.8a2.6 2.6 0 1 0 5.2 0a2.6 2.6 0 1 0 -5.2 0zM881.1 2042.1a2.6 2.6 0 1 0 5.2 0a2.6 2.6 0 1 0 -5.2 0zM941.6 1996.3a2.6 2.6 0 1 0 5.2 0a2.6 2.6 0 1 0 -5.2 0zM866.1 2049.8a2.6 2.6 0 1 0 5.2 0a2.6 2.6 0 1 0 -5.2 0zM883.8 2058.4a2.6 2.6 0 1 0 5.2 0a2.6 2.6 0 1 0 -5.2 0zM844.7 1983.7a2.6 2.6 0 1 0 5.2 0a2.6 2.6 0 1 0 -5.2 0zM907 1973.7a2.6 2.6 0 1 0 5.2 0a2.6 2.6 0 1 0 -5.2 0zM976.6 2010.2a2.6 2.6 0 1 0 5.2 0a2.6 2.6 0 1 0 -5.2 0zM894.7 1999.4a2.6 2.6 0 1 0 5.2 0a2.6 2.6 0 1 0 -5.2 0zM1006.1 1947.9a2.6 2.6 0 1 0 5.2 0a2.6 2.6 0 1 0 -5.2 0zM922.2 1986.4a2.6 2.6 0 1 0 5.2 0a2.6 2.6 0 1 0 -5.2 0zM904.1 1944.7a2.6 2.6 0 1 0 5.2 0a2.6 2.6 0 1 0 -5.2 0zM944.4 1954.4a2.6 2.6 0 1 0 5.2 0a2.6 2.6 0 1 0 -5.2 0zM948.8 1975.1a2.6 2.6 0 1 0 5.2 0a2.6 2.6 0 1 0 -5.2 0zM1019.9 2039.9a2.6 2.6 0 1 0 5.2 0a2.6 2.6 0 1 0 -5.2 0zM909.2 1964.5a2.6 2.6 0 1 0 5.2 0a2.6 2.6 0 1 0 -5.2 0zM958 1932.5a2.6 2.6 0 1 0 5.2 0a2.6 2.6 0 1 0 -5.2 0zM979.9 1963.8a2.6 2.6 0 1 0 5.2 0a2.6 2.6 0 1 0 -5.2 0zM974.7 1927.7a2.6 2.6 0 1 0 5.2 0a2.6 2.6 0 1 0 -5.2 0zM885.8 1997.7a2.6 2.6 0 1 0 5.2 0a2.6 2.6 0 1 0 -5.2 0zM1024 1916a2.6 2.6 0 1 0 5.2 0a2.6 2.6 0 1 0 -5.2 0zM982.6 2004.6a2.6 2.6 0 1 0 5.2 0a2.6 2.6 0 1 0 -5.2 0zM881.9 2038.1a2.6 2.6 0 1 0 5.2 0a2.6 2.6 0 1 0 -5.2 0zM1026.6 1866.1a2.6 2.6 0 1 0 5.2 0a2.6 2.6 0 1 0 -5.2 0zM1016.4 1888a2.6 2.6 0 1 0 5.2 0a2.6 2.6 0 1 0 -5.2 0zM993.2 1896.4a2.6 2.6 0 1 0 5.2 0a2.6 2.6 0 1 0 -5.2 0zM948.3 1904.9a2.6 2.6 0 1 0 5.2 0a2.6 2.6 0 1 0 -5.2 0z" fill="#440f68"/>
<path d="M847.3 2038.5 L858 2033.5 L868.7 2028.4 L879.4 2023.2 L890.2 2017.8 L900.9 2012.3 L911.6 2006.5 L922.3 2000.4 L933 1994.1 L943.8 1987.7 L954.5 1981.2 L965.2 1974.7 L975.9 1968.1 L986.7 1961.5 L997.4 1954.8 L1008.1 1948.2 L1018.8 1941.5 L1029.5 1934.9 L1040.3 1928.2 L1051 1921.6 L1061.7 1914.9 L1072.4 1908.2 L1083.1 1901.5 L1093.9 1894.9 L1104.6 1888.2 L1115.3 1881.5 L1115.3 1917.5 L1104.6 1922.4 L1093.9 1927.3 L1083.1 1932.2 L1072.4 1937.1 L1061.7 1942 L1051 1946.9 L1040.3 1951.8 L1029.5 1956.7 L1018.8 1961.7 L1008.1 1966.6 L997.4 1971.5 L986.7 1976.5 L975.9 1981.5 L965.2 1986.5 L954.5 1991.5 L943.8 1996.6 L933 2001.7 L922.3 2007.1 L911.6 2012.6 L900.9 2018.3 L890.2 2024.3 L879.4 2030.6 L868.7 2036.9 L858 2043.4 L847.3 2050 Z" fill="#999" fill-opacity="0.4"/>
<path d="M804.4 2067.4 L1115.3 1899.5" stroke="#000" stroke-width="4.2"/>
<text x="1076.3" y="2015" font-size="23" style="fill:#000;stroke:#000">r = 0.52</text>
<text x="1076.3" y="2041.2" font-size="23" style="fill:#45105f;stroke:#45105f">r = 0.50</text>
<text x="1076.3" y="2067.4" font-size="23" style="fill:#24a884;stroke:#24a884">r = 0.28</text>
<path d="M1448.7 2053l5.75 10h-11.5zM1439.3 2053l5.75 10h-11.5zM1446.2 2053l5.75 10h-11.5zM1426.8 2053l5.75 10h-11.5zM1414.5 2053l5.75 10h-11.5zM1451.3 2053l5.75 10h-11.5zM1459.5 2053l5.75 10h-11.5zM1400.1 2053l5.75 10h-11.5zM1416.8 2053l5.75 10h-11.5zM1422.7 2053l5.75 10h-11.5zM1483.3 2053l5.75 10h-11.5zM1421.4 2053l5.75 10h-11.5zM1423 2053l5.75 10h-11.5zM1461.1 2053l5.75 10h-11.5zM1406.4 1995.6l5.75 10h-11.5zM1472.8 2029l5.75 10h-11.5zM1469.5 2012.2l5.75 10h-11.5zM1442.4 1980.5l5.75 10h-11.5zM1429.1 1987.8l5.75 10h-11.5zM1441.2 2030.5l5.75 10h-11.5zM1441.5 2027.1l5.75 10h-11.5zM1418.1 1994l5.75 10h-11.5zM1445 2027.5l5.75 10h-11.5zM1429.9 1999.8l5.75 10h-11.5zM1452.5 2028.7l5.75 10h-11.5zM1416.7 1976.2l5.75 10h-11.5zM1439.4 1970.8l5.75 10h-11.5zM1491.7 2005.6l5.75 10h-11.5zM1413.1 1989.5l5.75 10h-11.5zM1449 2000.7l5.75 10h-11.5zM1453.5 1972.2l5.75 10h-11.5zM1458.1 2033.5l5.75 10h-11.5zM1444.5 1971.3l5.75 10h-11.5zM1462 1966.1l5.75 10h-11.5zM1442.1 1981l5.75 10h-11.5zM1480.3 1997.4l5.75 10h-11.5zM1436.7 2007.9l5.75 10h-11.5zM1443.2 2005.3l5.75 10h-11.5zM1460.1 2016.1l5.75 10h-11.5zM1456 2020.8l5.75 10h-11.5zM1430.7 2050l5.75 10h-11.5zM1431.8 2015.9l5.75 10h-11.5zM1462.2 2008.5l5.75 10h-11.5zM1440.1 2036l5.75 10h-11.5zM1452.7 2015.4l5.75 10h-11.5zM1458.5 2032l5.75 10h-11.5zM1442.1 2006.6l5.75 10h-11.5zM1445.4 2009.5l5.75 10h-11.5zM1436.9 2050.9l5.75 10h-11.5zM1447.2 1950.1l5.75 10h-11.5zM1426 1992.1l5.75 10h-11.5zM1466.8 2039.7l5.75 10h-11.5zM1454.3 2022.9l5.75 10h-11.5zM1459.4 1974.6l5.75 10h-11.5zM1436.6 1988.9l5.75 10h-11.5zM1470.3 2024.5l5.75 10h-11.5zM1462.3 2014.1l5.75 10h-11.5zM1458.1 2017.4l5.75 10h-11.5zM1453.2 2038.5l5.75 10h-11.5zM1466.5 1945.8l5.75 10h-11.5zM1417.4 1983l5.75 10h-11.5zM1448.7 1994.5l5.75 10h-11.5zM1437.7 1981.8l5.75 10h-11.5zM1462.9 1968.2l5.75 10h-11.5zM1452.1 2034l5.75 10h-11.5zM1423.8 2009.9l5.75 10h-11.5zM1447 2029.7l5.75 10h-11.5zM1418.8 2003.6l5.75 10h-11.5zM1460 2006.4l5.75 10h-11.5zM1456.1 2006.9l5.75 10h-11.5zM1481.2 1961.3l5.75 10h-11.5zM1437.3 2023.3l5.75 10h-11.5zM1464.4 2030.8l5.75 10h-11.5zM1425.4 1941.3l5.75 10h-11.5zM1404.4 1994.9l5.75 10h-11.5zM1446.5 2010.6l5.75 10h-11.5zM1469.6 2014.6l5.75 10h-11.5zM1417.2 2023.7l5.75 10h-11.5zM1439.8 2020.1l5.75 10h-11.5zM1430.6 2036.5l5.75 10h-11.5zM1403.8 2049.6l5.75 10h-11.5zM1471.4 2019.2l5.75 10h-11.5zM1446.3 2021.7l5.75 10h-11.5zM1445.7 2002l5.75 10h-11.5z" fill="#2aae80"/>
<path d="M1479.4 2059.7a2.6 2.6 0 1 0 5.2 0a2.6 2.6 0 1 0 -5.2 0zM1491.8 2059.7a2.6 2.6 0 1 0 5.2 0a2.6 2.6 0 1 0 -5.2 0zM1421.5 2059.7a2.6 2.6 0 1 0 5.2 0a2.6 2.6 0 1 0 -5.2 0zM1455.5 2059.7a2.6 2.6 0 1 0 5.2 0a2.6 2.6 0 1 0 -5.2 0zM1418.5 2046.6a2.6 2.6 0 1 0 5.2 0a2.6 2.6 0 1 0 -5.2 0zM1461.5 1956.4a2.6 2.6 0 1 0 5.2 0a2.6 2.6 0 1 0 -5.2 0zM1462.4 1993a2.6 2.6 0 1 0 5.2 0a2.6 2.6 0 1 0 -5.2 0zM1451.8 1965.8a2.6 2.6 0 1 0 5.2 0a2.6 2.6 0 1 0 -5.2 0zM1469.2 1939.1a2.6 2.6 0 1 0 5.2 0a2.6 2.6 0 1 0 -5.2 0zM1437.8 1943.2a2.6 2.6 0 1 0 5.2 0a2.6 2.6 0 1 0 -5.2 0zM1469.5 1990.7a2.6 2.6 0 1 0 5.2 0a2.6 2.6 0 1 0 -5.2 0zM1423.3 2053.6a2.6 2.6 0 1 0 5.2 0a2.6 2.6 0 1 0 -5.2 0zM1468.3 1910.9a2.6 2.6 0 1 0 5.2 0a2.6 2.6 0 1 0 -5.2 0zM1472.2 1925.7a2.6 2.6 0 1 0 5.2 0a2.6 2.6 0 1 0 -5.2 0zM1483.6 1929.3a2.6 2.6 0 1 0 5.2 0a2.6 2.6 0 1 0 -5.2 0zM1438.7 1989.5a2.6 2.6 0 1 0 5.2 0a2.6 2.6 0 1 0 -5.2 0zM1442.5 2031.6a2.6 2.6 0 1 0 5.2 0a2.6 2.6 0 1 0 -5.2 0zM1468.7 2006.2a2.6 2.6 0 1 0 5.2 0a2.6 2.6 0 1 0 -5.2 0zM1422 1952.1a2.6 2.6 0 1 0 5.2 0a2.6 2.6 0 1 0 -5.2 0zM1422.9 2001a2.6 2.6 0 1 0 5.2 0a2.6 2.6 0 1 0 -5.2 0zM1473.6 1930.9a2.6 2.6 0 1 0 5.2 0a2.6 2.6 0 1 0 -5.2 0zM1478.7 1970.9a2.6 2.6 0 1 0 5.2 0a2.6 2.6 0 1 0 -5.2 0zM1442.9 1930.1a2.6 2.6 0 1 0 5.2 0a2.6 2.6 0 1 0 -5.2 0zM1467.4 1977.2a2.6 2.6 0 1 0 5.2 0a2.6 2.6 0 1 0 -5.2 0zM1412.4 1922.7a2.6 2.6 0 1 0 5.2 0a2.6 2.6 0 1 0 -5.2 0zM1478.9 2015.1a2.6 2.6 0 1 0 5.2 0a2.6 2.6 0 1 0 -5.2 0zM1486.9 1971.9a2.6 2.6 0 1 0 5.2 0a2.6 2.6 0 1 0 -5.2 0zM1503.2 1935.2a2.6 2.6 0 1 0 5.2 0a2.6 2.6 0 1 0 -5.2 0zM1494.9 1947a2.6 2.6 0 1 0 5.2 0a2.6 2.6 0 1 0 -5.2 0zM1462.3 2011.2a2.6 2.6 0 1 0 5.2 0a2.6 2.6 0 1 0 -5.2 0zM1469.8 2029.1a2.6 2.6 0 1 0 5.2 0a2.6 2.6 0 1 0 -5.2 0zM1488.6 1920.6a2.6 2.6 0 1 0 5.2 0a2.6 2.6 0 1 0 -5.2 0zM1493.8 1987.6a2.6 2.6 0 1 0 5.2 0a2.6 2.6 0 1 0 -5.2 0zM1506.7 1939.8a2.6 2.6 0 1 0 5.2 0a2.6 2.6 0 1 0 -5.2 0zM1439.5 1962.4a2.6 2.6 0 1 0 5.2 0a2.6 2.6 0 1 0 -5.2 0zM1433.7 1980.9a2.6 2.6 0 1 0 5.2 0a2.6 2.6 0 1 0 -5.2 0zM1504 1868.4a2.6 2.6 0 1 0 5.2 0a2.6 2.6 0 1 0 -5.2 0zM1466.1 1892.2a2.6 2.6 0 1 0 5.2 0a2.6 2.6 0 1 0 -5.2 0zM1476.6 1903.6a2.6 2.6 0 1 0 5.2 0a2.6 2.6 0 1 0 -5.2 0z" fill="#440f68"/>
<path d="M1472.2 2053l5.75 10h-11.5zM1408.8 2053l5.75 10h-11.5zM1410.9 2053l5.75 10h-11.5zM1462.5 2053l5.75 10h-11.5zM1455.6 2053l5.75 10h-11.5zM1433 2053l5.75 10h-11.5zM1441.3 2053l5.75 10h-11.5zM1459.5 2053l5.75 10h-11.5zM1425.3 2053l5.75 10h-11.5zM1448.1 2053l5.75 10h-11.5zM1448 2053l5.75 10h-11.5zM1450.5 2053l5.75 10h-11.5zM1421.9 2053l5.75 10h-11.5zM1489.5 2021.1l5.75 10h-11.5zM1478.5 2024l5.75 10h-11.5zM1430.3 1977.8l5.75 10h-11.5zM1428.6 1970.2l5.75 10h-11.5zM1458.7 2004.4l5.75 10h-11.5zM1459.5 1975l5.75 10h-11.5zM1445.8 1940.4l5.75 10h-11.5zM1451.9 2043.1l5.75 10h-11.5zM1423.6 2031.1l5.75 10h-11.5zM1446.3 1999.1l5.75 10h-11.5zM1444.1 1986.1l5.75 10h-11.5zM1437.7 2046.4l5.75 10h-11.5zM1434.1 2048.2l5.75 10h-11.5zM1433.5 1947.5l5.75 10h-11.5zM1435.1 2035.9l5.75 10h-11.5zM1407.3 2027.7l5.75 10h-11.5zM1432.2 2025.7l5.75 10h-11.5zM1429.4 2047.8l5.75 10h-11.5zM1416.8 2026.4l5.75 10h-11.5zM1411.1 2011.2l5.75 10h-11.5zM1476.9 1998.3l5.75 10h-11.5zM1463.9 1984.7l5.75 10h-11.5zM1423.8 2022.2l5.75 10h-11.5zM1413.9 2047.2l5.75 10h-11.5zM1424.1 2030.1l5.75 10h-11.5zM1458.5 2002.3l5.75 10h-11.5zM1466.3 2045l5.75 10h-11.5zM1445.2 2012.9l5.75 10h-11.5zM1447.6 1985.5l5.75 10h-11.5zM1426.8 2026.7l5.75 10h-11.5zM1418.7 2034.7l5.75 10h-11.5zM1445.7 2025l5.75 10h-11.5zM1425.2 2004.7l5.75 10h-11.5zM1460.2 1998.9l5.75 10h-11.5zM1427.2 1989.8l5.75 10h-11.5zM1454.1 2008.2l5.75 10h-11.5zM1425.1 1979.1l5.75 10h-11.5zM1425.5 2051.4l5.75 10h-11.5zM1443.5 2041.3l5.75 10h-11.5zM1428.3 2023.2l5.75 10h-11.5zM1464.6 2016.8l5.75 10h-11.5zM1434.6 2013.3l5.75 10h-11.5zM1444.4 1973.4l5.75 10h-11.5zM1462.6 2028l5.75 10h-11.5zM1436.9 2037.8l5.75 10h-11.5zM1438.2 2003.3l5.75 10h-11.5zM1411.3 2031.5l5.75 10h-11.5zM1430.7 2044l5.75 10h-11.5zM1428.9 2008.9l5.75 10h-11.5zM1456.2 2045.7l5.75 10h-11.5zM1437.8 1996.9l5.75 10h-11.5zM1457.8 2019.9l5.75 10h-11.5zM1432.9 1986.9l5.75 10h-11.5zM1441.4 2032.3l5.75 10h-11.5zM1449.5 2037.4l5.75 10h-11.5zM1427.9 2015.1l5.75 10h-11.5zM1453 2011.9l5.75 10h-11.5zM1441.8 1962.7l5.75 10h-11.5zM1461.3 1996.4l5.75 10h-11.5zM1448.5 2035l5.75 10h-11.5zM1436.6 2004.9l5.75 10h-11.5zM1415 1943l5.75 10h-11.5zM1438.5 2018.4l5.75 10h-11.5zM1451.4 2012.4l5.75 10h-11.5zM1445.4 1969.2l5.75 10h-11.5zM1429.8 1955.7l5.75 10h-11.5zM1442.7 2033.7l5.75 10h-11.5zM1434 2036.7l5.75 10h-11.5zM1450.9 2009.3l5.75 10h-11.5zM1457.1 2018.7l5.75 10h-11.5zM1460.6 2026.2l5.75 10h-11.5z" fill="#2aae80"/>
<path d="M1439 2059.7a2.6 2.6 0 1 0 5.2 0a2.6 2.6 0 1 0 -5.2 0zM1455.1 2059.7a2.6 2.6 0 1 0 5.2 0a2.6 2.6 0 1 0 -5.2 0zM1436.2 2059.7a2.6 2.6 0 1 0 5.2 0a2.6 2.6 0 1 0 -5.2 0zM1405.7 2059.7a2.6 2.6 0 1 0 5.2 0a2.6 2.6 0 1 0 -5.2 0zM1470.2 1934.4a2.6 2.6 0 1 0 5.2 0a2.6 2.6 0 1 0 -5.2 0zM1479.1 1957.9a2.6 2.6 0 1 0 5.2 0a2.6 2.6 0 1 0 -5.2 0zM1495.2 2002.3a2.6 2.6 0 1 0 5.2 0a2.6 2.6 0 1 0 -5.2 0zM1461 1942.4a2.6 2.6 0 1 0 5.2 0a2.6 2.6 0 1 0 -5.2 0zM1443 1994.9a2.6 2.6 0 1 0 5.2 0a2.6 2.6 0 1 0 -5.2 0zM1470.6 1967.9a2.6 2.6 0 1 0 5.2 0a2.6 2.6 0 1 0 -5.2 0zM1523.3 1951.4a2.6 2.6 0 1 0 5.2 0a2.6 2.6 0 1 0 -5.2 0zM1422.7 1966.5a2.6 2.6 0 1 0 5.2 0a2.6 2.6 0 1 0 -5.2 0zM1420.7 2026.7a2.6 2.6 0 1 0 5.2 0a2.6 2.6 0 1 0 -5.2 0zM1427 2021.4a2.6 2.6 0 1 0 5.2 0a2.6 2.6 0 1 0 -5.2 0zM1431.2 2055.7a2.6 2.6 0 1 0 5.2 0a2.6 2.6 0 1 0 -5.2 0zM1439.2 1953.3a2.6 2.6 0 1 0 5.2 0a2.6 2.6 0 1 0 -5.2 0zM1434.4 2036.1a2.6 2.6 0 1 0 5.2 0a2.6 2.6 0 1 0 -5.2 0zM1440.1 2013.5a2.6 2.6 0 1 0 5.2 0a2.6 2.6 0 1 0 -5.2 0zM1429.4 1969a2.6 2.6 0 1 0 5.2 0a2.6 2.6 0 1 0 -5.2 0zM1453.5 1960.4a2.6 2.6 0 1 0 5.2 0a2.6 2.6 0 1 0 -5.2 0zM1497 1936.3a2.6 2.6 0 1 0 5.2 0a2.6 2.6 0 1 0 -5.2 0zM1443.1 2024.3a2.6 2.6 0 1 0 5.2 0a2.6 2.6 0 1 0 -5.2 0zM1452 2052.2a2.6 2.6 0 1 0 5.2 0a2.6 2.6 0 1 0 -5.2 0zM1477.4 1933.6a2.6 2.6 0 1 0 5.2 0a2.6 2.6 0 1 0 -5.2 0zM1435.5 2008.5a2.6 2.6 0 1 0 5.2 0a2.6 2.6 0 1 0 -5.2 0zM1472.9 1937.5a2.6 2.6 0 1 0 5.2 0a2.6 2.6 0 1 0 -5.2 0zM1478.6 1945.2a2.6 2.6 0 1 0 5.2 0a2.6 2.6 0 1 0 -5.2 0zM1476.1 1958.7a2.6 2.6 0 1 0 5.2 0a2.6 2.6 0 1 0 -5.2 0zM1427.2 1955.5a2.6 2.6 0 1 0 5.2 0a2.6 2.6 0 1 0 -5.2 0zM1459.3 1940.8a2.6 2.6 0 1 0 5.2 0a2.6 2.6 0 1 0 -5.2 0zM1441.6 2045.7a2.6 2.6 0 1 0 5.2 0a2.6 2.6 0 1 0 -5.2 0zM1477.1 1949.1a2.6 2.6 0 1 0 5.2 0a2.6 2.6 0 1 0 -5.2 0zM1448.3 2019.5a2.6 2.6 0 1 0 5.2 0a2.6 2.6 0 1 0 -5.2 0zM1468.4 1924.8a2.6 2.6 0 1 0 5.2 0a2.6 2.6 0 1 0 -5.2 0zM1477 1923.7a2.6 2.6 0 1 0 5.2 0a2.6 2.6 0 1 0 -5.2 0zM1483.3 1852.7a2.6 2.6 0 1 0 5.2 0a2.6 2.6 0 1 0 -5.2 0zM1510.5 1872.3a2.6 2.6 0 1 0 5.2 0a2.6 2.6 0 1 0 -5.2 0zM1475 1894.5a2.6 2.6 0 1 0 5.2 0a2.6 2.6 0 1 0 -5.2 0zM1430.6 1903.6a2.6 2.6 0 1 0 5.2 0a2.6 2.6 0 1 0 -5.2 0z" fill="#440f68"/>
<path d="M1413.2 2053l5.75 10h-11.5zM1404.4 2053l5.75 10h-11.5zM1443.3 2053l5.75 10h-11.5zM1463.3 2053l5.75 10h-11.5zM1442 2053l5.75 10h-11.5zM1463.7 2053l5.75 10h-11.5zM1414.2 2053l5.75 10h-11.5zM1445.5 2053l5.75 10h-11.5zM1487.9 2053l5.75 10h-11.5zM1465.2 2053l5.75 10h-11.5zM1451 2053l5.75 10h-11.5zM1441.6 2053l5.75 10h-11.5zM1464.5 2053l5.75 10h-11.5zM1436.3 2016.5l5.75 10h-11.5zM1453.5 2048.9l5.75 10h-11.5zM1435.5 1951.9l5.75 10h-11.5zM1441.5 2001.1l5.75 10h-11.5zM1461.4 2040.5l5.75 10h-11.5zM1439 2000.3l5.75 10h-11.5zM1459.8 2011.5l5.75 10h-11.5zM1429.8 2007.4l5.75 10h-11.5zM1448 1978.3l5.75 10h-11.5zM1419.8 2007.6l5.75 10h-11.5zM1456 2041.8l5.75 10h-11.5zM1431 2018.1l5.75 10h-11.5zM1463.8 1959.3l5.75 10h-11.5zM1448.1 1937.7l5.75 10h-11.5zM1426 2052.7l5.75 10h-11.5zM1450.3 1968.7l5.75 10h-11.5zM1450.1 2032.9l5.75 10h-11.5zM1447.8 2017.8l5.75 10h-11.5zM1440.5 2002.9l5.75 10h-11.5zM1486 1954.2l5.75 10h-11.5zM1417.4 2033.1l5.75 10h-11.5zM1434.5 2001.3l5.75 10h-11.5zM1442.7 1983.3l5.75 10h-11.5zM1438.9 1977.3l5.75 10h-11.5zM1434.6 1992.3l5.75 10h-11.5zM1451.4 2013.6l5.75 10h-11.5zM1440.3 2002.6l5.75 10h-11.5zM1446.1 2052l5.75 10h-11.5zM1448.9 1979.8l5.75 10h-11.5zM1465.5 2035.5l5.75 10h-11.5zM1462.8 1975.6l5.75 10h-11.5zM1423.3 2003.9l5.75 10h-11.5zM1424.5 2017.2l5.75 10h-11.5zM1444 2011l5.75 10h-11.5zM1459.7 2014.9l5.75 10h-11.5zM1493.2 2039l5.75 10h-11.5zM1418 2021.3l5.75 10h-11.5zM1448 2029.5l5.75 10h-11.5zM1437.9 2013.9l5.75 10h-11.5zM1439 1982.1l5.75 10h-11.5zM1436.7 2034.3l5.75 10h-11.5zM1448.4 1973.9l5.75 10h-11.5zM1422.7 2042.5l5.75 10h-11.5zM1463.8 2038.1l5.75 10h-11.5zM1425 1997.8l5.75 10h-11.5zM1445.4 2037.2l5.75 10h-11.5zM1413 2001.7l5.75 10h-11.5zM1441.2 2006l5.75 10h-11.5zM1463.3 1949.2l5.75 10h-11.5zM1472 2031.7l5.75 10h-11.5zM1442 2025.4l5.75 10h-11.5zM1422.6 2044.4l5.75 10h-11.5zM1462.3 1998.1l5.75 10h-11.5zM1418 2019.5l5.75 10h-11.5zM1424.2 1964.8l5.75 10h-11.5zM1446.2 2028.5l5.75 10h-11.5zM1442.7 2040.3l5.75 10h-11.5zM1450.8 2000l5.75 10h-11.5zM1464.8 2010.1l5.75 10h-11.5zM1460.1 2020.4l5.75 10h-11.5zM1455 2022.4l5.75 10h-11.5zM1455.7 1987.6l5.75 10h-11.5zM1439.6 1991.2l5.75 10h-11.5zM1436.9 1984.3l5.75 10h-11.5zM1423.1 1993.1l5.75 10h-11.5zM1465.7 1999.4l5.75 10h-11.5zM1468.2 2024.7l5.75 10h-11.5zM1415 1972.8l5.75 10h-11.5zM1441.9 1957.4l5.75 10h-11.5zM1453.8 1990.5l5.75 10h-11.5z" fill="#2aae80"/>
<path d="M1450.8 2059.7a2.6 2.6 0 1 0 5.2 0a2.6 2.6 0 1 0 -5.2 0zM1414 2059.7a2.6 2.6 0 1 0 5.2 0a2.6 2.6 0 1 0 -5.2 0zM1454.4 2059.7a2.6 2.6 0 1 0 5.2 0a2.6 2.6 0 1 0 -5.2 0zM1420 2059.7a2.6 2.6 0 1 0 5.2 0a2.6 2.6 0 1 0 -5.2 0zM1477.4 1950.1a2.6 2.6 0 1 0 5.2 0a2.6 2.6 0 1 0 -5.2 0zM1469.7 1913.9a2.6 2.6 0 1 0 5.2 0a2.6 2.6 0 1 0 -5.2 0zM1485.6 1961.3a2.6 2.6 0 1 0 5.2 0a2.6 2.6 0 1 0 -5.2 0zM1500.8 1926.8a2.6 2.6 0 1 0 5.2 0a2.6 2.6 0 1 0 -5.2 0zM1464.3 2033.9a2.6 2.6 0 1 0 5.2 0a2.6 2.6 0 1 0 -5.2 0zM1450.7 1978.5a2.6 2.6 0 1 0 5.2 0a2.6 2.6 0 1 0 -5.2 0zM1462.8 2015.9a2.6 2.6 0 1 0 5.2 0a2.6 2.6 0 1 0 -5.2 0zM1459.5 2018a2.6 2.6 0 1 0 5.2 0a2.6 2.6 0 1 0 -5.2 0zM1448.4 1982.8a2.6 2.6 0 1 0 5.2 0a2.6 2.6 0 1 0 -5.2 0zM1447.4 2042.1a2.6 2.6 0 1 0 5.2 0a2.6 2.6 0 1 0 -5.2 0zM1493 1996.3a2.6 2.6 0 1 0 5.2 0a2.6 2.6 0 1 0 -5.2 0zM1477.2 2049.8a2.6 2.6 0 1 0 5.2 0a2.6 2.6 0 1 0 -5.2 0zM1425.2 2058.4a2.6 2.6 0 1 0 5.2 0a2.6 2.6 0 1 0 -5.2 0zM1449.6 1983.7a2.6 2.6 0 1 0 5.2 0a2.6 2.6 0 1 0 -5.2 0zM1453.3 1973.7a2.6 2.6 0 1 0 5.2 0a2.6 2.6 0 1 0 -5.2 0zM1483.8 2010.2a2.6 2.6 0 1 0 5.2 0a2.6 2.6 0 1 0 -5.2 0zM1434.1 1999.4a2.6 2.6 0 1 0 5.2 0a2.6 2.6 0 1 0 -5.2 0zM1486.7 1947.9a2.6 2.6 0 1 0 5.2 0a2.6 2.6 0 1 0 -5.2 0zM1485 1986.4a2.6 2.6 0 1 0 5.2 0a2.6 2.6 0 1 0 -5.2 0zM1461.2 1944.7a2.6 2.6 0 1 0 5.2 0a2.6 2.6 0 1 0 -5.2 0zM1447.7 1954.4a2.6 2.6 0 1 0 5.2 0a2.6 2.6 0 1 0 -5.2 0zM1437.6 1975.1a2.6 2.6 0 1 0 5.2 0a2.6 2.6 0 1 0 -5.2 0zM1410.7 2039.9a2.6 2.6 0 1 0 5.2 0a2.6 2.6 0 1 0 -5.2 0zM1535.6 1964.5a2.6 2.6 0 1 0 5.2 0a2.6 2.6 0 1 0 -5.2 0zM1499.7 1932.5a2.6 2.6 0 1 0 5.2 0a2.6 2.6 0 1 0 -5.2 0zM1473.2 1963.8a2.6 2.6 0 1 0 5.2 0a2.6 2.6 0 1 0 -5.2 0zM1448.2 1927.7a2.6 2.6 0 1 0 5.2 0a2.6 2.6 0 1 0 -5.2 0zM1429.3 1997.7a2.6 2.6 0 1 0 5.2 0a2.6 2.6 0 1 0 -5.2 0zM1521.3 1916a2.6 2.6 0 1 0 5.2 0a2.6 2.6 0 1 0 -5.2 0zM1478.3 2004.6a2.6 2.6 0 1 0 5.2 0a2.6 2.6 0 1 0 -5.2 0zM1404.3 2038.1a2.6 2.6 0 1 0 5.2 0a2.6 2.6 0 1 0 -5.2 0zM1498.1 1866.1a2.6 2.6 0 1 0 5.2 0a2.6 2.6 0 1 0 -5.2 0zM1504.5 1888a2.6 2.6 0 1 0 5.2 0a2.6 2.6 0 1 0 -5.2 0zM1461 1896.4a2.6 2.6 0 1 0 5.2 0a2.6 2.6 0 1 0 -5.2 0zM1454.9 1904.9a2.6 2.6 0 1 0 5.2 0a2.6 2.6 0 1 0 -5.2 0z" fill="#440f68"/>
<path d="M1398.2 2037.4 L1406.2 2033 L1414.3 2028.5 L1422.3 2023.7 L1430.4 2018.6 L1438.4 2013 L1446.5 2007 L1454.5 2000.8 L1462.6 1994.5 L1470.6 1988.1 L1478.7 1981.7 L1486.7 1975.3 L1494.8 1968.8 L1502.8 1962.3 L1510.9 1955.9 L1518.9 1949.4 L1527 1942.9 L1535 1936.4 L1543.1 1929.9 L1551.1 1923.4 L1559.2 1916.8 L1567.2 1910.3 L1575.3 1903.8 L1583.3 1897.3 L1591.4 1890.8 L1591.4 1938.8 L1583.3 1943 L1575.3 1947.1 L1567.2 1951.3 L1559.2 1955.5 L1551.1 1959.6 L1543.1 1963.8 L1535 1968 L1527 1972.1 L1518.9 1976.3 L1510.9 1980.5 L1502.8 1984.7 L1494.8 1988.9 L1486.7 1993.1 L1478.7 1997.3 L1470.6 2001.6 L1462.6 2005.9 L1454.5 2010.3 L1446.5 2014.8 L1438.4 2019.5 L1430.4 2024.6 L1422.3 2030.1 L1414.3 2036 L1406.2 2042.2 L1398.2 2048.4 Z" fill="#999" fill-opacity="0.4"/>
<path d="M1357.9 2069.6 L1591.4 1914.8" stroke="#000" stroke-width="4.2"/>
<text x="1590.6" y="2015" font-size="23" style="fill:#000;stroke:#000">r = 0.32</text>
<text x="1590.6" y="2041.2" font-size="23" style="fill:#45105f;stroke:#45105f">n.s.</text>
<text x="1590.6" y="2067.4" font-size="23" style="fill:#24a884;stroke:#24a884">n.s.</text>
<path d="M457.3 2373.5l5.75 10h-11.5zM442.4 2373.5l5.75 10h-11.5zM404.1 2373.5l5.75 10h-11.5zM381.6 2373.5l5.75 10h-11.5zM419.6 2373.5l5.75 10h-11.5zM459.1 2373.5l5.75 10h-11.5zM347.8 2373.5l5.75 10h-11.5zM408.6 2373.5l5.75 10h-11.5zM443.5 2373.5l5.75 10h-11.5zM403.8 2373.5l5.75 10h-11.5zM420.1 2373.5l5.75 10h-11.5zM452.1 2373.5l5.75 10h-11.5zM397 2373.5l5.75 10h-11.5zM438.6 2373.5l5.75 10h-11.5zM352.2 2316.1l5.75 10h-11.5zM385.1 2349.5l5.75 10h-11.5zM388.5 2332.7l5.75 10h-11.5zM421.6 2301l5.75 10h-11.5zM449.1 2308.3l5.75 10h-11.5zM404.7 2351l5.75 10h-11.5zM355.2 2347.6l5.75 10h-11.5zM348.8 2314.5l5.75 10h-11.5zM427.5 2348l5.75 10h-11.5zM388.2 2320.3l5.75 10h-11.5zM385.4 2349.2l5.75 10h-11.5zM467.9 2296.7l5.75 10h-11.5zM418.3 2291.3l5.75 10h-11.5zM377.8 2326.1l5.75 10h-11.5zM387.8 2310l5.75 10h-11.5zM401.4 2321.2l5.75 10h-11.5zM448.1 2292.7l5.75 10h-11.5zM366.2 2354l5.75 10h-11.5zM466.8 2291.8l5.75 10h-11.5zM407.8 2286.6l5.75 10h-11.5zM395.6 2301.5l5.75 10h-11.5zM433.1 2317.9l5.75 10h-11.5zM449.4 2328.4l5.75 10h-11.5zM419.7 2325.8l5.75 10h-11.5zM406.8 2336.6l5.75 10h-11.5zM428.8 2341.3l5.75 10h-11.5zM467.7 2370.5l5.75 10h-11.5zM368.6 2336.4l5.75 10h-11.5zM430.9 2329l5.75 10h-11.5zM442.9 2356.5l5.75 10h-11.5zM410 2335.9l5.75 10h-11.5zM459.1 2352.5l5.75 10h-11.5zM382.6 2327.1l5.75 10h-11.5zM377.4 2330l5.75 10h-11.5zM436 2371.4l5.75 10h-11.5zM437.6 2270.6l5.75 10h-11.5zM495.4 2312.6l5.75 10h-11.5zM381.2 2360.2l5.75 10h-11.5zM381 2343.4l5.75 10h-11.5zM379.9 2295.1l5.75 10h-11.5zM382.5 2309.4l5.75 10h-11.5zM427.1 2345l5.75 10h-11.5zM407.8 2334.6l5.75 10h-11.5zM455.5 2337.9l5.75 10h-11.5zM330.9 2359l5.75 10h-11.5zM412.9 2266.3l5.75 10h-11.5zM458.1 2303.5l5.75 10h-11.5zM427.8 2315l5.75 10h-11.5zM388.4 2302.3l5.75 10h-11.5zM504.3 2288.7l5.75 10h-11.5zM399.8 2354.5l5.75 10h-11.5zM360.7 2330.4l5.75 10h-11.5zM424.4 2350.2l5.75 10h-11.5zM408.9 2324.1l5.75 10h-11.5zM468 2326.9l5.75 10h-11.5zM399.8 2327.4l5.75 10h-11.5zM408.3 2281.8l5.75 10h-11.5zM447.5 2343.8l5.75 10h-11.5zM422.3 2351.3l5.75 10h-11.5zM372.9 2261.8l5.75 10h-11.5zM425.7 2315.4l5.75 10h-11.5zM361.1 2331.1l5.75 10h-11.5zM353.2 2335.1l5.75 10h-11.5zM429.7 2344.2l5.75 10h-11.5zM448.4 2340.6l5.75 10h-11.5zM372 2357l5.75 10h-11.5zM403.6 2370.1l5.75 10h-11.5zM417.3 2339.7l5.75 10h-11.5zM403.4 2342.2l5.75 10h-11.5zM452.5 2322.5l5.75 10h-11.5z" fill="#2aae80"/>
<path d="M411.9 2380.2a2.6 2.6 0 1 0 5.2 0a2.6 2.6 0 1 0 -5.2 0zM386.8 2380.2a2.6 2.6 0 1 0 5.2 0a2.6 2.6 0 1 0 -5.2 0zM439.2 2380.2a2.6 2.6 0 1 0 5.2 0a2.6 2.6 0 1 0 -5.2 0zM446 2380.2a2.6 2.6 0 1 0 5.2 0a2.6 2.6 0 1 0 -5.2 0zM417.4 2367.1a2.6 2.6 0 1 0 5.2 0a2.6 2.6 0 1 0 -5.2 0zM432 2276.9a2.6 2.6 0 1 0 5.2 0a2.6 2.6 0 1 0 -5.2 0zM411.3 2313.5a2.6 2.6 0 1 0 5.2 0a2.6 2.6 0 1 0 -5.2 0zM447 2286.3a2.6 2.6 0 1 0 5.2 0a2.6 2.6 0 1 0 -5.2 0zM471.5 2259.6a2.6 2.6 0 1 0 5.2 0a2.6 2.6 0 1 0 -5.2 0zM398.9 2263.7a2.6 2.6 0 1 0 5.2 0a2.6 2.6 0 1 0 -5.2 0zM457.7 2311.2a2.6 2.6 0 1 0 5.2 0a2.6 2.6 0 1 0 -5.2 0zM413.2 2374.1a2.6 2.6 0 1 0 5.2 0a2.6 2.6 0 1 0 -5.2 0zM411 2231.4a2.6 2.6 0 1 0 5.2 0a2.6 2.6 0 1 0 -5.2 0zM399.4 2246.2a2.6 2.6 0 1 0 5.2 0a2.6 2.6 0 1 0 -5.2 0zM394.6 2249.8a2.6 2.6 0 1 0 5.2 0a2.6 2.6 0 1 0 -5.2 0zM430 2310a2.6 2.6 0 1 0 5.2 0a2.6 2.6 0 1 0 -5.2 0zM373.9 2352.1a2.6 2.6 0 1 0 5.2 0a2.6 2.6 0 1 0 -5.2 0zM384.2 2326.7a2.6 2.6 0 1 0 5.2 0a2.6 2.6 0 1 0 -5.2 0zM461.5 2272.6a2.6 2.6 0 1 0 5.2 0a2.6 2.6 0 1 0 -5.2 0zM419.4 2321.5a2.6 2.6 0 1 0 5.2 0a2.6 2.6 0 1 0 -5.2 0zM351.7 2251.4a2.6 2.6 0 1 0 5.2 0a2.6 2.6 0 1 0 -5.2 0zM382.1 2291.4a2.6 2.6 0 1 0 5.2 0a2.6 2.6 0 1 0 -5.2 0zM411.2 2250.6a2.6 2.6 0 1 0 5.2 0a2.6 2.6 0 1 0 -5.2 0zM437.3 2297.7a2.6 2.6 0 1 0 5.2 0a2.6 2.6 0 1 0 -5.2 0zM424.9 2243.2a2.6 2.6 0 1 0 5.2 0a2.6 2.6 0 1 0 -5.2 0zM408.2 2335.6a2.6 2.6 0 1 0 5.2 0a2.6 2.6 0 1 0 -5.2 0zM392.9 2292.4a2.6 2.6 0 1 0 5.2 0a2.6 2.6 0 1 0 -5.2 0zM363.2 2255.7a2.6 2.6 0 1 0 5.2 0a2.6 2.6 0 1 0 -5.2 0zM337.6 2267.5a2.6 2.6 0 1 0 5.2 0a2.6 2.6 0 1 0 -5.2 0zM417.3 2331.7a2.6 2.6 0 1 0 5.2 0a2.6 2.6 0 1 0 -5.2 0zM333.4 2349.6a2.6 2.6 0 1 0 5.2 0a2.6 2.6 0 1 0 -5.2 0zM335.3 2241.1a2.6 2.6 0 1 0 5.2 0a2.6 2.6 0 1 0 -5.2 0zM457.5 2308.1a2.6 2.6 0 1 0 5.2 0a2.6 2.6 0 1 0 -5.2 0zM434.6 2260.3a2.6 2.6 0 1 0 5.2 0a2.6 2.6 0 1 0 -5.2 0zM476.2 2282.9a2.6 2.6 0 1 0 5.2 0a2.6 2.6 0 1 0 -5.2 0zM394.7 2301.4a2.6 2.6 0 1 0 5.2 0a2.6 2.6 0 1 0 -5.2 0zM461.1 2188.9a2.6 2.6 0 1 0 5.2 0a2.6 2.6 0 1 0 -5.2 0zM404.6 2212.7a2.6 2.6 0 1 0 5.2 0a2.6 2.6 0 1 0 -5.2 0zM470.5 2224.1a2.6 2.6 0 1 0 5.2 0a2.6 2.6 0 1 0 -5.2 0z" fill="#440f68"/>
<path d="M354.1 2373.5l5.75 10h-11.5zM358.1 2373.5l5.75 10h-11.5zM386.3 2373.5l5.75 10h-11.5zM381.4 2373.5l5.75 10h-11.5zM465 2373.5l5.75 10h-11.5zM424.9 2373.5l5.75 10h-11.5zM384.9 2373.5l5.75 10h-11.5zM384 2373.5l5.75 10h-11.5zM350.9 2373.5l5.75 10h-11.5zM424.2 2373.5l5.75 10h-11.5zM392.7 2373.5l5.75 10h-11.5zM435.9 2373.5l5.75 10h-11.5zM416.4 2373.5l5.75 10h-11.5zM429.4 2341.6l5.75 10h-11.5zM432.5 2344.5l5.75 10h-11.5zM413.2 2298.3l5.75 10h-11.5zM345.5 2290.7l5.75 10h-11.5zM420.2 2324.9l5.75 10h-11.5zM428.4 2295.5l5.75 10h-11.5zM488.6 2260.9l5.75 10h-11.5zM347.7 2363.6l5.75 10h-11.5zM460.9 2351.6l5.75 10h-11.5zM439.5 2319.6l5.75 10h-11.5zM409.6 2306.6l5.75 10h-11.5zM347.5 2366.9l5.75 10h-11.5zM401.5 2368.7l5.75 10h-11.5zM437.4 2268l5.75 10h-11.5zM363.2 2356.4l5.75 10h-11.5zM435.5 2348.2l5.75 10h-11.5zM344.7 2346.2l5.75 10h-11.5zM451 2368.3l5.75 10h-11.5zM446.3 2346.9l5.75 10h-11.5zM444.5 2331.7l5.75 10h-11.5zM354.9 2318.8l5.75 10h-11.5zM433.3 2305.2l5.75 10h-11.5zM380.7 2342.7l5.75 10h-11.5zM467.5 2367.7l5.75 10h-11.5zM418.1 2350.6l5.75 10h-11.5zM414.7 2322.8l5.75 10h-11.5zM468.5 2365.5l5.75 10h-11.5zM352 2333.4l5.75 10h-11.5zM435 2306l5.75 10h-11.5zM348.1 2347.2l5.75 10h-11.5zM406.3 2355.2l5.75 10h-11.5zM475.6 2345.5l5.75 10h-11.5zM369.1 2325.2l5.75 10h-11.5zM399.6 2319.4l5.75 10h-11.5zM463.4 2310.3l5.75 10h-11.5zM400.2 2328.7l5.75 10h-11.5zM414.6 2299.6l5.75 10h-11.5zM435.5 2371.9l5.75 10h-11.5zM336.9 2361.8l5.75 10h-11.5zM499.5 2343.7l5.75 10h-11.5zM366.3 2337.3l5.75 10h-11.5zM331.6 2333.8l5.75 10h-11.5zM477.6 2293.9l5.75 10h-11.5zM447.9 2348.5l5.75 10h-11.5zM407.5 2358.3l5.75 10h-11.5zM389.8 2323.8l5.75 10h-11.5zM404.1 2352l5.75 10h-11.5zM353.7 2364.5l5.75 10h-11.5zM497 2329.4l5.75 10h-11.5zM403.3 2366.2l5.75 10h-11.5zM449.1 2317.4l5.75 10h-11.5zM455.9 2340.4l5.75 10h-11.5zM338.5 2307.4l5.75 10h-11.5zM413.3 2352.8l5.75 10h-11.5zM430.8 2357.9l5.75 10h-11.5zM361.9 2335.6l5.75 10h-11.5zM410.4 2332.4l5.75 10h-11.5zM348.2 2283.2l5.75 10h-11.5zM381.7 2316.9l5.75 10h-11.5zM429.6 2355.5l5.75 10h-11.5zM396.5 2325.4l5.75 10h-11.5zM409.7 2263.5l5.75 10h-11.5zM435.5 2338.9l5.75 10h-11.5zM383.5 2332.9l5.75 10h-11.5zM411.1 2289.7l5.75 10h-11.5zM433.8 2276.2l5.75 10h-11.5zM360.7 2354.2l5.75 10h-11.5zM417.6 2357.2l5.75 10h-11.5zM376.4 2329.8l5.75 10h-11.5zM392.5 2339.2l5.75 10h-11.5zM420.7 2346.7l5.75 10h-11.5z" fill="#2aae80"/>
<path d="M422.3 2380.2a2.6 2.6 0 1 0 5.2 0a2.6 2.6 0 1 0 -5.2 0zM419 2380.2a2.6 2.6 0 1 0 5.2 0a2.6 2.6 0 1 0 -5.2 0zM425.1 2380.2a2.6 2.6 0 1 0 5.2 0a2.6 2.6 0 1 0 -5.2 0zM372.5 2380.2a2.6 2.6 0 1 0 5.2 0a2.6 2.6 0 1 0 -5.2 0zM430.6 2254.9a2.6 2.6 0 1 0 5.2 0a2.6 2.6 0 1 0 -5.2 0zM438.3 2278.4a2.6 2.6 0 1 0 5.2 0a2.6 2.6 0 1 0 -5.2 0zM395.3 2322.8a2.6 2.6 0 1 0 5.2 0a2.6 2.6 0 1 0 -5.2 0zM475.3 2262.9a2.6 2.6 0 1 0 5.2 0a2.6 2.6 0 1 0 -5.2 0zM467.5 2315.4a2.6 2.6 0 1 0 5.2 0a2.6 2.6 0 1 0 -5.2 0zM391.6 2288.4a2.6 2.6 0 1 0 5.2 0a2.6 2.6 0 1 0 -5.2 0zM393.1 2271.9a2.6 2.6 0 1 0 5.2 0a2.6 2.6 0 1 0 -5.2 0zM455.7 2287a2.6 2.6 0 1 0 5.2 0a2.6 2.6 0 1 0 -5.2 0zM352.9 2347.2a2.6 2.6 0 1 0 5.2 0a2.6 2.6 0 1 0 -5.2 0zM412.1 2341.9a2.6 2.6 0 1 0 5.2 0a2.6 2.6 0 1 0 -5.2 0zM377.4 2376.2a2.6 2.6 0 1 0 5.2 0a2.6 2.6 0 1 0 -5.2 0zM471.1 2273.8a2.6 2.6 0 1 0 5.2 0a2.6 2.6 0 1 0 -5.2 0zM476.4 2356.6a2.6 2.6 0 1 0 5.2 0a2.6 2.6 0 1 0 -5.2 0zM401.8 2334a2.6 2.6 0 1 0 5.2 0a2.6 2.6 0 1 0 -5.2 0zM410.5 2289.5a2.6 2.6 0 1 0 5.2 0a2.6 2.6 0 1 0 -5.2 0zM385 2280.9a2.6 2.6 0 1 0 5.2 0a2.6 2.6 0 1 0 -5.2 0zM388.5 2256.8a2.6 2.6 0 1 0 5.2 0a2.6 2.6 0 1 0 -5.2 0zM399.1 2344.8a2.6 2.6 0 1 0 5.2 0a2.6 2.6 0 1 0 -5.2 0zM350.6 2372.7a2.6 2.6 0 1 0 5.2 0a2.6 2.6 0 1 0 -5.2 0zM391.7 2254.1a2.6 2.6 0 1 0 5.2 0a2.6 2.6 0 1 0 -5.2 0zM433 2329a2.6 2.6 0 1 0 5.2 0a2.6 2.6 0 1 0 -5.2 0zM374.4 2258a2.6 2.6 0 1 0 5.2 0a2.6 2.6 0 1 0 -5.2 0zM429.4 2265.7a2.6 2.6 0 1 0 5.2 0a2.6 2.6 0 1 0 -5.2 0zM463.1 2279.2a2.6 2.6 0 1 0 5.2 0a2.6 2.6 0 1 0 -5.2 0zM471.3 2276a2.6 2.6 0 1 0 5.2 0a2.6 2.6 0 1 0 -5.2 0zM418.4 2261.3a2.6 2.6 0 1 0 5.2 0a2.6 2.6 0 1 0 -5.2 0zM434.8 2366.2a2.6 2.6 0 1 0 5.2 0a2.6 2.6 0 1 0 -5.2 0zM428.1 2269.6a2.6 2.6 0 1 0 5.2 0a2.6 2.6 0 1 0 -5.2 0zM447.5 2340a2.6 2.6 0 1 0 5.2 0a2.6 2.6 0 1 0 -5.2 0zM409.4 2245.3a2.6 2.6 0 1 0 5.2 0a2.6 2.6 0 1 0 -5.2 0zM399.5 2244.2a2.6 2.6 0 1 0 5.2 0a2.6 2.6 0 1 0 -5.2 0zM356.3 2173.2a2.6 2.6 0 1 0 5.2 0a2.6 2.6 0 1 0 -5.2 0zM425.8 2192.8a2.6 2.6 0 1 0 5.2 0a2.6 2.6 0 1 0 -5.2 0zM445.8 2215a2.6 2.6 0 1 0 5.2 0a2.6 2.6 0 1 0 -5.2 0zM375 2224.1a2.6 2.6 0 1 0 5.2 0a2.6 2.6 0 1 0 -5.2 0z" fill="#440f68"/>
<path d="M461.3 2373.5l5.75 10h-11.5zM399.7 2373.5l5.75 10h-11.5zM407.4 2373.5l5.75 10h-11.5zM382.8 2373.5l5.75 10h-11.5zM463.7 2373.5l5.75 10h-11.5zM446.2 2373.5l5.75 10h-11.5zM399.1 2373.5l5.75 10h-11.5zM401.9 2373.5l5.75 10h-11.5zM431.6 2373.5l5.75 10h-11.5zM415 2373.5l5.75 10h-11.5zM449 2373.5l5.75 10h-11.5zM372.8 2373.5l5.75 10h-11.5zM490 2373.5l5.75 10h-11.5zM456.4 2337l5.75 10h-11.5zM421.2 2369.4l5.75 10h-11.5zM343.5 2272.4l5.75 10h-11.5zM423.8 2321.6l5.75 10h-11.5zM397.9 2361l5.75 10h-11.5zM380.9 2320.8l5.75 10h-11.5zM383.5 2332l5.75 10h-11.5zM339.9 2327.9l5.75 10h-11.5zM432.4 2298.8l5.75 10h-11.5zM376.9 2328.1l5.75 10h-11.5zM466.3 2362.3l5.75 10h-11.5zM367.2 2338.6l5.75 10h-11.5zM351.8 2279.8l5.75 10h-11.5zM371.7 2258.2l5.75 10h-11.5zM335 2373.2l5.75 10h-11.5zM430.7 2289.2l5.75 10h-11.5zM410.1 2353.4l5.75 10h-11.5zM381.4 2338.3l5.75 10h-11.5zM410.7 2323.4l5.75 10h-11.5zM453.9 2274.7l5.75 10h-11.5zM424.9 2353.6l5.75 10h-11.5zM398.9 2321.8l5.75 10h-11.5zM410.5 2303.8l5.75 10h-11.5zM353.8 2297.8l5.75 10h-11.5zM415.8 2312.8l5.75 10h-11.5zM388.9 2334.1l5.75 10h-11.5zM338.3 2323.1l5.75 10h-11.5zM390.9 2372.5l5.75 10h-11.5zM396.7 2300.3l5.75 10h-11.5zM405.5 2356l5.75 10h-11.5zM363.4 2296.1l5.75 10h-11.5zM447.5 2324.4l5.75 10h-11.5zM406.1 2337.7l5.75 10h-11.5zM366.2 2331.5l5.75 10h-11.5zM355.3 2335.4l5.75 10h-11.5zM382.1 2359.5l5.75 10h-11.5zM463.8 2341.8l5.75 10h-11.5zM391.7 2350l5.75 10h-11.5zM410 2334.4l5.75 10h-11.5zM383.4 2302.6l5.75 10h-11.5zM402.4 2354.8l5.75 10h-11.5zM454.1 2294.4l5.75 10h-11.5zM436.2 2363l5.75 10h-11.5zM405.6 2358.6l5.75 10h-11.5zM418.7 2318.3l5.75 10h-11.5zM421.8 2357.7l5.75 10h-11.5zM456.9 2322.2l5.75 10h-11.5zM410.4 2326.5l5.75 10h-11.5zM420.4 2269.7l5.75 10h-11.5zM459.6 2352.2l5.75 10h-11.5zM457.1 2345.9l5.75 10h-11.5zM376 2364.9l5.75 10h-11.5zM399.2 2318.6l5.75 10h-11.5zM348.6 2340l5.75 10h-11.5zM425.6 2285.3l5.75 10h-11.5zM422.3 2349l5.75 10h-11.5zM382.6 2360.8l5.75 10h-11.5zM381 2320.5l5.75 10h-11.5zM393.1 2330.6l5.75 10h-11.5zM458.7 2340.9l5.75 10h-11.5zM352.2 2342.9l5.75 10h-11.5zM414.5 2308.1l5.75 10h-11.5zM356.2 2311.7l5.75 10h-11.5zM368.4 2304.8l5.75 10h-11.5zM374.1 2313.6l5.75 10h-11.5zM395.1 2319.9l5.75 10h-11.5zM416.6 2345.2l5.75 10h-11.5zM420.6 2293.3l5.75 10h-11.5zM419.6 2277.9l5.75 10h-11.5zM383.5 2311l5.75 10h-11.5z" fill="#2aae80"/>
<path d="M480.6 2380.2a2.6 2.6 0 1 0 5.2 0a2.6 2.6 0 1 0 -5.2 0zM384.8 2380.2a2.6 2.6 0 1 0 5.2 0a2.6 2.6 0 1 0 -5.2 0zM448.1 2380.2a2.6 2.6 0 1 0 5.2 0a2.6 2.6 0 1 0 -5.2 0zM388.2 2380.2a2.6 2.6 0 1 0 5.2 0a2.6 2.6 0 1 0 -5.2 0zM406.5 2270.6a2.6 2.6 0 1 0 5.2 0a2.6 2.6 0 1 0 -5.2 0zM395.1 2234.4a2.6 2.6 0 1 0 5.2 0a2.6 2.6 0 1 0 -5.2 0zM368.6 2281.8a2.6 2.6 0 1 0 5.2 0a2.6 2.6 0 1 0 -5.2 0zM404.2 2247.3a2.6 2.6 0 1 0 5.2 0a2.6 2.6 0 1 0 -5.2 0zM389.8 2354.4a2.6 2.6 0 1 0 5.2 0a2.6 2.6 0 1 0 -5.2 0zM444.7 2299a2.6 2.6 0 1 0 5.2 0a2.6 2.6 0 1 0 -5.2 0zM357 2336.4a2.6 2.6 0 1 0 5.2 0a2.6 2.6 0 1 0 -5.2 0zM424.7 2338.5a2.6 2.6 0 1 0 5.2 0a2.6 2.6 0 1 0 -5.2 0zM432.5 2303.3a2.6 2.6 0 1 0 5.2 0a2.6 2.6 0 1 0 -5.2 0zM415.2 2362.6a2.6 2.6 0 1 0 5.2 0a2.6 2.6 0 1 0 -5.2 0zM414.7 2316.8a2.6 2.6 0 1 0 5.2 0a2.6 2.6 0 1 0 -5.2 0zM400.9 2370.3a2.6 2.6 0 1 0 5.2 0a2.6 2.6 0 1 0 -5.2 0zM448.1 2378.9a2.6 2.6 0 1 0 5.2 0a2.6 2.6 0 1 0 -5.2 0zM413.2 2304.2a2.6 2.6 0 1 0 5.2 0a2.6 2.6 0 1 0 -5.2 0zM461.6 2294.2a2.6 2.6 0 1 0 5.2 0a2.6 2.6 0 1 0 -5.2 0zM418.1 2330.7a2.6 2.6 0 1 0 5.2 0a2.6 2.6 0 1 0 -5.2 0zM432 2319.9a2.6 2.6 0 1 0 5.2 0a2.6 2.6 0 1 0 -5.2 0zM366.2 2268.4a2.6 2.6 0 1 0 5.2 0a2.6 2.6 0 1 0 -5.2 0zM397.9 2306.9a2.6 2.6 0 1 0 5.2 0a2.6 2.6 0 1 0 -5.2 0zM442.5 2265.2a2.6 2.6 0 1 0 5.2 0a2.6 2.6 0 1 0 -5.2 0zM384.9 2274.9a2.6 2.6 0 1 0 5.2 0a2.6 2.6 0 1 0 -5.2 0zM384.7 2295.6a2.6 2.6 0 1 0 5.2 0a2.6 2.6 0 1 0 -5.2 0zM465.4 2360.4a2.6 2.6 0 1 0 5.2 0a2.6 2.6 0 1 0 -5.2 0zM329.2 2285a2.6 2.6 0 1 0 5.2 0a2.6 2.6 0 1 0 -5.2 0zM453.5 2253a2.6 2.6 0 1 0 5.2 0a2.6 2.6 0 1 0 -5.2 0zM411.8 2284.3a2.6 2.6 0 1 0 5.2 0a2.6 2.6 0 1 0 -5.2 0zM393.6 2248.2a2.6 2.6 0 1 0 5.2 0a2.6 2.6 0 1 0 -5.2 0zM436.1 2318.2a2.6 2.6 0 1 0 5.2 0a2.6 2.6 0 1 0 -5.2 0zM401.2 2236.5a2.6 2.6 0 1 0 5.2 0a2.6 2.6 0 1 0 -5.2 0zM416 2325.1a2.6 2.6 0 1 0 5.2 0a2.6 2.6 0 1 0 -5.2 0zM414.6 2358.6a2.6 2.6 0 1 0 5.2 0a2.6 2.6 0 1 0 -5.2 0zM374.6 2186.6a2.6 2.6 0 1 0 5.2 0a2.6 2.6 0 1 0 -5.2 0zM383.1 2208.5a2.6 2.6 0 1 0 5.2 0a2.6 2.6 0 1 0 -5.2 0zM417.2 2216.9a2.6 2.6 0 1 0 5.2 0a2.6 2.6 0 1 0 -5.2 0zM419.4 2225.4a2.6 2.6 0 1 0 5.2 0a2.6 2.6 0 1 0 -5.2 0z" fill="#440f68"/>
<path d="M290.3 2314.4 L298.3 2315.2 L306.4 2315.9 L314.4 2316.6 L322.5 2317.4 L330.5 2318.1 L338.5 2318.8 L346.6 2319.5 L354.6 2320.2 L362.7 2320.9 L370.7 2321.5 L378.8 2322.1 L386.8 2322.7 L394.8 2323.2 L402.9 2323.5 L410.9 2323.7 L419 2323.7 L427 2323.5 L435 2323.1 L443.1 2322.6 L451.1 2321.9 L459.2 2321.1 L467.2 2320.2 L475.3 2319.3 L483.3 2318.4 L491.3 2317.4 L499.4 2316.4 L507.4 2315.4 L515.5 2314.4 L523.5 2313.4 L523.5 2338.4 L515.5 2337.7 L507.4 2336.9 L499.4 2336.2 L491.3 2335.5 L483.3 2334.8 L475.3 2334.2 L467.2 2333.6 L459.2 2333 L451.1 2332.5 L443.1 2332.1 L435 2331.8 L427 2331.7 L419 2331.7 L410.9 2332 L402.9 2332.5 L394.8 2333.2 L386.8 2333.9 L378.8 2334.7 L370.7 2335.6 L362.7 2336.6 L354.6 2337.5 L346.6 2338.5 L338.5 2339.5 L330.5 2340.5 L322.5 2341.5 L314.4 2342.5 L306.4 2343.5 L298.3 2344.6 L290.3 2345.6 Z" fill="#999" fill-opacity="0.4"/>
<path d="M290.3 2330 L523.5 2325.9" stroke="#000" stroke-width="4.2"/>
<text x="562" y="2335.5" font-size="23" style="fill:#000;stroke:#000">n.s.</text>
<text x="562" y="2361.7" font-size="23" style="fill:#45105f;stroke:#45105f">n.s.</text>
<text x="562" y="2387.9" font-size="23" style="fill:#24a884;stroke:#24a884">n.s.</text>
<path d="M874 2373.5l5.75 10h-11.5zM925.8 2373.5l5.75 10h-11.5zM875.1 2373.5l5.75 10h-11.5zM868.7 2373.5l5.75 10h-11.5zM900.6 2373.5l5.75 10h-11.5zM907.8 2373.5l5.75 10h-11.5zM896.6 2373.5l5.75 10h-11.5zM886.9 2373.5l5.75 10h-11.5zM919.8 2373.5l5.75 10h-11.5zM921.2 2373.5l5.75 10h-11.5zM895.3 2373.5l5.75 10h-11.5zM923.3 2373.5l5.75 10h-11.5zM911.4 2373.5l5.75 10h-11.5zM901 2373.5l5.75 10h-11.5zM999 2316.1l5.75 10h-11.5zM886.7 2349.5l5.75 10h-11.5zM890.3 2332.7l5.75 10h-11.5zM870 2301l5.75 10h-11.5zM872.9 2308.3l5.75 10h-11.5zM947.2 2351l5.75 10h-11.5zM911.5 2347.6l5.75 10h-11.5zM909.1 2314.5l5.75 10h-11.5zM916.7 2348l5.75 10h-11.5zM897.4 2320.3l5.75 10h-11.5zM911.4 2349.2l5.75 10h-11.5zM868.4 2296.7l5.75 10h-11.5zM904.5 2291.3l5.75 10h-11.5zM865.4 2326.1l5.75 10h-11.5zM922.4 2310l5.75 10h-11.5zM892.7 2321.2l5.75 10h-11.5zM898.3 2292.7l5.75 10h-11.5zM914.2 2354l5.75 10h-11.5zM934.5 2291.8l5.75 10h-11.5zM913.1 2286.6l5.75 10h-11.5zM919.7 2301.5l5.75 10h-11.5zM898.4 2317.9l5.75 10h-11.5zM922.1 2328.4l5.75 10h-11.5zM883.6 2325.8l5.75 10h-11.5zM887.8 2336.6l5.75 10h-11.5zM886.1 2341.3l5.75 10h-11.5zM871.4 2370.5l5.75 10h-11.5zM878.5 2336.4l5.75 10h-11.5zM883.7 2329l5.75 10h-11.5zM904.1 2356.5l5.75 10h-11.5zM909.7 2335.9l5.75 10h-11.5zM875.2 2352.5l5.75 10h-11.5zM900.9 2327.1l5.75 10h-11.5zM901.8 2330l5.75 10h-11.5zM869.2 2371.4l5.75 10h-11.5zM840.3 2270.6l5.75 10h-11.5zM892 2312.6l5.75 10h-11.5zM908.5 2360.2l5.75 10h-11.5zM875.5 2343.4l5.75 10h-11.5zM916.2 2295.1l5.75 10h-11.5zM891 2309.4l5.75 10h-11.5zM919.5 2345l5.75 10h-11.5zM904.2 2334.6l5.75 10h-11.5zM964.6 2337.9l5.75 10h-11.5zM894.5 2359l5.75 10h-11.5zM857.6 2266.3l5.75 10h-11.5zM909.7 2303.5l5.75 10h-11.5zM892.1 2315l5.75 10h-11.5zM867.4 2302.3l5.75 10h-11.5zM896.1 2288.7l5.75 10h-11.5zM901.3 2354.5l5.75 10h-11.5zM903.2 2330.4l5.75 10h-11.5zM884.1 2350.2l5.75 10h-11.5zM917.4 2324.1l5.75 10h-11.5zM892.2 2326.9l5.75 10h-11.5zM913.1 2327.4l5.75 10h-11.5zM898 2281.8l5.75 10h-11.5zM873.7 2343.8l5.75 10h-11.5zM964.9 2351.3l5.75 10h-11.5zM886.3 2261.8l5.75 10h-11.5zM942.5 2315.4l5.75 10h-11.5zM903.4 2331.1l5.75 10h-11.5zM870.3 2335.1l5.75 10h-11.5zM877.2 2344.2l5.75 10h-11.5zM904.9 2340.6l5.75 10h-11.5zM957.1 2357l5.75 10h-11.5zM865.8 2370.1l5.75 10h-11.5zM909.3 2339.7l5.75 10h-11.5zM884.8 2342.2l5.75 10h-11.5zM974.2 2322.5l5.75 10h-11.5z" fill="#2aae80"/>
<path d="M943.8 2380.2a2.6 2.6 0 1 0 5.2 0a2.6 2.6 0 1 0 -5.2 0zM863.9 2380.2a2.6 2.6 0 1 0 5.2 0a2.6 2.6 0 1 0 -5.2 0zM883.1 2380.2a2.6 2.6 0 1 0 5.2 0a2.6 2.6 0 1 0 -5.2 0zM890.5 2380.2a2.6 2.6 0 1 0 5.2 0a2.6 2.6 0 1 0 -5.2 0zM904.4 2367.1a2.6 2.6 0 1 0 5.2 0a2.6 2.6 0 1 0 -5.2 0zM906.8 2276.9a2.6 2.6 0 1 0 5.2 0a2.6 2.6 0 1 0 -5.2 0zM854.5 2313.5a2.6 2.6 0 1 0 5.2 0a2.6 2.6 0 1 0 -5.2 0zM898.9 2286.3a2.6 2.6 0 1 0 5.2 0a2.6 2.6 0 1 0 -5.2 0zM941.4 2259.6a2.6 2.6 0 1 0 5.2 0a2.6 2.6 0 1 0 -5.2 0zM876 2263.7a2.6 2.6 0 1 0 5.2 0a2.6 2.6 0 1 0 -5.2 0zM887.3 2311.2a2.6 2.6 0 1 0 5.2 0a2.6 2.6 0 1 0 -5.2 0zM910.2 2374.1a2.6 2.6 0 1 0 5.2 0a2.6 2.6 0 1 0 -5.2 0zM881.2 2231.4a2.6 2.6 0 1 0 5.2 0a2.6 2.6 0 1 0 -5.2 0zM896 2246.2a2.6 2.6 0 1 0 5.2 0a2.6 2.6 0 1 0 -5.2 0zM905.7 2249.8a2.6 2.6 0 1 0 5.2 0a2.6 2.6 0 1 0 -5.2 0zM934.7 2310a2.6 2.6 0 1 0 5.2 0a2.6 2.6 0 1 0 -5.2 0zM879.9 2352.1a2.6 2.6 0 1 0 5.2 0a2.6 2.6 0 1 0 -5.2 0zM912.1 2326.7a2.6 2.6 0 1 0 5.2 0a2.6 2.6 0 1 0 -5.2 0zM934.5 2272.6a2.6 2.6 0 1 0 5.2 0a2.6 2.6 0 1 0 -5.2 0zM886.3 2321.5a2.6 2.6 0 1 0 5.2 0a2.6 2.6 0 1 0 -5.2 0zM902 2251.4a2.6 2.6 0 1 0 5.2 0a2.6 2.6 0 1 0 -5.2 0zM845.5 2291.4a2.6 2.6 0 1 0 5.2 0a2.6 2.6 0 1 0 -5.2 0zM903.8 2250.6a2.6 2.6 0 1 0 5.2 0a2.6 2.6 0 1 0 -5.2 0zM895 2297.7a2.6 2.6 0 1 0 5.2 0a2.6 2.6 0 1 0 -5.2 0zM905.9 2243.2a2.6 2.6 0 1 0 5.2 0a2.6 2.6 0 1 0 -5.2 0zM905.9 2335.6a2.6 2.6 0 1 0 5.2 0a2.6 2.6 0 1 0 -5.2 0zM852.9 2292.4a2.6 2.6 0 1 0 5.2 0a2.6 2.6 0 1 0 -5.2 0zM885.6 2255.7a2.6 2.6 0 1 0 5.2 0a2.6 2.6 0 1 0 -5.2 0zM883.7 2267.5a2.6 2.6 0 1 0 5.2 0a2.6 2.6 0 1 0 -5.2 0zM893.2 2331.7a2.6 2.6 0 1 0 5.2 0a2.6 2.6 0 1 0 -5.2 0zM890.1 2349.6a2.6 2.6 0 1 0 5.2 0a2.6 2.6 0 1 0 -5.2 0zM873.6 2241.1a2.6 2.6 0 1 0 5.2 0a2.6 2.6 0 1 0 -5.2 0zM907.2 2308.1a2.6 2.6 0 1 0 5.2 0a2.6 2.6 0 1 0 -5.2 0zM899.2 2260.3a2.6 2.6 0 1 0 5.2 0a2.6 2.6 0 1 0 -5.2 0zM884.3 2282.9a2.6 2.6 0 1 0 5.2 0a2.6 2.6 0 1 0 -5.2 0zM948 2301.4a2.6 2.6 0 1 0 5.2 0a2.6 2.6 0 1 0 -5.2 0zM857.1 2188.9a2.6 2.6 0 1 0 5.2 0a2.6 2.6 0 1 0 -5.2 0zM855.5 2212.7a2.6 2.6 0 1 0 5.2 0a2.6 2.6 0 1 0 -5.2 0zM916.4 2224.1a2.6 2.6 0 1 0 5.2 0a2.6 2.6 0 1 0 -5.2 0z" fill="#440f68"/>
<path d="M904.2 2373.5l5.75 10h-11.5zM908 2373.5l5.75 10h-11.5zM864.8 2373.5l5.75 10h-11.5zM910.3 2373.5l5.75 10h-11.5zM868 2373.5l5.75 10h-11.5zM899.9 2373.5l5.75 10h-11.5zM895 2373.5l5.75 10h-11.5zM883.9 2373.5l5.75 10h-11.5zM856.2 2373.5l5.75 10h-11.5zM898.8 2373.5l5.75 10h-11.5zM887 2373.5l5.75 10h-11.5zM899.4 2373.5l5.75 10h-11.5zM887.4 2373.5l5.75 10h-11.5zM938.9 2341.6l5.75 10h-11.5zM861.3 2344.5l5.75 10h-11.5zM899.8 2298.3l5.75 10h-11.5zM913.6 2290.7l5.75 10h-11.5zM920.4 2324.9l5.75 10h-11.5zM866.1 2295.5l5.75 10h-11.5zM911.5 2260.9l5.75 10h-11.5zM908.2 2363.6l5.75 10h-11.5zM906.8 2351.6l5.75 10h-11.5zM920.5 2319.6l5.75 10h-11.5zM890.2 2306.6l5.75 10h-11.5zM847.7 2366.9l5.75 10h-11.5zM895 2368.7l5.75 10h-11.5zM881 2268l5.75 10h-11.5zM898.9 2356.4l5.75 10h-11.5zM944.4 2348.2l5.75 10h-11.5zM865.2 2346.2l5.75 10h-11.5zM905.5 2368.3l5.75 10h-11.5zM895.4 2346.9l5.75 10h-11.5zM907.9 2331.7l5.75 10h-11.5zM915.2 2318.8l5.75 10h-11.5zM857.3 2305.2l5.75 10h-11.5zM863.9 2342.7l5.75 10h-11.5zM917.6 2367.7l5.75 10h-11.5zM889.2 2350.6l5.75 10h-11.5zM848 2322.8l5.75 10h-11.5zM888 2365.5l5.75 10h-11.5zM852.8 2333.4l5.75 10h-11.5zM939 2306l5.75 10h-11.5zM875.5 2347.2l5.75 10h-11.5zM893.3 2355.2l5.75 10h-11.5zM894.2 2345.5l5.75 10h-11.5zM869.5 2325.2l5.75 10h-11.5zM931.3 2319.4l5.75 10h-11.5zM912.7 2310.3l5.75 10h-11.5zM886.2 2328.7l5.75 10h-11.5zM883 2299.6l5.75 10h-11.5zM896.2 2371.9l5.75 10h-11.5zM876.3 2361.8l5.75 10h-11.5zM904.8 2343.7l5.75 10h-11.5zM902.4 2337.3l5.75 10h-11.5zM873.8 2333.8l5.75 10h-11.5zM900.5 2293.9l5.75 10h-11.5zM912.8 2348.5l5.75 10h-11.5zM888.1 2358.3l5.75 10h-11.5zM922 2323.8l5.75 10h-11.5zM919.3 2352l5.75 10h-11.5zM890.6 2364.5l5.75 10h-11.5zM878.7 2329.4l5.75 10h-11.5zM901.5 2366.2l5.75 10h-11.5zM941.5 2317.4l5.75 10h-11.5zM921.7 2340.4l5.75 10h-11.5zM873 2307.4l5.75 10h-11.5zM939.7 2352.8l5.75 10h-11.5zM962.1 2357.9l5.75 10h-11.5zM947.5 2335.6l5.75 10h-11.5zM888 2332.4l5.75 10h-11.5zM899.9 2283.2l5.75 10h-11.5zM871.6 2316.9l5.75 10h-11.5zM883.9 2355.5l5.75 10h-11.5zM882.5 2325.4l5.75 10h-11.5zM875.2 2263.5l5.75 10h-11.5zM907.9 2338.9l5.75 10h-11.5zM926.6 2332.9l5.75 10h-11.5zM931.3 2289.7l5.75 10h-11.5zM902.2 2276.2l5.75 10h-11.5zM861.2 2354.2l5.75 10h-11.5zM904.1 2357.2l5.75 10h-11.5zM879.3 2329.8l5.75 10h-11.5zM958.9 2339.2l5.75 10h-11.5zM880.2 2346.7l5.75 10h-11.5z" fill="#2aae80"/>
<path d="M873.8 2380.2a2.6 2.6 0 1 0 5.2 0a2.6 2.6 0 1 0 -5.2 0zM910.1 2380.2a2.6 2.6 0 1 0 5.2 0a2.6 2.6 0 1 0 -5.2 0zM933.2 2380.2a2.6 2.6 0 1 0 5.2 0a2.6 2.6 0 1 0 -5.2 0zM863.2 2380.2a2.6 2.6 0 1 0 5.2 0a2.6 2.6 0 1 0 -5.2 0zM863.8 2254.9a2.6 2.6 0 1 0 5.2 0a2.6 2.6 0 1 0 -5.2 0zM882.8 2278.4a2.6 2.6 0 1 0 5.2 0a2.6 2.6 0 1 0 -5.2 0zM876.1 2322.8a2.6 2.6 0 1 0 5.2 0a2.6 2.6 0 1 0 -5.2 0zM872.1 2262.9a2.6 2.6 0 1 0 5.2 0a2.6 2.6 0 1 0 -5.2 0zM889.9 2315.4a2.6 2.6 0 1 0 5.2 0a2.6 2.6 0 1 0 -5.2 0zM921.3 2288.4a2.6 2.6 0 1 0 5.2 0a2.6 2.6 0 1 0 -5.2 0zM903.3 2271.9a2.6 2.6 0 1 0 5.2 0a2.6 2.6 0 1 0 -5.2 0zM885.6 2287a2.6 2.6 0 1 0 5.2 0a2.6 2.6 0 1 0 -5.2 0zM857.7 2347.2a2.6 2.6 0 1 0 5.2 0a2.6 2.6 0 1 0 -5.2 0zM895.3 2341.9a2.6 2.6 0 1 0 5.2 0a2.6 2.6 0 1 0 -5.2 0zM879.6 2376.2a2.6 2.6 0 1 0 5.2 0a2.6 2.6 0 1 0 -5.2 0zM881.2 2273.8a2.6 2.6 0 1 0 5.2 0a2.6 2.6 0 1 0 -5.2 0zM899.5 2356.6a2.6 2.6 0 1 0 5.2 0a2.6 2.6 0 1 0 -5.2 0zM874.9 2334a2.6 2.6 0 1 0 5.2 0a2.6 2.6 0 1 0 -5.2 0zM896.1 2289.5a2.6 2.6 0 1 0 5.2 0a2.6 2.6 0 1 0 -5.2 0zM862 2280.9a2.6 2.6 0 1 0 5.2 0a2.6 2.6 0 1 0 -5.2 0zM885.5 2256.8a2.6 2.6 0 1 0 5.2 0a2.6 2.6 0 1 0 -5.2 0zM938.7 2344.8a2.6 2.6 0 1 0 5.2 0a2.6 2.6 0 1 0 -5.2 0zM916.4 2372.7a2.6 2.6 0 1 0 5.2 0a2.6 2.6 0 1 0 -5.2 0zM847.7 2254.1a2.6 2.6 0 1 0 5.2 0a2.6 2.6 0 1 0 -5.2 0zM876.3 2329a2.6 2.6 0 1 0 5.2 0a2.6 2.6 0 1 0 -5.2 0zM910.2 2258a2.6 2.6 0 1 0 5.2 0a2.6 2.6 0 1 0 -5.2 0zM898.6 2265.7a2.6 2.6 0 1 0 5.2 0a2.6 2.6 0 1 0 -5.2 0zM896.9 2279.2a2.6 2.6 0 1 0 5.2 0a2.6 2.6 0 1 0 -5.2 0zM887.5 2276a2.6 2.6 0 1 0 5.2 0a2.6 2.6 0 1 0 -5.2 0zM822.3 2261.3a2.6 2.6 0 1 0 5.2 0a2.6 2.6 0 1 0 -5.2 0zM918 2366.2a2.6 2.6 0 1 0 5.2 0a2.6 2.6 0 1 0 -5.2 0zM902.1 2269.6a2.6 2.6 0 1 0 5.2 0a2.6 2.6 0 1 0 -5.2 0zM872.9 2340a2.6 2.6 0 1 0 5.2 0a2.6 2.6 0 1 0 -5.2 0zM900.9 2245.3a2.6 2.6 0 1 0 5.2 0a2.6 2.6 0 1 0 -5.2 0zM869.6 2244.2a2.6 2.6 0 1 0 5.2 0a2.6 2.6 0 1 0 -5.2 0zM919.6 2173.2a2.6 2.6 0 1 0 5.2 0a2.6 2.6 0 1 0 -5.2 0zM885.6 2192.8a2.6 2.6 0 1 0 5.2 0a2.6 2.6 0 1 0 -5.2 0zM920.7 2215a2.6 2.6 0 1 0 5.2 0a2.6 2.6 0 1 0 -5.2 0zM935.1 2224.1a2.6 2.6 0 1 0 5.2 0a2.6 2.6 0 1 0 -5.2 0z" fill="#440f68"/>
<path d="M906.3 2373.5l5.75 10h-11.5zM854.5 2373.5l5.75 10h-11.5zM863.6 2373.5l5.75 10h-11.5zM909 2373.5l5.75 10h-11.5zM881.2 2373.5l5.75 10h-11.5zM866.6 2373.5l5.75 10h-11.5zM929.9 2373.5l5.75 10h-11.5zM901.7 2373.5l5.75 10h-11.5zM914.9 2373.5l5.75 10h-11.5zM881.2 2373.5l5.75 10h-11.5zM900.9 2373.5l5.75 10h-11.5zM883 2373.5l5.75 10h-11.5zM857.8 2373.5l5.75 10h-11.5zM885.3 2337l5.75 10h-11.5zM891.8 2369.4l5.75 10h-11.5zM962.3 2272.4l5.75 10h-11.5zM941 2321.6l5.75 10h-11.5zM908.4 2361l5.75 10h-11.5zM867.7 2320.8l5.75 10h-11.5zM918.9 2332l5.75 10h-11.5zM951.9 2327.9l5.75 10h-11.5zM888.5 2298.8l5.75 10h-11.5zM899.5 2328.1l5.75 10h-11.5zM873.8 2362.3l5.75 10h-11.5zM880.3 2338.6l5.75 10h-11.5zM898.6 2279.8l5.75 10h-11.5zM886.9 2258.2l5.75 10h-11.5zM879.1 2373.2l5.75 10h-11.5zM858.1 2289.2l5.75 10h-11.5zM866.5 2353.4l5.75 10h-11.5zM959.3 2338.3l5.75 10h-11.5zM881.3 2323.4l5.75 10h-11.5zM895.3 2274.7l5.75 10h-11.5zM891 2353.6l5.75 10h-11.5zM865.8 2321.8l5.75 10h-11.5zM931.1 2303.8l5.75 10h-11.5zM896.5 2297.8l5.75 10h-11.5zM915 2312.8l5.75 10h-11.5zM927.3 2334.1l5.75 10h-11.5zM889.7 2323.1l5.75 10h-11.5zM880.8 2372.5l5.75 10h-11.5zM897.4 2300.3l5.75 10h-11.5zM932.9 2356l5.75 10h-11.5zM860.6 2296.1l5.75 10h-11.5zM868 2324.4l5.75 10h-11.5zM919.6 2337.7l5.75 10h-11.5zM886.8 2331.5l5.75 10h-11.5zM891 2335.4l5.75 10h-11.5zM900.6 2359.5l5.75 10h-11.5zM922.2 2341.8l5.75 10h-11.5zM914.5 2350l5.75 10h-11.5zM897.5 2334.4l5.75 10h-11.5zM909.7 2302.6l5.75 10h-11.5zM881.4 2354.8l5.75 10h-11.5zM910.5 2294.4l5.75 10h-11.5zM881.9 2363l5.75 10h-11.5zM920.6 2358.6l5.75 10h-11.5zM898.2 2318.3l5.75 10h-11.5zM859.2 2357.7l5.75 10h-11.5zM919.3 2322.2l5.75 10h-11.5zM916.4 2326.5l5.75 10h-11.5zM908.9 2269.7l5.75 10h-11.5zM887.9 2352.2l5.75 10h-11.5zM861.4 2345.9l5.75 10h-11.5zM914.3 2364.9l5.75 10h-11.5zM925.6 2318.6l5.75 10h-11.5zM893.6 2340l5.75 10h-11.5zM882.2 2285.3l5.75 10h-11.5zM884.2 2349l5.75 10h-11.5zM908.9 2360.8l5.75 10h-11.5zM924.5 2320.5l5.75 10h-11.5zM850.6 2330.6l5.75 10h-11.5zM920.5 2340.9l5.75 10h-11.5zM875.3 2342.9l5.75 10h-11.5zM870.5 2308.1l5.75 10h-11.5zM902.6 2311.7l5.75 10h-11.5zM913.6 2304.8l5.75 10h-11.5zM881.9 2313.6l5.75 10h-11.5zM886.6 2319.9l5.75 10h-11.5zM892.3 2345.2l5.75 10h-11.5zM851.3 2293.3l5.75 10h-11.5zM919.6 2277.9l5.75 10h-11.5zM888.7 2311l5.75 10h-11.5z" fill="#2aae80"/>
<path d="M867.2 2380.2a2.6 2.6 0 1 0 5.2 0a2.6 2.6 0 1 0 -5.2 0zM869.4 2380.2a2.6 2.6 0 1 0 5.2 0a2.6 2.6 0 1 0 -5.2 0zM914.8 2380.2a2.6 2.6 0 1 0 5.2 0a2.6 2.6 0 1 0 -5.2 0zM888.7 2380.2a2.6 2.6 0 1 0 5.2 0a2.6 2.6 0 1 0 -5.2 0zM870.9 2270.6a2.6 2.6 0 1 0 5.2 0a2.6 2.6 0 1 0 -5.2 0zM929.9 2234.4a2.6 2.6 0 1 0 5.2 0a2.6 2.6 0 1 0 -5.2 0zM868.9 2281.8a2.6 2.6 0 1 0 5.2 0a2.6 2.6 0 1 0 -5.2 0zM916.6 2247.3a2.6 2.6 0 1 0 5.2 0a2.6 2.6 0 1 0 -5.2 0zM902.8 2354.4a2.6 2.6 0 1 0 5.2 0a2.6 2.6 0 1 0 -5.2 0zM868.5 2299a2.6 2.6 0 1 0 5.2 0a2.6 2.6 0 1 0 -5.2 0zM864 2336.4a2.6 2.6 0 1 0 5.2 0a2.6 2.6 0 1 0 -5.2 0zM899.9 2338.5a2.6 2.6 0 1 0 5.2 0a2.6 2.6 0 1 0 -5.2 0zM909.2 2303.3a2.6 2.6 0 1 0 5.2 0a2.6 2.6 0 1 0 -5.2 0zM881.1 2362.6a2.6 2.6 0 1 0 5.2 0a2.6 2.6 0 1 0 -5.2 0zM895.8 2316.8a2.6 2.6 0 1 0 5.2 0a2.6 2.6 0 1 0 -5.2 0zM903.1 2370.3a2.6 2.6 0 1 0 5.2 0a2.6 2.6 0 1 0 -5.2 0zM885.2 2378.9a2.6 2.6 0 1 0 5.2 0a2.6 2.6 0 1 0 -5.2 0zM881.3 2304.2a2.6 2.6 0 1 0 5.2 0a2.6 2.6 0 1 0 -5.2 0zM939 2294.2a2.6 2.6 0 1 0 5.2 0a2.6 2.6 0 1 0 -5.2 0zM889.7 2330.7a2.6 2.6 0 1 0 5.2 0a2.6 2.6 0 1 0 -5.2 0zM853.6 2319.9a2.6 2.6 0 1 0 5.2 0a2.6 2.6 0 1 0 -5.2 0zM869.1 2268.4a2.6 2.6 0 1 0 5.2 0a2.6 2.6 0 1 0 -5.2 0zM914.6 2306.9a2.6 2.6 0 1 0 5.2 0a2.6 2.6 0 1 0 -5.2 0zM854.1 2265.2a2.6 2.6 0 1 0 5.2 0a2.6 2.6 0 1 0 -5.2 0zM855.1 2274.9a2.6 2.6 0 1 0 5.2 0a2.6 2.6 0 1 0 -5.2 0zM890.9 2295.6a2.6 2.6 0 1 0 5.2 0a2.6 2.6 0 1 0 -5.2 0zM865.7 2360.4a2.6 2.6 0 1 0 5.2 0a2.6 2.6 0 1 0 -5.2 0zM895.2 2285a2.6 2.6 0 1 0 5.2 0a2.6 2.6 0 1 0 -5.2 0zM907.5 2253a2.6 2.6 0 1 0 5.2 0a2.6 2.6 0 1 0 -5.2 0zM868.6 2284.3a2.6 2.6 0 1 0 5.2 0a2.6 2.6 0 1 0 -5.2 0zM876.1 2248.2a2.6 2.6 0 1 0 5.2 0a2.6 2.6 0 1 0 -5.2 0zM860.8 2318.2a2.6 2.6 0 1 0 5.2 0a2.6 2.6 0 1 0 -5.2 0zM895.1 2236.5a2.6 2.6 0 1 0 5.2 0a2.6 2.6 0 1 0 -5.2 0zM920.1 2325.1a2.6 2.6 0 1 0 5.2 0a2.6 2.6 0 1 0 -5.2 0zM890.8 2358.6a2.6 2.6 0 1 0 5.2 0a2.6 2.6 0 1 0 -5.2 0zM864.3 2186.6a2.6 2.6 0 1 0 5.2 0a2.6 2.6 0 1 0 -5.2 0zM851.6 2208.5a2.6 2.6 0 1 0 5.2 0a2.6 2.6 0 1 0 -5.2 0zM919.2 2216.9a2.6 2.6 0 1 0 5.2 0a2.6 2.6 0 1 0 -5.2 0zM836.1 2225.4a2.6 2.6 0 1 0 5.2 0a2.6 2.6 0 1 0 -5.2 0z" fill="#440f68"/>
<path d="M804.4 2324.7 L811.1 2324.8 L817.8 2325 L824.5 2325.1 L831.2 2325.2 L837.9 2325.3 L844.6 2325.4 L851.3 2325.4 L858 2325.4 L864.7 2325.4 L871.4 2325.4 L878.1 2325.2 L884.8 2324.9 L891.5 2324.5 L898.2 2323.9 L904.9 2323 L911.6 2321.8 L918.3 2320.4 L925 2318.8 L931.7 2317.1 L938.4 2315.3 L945.1 2313.5 L951.8 2311.6 L958.5 2309.7 L965.2 2307.7 L971.9 2305.7 L978.6 2303.8 L985.3 2301.8 L992 2299.8 L998.7 2297.8 L998.7 2331 L992 2330.9 L985.3 2330.7 L978.6 2330.6 L971.9 2330.5 L965.2 2330.4 L958.5 2330.4 L951.8 2330.3 L945.1 2330.3 L938.4 2330.3 L931.7 2330.4 L925 2330.6 L918.3 2330.8 L911.6 2331.3 L904.9 2332 L898.2 2333 L891.5 2334.2 L884.8 2335.6 L878.1 2337.2 L871.4 2339 L864.7 2340.8 L858 2342.6 L851.3 2344.5 L844.6 2346.4 L837.9 2348.4 L831.2 2350.3 L824.5 2352.3 L817.8 2354.3 L811.1 2356.3 L804.4 2358.3 Z" fill="#999" fill-opacity="0.4"/>
<path d="M804.4 2341.5 L998.7 2314.4" stroke="#000" stroke-width="4.2"/>
<text x="1076.3" y="2335.5" font-size="23" style="fill:#000;stroke:#000">n.s.</text>
<text x="1076.3" y="2361.7" font-size="23" style="fill:#45105f;stroke:#45105f">n.s.</text>
<text x="1076.3" y="2387.9" font-size="23" style="fill:#24a884;stroke:#24a884">n.s.</text>
<path d="M1399.5 2373.5l5.75 10h-11.5zM1410.6 2373.5l5.75 10h-11.5zM1384.4 2373.5l5.75 10h-11.5zM1429.8 2373.5l5.75 10h-11.5zM1438.4 2373.5l5.75 10h-11.5zM1380.9 2373.5l5.75 10h-11.5zM1381.7 2373.5l5.75 10h-11.5zM1424.5 2373.5l5.75 10h-11.5zM1396.5 2373.5l5.75 10h-11.5zM1450.1 2373.5l5.75 10h-11.5zM1393.2 2373.5l5.75 10h-11.5zM1399.6 2373.5l5.75 10h-11.5zM1427.3 2373.5l5.75 10h-11.5zM1416.8 2373.5l5.75 10h-11.5zM1392.7 2316.1l5.75 10h-11.5zM1399.9 2349.5l5.75 10h-11.5zM1417.6 2332.7l5.75 10h-11.5zM1405.9 2301l5.75 10h-11.5zM1388.1 2308.3l5.75 10h-11.5zM1404.7 2351l5.75 10h-11.5zM1394.7 2347.6l5.75 10h-11.5zM1439.6 2314.5l5.75 10h-11.5zM1429.6 2348l5.75 10h-11.5zM1415.7 2320.3l5.75 10h-11.5zM1390.6 2349.2l5.75 10h-11.5zM1421.6 2296.7l5.75 10h-11.5zM1418.8 2291.3l5.75 10h-11.5zM1453.4 2326.1l5.75 10h-11.5zM1404.8 2310l5.75 10h-11.5zM1419.4 2321.2l5.75 10h-11.5zM1413.3 2292.7l5.75 10h-11.5zM1390.9 2354l5.75 10h-11.5zM1392.9 2291.8l5.75 10h-11.5zM1398.9 2286.6l5.75 10h-11.5zM1411.2 2301.5l5.75 10h-11.5zM1404.1 2317.9l5.75 10h-11.5zM1390.1 2328.4l5.75 10h-11.5zM1383.3 2325.8l5.75 10h-11.5zM1432.3 2336.6l5.75 10h-11.5zM1397.5 2341.3l5.75 10h-11.5zM1386.4 2370.5l5.75 10h-11.5zM1429.2 2336.4l5.75 10h-11.5zM1396.9 2329l5.75 10h-11.5zM1403.7 2356.5l5.75 10h-11.5zM1397.3 2335.9l5.75 10h-11.5zM1427.7 2352.5l5.75 10h-11.5zM1401.8 2327.1l5.75 10h-11.5zM1426.1 2330l5.75 10h-11.5zM1421.6 2371.4l5.75 10h-11.5zM1415.5 2270.6l5.75 10h-11.5zM1386.3 2312.6l5.75 10h-11.5zM1418.3 2360.2l5.75 10h-11.5zM1400.7 2343.4l5.75 10h-11.5zM1431.3 2295.1l5.75 10h-11.5zM1402 2309.4l5.75 10h-11.5zM1388.8 2345l5.75 10h-11.5zM1424.7 2334.6l5.75 10h-11.5zM1412.7 2337.9l5.75 10h-11.5zM1424.3 2359l5.75 10h-11.5zM1440.1 2266.3l5.75 10h-11.5zM1449.7 2303.5l5.75 10h-11.5zM1399.7 2315l5.75 10h-11.5zM1405.1 2302.3l5.75 10h-11.5zM1430 2288.7l5.75 10h-11.5zM1380.4 2354.5l5.75 10h-11.5zM1430.3 2330.4l5.75 10h-11.5zM1408 2350.2l5.75 10h-11.5zM1429.2 2324.1l5.75 10h-11.5zM1416.7 2326.9l5.75 10h-11.5zM1426.5 2327.4l5.75 10h-11.5zM1390 2281.8l5.75 10h-11.5zM1428.6 2343.8l5.75 10h-11.5zM1414.6 2351.3l5.75 10h-11.5zM1407.7 2261.8l5.75 10h-11.5zM1412 2315.4l5.75 10h-11.5zM1411.1 2331.1l5.75 10h-11.5zM1377.7 2335.1l5.75 10h-11.5zM1416.1 2344.2l5.75 10h-11.5zM1442.7 2340.6l5.75 10h-11.5zM1415.5 2357l5.75 10h-11.5zM1399.6 2370.1l5.75 10h-11.5zM1390.8 2339.7l5.75 10h-11.5zM1412 2342.2l5.75 10h-11.5zM1414 2322.5l5.75 10h-11.5z" fill="#2aae80"/>
<path d="M1429.2 2380.2a2.6 2.6 0 1 0 5.2 0a2.6 2.6 0 1 0 -5.2 0zM1425.4 2380.2a2.6 2.6 0 1 0 5.2 0a2.6 2.6 0 1 0 -5.2 0zM1450.9 2380.2a2.6 2.6 0 1 0 5.2 0a2.6 2.6 0 1 0 -5.2 0zM1413.6 2380.2a2.6 2.6 0 1 0 5.2 0a2.6 2.6 0 1 0 -5.2 0zM1434.4 2367.1a2.6 2.6 0 1 0 5.2 0a2.6 2.6 0 1 0 -5.2 0zM1405.2 2276.9a2.6 2.6 0 1 0 5.2 0a2.6 2.6 0 1 0 -5.2 0zM1381.5 2313.5a2.6 2.6 0 1 0 5.2 0a2.6 2.6 0 1 0 -5.2 0zM1391.6 2286.3a2.6 2.6 0 1 0 5.2 0a2.6 2.6 0 1 0 -5.2 0zM1389.8 2259.6a2.6 2.6 0 1 0 5.2 0a2.6 2.6 0 1 0 -5.2 0zM1394.1 2263.7a2.6 2.6 0 1 0 5.2 0a2.6 2.6 0 1 0 -5.2 0zM1439.7 2311.2a2.6 2.6 0 1 0 5.2 0a2.6 2.6 0 1 0 -5.2 0zM1414.7 2374.1a2.6 2.6 0 1 0 5.2 0a2.6 2.6 0 1 0 -5.2 0zM1420 2231.4a2.6 2.6 0 1 0 5.2 0a2.6 2.6 0 1 0 -5.2 0zM1424.7 2246.2a2.6 2.6 0 1 0 5.2 0a2.6 2.6 0 1 0 -5.2 0zM1330.1 2249.8a2.6 2.6 0 1 0 5.2 0a2.6 2.6 0 1 0 -5.2 0zM1452.3 2310a2.6 2.6 0 1 0 5.2 0a2.6 2.6 0 1 0 -5.2 0zM1421 2352.1a2.6 2.6 0 1 0 5.2 0a2.6 2.6 0 1 0 -5.2 0zM1388.7 2326.7a2.6 2.6 0 1 0 5.2 0a2.6 2.6 0 1 0 -5.2 0zM1387.1 2272.6a2.6 2.6 0 1 0 5.2 0a2.6 2.6 0 1 0 -5.2 0zM1408.2 2321.5a2.6 2.6 0 1 0 5.2 0a2.6 2.6 0 1 0 -5.2 0zM1436.3 2251.4a2.6 2.6 0 1 0 5.2 0a2.6 2.6 0 1 0 -5.2 0zM1382 2291.4a2.6 2.6 0 1 0 5.2 0a2.6 2.6 0 1 0 -5.2 0zM1429.4 2250.6a2.6 2.6 0 1 0 5.2 0a2.6 2.6 0 1 0 -5.2 0zM1415.7 2297.7a2.6 2.6 0 1 0 5.2 0a2.6 2.6 0 1 0 -5.2 0zM1366.8 2243.2a2.6 2.6 0 1 0 5.2 0a2.6 2.6 0 1 0 -5.2 0zM1420.4 2335.6a2.6 2.6 0 1 0 5.2 0a2.6 2.6 0 1 0 -5.2 0zM1431.8 2292.4a2.6 2.6 0 1 0 5.2 0a2.6 2.6 0 1 0 -5.2 0zM1404.8 2255.7a2.6 2.6 0 1 0 5.2 0a2.6 2.6 0 1 0 -5.2 0zM1434.6 2267.5a2.6 2.6 0 1 0 5.2 0a2.6 2.6 0 1 0 -5.2 0zM1396.6 2331.7a2.6 2.6 0 1 0 5.2 0a2.6 2.6 0 1 0 -5.2 0zM1371.8 2349.6a2.6 2.6 0 1 0 5.2 0a2.6 2.6 0 1 0 -5.2 0zM1419.2 2241.1a2.6 2.6 0 1 0 5.2 0a2.6 2.6 0 1 0 -5.2 0zM1441.7 2308.1a2.6 2.6 0 1 0 5.2 0a2.6 2.6 0 1 0 -5.2 0zM1433.9 2260.3a2.6 2.6 0 1 0 5.2 0a2.6 2.6 0 1 0 -5.2 0zM1390.4 2282.9a2.6 2.6 0 1 0 5.2 0a2.6 2.6 0 1 0 -5.2 0zM1402.4 2301.4a2.6 2.6 0 1 0 5.2 0a2.6 2.6 0 1 0 -5.2 0zM1398.7 2188.9a2.6 2.6 0 1 0 5.2 0a2.6 2.6 0 1 0 -5.2 0zM1395.6 2212.7a2.6 2.6 0 1 0 5.2 0a2.6 2.6 0 1 0 -5.2 0zM1417.9 2224.1a2.6 2.6 0 1 0 5.2 0a2.6 2.6 0 1 0 -5.2 0z" fill="#440f68"/>
<path d="M1390.8 2373.5l5.75 10h-11.5zM1425.1 2373.5l5.75 10h-11.5zM1403.3 2373.5l5.75 10h-11.5zM1420.4 2373.5l5.75 10h-11.5zM1456.8 2373.5l5.75 10h-11.5zM1417.9 2373.5l5.75 10h-11.5zM1391.4 2373.5l5.75 10h-11.5zM1418.2 2373.5l5.75 10h-11.5zM1393 2373.5l5.75 10h-11.5zM1439.1 2373.5l5.75 10h-11.5zM1432.6 2373.5l5.75 10h-11.5zM1432.8 2373.5l5.75 10h-11.5zM1423.7 2373.5l5.75 10h-11.5zM1423.9 2341.6l5.75 10h-11.5zM1436 2344.5l5.75 10h-11.5zM1404.1 2298.3l5.75 10h-11.5zM1445.2 2290.7l5.75 10h-11.5zM1415.7 2324.9l5.75 10h-11.5zM1395.7 2295.5l5.75 10h-11.5zM1410.1 2260.9l5.75 10h-11.5zM1383.6 2363.6l5.75 10h-11.5zM1413.8 2351.6l5.75 10h-11.5zM1429.2 2319.6l5.75 10h-11.5zM1405 2306.6l5.75 10h-11.5zM1417.5 2366.9l5.75 10h-11.5zM1414.7 2368.7l5.75 10h-11.5zM1394.9 2268l5.75 10h-11.5zM1420.3 2356.4l5.75 10h-11.5zM1415 2348.2l5.75 10h-11.5zM1423.4 2346.2l5.75 10h-11.5zM1392.2 2368.3l5.75 10h-11.5zM1388.6 2346.9l5.75 10h-11.5zM1401.4 2331.7l5.75 10h-11.5zM1415.3 2318.8l5.75 10h-11.5zM1392.3 2305.2l5.75 10h-11.5zM1433.2 2342.7l5.75 10h-11.5zM1428.7 2367.7l5.75 10h-11.5zM1449.7 2350.6l5.75 10h-11.5zM1407.4 2322.8l5.75 10h-11.5zM1404.6 2365.5l5.75 10h-11.5zM1436.7 2333.4l5.75 10h-11.5zM1393.4 2306l5.75 10h-11.5zM1404.9 2347.2l5.75 10h-11.5zM1411.2 2355.2l5.75 10h-11.5zM1412.8 2345.5l5.75 10h-11.5zM1409 2325.2l5.75 10h-11.5zM1412 2319.4l5.75 10h-11.5zM1440.4 2310.3l5.75 10h-11.5zM1424.9 2328.7l5.75 10h-11.5zM1428.9 2299.6l5.75 10h-11.5zM1411.1 2371.9l5.75 10h-11.5zM1440.9 2361.8l5.75 10h-11.5zM1441.2 2343.7l5.75 10h-11.5zM1421.1 2337.3l5.75 10h-11.5zM1431.8 2333.8l5.75 10h-11.5zM1438.4 2293.9l5.75 10h-11.5zM1401.3 2348.5l5.75 10h-11.5zM1415.5 2358.3l5.75 10h-11.5zM1411.8 2323.8l5.75 10h-11.5zM1436.8 2352l5.75 10h-11.5zM1422.2 2364.5l5.75 10h-11.5zM1413 2329.4l5.75 10h-11.5zM1399 2366.2l5.75 10h-11.5zM1411.6 2317.4l5.75 10h-11.5zM1416 2340.4l5.75 10h-11.5zM1407.4 2307.4l5.75 10h-11.5zM1398.6 2352.8l5.75 10h-11.5zM1414.7 2357.9l5.75 10h-11.5zM1430.7 2335.6l5.75 10h-11.5zM1406.1 2332.4l5.75 10h-11.5zM1407.5 2283.2l5.75 10h-11.5zM1446.7 2316.9l5.75 10h-11.5zM1427.6 2355.5l5.75 10h-11.5zM1414.9 2325.4l5.75 10h-11.5zM1384.2 2263.5l5.75 10h-11.5zM1435.2 2338.9l5.75 10h-11.5zM1402.5 2332.9l5.75 10h-11.5zM1416.1 2289.7l5.75 10h-11.5zM1393.9 2276.2l5.75 10h-11.5zM1425.5 2354.2l5.75 10h-11.5zM1429.6 2357.2l5.75 10h-11.5zM1407.3 2329.8l5.75 10h-11.5zM1404.8 2339.2l5.75 10h-11.5zM1421.8 2346.7l5.75 10h-11.5z" fill="#2aae80"/>
<path d="M1443.2 2380.2a2.6 2.6 0 1 0 5.2 0a2.6 2.6 0 1 0 -5.2 0zM1441.8 2380.2a2.6 2.6 0 1 0 5.2 0a2.6 2.6 0 1 0 -5.2 0zM1405.5 2380.2a2.6 2.6 0 1 0 5.2 0a2.6 2.6 0 1 0 -5.2 0zM1423 2380.2a2.6 2.6 0 1 0 5.2 0a2.6 2.6 0 1 0 -5.2 0zM1427.2 2254.9a2.6 2.6 0 1 0 5.2 0a2.6 2.6 0 1 0 -5.2 0zM1406.4 2278.4a2.6 2.6 0 1 0 5.2 0a2.6 2.6 0 1 0 -5.2 0zM1415.1 2322.8a2.6 2.6 0 1 0 5.2 0a2.6 2.6 0 1 0 -5.2 0zM1386.8 2262.9a2.6 2.6 0 1 0 5.2 0a2.6 2.6 0 1 0 -5.2 0zM1417.9 2315.4a2.6 2.6 0 1 0 5.2 0a2.6 2.6 0 1 0 -5.2 0zM1393.7 2288.4a2.6 2.6 0 1 0 5.2 0a2.6 2.6 0 1 0 -5.2 0zM1360.3 2271.9a2.6 2.6 0 1 0 5.2 0a2.6 2.6 0 1 0 -5.2 0zM1439.8 2287a2.6 2.6 0 1 0 5.2 0a2.6 2.6 0 1 0 -5.2 0zM1386.2 2347.2a2.6 2.6 0 1 0 5.2 0a2.6 2.6 0 1 0 -5.2 0zM1419.1 2341.9a2.6 2.6 0 1 0 5.2 0a2.6 2.6 0 1 0 -5.2 0zM1391.4 2376.2a2.6 2.6 0 1 0 5.2 0a2.6 2.6 0 1 0 -5.2 0zM1389.1 2273.8a2.6 2.6 0 1 0 5.2 0a2.6 2.6 0 1 0 -5.2 0zM1423 2356.6a2.6 2.6 0 1 0 5.2 0a2.6 2.6 0 1 0 -5.2 0zM1400.5 2334a2.6 2.6 0 1 0 5.2 0a2.6 2.6 0 1 0 -5.2 0zM1404 2289.5a2.6 2.6 0 1 0 5.2 0a2.6 2.6 0 1 0 -5.2 0zM1396.3 2280.9a2.6 2.6 0 1 0 5.2 0a2.6 2.6 0 1 0 -5.2 0zM1405.2 2256.8a2.6 2.6 0 1 0 5.2 0a2.6 2.6 0 1 0 -5.2 0zM1398.1 2344.8a2.6 2.6 0 1 0 5.2 0a2.6 2.6 0 1 0 -5.2 0zM1379 2372.7a2.6 2.6 0 1 0 5.2 0a2.6 2.6 0 1 0 -5.2 0zM1431.5 2254.1a2.6 2.6 0 1 0 5.2 0a2.6 2.6 0 1 0 -5.2 0zM1375.2 2329a2.6 2.6 0 1 0 5.2 0a2.6 2.6 0 1 0 -5.2 0zM1394.3 2258a2.6 2.6 0 1 0 5.2 0a2.6 2.6 0 1 0 -5.2 0zM1419.6 2265.7a2.6 2.6 0 1 0 5.2 0a2.6 2.6 0 1 0 -5.2 0zM1409.9 2279.2a2.6 2.6 0 1 0 5.2 0a2.6 2.6 0 1 0 -5.2 0zM1408.5 2276a2.6 2.6 0 1 0 5.2 0a2.6 2.6 0 1 0 -5.2 0zM1384.9 2261.3a2.6 2.6 0 1 0 5.2 0a2.6 2.6 0 1 0 -5.2 0zM1356.6 2366.2a2.6 2.6 0 1 0 5.2 0a2.6 2.6 0 1 0 -5.2 0zM1407.4 2269.6a2.6 2.6 0 1 0 5.2 0a2.6 2.6 0 1 0 -5.2 0zM1414 2340a2.6 2.6 0 1 0 5.2 0a2.6 2.6 0 1 0 -5.2 0zM1405 2245.3a2.6 2.6 0 1 0 5.2 0a2.6 2.6 0 1 0 -5.2 0zM1392.1 2244.2a2.6 2.6 0 1 0 5.2 0a2.6 2.6 0 1 0 -5.2 0zM1417.2 2173.2a2.6 2.6 0 1 0 5.2 0a2.6 2.6 0 1 0 -5.2 0zM1397.2 2192.8a2.6 2.6 0 1 0 5.2 0a2.6 2.6 0 1 0 -5.2 0zM1370.9 2215a2.6 2.6 0 1 0 5.2 0a2.6 2.6 0 1 0 -5.2 0zM1378.5 2224.1a2.6 2.6 0 1 0 5.2 0a2.6 2.6 0 1 0 -5.2 0z" fill="#440f68"/>
<path d="M1432.1 2373.5l5.75 10h-11.5zM1416.6 2373.5l5.75 10h-11.5zM1395.4 2373.5l5.75 10h-11.5zM1403.2 2373.5l5.75 10h-11.5zM1396.5 2373.5l5.75 10h-11.5zM1421.8 2373.5l5.75 10h-11.5zM1397.9 2373.5l5.75 10h-11.5zM1390.1 2373.5l5.75 10h-11.5zM1413.7 2373.5l5.75 10h-11.5zM1428.8 2373.5l5.75 10h-11.5zM1400.5 2373.5l5.75 10h-11.5zM1409.8 2373.5l5.75 10h-11.5zM1402.7 2373.5l5.75 10h-11.5zM1412.4 2337l5.75 10h-11.5zM1403.7 2369.4l5.75 10h-11.5zM1429.9 2272.4l5.75 10h-11.5zM1387.5 2321.6l5.75 10h-11.5zM1408.9 2361l5.75 10h-11.5zM1403.7 2320.8l5.75 10h-11.5zM1408.1 2332l5.75 10h-11.5zM1436.4 2327.9l5.75 10h-11.5zM1431.9 2298.8l5.75 10h-11.5zM1402.3 2328.1l5.75 10h-11.5zM1385.5 2362.3l5.75 10h-11.5zM1413.5 2338.6l5.75 10h-11.5zM1416.4 2279.8l5.75 10h-11.5zM1400.4 2258.2l5.75 10h-11.5zM1435.6 2373.2l5.75 10h-11.5zM1437.8 2289.2l5.75 10h-11.5zM1429.6 2353.4l5.75 10h-11.5zM1390.6 2338.3l5.75 10h-11.5zM1376.9 2323.4l5.75 10h-11.5zM1442.9 2274.7l5.75 10h-11.5zM1410.4 2353.6l5.75 10h-11.5zM1422.5 2321.8l5.75 10h-11.5zM1418.3 2303.8l5.75 10h-11.5zM1391.8 2297.8l5.75 10h-11.5zM1424.5 2312.8l5.75 10h-11.5zM1406.7 2334.1l5.75 10h-11.5zM1403.2 2323.1l5.75 10h-11.5zM1396.4 2372.5l5.75 10h-11.5zM1415.5 2300.3l5.75 10h-11.5zM1410.6 2356l5.75 10h-11.5zM1408 2296.1l5.75 10h-11.5zM1414.1 2324.4l5.75 10h-11.5zM1392.1 2337.7l5.75 10h-11.5zM1409.2 2331.5l5.75 10h-11.5zM1421.1 2335.4l5.75 10h-11.5zM1409.2 2359.5l5.75 10h-11.5zM1425.9 2341.8l5.75 10h-11.5zM1410 2350l5.75 10h-11.5zM1439.9 2334.4l5.75 10h-11.5zM1406.6 2302.6l5.75 10h-11.5zM1415.3 2354.8l5.75 10h-11.5zM1426.9 2294.4l5.75 10h-11.5zM1412.6 2363l5.75 10h-11.5zM1413.7 2358.6l5.75 10h-11.5zM1440.3 2318.3l5.75 10h-11.5zM1446.3 2357.7l5.75 10h-11.5zM1395.3 2322.2l5.75 10h-11.5zM1442.8 2326.5l5.75 10h-11.5zM1400.4 2269.7l5.75 10h-11.5zM1398.2 2352.2l5.75 10h-11.5zM1409.4 2345.9l5.75 10h-11.5zM1393.4 2364.9l5.75 10h-11.5zM1421.7 2318.6l5.75 10h-11.5zM1391.4 2340l5.75 10h-11.5zM1393.6 2285.3l5.75 10h-11.5zM1414.9 2349l5.75 10h-11.5zM1379.7 2360.8l5.75 10h-11.5zM1416.7 2320.5l5.75 10h-11.5zM1413.3 2330.6l5.75 10h-11.5zM1417 2340.9l5.75 10h-11.5zM1440.6 2342.9l5.75 10h-11.5zM1440 2308.1l5.75 10h-11.5zM1403.3 2311.7l5.75 10h-11.5zM1387.6 2304.8l5.75 10h-11.5zM1406 2313.6l5.75 10h-11.5zM1390.2 2319.9l5.75 10h-11.5zM1415 2345.2l5.75 10h-11.5zM1376.9 2293.3l5.75 10h-11.5zM1380.5 2277.9l5.75 10h-11.5zM1409.1 2311l5.75 10h-11.5z" fill="#2aae80"/>
<path d="M1420.2 2380.2a2.6 2.6 0 1 0 5.2 0a2.6 2.6 0 1 0 -5.2 0zM1360 2380.2a2.6 2.6 0 1 0 5.2 0a2.6 2.6 0 1 0 -5.2 0zM1367.1 2380.2a2.6 2.6 0 1 0 5.2 0a2.6 2.6 0 1 0 -5.2 0zM1392.6 2380.2a2.6 2.6 0 1 0 5.2 0a2.6 2.6 0 1 0 -5.2 0zM1460.5 2270.6a2.6 2.6 0 1 0 5.2 0a2.6 2.6 0 1 0 -5.2 0zM1394.9 2234.4a2.6 2.6 0 1 0 5.2 0a2.6 2.6 0 1 0 -5.2 0zM1456.9 2281.8a2.6 2.6 0 1 0 5.2 0a2.6 2.6 0 1 0 -5.2 0zM1409.4 2247.3a2.6 2.6 0 1 0 5.2 0a2.6 2.6 0 1 0 -5.2 0zM1400.2 2354.4a2.6 2.6 0 1 0 5.2 0a2.6 2.6 0 1 0 -5.2 0zM1407.3 2299a2.6 2.6 0 1 0 5.2 0a2.6 2.6 0 1 0 -5.2 0zM1450.3 2336.4a2.6 2.6 0 1 0 5.2 0a2.6 2.6 0 1 0 -5.2 0zM1427.1 2338.5a2.6 2.6 0 1 0 5.2 0a2.6 2.6 0 1 0 -5.2 0zM1386 2303.3a2.6 2.6 0 1 0 5.2 0a2.6 2.6 0 1 0 -5.2 0zM1454.5 2362.6a2.6 2.6 0 1 0 5.2 0a2.6 2.6 0 1 0 -5.2 0zM1344.5 2316.8a2.6 2.6 0 1 0 5.2 0a2.6 2.6 0 1 0 -5.2 0zM1371 2370.3a2.6 2.6 0 1 0 5.2 0a2.6 2.6 0 1 0 -5.2 0zM1375.7 2378.9a2.6 2.6 0 1 0 5.2 0a2.6 2.6 0 1 0 -5.2 0zM1441.3 2304.2a2.6 2.6 0 1 0 5.2 0a2.6 2.6 0 1 0 -5.2 0zM1428.6 2294.2a2.6 2.6 0 1 0 5.2 0a2.6 2.6 0 1 0 -5.2 0zM1407.5 2330.7a2.6 2.6 0 1 0 5.2 0a2.6 2.6 0 1 0 -5.2 0zM1429 2319.9a2.6 2.6 0 1 0 5.2 0a2.6 2.6 0 1 0 -5.2 0zM1390.2 2268.4a2.6 2.6 0 1 0 5.2 0a2.6 2.6 0 1 0 -5.2 0zM1365.8 2306.9a2.6 2.6 0 1 0 5.2 0a2.6 2.6 0 1 0 -5.2 0zM1455.4 2265.2a2.6 2.6 0 1 0 5.2 0a2.6 2.6 0 1 0 -5.2 0zM1435.6 2274.9a2.6 2.6 0 1 0 5.2 0a2.6 2.6 0 1 0 -5.2 0zM1411.9 2295.6a2.6 2.6 0 1 0 5.2 0a2.6 2.6 0 1 0 -5.2 0zM1363.1 2360.4a2.6 2.6 0 1 0 5.2 0a2.6 2.6 0 1 0 -5.2 0zM1431.9 2285a2.6 2.6 0 1 0 5.2 0a2.6 2.6 0 1 0 -5.2 0zM1418.3 2253a2.6 2.6 0 1 0 5.2 0a2.6 2.6 0 1 0 -5.2 0zM1411 2284.3a2.6 2.6 0 1 0 5.2 0a2.6 2.6 0 1 0 -5.2 0zM1373 2248.2a2.6 2.6 0 1 0 5.2 0a2.6 2.6 0 1 0 -5.2 0zM1402.9 2318.2a2.6 2.6 0 1 0 5.2 0a2.6 2.6 0 1 0 -5.2 0zM1397.7 2236.5a2.6 2.6 0 1 0 5.2 0a2.6 2.6 0 1 0 -5.2 0zM1366.9 2325.1a2.6 2.6 0 1 0 5.2 0a2.6 2.6 0 1 0 -5.2 0zM1411.5 2358.6a2.6 2.6 0 1 0 5.2 0a2.6 2.6 0 1 0 -5.2 0zM1405.3 2186.6a2.6 2.6 0 1 0 5.2 0a2.6 2.6 0 1 0 -5.2 0zM1400.9 2208.5a2.6 2.6 0 1 0 5.2 0a2.6 2.6 0 1 0 -5.2 0zM1385.8 2216.9a2.6 2.6 0 1 0 5.2 0a2.6 2.6 0 1 0 -5.2 0zM1436.9 2225.4a2.6 2.6 0 1 0 5.2 0a2.6 2.6 0 1 0 -5.2 0z" fill="#440f68"/>
<path d="M1319.3 2297 L1324.7 2298.8 L1330 2300.5 L1335.4 2302.3 L1340.7 2304.1 L1346.1 2305.8 L1351.4 2307.6 L1356.8 2309.3 L1362.1 2311.1 L1367.5 2312.8 L1372.8 2314.5 L1378.2 2316.1 L1383.5 2317.8 L1388.9 2319.3 L1394.2 2320.8 L1399.6 2322.1 L1404.9 2323.1 L1410.3 2323.7 L1415.6 2323.8 L1421 2323.7 L1426.3 2323.2 L1431.7 2322.6 L1437 2322 L1442.4 2321.2 L1447.7 2320.4 L1453.1 2319.6 L1458.4 2318.8 L1463.8 2318 L1469.1 2317.1 L1474.5 2316.3 L1474.5 2349.9 L1469.1 2348.1 L1463.8 2346.4 L1458.4 2344.7 L1453.1 2342.9 L1447.7 2341.2 L1442.4 2339.6 L1437 2337.9 L1431.7 2336.3 L1426.3 2334.9 L1421 2333.5 L1415.6 2332.4 L1410.3 2331.7 L1404.9 2331.4 L1399.6 2331.5 L1394.2 2331.9 L1388.9 2332.4 L1383.5 2333.1 L1378.2 2333.8 L1372.8 2334.6 L1367.5 2335.4 L1362.1 2336.2 L1356.8 2337 L1351.4 2337.8 L1346.1 2338.7 L1340.7 2339.5 L1335.4 2340.4 L1330 2341.3 L1324.7 2342.1 L1319.3 2343 Z" fill="#999" fill-opacity="0.4"/>
<path d="M1319.3 2320 L1474.5 2333.1" stroke="#000" stroke-width="4.2"/>
<text x="1590.6" y="2335.5" font-size="23" style="fill:#000;stroke:#000">n.s.</text>
<text x="1590.6" y="2361.7" font-size="23" style="fill:#45105f;stroke:#45105f">n.s.</text>
<text x="1590.6" y="2387.9" font-size="23" style="fill:#24a884;stroke:#24a884">n.s.</text>
<path d="M166.8 822 V1125.5" stroke="#000" stroke-width="3.6"/>
<path d="M158.3 1098.2 H166.8" stroke="#333" stroke-width="3.4"/>
<text x="152.7" y="1107.2" text-anchor="end" font-size="22.3">100</text>
<path d="M158.3 1032.9 H166.8" stroke="#333" stroke-width="3.4"/>
<text x="152.7" y="1041.9" text-anchor="end" font-size="22.3">1,000</text>
<path d="M158.3 967.6 H166.8" stroke="#333" stroke-width="3.4"/>
<text x="152.7" y="976.6" text-anchor="end" font-size="22.3">10,000</text>
<path d="M158.3 902.3 H166.8" stroke="#333" stroke-width="3.4"/>
<text x="152.7" y="911.3" text-anchor="end" font-size="22.3">100,000</text>
<rect x="1693.2" y="823.2" width="52.8" height="301.1" fill="#fff" stroke="#000" stroke-width="3.5"/>
<text transform="translate(1710 971) rotate(90)" text-anchor="middle" font-size="27.2">RBD</text>
<path d="M166.8 1142.5 V1446" stroke="#000" stroke-width="3.6"/>
<path d="M158.3 1418.7 H166.8" stroke="#333" stroke-width="3.4"/>
<text x="152.7" y="1427.7" text-anchor="end" font-size="22.3">100</text>
<path d="M158.3 1353.4 H166.8" stroke="#333" stroke-width="3.4"/>
<text x="152.7" y="1362.4" text-anchor="end" font-size="22.3">1,000</text>
<path d="M158.3 1288.1 H166.8" stroke="#333" stroke-width="3.4"/>
<text x="152.7" y="1297.1" text-anchor="end" font-size="22.3">10,000</text>
<path d="M158.3 1222.8 H166.8" stroke="#333" stroke-width="3.4"/>
<text x="152.7" y="1231.8" text-anchor="end" font-size="22.3">100,000</text>
<rect x="1693.2" y="1143.7" width="52.8" height="301.1" fill="#fff" stroke="#000" stroke-width="3.5"/>
<text transform="translate(1710 1291.5) rotate(90)" text-anchor="middle" font-size="27.2">S1</text>
<path d="M166.8 1463 V1766.5" stroke="#000" stroke-width="3.6"/>
<path d="M158.3 1739.2 H166.8" stroke="#333" stroke-width="3.4"/>
<text x="152.7" y="1748.2" text-anchor="end" font-size="22.3">100</text>
<path d="M158.3 1673.9 H166.8" stroke="#333" stroke-width="3.4"/>
<text x="152.7" y="1682.9" text-anchor="end" font-size="22.3">1,000</text>
<path d="M158.3 1608.6 H166.8" stroke="#333" stroke-width="3.4"/>
<text x="152.7" y="1617.6" text-anchor="end" font-size="22.3">10,000</text>
<path d="M158.3 1543.3 H166.8" stroke="#333" stroke-width="3.4"/>
<text x="152.7" y="1552.3" text-anchor="end" font-size="22.3">100,000</text>
<rect x="1693.2" y="1464.2" width="52.8" height="301.1" fill="#fff" stroke="#000" stroke-width="3.5"/>
<text transform="translate(1710 1612) rotate(90)" text-anchor="middle" font-size="27.2">S2</text>
<path d="M166.8 1783.5 V2087" stroke="#000" stroke-width="3.6"/>
<path d="M158.3 2059.7 H166.8" stroke="#333" stroke-width="3.4"/>
<text x="152.7" y="2068.7" text-anchor="end" font-size="22.3">100</text>
<path d="M158.3 1994.4 H166.8" stroke="#333" stroke-width="3.4"/>
<text x="152.7" y="2003.4" text-anchor="end" font-size="22.3">1,000</text>
<path d="M158.3 1929.1 H166.8" stroke="#333" stroke-width="3.4"/>
<text x="152.7" y="1938.1" text-anchor="end" font-size="22.3">10,000</text>
<path d="M158.3 1863.8 H166.8" stroke="#333" stroke-width="3.4"/>
<text x="152.7" y="1872.8" text-anchor="end" font-size="22.3">100,000</text>
<rect x="1693.2" y="1784.7" width="52.8" height="301.1" fill="#fff" stroke="#000" stroke-width="3.5"/>
<text transform="translate(1710 1932.5) rotate(90)" text-anchor="middle" font-size="27.2">N</text>
<path d="M166.8 2104 V2407.5" stroke="#000" stroke-width="3.6"/>
<path d="M158.3 2380.2 H166.8" stroke="#333" stroke-width="3.4"/>
<text x="152.7" y="2389.2" text-anchor="end" font-size="22.3">100</text>
<path d="M158.3 2314.9 H166.8" stroke="#333" stroke-width="3.4"/>
<text x="152.7" y="2323.9" text-anchor="end" font-size="22.3">1,000</text>
<path d="M158.3 2249.6 H166.8" stroke="#333" stroke-width="3.4"/>
<text x="152.7" y="2258.6" text-anchor="end" font-size="22.3">10,000</text>
<path d="M158.3 2184.3 H166.8" stroke="#333" stroke-width="3.4"/>
<text x="152.7" y="2193.3" text-anchor="end" font-size="22.3">100,000</text>
<rect x="1693.2" y="2105.2" width="52.8" height="301.1" fill="#fff" stroke="#000" stroke-width="3.5"/>
<text transform="translate(1710 2253.1) rotate(90)" text-anchor="middle" font-size="27.2">HKU1</text>
<rect x="166.8" y="765.5" width="496" height="56.5" fill="#fff" stroke="#000" stroke-width="3.5"/>
<text x="412.8" y="802.2" text-anchor="middle" font-size="27">IgG</text>
<path d="M165 2407.5 H662.8" stroke="#000" stroke-width="3.6"/>
<path d="M251 2407.5 V2416" stroke="#333" stroke-width="3.4"/>
<text x="244.5" y="2441.6" text-anchor="middle" font-size="22.3">0.1</text>
<path d="M328.9 2407.5 V2416" stroke="#333" stroke-width="3.4"/>
<text x="326.4" y="2441.6" text-anchor="middle" font-size="22.3">1</text>
<path d="M406.8 2407.5 V2416" stroke="#333" stroke-width="3.4"/>
<text x="403.3" y="2441.6" text-anchor="middle" font-size="22.3">10</text>
<path d="M484.7 2407.5 V2416" stroke="#333" stroke-width="3.4"/>
<text x="478.7" y="2441.6" text-anchor="middle" font-size="22.3">100</text>
<path d="M562.6 2407.5 V2416" stroke="#333" stroke-width="3.4"/>
<text x="557.1" y="2441.6" text-anchor="middle" font-size="22.3">1,000</text>
<rect x="681.1" y="765.5" width="496" height="56.5" fill="#fff" stroke="#000" stroke-width="3.5"/>
<text x="927.1" y="802.2" text-anchor="middle" font-size="27">IgA</text>
<path d="M679.3 2407.5 H1177.1" stroke="#000" stroke-width="3.6"/>
<path d="M765.3 2407.5 V2416" stroke="#333" stroke-width="3.4"/>
<text x="758.8" y="2441.6" text-anchor="middle" font-size="22.3">0.1</text>
<path d="M843.2 2407.5 V2416" stroke="#333" stroke-width="3.4"/>
<text x="840.7" y="2441.6" text-anchor="middle" font-size="22.3">1</text>
<path d="M921.1 2407.5 V2416" stroke="#333" stroke-width="3.4"/>
<text x="917.6" y="2441.6" text-anchor="middle" font-size="22.3">10</text>
<path d="M999 2407.5 V2416" stroke="#333" stroke-width="3.4"/>
<text x="993" y="2441.6" text-anchor="middle" font-size="22.3">100</text>
<path d="M1076.9 2407.5 V2416" stroke="#333" stroke-width="3.4"/>
<text x="1071.4" y="2441.6" text-anchor="middle" font-size="22.3">1,000</text>
<rect x="1195.4" y="765.5" width="496" height="56.5" fill="#fff" stroke="#000" stroke-width="3.5"/>
<text x="1441.4" y="802.2" text-anchor="middle" font-size="27">IgM</text>
<path d="M1193.6 2407.5 H1691.4" stroke="#000" stroke-width="3.6"/>
<path d="M1279.6 2407.5 V2416" stroke="#333" stroke-width="3.4"/>
<text x="1273.1" y="2441.6" text-anchor="middle" font-size="22.3">0.1</text>
<path d="M1357.5 2407.5 V2416" stroke="#333" stroke-width="3.4"/>
<text x="1355" y="2441.6" text-anchor="middle" font-size="22.3">1</text>
<path d="M1435.4 2407.5 V2416" stroke="#333" stroke-width="3.4"/>
<text x="1431.9" y="2441.6" text-anchor="middle" font-size="22.3">10</text>
<path d="M1513.3 2407.5 V2416" stroke="#333" stroke-width="3.4"/>
<text x="1507.3" y="2441.6" text-anchor="middle" font-size="22.3">100</text>
<path d="M1591.2 2407.5 V2416" stroke="#333" stroke-width="3.4"/>
<text x="1585.7" y="2441.6" text-anchor="middle" font-size="22.3">1,000</text>
<text x="904.5" y="2479.7" text-anchor="middle" font-size="25">MFI−FOE</text>
<text transform="translate(38.8 1592.3) rotate(-90)" text-anchor="middle" font-size="26.5">Neutralization titer (NT50)</text>
<text x="-0.5" y="784.8" font-size="29.2">b</text>
<circle cx="789.2" cy="2536" r="9.4" fill="#440f68"/>
<text x="817.5" y="2544.6" font-size="27">Early</text>
<path d="M993.2 2521.5 L1007.6 2546.5 H978.8 Z" fill="#52c29a"/>
<text x="1039.5" y="2544.6" font-size="27">Late</text>
</g>
</svg>
</body></html>
